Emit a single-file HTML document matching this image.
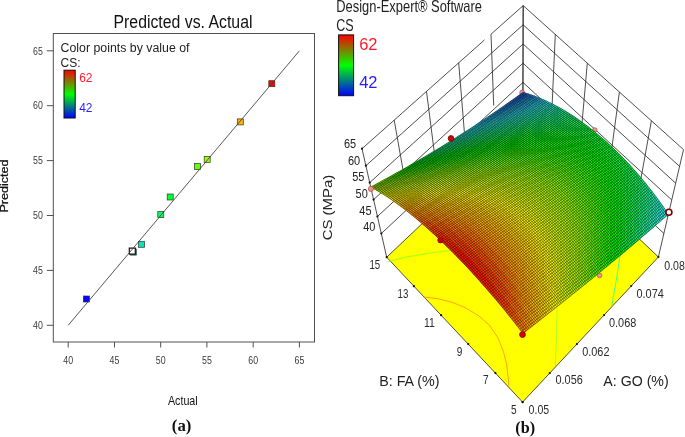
<!DOCTYPE html>
<html><head><meta charset="utf-8"><title>Predicted vs. Actual</title><style>html,body{margin:0;padding:0;background:#fff}svg{display:block}</style></head><body>
<svg width="685" height="437" viewBox="0 0 685 437">
<rect width="685" height="437" fill="#fff"/>
<rect x="53.3" y="33.5" width="261.2" height="308.5" fill="#fff" stroke="#505050" stroke-width="1"/>
<line x1="46.8" y1="325.3" x2="53.3" y2="325.3" stroke="#505050" stroke-width="1"/>
<text x="42.8" y="329.0" font-size="10.3" fill="#3a3a3a" text-anchor="end" font-family="Liberation Sans, Arial, sans-serif" textLength="9.8" lengthAdjust="spacingAndGlyphs" >40</text>
<line x1="68.2" y1="342" x2="68.2" y2="347.5" stroke="#505050" stroke-width="1"/>
<text x="68.2" y="364" font-size="10.3" fill="#3a3a3a" text-anchor="middle" font-family="Liberation Sans, Arial, sans-serif" textLength="9.8" lengthAdjust="spacingAndGlyphs" >40</text>
<line x1="46.8" y1="270.4" x2="53.3" y2="270.4" stroke="#505050" stroke-width="1"/>
<text x="42.8" y="274.09999999999997" font-size="10.3" fill="#3a3a3a" text-anchor="end" font-family="Liberation Sans, Arial, sans-serif" textLength="9.8" lengthAdjust="spacingAndGlyphs" >45</text>
<line x1="114.5" y1="342" x2="114.5" y2="347.5" stroke="#505050" stroke-width="1"/>
<text x="114.45" y="364" font-size="10.3" fill="#3a3a3a" text-anchor="middle" font-family="Liberation Sans, Arial, sans-serif" textLength="9.8" lengthAdjust="spacingAndGlyphs" >45</text>
<line x1="46.8" y1="215.5" x2="53.3" y2="215.5" stroke="#505050" stroke-width="1"/>
<text x="42.8" y="219.2" font-size="10.3" fill="#3a3a3a" text-anchor="end" font-family="Liberation Sans, Arial, sans-serif" textLength="9.8" lengthAdjust="spacingAndGlyphs" >50</text>
<line x1="160.7" y1="342" x2="160.7" y2="347.5" stroke="#505050" stroke-width="1"/>
<text x="160.7" y="364" font-size="10.3" fill="#3a3a3a" text-anchor="middle" font-family="Liberation Sans, Arial, sans-serif" textLength="9.8" lengthAdjust="spacingAndGlyphs" >50</text>
<line x1="46.8" y1="160.6" x2="53.3" y2="160.6" stroke="#505050" stroke-width="1"/>
<text x="42.8" y="164.29999999999998" font-size="10.3" fill="#3a3a3a" text-anchor="end" font-family="Liberation Sans, Arial, sans-serif" textLength="9.8" lengthAdjust="spacingAndGlyphs" >55</text>
<line x1="206.9" y1="342" x2="206.9" y2="347.5" stroke="#505050" stroke-width="1"/>
<text x="206.95" y="364" font-size="10.3" fill="#3a3a3a" text-anchor="middle" font-family="Liberation Sans, Arial, sans-serif" textLength="9.8" lengthAdjust="spacingAndGlyphs" >55</text>
<line x1="46.8" y1="105.7" x2="53.3" y2="105.7" stroke="#505050" stroke-width="1"/>
<text x="42.8" y="109.39999999999999" font-size="10.3" fill="#3a3a3a" text-anchor="end" font-family="Liberation Sans, Arial, sans-serif" textLength="9.8" lengthAdjust="spacingAndGlyphs" >60</text>
<line x1="253.2" y1="342" x2="253.2" y2="347.5" stroke="#505050" stroke-width="1"/>
<text x="253.2" y="364" font-size="10.3" fill="#3a3a3a" text-anchor="middle" font-family="Liberation Sans, Arial, sans-serif" textLength="9.8" lengthAdjust="spacingAndGlyphs" >60</text>
<line x1="46.8" y1="50.8" x2="53.3" y2="50.8" stroke="#505050" stroke-width="1"/>
<text x="42.8" y="54.500000000000014" font-size="10.3" fill="#3a3a3a" text-anchor="end" font-family="Liberation Sans, Arial, sans-serif" textLength="9.8" lengthAdjust="spacingAndGlyphs" >65</text>
<line x1="299.4" y1="342" x2="299.4" y2="347.5" stroke="#505050" stroke-width="1"/>
<text x="299.45" y="364" font-size="10.3" fill="#3a3a3a" text-anchor="middle" font-family="Liberation Sans, Arial, sans-serif" textLength="9.8" lengthAdjust="spacingAndGlyphs" >65</text>
<text x="183" y="27.5" font-size="17.5" fill="#111" text-anchor="middle" font-family="Liberation Sans, Arial, sans-serif" textLength="139" lengthAdjust="spacingAndGlyphs" >Predicted vs. Actual</text>
<text x="60.5" y="52.2" font-size="12.5" fill="#222" text-anchor="start" font-family="Liberation Sans, Arial, sans-serif" textLength="129" lengthAdjust="spacingAndGlyphs" >Color points by value of</text>
<text x="60.5" y="66.9" font-size="12.5" fill="#222" text-anchor="start" font-family="Liberation Sans, Arial, sans-serif" textLength="20" lengthAdjust="spacingAndGlyphs" >CS:</text>
<defs><linearGradient id="lg" x1="0" y1="0" x2="0" y2="1"><stop offset="0" stop-color="#ff0000"/><stop offset="0.5" stop-color="#00ff00"/><stop offset="1" stop-color="#0000ff"/></linearGradient></defs>
<rect x="64" y="70.2" width="11.2" height="47.8" fill="url(#lg)" stroke="#111" stroke-width="1"/>
<text x="79.2" y="81.9" font-size="12.2" fill="#ff1a2a" text-anchor="start" font-family="Liberation Sans, Arial, sans-serif" textLength="13.3" lengthAdjust="spacingAndGlyphs" >62</text>
<text x="79.2" y="111.8" font-size="12.2" fill="#2a1aff" text-anchor="start" font-family="Liberation Sans, Arial, sans-serif" textLength="13.3" lengthAdjust="spacingAndGlyphs" >42</text>
<rect x="83.4" y="296.0" width="6" height="6" fill="#0000ff" stroke="#333" stroke-width="0.7"/>
<rect x="130.3" y="249.1" width="6" height="6" fill="#00b4b4" stroke="#333" stroke-width="0.7"/>
<rect x="138.6" y="241.3" width="6" height="6" fill="#00e6b4" stroke="#333" stroke-width="0.7"/>
<rect x="157.8" y="211.6" width="6" height="6" fill="#00ff66" stroke="#333" stroke-width="0.7"/>
<rect x="167.2" y="194.0" width="6" height="6" fill="#00ff33" stroke="#333" stroke-width="0.7"/>
<rect x="194.5" y="163.6" width="6" height="6" fill="#66ff00" stroke="#333" stroke-width="0.7"/>
<rect x="204.2" y="156.6" width="6" height="6" fill="#99ff00" stroke="#333" stroke-width="0.7"/>
<rect x="237.3" y="118.9" width="6" height="6" fill="#ffb300" stroke="#333" stroke-width="0.7"/>
<rect x="268.8" y="80.7" width="6" height="6" fill="#ff0000" stroke="#333" stroke-width="0.7"/>
<rect x="129.3" y="248.1" width="6" height="6" fill="#fff" stroke="#111" stroke-width="1.2"/>
<line x1="68.2" y1="325.3" x2="299.4" y2="50.8" stroke="#444" stroke-width="0.9"/>
<text x="182.8" y="404.8" font-size="12.4" fill="#111" text-anchor="middle" font-family="Liberation Sans, Arial, sans-serif" textLength="29.8" lengthAdjust="spacingAndGlyphs" >Actual</text>
<text transform="translate(7.7,186) rotate(-90) scale(1,0.86)" font-size="12.4" fill="#111" stroke="#111" stroke-width="0.3" text-anchor="middle" font-family="Liberation Sans, Arial, sans-serif" textLength="53.2" lengthAdjust="spacingAndGlyphs">Predicted</text>
<text x="181.6" y="430.6" font-size="16.8" fill="#111" text-anchor="middle" font-family="Liberation Serif, Times New Roman, serif" font-weight="bold" >(a)</text>
<text x="336.3" y="12.1" font-size="16.5" fill="#222" text-anchor="start" font-family="Liberation Sans, Arial, sans-serif" textLength="145.7" lengthAdjust="spacingAndGlyphs" >Design-Expert® Software</text>
<text x="336.3" y="31" font-size="16.5" fill="#222" text-anchor="start" font-family="Liberation Sans, Arial, sans-serif" textLength="17.4" lengthAdjust="spacingAndGlyphs" >CS</text>
<rect x="338.6" y="34.9" width="15" height="60.8" fill="url(#lg)" stroke="#111" stroke-width="1"/>
<text x="359.2" y="49.5" font-size="16" fill="#ff1a2a" text-anchor="start" font-family="Liberation Sans, Arial, sans-serif" textLength="18.3" lengthAdjust="spacingAndGlyphs" >62</text>
<text x="359.2" y="87.6" font-size="16" fill="#2a1aff" text-anchor="start" font-family="Liberation Sans, Arial, sans-serif" textLength="18.3" lengthAdjust="spacingAndGlyphs" >42</text>
<line x1="381.3" y1="233.5" x2="522.9" y2="101.6" stroke="#222" stroke-width="0.8"/>
<line x1="522.9" y1="101.6" x2="663.9" y2="233.5" stroke="#222" stroke-width="0.8"/>
<line x1="377.4" y1="216.5" x2="523.0" y2="82.4" stroke="#222" stroke-width="0.8"/>
<line x1="523.0" y1="82.4" x2="667.8" y2="216.7" stroke="#222" stroke-width="0.8"/>
<line x1="373.6" y1="199.6" x2="523.0" y2="63.2" stroke="#222" stroke-width="0.8"/>
<line x1="523.0" y1="63.2" x2="671.7" y2="199.9" stroke="#222" stroke-width="0.8"/>
<line x1="369.7" y1="182.6" x2="523.1" y2="44.0" stroke="#222" stroke-width="0.8"/>
<line x1="523.1" y1="44.0" x2="675.7" y2="183.2" stroke="#222" stroke-width="0.8"/>
<line x1="365.9" y1="165.7" x2="523.1" y2="24.8" stroke="#222" stroke-width="0.8"/>
<line x1="523.1" y1="24.8" x2="679.6" y2="166.4" stroke="#222" stroke-width="0.8"/>
<line x1="362.0" y1="148.7" x2="484.5" y2="39.9" stroke="#222" stroke-width="0.8"/>
<line x1="491.0" y1="34.2" x2="523.2" y2="5.6" stroke="#222" stroke-width="0.8"/>
<line x1="523.2" y1="5.6" x2="683.5" y2="149.6" stroke="#222" stroke-width="0.8"/>
<line x1="386.7" y1="257.2" x2="362.0" y2="148.7" stroke="#222" stroke-width="0.8"/>
<line x1="658.4" y1="257.0" x2="683.5" y2="149.6" stroke="#222" stroke-width="0.8"/>
<line x1="405.9" y1="186.2" x2="394.2" y2="120.1" stroke="#222" stroke-width="0.8"/>
<line x1="639.5" y1="186.4" x2="651.4" y2="120.8" stroke="#222" stroke-width="0.8"/>
<line x1="435.2" y1="159.3" x2="426.5" y2="91.5" stroke="#222" stroke-width="0.8"/>
<line x1="610.3" y1="159.4" x2="619.4" y2="92.0" stroke="#222" stroke-width="0.8"/>
<line x1="464.4" y1="132.4" x2="458.7" y2="62.8" stroke="#222" stroke-width="0.8"/>
<line x1="581.2" y1="132.5" x2="587.3" y2="63.2" stroke="#222" stroke-width="0.8"/>
<line x1="493.7" y1="105.5" x2="491.0" y2="34.2" stroke="#222" stroke-width="0.8"/>
<line x1="552.1" y1="105.5" x2="555.3" y2="34.4" stroke="#222" stroke-width="0.8"/>
<line x1="522.8" y1="128.5" x2="523.2" y2="5.6" stroke="#222" stroke-width="0.8"/>
<line x1="522.8" y1="128.5" x2="523.2" y2="5.6" stroke="#222" stroke-width="0.8"/>
<polygon points="522.6,402.1 658.4,257.0 522.8,128.5 386.7,257.2" fill="#ffff00" stroke="#222" stroke-width="0.8"/>
<polyline points="423.7,297.0 437.5,298.7 451.2,302.0 464.9,307.5 478.6,315.7 489.6,325.3 497.9,337.7 503.4,351.4 506.7,365.1 508.3,378.9 508.9,386.5" fill="none" stroke="#ff9a1a" stroke-width="0.9"/>
<polyline points="388.3,261.6 407.4,256.8 428.0,253.4 450.0,250.4 462.0,249.0" fill="none" stroke="#96ff1a" stroke-width="0.9"/>
<polyline points="557.7,298.0 557.2,309.4 556.5,335.0 555.4,366.0" fill="none" stroke="#a0ff30" stroke-width="0.9"/>
<polyline points="620.6,250.0 619.6,258.5 616.0,282.0 611.6,306.8" fill="none" stroke="#40ff80" stroke-width="0.9"/>
<circle cx="522.6" cy="402.1" r="1.1" fill="#111"/>
<circle cx="522.6" cy="402.1" r="1.1" fill="#111"/>
<circle cx="495.4" cy="373.1" r="1.1" fill="#111"/>
<circle cx="549.8" cy="373.1" r="1.1" fill="#111"/>
<circle cx="468.2" cy="344.1" r="1.1" fill="#111"/>
<circle cx="576.9" cy="344.1" r="1.1" fill="#111"/>
<circle cx="441.1" cy="315.2" r="1.1" fill="#111"/>
<circle cx="604.1" cy="315.0" r="1.1" fill="#111"/>
<circle cx="413.9" cy="286.2" r="1.1" fill="#111"/>
<circle cx="631.2" cy="286.0" r="1.1" fill="#111"/>
<circle cx="386.7" cy="257.2" r="1.1" fill="#111"/>
<circle cx="658.4" cy="257.0" r="1.1" fill="#111"/>
<circle cx="381.3" cy="233.5" r="1.1" fill="#111"/>
<circle cx="377.4" cy="216.5" r="1.1" fill="#111"/>
<circle cx="373.6" cy="199.6" r="1.1" fill="#111"/>
<circle cx="369.7" cy="182.6" r="1.1" fill="#111"/>
<circle cx="365.9" cy="165.7" r="1.1" fill="#111"/>
<circle cx="362.0" cy="148.7" r="1.1" fill="#111"/>
<circle cx="522.2" cy="92.6" r="2.5" fill="#ee9090" stroke="#a04040" stroke-width="0.6"/>
<circle cx="594.8" cy="130.0" r="2.3" fill="#ee9090" stroke="#a04040" stroke-width="0.6"/>
<circle cx="599.6" cy="275.4" r="2.4" fill="#ee9090" stroke="#a04040" stroke-width="0.6"/>
<polygon points="522.9,333.4 529.2,328.5 522.9,320.4 516.6,325.2" fill="#ff8400" stroke="#ff8400" stroke-width="0.6"/>
<polygon points="516.6,325.2 522.9,320.4 516.6,312.4 510.3,317.2" fill="#ff6b00" stroke="#ff6b00" stroke-width="0.6"/>
<polygon points="510.3,317.2 516.6,312.4 510.3,304.6 504.0,309.3" fill="#ff5600" stroke="#ff5600" stroke-width="0.6"/>
<polygon points="504.0,309.3 510.3,304.6 504.0,297.0 497.6,301.6" fill="#ff4300" stroke="#ff4300" stroke-width="0.6"/>
<polygon points="497.6,301.6 504.0,297.0 497.6,289.4 491.2,294.1" fill="#ff3400" stroke="#ff3400" stroke-width="0.6"/>
<polygon points="491.2,294.1 497.6,289.4 491.3,282.1 484.8,286.7" fill="#ff2800" stroke="#ff2800" stroke-width="0.6"/>
<polygon points="484.8,286.7 491.3,282.1 484.9,274.9 478.4,279.5" fill="#ff1f00" stroke="#ff1f00" stroke-width="0.6"/>
<polygon points="478.4,279.5 484.9,274.9 478.6,268.0 472.1,272.5" fill="#ff1a00" stroke="#ff1a00" stroke-width="0.6"/>
<polygon points="472.1,272.5 478.6,268.0 472.2,261.2 465.7,265.6" fill="#ff1700" stroke="#ff1700" stroke-width="0.6"/>
<polygon points="465.7,265.6 472.2,261.2 465.9,254.6 459.3,259.0" fill="#ff1700" stroke="#ff1700" stroke-width="0.6"/>
<polygon points="459.3,259.0 465.9,254.6 459.6,248.2 453.0,252.5" fill="#ff1b00" stroke="#ff1b00" stroke-width="0.6"/>
<polygon points="453.0,252.5 459.6,248.2 453.3,242.0 446.7,246.3" fill="#ff2200" stroke="#ff2200" stroke-width="0.6"/>
<polygon points="446.7,246.3 453.3,242.0 447.1,236.0 440.5,240.2" fill="#ff2c00" stroke="#ff2c00" stroke-width="0.6"/>
<polygon points="440.5,240.2 447.1,236.0 440.9,230.3 434.3,234.4" fill="#ff3900" stroke="#ff3900" stroke-width="0.6"/>
<polygon points="434.3,234.4 440.9,230.3 434.7,224.7 428.1,228.8" fill="#ff4900" stroke="#ff4900" stroke-width="0.6"/>
<polygon points="428.1,228.8 434.7,224.7 428.6,219.4 422.0,223.5" fill="#ff5d00" stroke="#ff5d00" stroke-width="0.6"/>
<polygon points="422.0,223.5 428.6,219.4 422.6,214.4 416.0,218.4" fill="#ff7300" stroke="#ff7300" stroke-width="0.6"/>
<polygon points="416.0,218.4 422.6,214.4 416.6,209.6 410.0,213.5" fill="#ff8d00" stroke="#ff8d00" stroke-width="0.6"/>
<polygon points="410.0,213.5 416.6,209.6 410.7,205.1 404.1,208.9" fill="#fea400" stroke="#fea400" stroke-width="0.6"/>
<polygon points="404.1,208.9 410.7,205.1 404.9,200.8 398.3,204.6" fill="#fdb900" stroke="#fdb900" stroke-width="0.6"/>
<polygon points="398.3,204.6 404.9,200.8 399.2,196.8 392.6,200.5" fill="#fcd100" stroke="#fcd100" stroke-width="0.6"/>
<polygon points="392.6,200.5 399.2,196.8 393.5,193.0 387.0,196.7" fill="#fbeb00" stroke="#fbeb00" stroke-width="0.6"/>
<polygon points="387.0,196.7 393.5,193.0 388.0,189.6 381.4,193.2" fill="#e7f400" stroke="#e7f400" stroke-width="0.6"/>
<polygon points="381.4,193.2 388.0,189.6 382.6,186.4 376.0,190.0" fill="#c7f300" stroke="#c7f300" stroke-width="0.6"/>
<polygon points="376.0,190.0 382.6,186.4 377.3,183.5 370.7,187.0" fill="#a4f200" stroke="#a4f200" stroke-width="0.6"/>
<polygon points="529.2,328.5 535.4,323.7 529.1,315.6 522.9,320.4" fill="#fea000" stroke="#fea000" stroke-width="0.6"/>
<polygon points="522.9,320.4 529.1,315.6 522.9,307.7 516.6,312.4" fill="#ff8c00" stroke="#ff8c00" stroke-width="0.6"/>
<polygon points="516.6,312.4 522.9,307.7 516.6,299.9 510.3,304.6" fill="#ff7600" stroke="#ff7600" stroke-width="0.6"/>
<polygon points="510.3,304.6 516.6,299.9 510.3,292.3 504.0,297.0" fill="#ff6400" stroke="#ff6400" stroke-width="0.6"/>
<polygon points="504.0,297.0 510.3,292.3 504.0,284.8 497.6,289.4" fill="#ff5400" stroke="#ff5400" stroke-width="0.6"/>
<polygon points="497.6,289.4 504.0,284.8 497.7,277.5 491.3,282.1" fill="#ff4800" stroke="#ff4800" stroke-width="0.6"/>
<polygon points="491.3,282.1 497.7,277.5 491.3,270.4 484.9,274.9" fill="#ff3f00" stroke="#ff3f00" stroke-width="0.6"/>
<polygon points="484.9,274.9 491.3,270.4 485.0,263.5 478.6,268.0" fill="#ff3900" stroke="#ff3900" stroke-width="0.6"/>
<polygon points="478.6,268.0 485.0,263.5 478.7,256.7 472.2,261.2" fill="#ff3600" stroke="#ff3600" stroke-width="0.6"/>
<polygon points="472.2,261.2 478.7,256.7 472.4,250.2 465.9,254.6" fill="#ff3600" stroke="#ff3600" stroke-width="0.6"/>
<polygon points="465.9,254.6 472.4,250.2 466.1,243.8 459.6,248.2" fill="#ff3a00" stroke="#ff3a00" stroke-width="0.6"/>
<polygon points="459.6,248.2 466.1,243.8 459.8,237.7 453.3,242.0" fill="#ff4000" stroke="#ff4000" stroke-width="0.6"/>
<polygon points="453.3,242.0 459.8,237.7 453.6,231.8 447.1,236.0" fill="#ff4a00" stroke="#ff4a00" stroke-width="0.6"/>
<polygon points="447.1,236.0 453.6,231.8 447.4,226.1 440.9,230.3" fill="#ff5700" stroke="#ff5700" stroke-width="0.6"/>
<polygon points="440.9,230.3 447.4,226.1 441.3,220.6 434.7,224.7" fill="#ff6700" stroke="#ff6700" stroke-width="0.6"/>
<polygon points="434.7,224.7 441.3,220.6 435.2,215.4 428.6,219.4" fill="#ff7a00" stroke="#ff7a00" stroke-width="0.6"/>
<polygon points="428.6,219.4 435.2,215.4 429.1,210.4 422.6,214.4" fill="#ff9100" stroke="#ff9100" stroke-width="0.6"/>
<polygon points="422.6,214.4 429.1,210.4 423.2,205.7 416.6,209.6" fill="#fea400" stroke="#fea400" stroke-width="0.6"/>
<polygon points="416.6,209.6 423.2,205.7 417.3,201.2 410.7,205.1" fill="#fdb700" stroke="#fdb700" stroke-width="0.6"/>
<polygon points="410.7,205.1 417.3,201.2 411.5,197.0 404.9,200.8" fill="#fccd00" stroke="#fccd00" stroke-width="0.6"/>
<polygon points="404.9,200.8 411.5,197.0 405.7,193.0 399.2,196.8" fill="#fbe500" stroke="#fbe500" stroke-width="0.6"/>
<polygon points="399.2,196.8 405.7,193.0 400.1,189.3 393.5,193.0" fill="#f0f500" stroke="#f0f500" stroke-width="0.6"/>
<polygon points="393.5,193.0 400.1,189.3 394.5,185.9 388.0,189.6" fill="#d2f400" stroke="#d2f400" stroke-width="0.6"/>
<polygon points="388.0,189.6 394.5,185.9 389.1,182.8 382.6,186.4" fill="#b3f300" stroke="#b3f300" stroke-width="0.6"/>
<polygon points="382.6,186.4 389.1,182.8 383.7,180.0 377.3,183.5" fill="#8ef200" stroke="#8ef200" stroke-width="0.6"/>
<polygon points="535.4,323.7 541.5,318.9 535.3,310.9 529.1,315.6" fill="#fdb600" stroke="#fdb600" stroke-width="0.6"/>
<polygon points="529.1,315.6 535.3,310.9 529.1,303.0 522.9,307.7" fill="#fea500" stroke="#fea500" stroke-width="0.6"/>
<polygon points="522.9,307.7 529.1,303.0 522.9,295.2 516.6,299.9" fill="#ff9600" stroke="#ff9600" stroke-width="0.6"/>
<polygon points="516.6,299.9 522.9,295.2 516.6,287.6 510.3,292.3" fill="#ff8300" stroke="#ff8300" stroke-width="0.6"/>
<polygon points="510.3,292.3 516.6,287.6 510.3,280.2 504.0,284.8" fill="#ff7400" stroke="#ff7400" stroke-width="0.6"/>
<polygon points="504.0,284.8 510.3,280.2 504.0,272.9 497.7,277.5" fill="#ff6700" stroke="#ff6700" stroke-width="0.6"/>
<polygon points="497.7,277.5 504.0,272.9 497.7,265.9 491.3,270.4" fill="#ff5e00" stroke="#ff5e00" stroke-width="0.6"/>
<polygon points="491.3,270.4 497.7,265.9 491.4,259.0 485.0,263.5" fill="#ff5800" stroke="#ff5800" stroke-width="0.6"/>
<polygon points="485.0,263.5 491.4,259.0 485.1,252.3 478.7,256.7" fill="#ff5500" stroke="#ff5500" stroke-width="0.6"/>
<polygon points="478.7,256.7 485.1,252.3 478.8,245.8 472.4,250.2" fill="#ff5500" stroke="#ff5500" stroke-width="0.6"/>
<polygon points="472.4,250.2 478.8,245.8 472.5,239.5 466.1,243.8" fill="#ff5800" stroke="#ff5800" stroke-width="0.6"/>
<polygon points="466.1,243.8 472.5,239.5 466.3,233.4 459.8,237.7" fill="#ff5e00" stroke="#ff5e00" stroke-width="0.6"/>
<polygon points="459.8,237.7 466.3,233.4 460.1,227.5 453.6,231.8" fill="#ff6800" stroke="#ff6800" stroke-width="0.6"/>
<polygon points="453.6,231.8 460.1,227.5 453.9,221.9 447.4,226.1" fill="#ff7500" stroke="#ff7500" stroke-width="0.6"/>
<polygon points="447.4,226.1 453.9,221.9 447.8,216.5 441.3,220.6" fill="#ff8400" stroke="#ff8400" stroke-width="0.6"/>
<polygon points="441.3,220.6 447.8,216.5 441.7,211.3 435.2,215.4" fill="#ff9700" stroke="#ff9700" stroke-width="0.6"/>
<polygon points="435.2,215.4 441.7,211.3 435.6,206.4 429.1,210.4" fill="#fea600" stroke="#fea600" stroke-width="0.6"/>
<polygon points="429.1,210.4 435.6,206.4 429.7,201.7 423.2,205.7" fill="#fdb700" stroke="#fdb700" stroke-width="0.6"/>
<polygon points="423.2,205.7 429.7,201.7 423.8,197.3 417.3,201.2" fill="#fccb00" stroke="#fccb00" stroke-width="0.6"/>
<polygon points="417.3,201.2 423.8,197.3 418.0,193.1 411.5,197.0" fill="#fbe000" stroke="#fbe000" stroke-width="0.6"/>
<polygon points="411.5,197.0 418.0,193.1 412.2,189.2 405.7,193.0" fill="#f7f500" stroke="#f7f500" stroke-width="0.6"/>
<polygon points="405.7,193.0 412.2,189.2 406.6,185.6 400.1,189.3" fill="#dcf400" stroke="#dcf400" stroke-width="0.6"/>
<polygon points="400.1,189.3 406.6,185.6 401.0,182.3 394.5,185.9" fill="#bff300" stroke="#bff300" stroke-width="0.6"/>
<polygon points="394.5,185.9 401.0,182.3 395.5,179.2 389.1,182.8" fill="#9ff200" stroke="#9ff200" stroke-width="0.6"/>
<polygon points="389.1,182.8 395.5,179.2 390.2,176.5 383.7,180.0" fill="#71f200" stroke="#71f200" stroke-width="0.6"/>
<polygon points="541.5,318.9 547.6,314.1 541.5,306.1 535.3,310.9" fill="#fccb00" stroke="#fccb00" stroke-width="0.6"/>
<polygon points="535.3,310.9 541.5,306.1 535.3,298.2 529.1,303.0" fill="#fdba00" stroke="#fdba00" stroke-width="0.6"/>
<polygon points="529.1,303.0 535.3,298.2 529.1,290.5 522.9,295.2" fill="#feab00" stroke="#feab00" stroke-width="0.6"/>
<polygon points="522.9,295.2 529.1,290.5 522.9,283.0 516.6,287.6" fill="#ff9e00" stroke="#ff9e00" stroke-width="0.6"/>
<polygon points="516.6,287.6 522.9,283.0 516.6,275.6 510.3,280.2" fill="#ff9200" stroke="#ff9200" stroke-width="0.6"/>
<polygon points="510.3,280.2 516.6,275.6 510.3,268.4 504.0,272.9" fill="#ff8600" stroke="#ff8600" stroke-width="0.6"/>
<polygon points="504.0,272.9 510.3,268.4 504.1,261.3 497.7,265.9" fill="#ff7c00" stroke="#ff7c00" stroke-width="0.6"/>
<polygon points="497.7,265.9 504.1,261.3 497.8,254.5 491.4,259.0" fill="#ff7600" stroke="#ff7600" stroke-width="0.6"/>
<polygon points="491.4,259.0 497.8,254.5 491.5,247.8 485.1,252.3" fill="#ff7200" stroke="#ff7200" stroke-width="0.6"/>
<polygon points="485.1,252.3 491.5,247.8 485.2,241.4 478.8,245.8" fill="#ff7200" stroke="#ff7200" stroke-width="0.6"/>
<polygon points="478.8,245.8 485.2,241.4 479.0,235.2 472.5,239.5" fill="#ff7500" stroke="#ff7500" stroke-width="0.6"/>
<polygon points="472.5,239.5 479.0,235.2 472.7,229.1 466.3,233.4" fill="#ff7c00" stroke="#ff7c00" stroke-width="0.6"/>
<polygon points="466.3,233.4 472.7,229.1 466.5,223.3 460.1,227.5" fill="#ff8500" stroke="#ff8500" stroke-width="0.6"/>
<polygon points="460.1,227.5 466.5,223.3 460.4,217.7 453.9,221.9" fill="#ff9100" stroke="#ff9100" stroke-width="0.6"/>
<polygon points="453.9,221.9 460.4,217.7 454.2,212.4 447.8,216.5" fill="#ff9e00" stroke="#ff9e00" stroke-width="0.6"/>
<polygon points="447.8,216.5 454.2,212.4 448.1,207.3 441.7,211.3" fill="#feaa00" stroke="#feaa00" stroke-width="0.6"/>
<polygon points="441.7,211.3 448.1,207.3 442.1,202.4 435.6,206.4" fill="#fdb900" stroke="#fdb900" stroke-width="0.6"/>
<polygon points="435.6,206.4 442.1,202.4 436.1,197.8 429.7,201.7" fill="#fcca00" stroke="#fcca00" stroke-width="0.6"/>
<polygon points="429.7,201.7 436.1,197.8 430.2,193.4 423.8,197.3" fill="#fbdd00" stroke="#fbdd00" stroke-width="0.6"/>
<polygon points="423.8,197.3 430.2,193.4 424.4,189.3 418.0,193.1" fill="#faf300" stroke="#faf300" stroke-width="0.6"/>
<polygon points="418.0,193.1 424.4,189.3 418.7,185.5 412.2,189.2" fill="#e4f400" stroke="#e4f400" stroke-width="0.6"/>
<polygon points="412.2,189.2 418.7,185.5 413.0,181.9 406.6,185.6" fill="#c9f400" stroke="#c9f400" stroke-width="0.6"/>
<polygon points="406.6,185.6 413.0,181.9 407.4,178.6 401.0,182.3" fill="#acf300" stroke="#acf300" stroke-width="0.6"/>
<polygon points="401.0,182.3 407.4,178.6 402.0,175.6 395.5,179.2" fill="#87f200" stroke="#87f200" stroke-width="0.6"/>
<polygon points="395.5,179.2 402.0,175.6 396.6,172.9 390.2,176.5" fill="#55f100" stroke="#55f100" stroke-width="0.6"/>
<polygon points="547.6,314.1 553.7,309.3 547.6,301.3 541.5,306.1" fill="#fbe100" stroke="#fbe100" stroke-width="0.6"/>
<polygon points="541.5,306.1 547.6,301.3 541.5,293.5 535.3,298.2" fill="#fccf00" stroke="#fccf00" stroke-width="0.6"/>
<polygon points="535.3,298.2 541.5,293.5 535.3,285.8 529.1,290.5" fill="#fdc000" stroke="#fdc000" stroke-width="0.6"/>
<polygon points="529.1,290.5 535.3,285.8 529.1,278.3 522.9,283.0" fill="#fdb300" stroke="#fdb300" stroke-width="0.6"/>
<polygon points="522.9,283.0 529.1,278.3 522.9,271.0 516.6,275.6" fill="#fea800" stroke="#fea800" stroke-width="0.6"/>
<polygon points="516.6,275.6 522.9,271.0 516.6,263.8 510.3,268.4" fill="#ff9f00" stroke="#ff9f00" stroke-width="0.6"/>
<polygon points="510.3,268.4 516.6,263.8 510.4,256.8 504.1,261.3" fill="#ff9900" stroke="#ff9900" stroke-width="0.6"/>
<polygon points="504.1,261.3 510.4,256.8 504.1,250.0 497.8,254.5" fill="#ff9300" stroke="#ff9300" stroke-width="0.6"/>
<polygon points="497.8,254.5 504.1,250.0 497.8,243.4 491.5,247.8" fill="#ff9000" stroke="#ff9000" stroke-width="0.6"/>
<polygon points="491.5,247.8 497.8,243.4 491.6,237.0 485.2,241.4" fill="#ff9000" stroke="#ff9000" stroke-width="0.6"/>
<polygon points="485.2,241.4 491.6,237.0 485.3,230.8 479.0,235.2" fill="#ff9200" stroke="#ff9200" stroke-width="0.6"/>
<polygon points="479.0,235.2 485.3,230.8 479.1,224.8 472.7,229.1" fill="#ff9800" stroke="#ff9800" stroke-width="0.6"/>
<polygon points="472.7,229.1 479.1,224.8 472.9,219.1 466.5,223.3" fill="#ff9e00" stroke="#ff9e00" stroke-width="0.6"/>
<polygon points="466.5,223.3 472.9,219.1 466.8,213.5 460.4,217.7" fill="#fea600" stroke="#fea600" stroke-width="0.6"/>
<polygon points="460.4,217.7 466.8,213.5 460.6,208.2 454.2,212.4" fill="#feb100" stroke="#feb100" stroke-width="0.6"/>
<polygon points="454.2,212.4 460.6,208.2 454.6,203.2 448.1,207.3" fill="#fdbd00" stroke="#fdbd00" stroke-width="0.6"/>
<polygon points="448.1,207.3 454.6,203.2 448.5,198.4 442.1,202.4" fill="#fccc00" stroke="#fccc00" stroke-width="0.6"/>
<polygon points="442.1,202.4 448.5,198.4 442.6,193.8 436.1,197.8" fill="#fbdd00" stroke="#fbdd00" stroke-width="0.6"/>
<polygon points="436.1,197.8 442.6,193.8 436.7,189.5 430.2,193.4" fill="#faf000" stroke="#faf000" stroke-width="0.6"/>
<polygon points="430.2,193.4 436.7,189.5 430.8,185.4 424.4,189.3" fill="#e9f400" stroke="#e9f400" stroke-width="0.6"/>
<polygon points="424.4,189.3 430.8,185.4 425.1,181.7 418.7,185.5" fill="#d1f400" stroke="#d1f400" stroke-width="0.6"/>
<polygon points="418.7,185.5 425.1,181.7 419.4,178.2 413.0,181.9" fill="#b6f300" stroke="#b6f300" stroke-width="0.6"/>
<polygon points="413.0,181.9 419.4,178.2 413.8,174.9 407.4,178.6" fill="#99f200" stroke="#99f200" stroke-width="0.6"/>
<polygon points="407.4,178.6 413.8,174.9 408.3,172.0 402.0,175.6" fill="#6bf100" stroke="#6bf100" stroke-width="0.6"/>
<polygon points="402.0,175.6 408.3,172.0 403.0,169.4 396.6,172.9" fill="#39f100" stroke="#39f100" stroke-width="0.6"/>
<polygon points="553.7,309.3 559.7,304.6 553.7,296.6 547.6,301.3" fill="#faf500" stroke="#faf500" stroke-width="0.6"/>
<polygon points="547.6,301.3 553.7,296.6 547.6,288.8 541.5,293.5" fill="#fbe400" stroke="#fbe400" stroke-width="0.6"/>
<polygon points="541.5,293.5 547.6,288.8 541.4,281.1 535.3,285.8" fill="#fcd500" stroke="#fcd500" stroke-width="0.6"/>
<polygon points="535.3,285.8 541.4,281.1 535.3,273.7 529.1,278.3" fill="#fcc700" stroke="#fcc700" stroke-width="0.6"/>
<polygon points="529.1,278.3 535.3,273.7 529.1,266.4 522.9,271.0" fill="#fdbc00" stroke="#fdbc00" stroke-width="0.6"/>
<polygon points="522.9,271.0 529.1,266.4 522.9,259.2 516.6,263.8" fill="#fdb300" stroke="#fdb300" stroke-width="0.6"/>
<polygon points="516.6,263.8 522.9,259.2 516.6,252.3 510.4,256.8" fill="#fead00" stroke="#fead00" stroke-width="0.6"/>
<polygon points="510.4,256.8 516.6,252.3 510.4,245.5 504.1,250.0" fill="#fea800" stroke="#fea800" stroke-width="0.6"/>
<polygon points="504.1,250.0 510.4,245.5 504.1,239.0 497.8,243.4" fill="#fea500" stroke="#fea500" stroke-width="0.6"/>
<polygon points="497.8,243.4 504.1,239.0 497.9,232.6 491.6,237.0" fill="#fea500" stroke="#fea500" stroke-width="0.6"/>
<polygon points="491.6,237.0 497.9,232.6 491.7,226.5 485.3,230.8" fill="#fea700" stroke="#fea700" stroke-width="0.6"/>
<polygon points="485.3,230.8 491.7,226.5 485.5,220.5 479.1,224.8" fill="#feab00" stroke="#feab00" stroke-width="0.6"/>
<polygon points="479.1,224.8 485.5,220.5 479.3,214.8 472.9,219.1" fill="#feb100" stroke="#feb100" stroke-width="0.6"/>
<polygon points="472.9,219.1 479.3,214.8 473.1,209.3 466.8,213.5" fill="#fdb900" stroke="#fdb900" stroke-width="0.6"/>
<polygon points="466.8,213.5 473.1,209.3 467.0,204.1 460.6,208.2" fill="#fdc300" stroke="#fdc300" stroke-width="0.6"/>
<polygon points="460.6,208.2 467.0,204.1 461.0,199.1 454.6,203.2" fill="#fcd000" stroke="#fcd000" stroke-width="0.6"/>
<polygon points="454.6,203.2 461.0,199.1 454.9,194.3 448.5,198.4" fill="#fbde00" stroke="#fbde00" stroke-width="0.6"/>
<polygon points="448.5,198.4 454.9,194.3 449.0,189.8 442.6,193.8" fill="#faef00" stroke="#faef00" stroke-width="0.6"/>
<polygon points="442.6,193.8 449.0,189.8 443.1,185.5 436.7,189.5" fill="#ecf500" stroke="#ecf500" stroke-width="0.6"/>
<polygon points="436.7,189.5 443.1,185.5 437.2,181.6 430.8,185.4" fill="#d6f400" stroke="#d6f400" stroke-width="0.6"/>
<polygon points="430.8,185.4 437.2,181.6 431.5,177.8 425.1,181.7" fill="#bef300" stroke="#bef300" stroke-width="0.6"/>
<polygon points="425.1,181.7 431.5,177.8 425.8,174.4 419.4,178.2" fill="#a3f200" stroke="#a3f200" stroke-width="0.6"/>
<polygon points="419.4,178.2 425.8,174.4 420.2,171.2 413.8,174.9" fill="#7ef200" stroke="#7ef200" stroke-width="0.6"/>
<polygon points="413.8,174.9 420.2,171.2 414.7,168.4 408.3,172.0" fill="#50f100" stroke="#50f100" stroke-width="0.6"/>
<polygon points="408.3,172.0 414.7,168.4 409.3,165.8 403.0,169.4" fill="#1ef000" stroke="#1ef000" stroke-width="0.6"/>
<polygon points="559.7,304.6 565.7,299.8 559.7,291.9 553.7,296.6" fill="#e4f400" stroke="#e4f400" stroke-width="0.6"/>
<polygon points="553.7,296.6 559.7,291.9 553.6,284.1 547.6,288.8" fill="#f7f500" stroke="#f7f500" stroke-width="0.6"/>
<polygon points="547.6,288.8 553.6,284.1 547.5,276.5 541.4,281.1" fill="#fbe900" stroke="#fbe900" stroke-width="0.6"/>
<polygon points="541.4,281.1 547.5,276.5 541.4,269.0 535.3,273.7" fill="#fbdb00" stroke="#fbdb00" stroke-width="0.6"/>
<polygon points="535.3,273.7 541.4,269.0 535.2,261.7 529.1,266.4" fill="#fcd000" stroke="#fcd000" stroke-width="0.6"/>
<polygon points="529.1,266.4 535.2,261.7 529.0,254.7 522.9,259.2" fill="#fcc700" stroke="#fcc700" stroke-width="0.6"/>
<polygon points="522.9,259.2 529.0,254.7 522.8,247.7 516.6,252.3" fill="#fdc000" stroke="#fdc000" stroke-width="0.6"/>
<polygon points="516.6,252.3 522.8,247.7 516.6,241.0 510.4,245.5" fill="#fdbb00" stroke="#fdbb00" stroke-width="0.6"/>
<polygon points="510.4,245.5 516.6,241.0 510.4,234.5 504.1,239.0" fill="#fdb900" stroke="#fdb900" stroke-width="0.6"/>
<polygon points="504.1,239.0 510.4,234.5 504.2,228.2 497.9,232.6" fill="#fdb800" stroke="#fdb800" stroke-width="0.6"/>
<polygon points="497.9,232.6 504.2,228.2 498.0,222.1 491.7,226.5" fill="#fdba00" stroke="#fdba00" stroke-width="0.6"/>
<polygon points="491.7,226.5 498.0,222.1 491.8,216.2 485.5,220.5" fill="#fdbe00" stroke="#fdbe00" stroke-width="0.6"/>
<polygon points="485.5,220.5 491.8,216.2 485.6,210.6 479.3,214.8" fill="#fdc300" stroke="#fdc300" stroke-width="0.6"/>
<polygon points="479.3,214.8 485.6,210.6 479.5,205.1 473.1,209.3" fill="#fccb00" stroke="#fccb00" stroke-width="0.6"/>
<polygon points="473.1,209.3 479.5,205.1 473.4,199.9 467.0,204.1" fill="#fcd600" stroke="#fcd600" stroke-width="0.6"/>
<polygon points="467.0,204.1 473.4,199.9 467.3,195.0 461.0,199.1" fill="#fbe200" stroke="#fbe200" stroke-width="0.6"/>
<polygon points="461.0,199.1 467.3,195.0 461.3,190.3 454.9,194.3" fill="#faf000" stroke="#faf000" stroke-width="0.6"/>
<polygon points="454.9,194.3 461.3,190.3 455.3,185.8 449.0,189.8" fill="#edf500" stroke="#edf500" stroke-width="0.6"/>
<polygon points="449.0,189.8 455.3,185.8 449.4,181.6 443.1,185.5" fill="#daf400" stroke="#daf400" stroke-width="0.6"/>
<polygon points="443.1,185.5 449.4,181.6 443.6,177.7 437.2,181.6" fill="#c4f300" stroke="#c4f300" stroke-width="0.6"/>
<polygon points="437.2,181.6 443.6,177.7 437.8,174.0 431.5,177.8" fill="#abf300" stroke="#abf300" stroke-width="0.6"/>
<polygon points="431.5,177.8 437.8,174.0 432.1,170.6 425.8,174.4" fill="#8ef200" stroke="#8ef200" stroke-width="0.6"/>
<polygon points="425.8,174.4 432.1,170.6 426.5,167.5 420.2,171.2" fill="#63f100" stroke="#63f100" stroke-width="0.6"/>
<polygon points="420.2,171.2 426.5,167.5 421.0,164.7 414.7,168.4" fill="#35f100" stroke="#35f100" stroke-width="0.6"/>
<polygon points="414.7,168.4 421.0,164.7 415.5,162.2 409.3,165.8" fill="#03f000" stroke="#03f000" stroke-width="0.6"/>
<polygon points="565.7,299.8 571.7,295.0 565.7,287.1 559.7,291.9" fill="#cff400" stroke="#cff400" stroke-width="0.6"/>
<polygon points="559.7,291.9 565.7,287.1 559.7,279.4 553.6,284.1" fill="#e2f400" stroke="#e2f400" stroke-width="0.6"/>
<polygon points="553.6,284.1 559.7,279.4 553.6,271.8 547.5,276.5" fill="#f2f500" stroke="#f2f500" stroke-width="0.6"/>
<polygon points="547.5,276.5 553.6,271.8 547.5,264.4 541.4,269.0" fill="#faef00" stroke="#faef00" stroke-width="0.6"/>
<polygon points="541.4,269.0 547.5,264.4 541.4,257.1 535.2,261.7" fill="#fbe300" stroke="#fbe300" stroke-width="0.6"/>
<polygon points="535.2,261.7 541.4,257.1 535.2,250.1 529.0,254.7" fill="#fbda00" stroke="#fbda00" stroke-width="0.6"/>
<polygon points="529.0,254.7 535.2,250.1 529.0,243.2 522.8,247.7" fill="#fcd300" stroke="#fcd300" stroke-width="0.6"/>
<polygon points="522.8,247.7 529.0,243.2 522.8,236.5 516.6,241.0" fill="#fcce00" stroke="#fcce00" stroke-width="0.6"/>
<polygon points="516.6,241.0 522.8,236.5 516.6,230.1 510.4,234.5" fill="#fccb00" stroke="#fccb00" stroke-width="0.6"/>
<polygon points="510.4,234.5 516.6,230.1 510.4,223.8 504.2,228.2" fill="#fccb00" stroke="#fccb00" stroke-width="0.6"/>
<polygon points="504.2,228.2 510.4,223.8 504.3,217.7 498.0,222.1" fill="#fccc00" stroke="#fccc00" stroke-width="0.6"/>
<polygon points="498.0,222.1 504.3,217.7 498.1,211.9 491.8,216.2" fill="#fcd000" stroke="#fcd000" stroke-width="0.6"/>
<polygon points="491.8,216.2 498.1,211.9 491.9,206.3 485.6,210.6" fill="#fcd600" stroke="#fcd600" stroke-width="0.6"/>
<polygon points="485.6,210.6 491.9,206.3 485.8,200.9 479.5,205.1" fill="#fbde00" stroke="#fbde00" stroke-width="0.6"/>
<polygon points="479.5,205.1 485.8,200.9 479.7,195.8 473.4,199.9" fill="#fbe800" stroke="#fbe800" stroke-width="0.6"/>
<polygon points="473.4,199.9 479.7,195.8 473.6,190.9 467.3,195.0" fill="#faf400" stroke="#faf400" stroke-width="0.6"/>
<polygon points="467.3,195.0 473.6,190.9 467.6,186.2 461.3,190.3" fill="#ecf500" stroke="#ecf500" stroke-width="0.6"/>
<polygon points="461.3,190.3 467.6,186.2 461.6,181.8 455.3,185.8" fill="#dbf400" stroke="#dbf400" stroke-width="0.6"/>
<polygon points="455.3,185.8 461.6,181.8 455.7,177.6 449.4,181.6" fill="#c7f300" stroke="#c7f300" stroke-width="0.6"/>
<polygon points="449.4,181.6 455.7,177.6 449.9,173.8 443.6,177.7" fill="#b2f300" stroke="#b2f300" stroke-width="0.6"/>
<polygon points="443.6,177.7 449.9,173.8 444.1,170.1 437.8,174.0" fill="#99f200" stroke="#99f200" stroke-width="0.6"/>
<polygon points="437.8,174.0 444.1,170.1 438.4,166.8 432.1,170.6" fill="#74f200" stroke="#74f200" stroke-width="0.6"/>
<polygon points="432.1,170.6 438.4,166.8 432.8,163.8 426.5,167.5" fill="#49f100" stroke="#49f100" stroke-width="0.6"/>
<polygon points="426.5,167.5 432.8,163.8 427.2,161.0 421.0,164.7" fill="#1bf000" stroke="#1bf000" stroke-width="0.6"/>
<polygon points="421.0,164.7 427.2,161.0 421.8,158.5 415.5,162.2" fill="#05ef19" stroke="#05ef19" stroke-width="0.6"/>
<polygon points="571.7,295.0 577.6,290.3 571.6,282.4 565.7,287.1" fill="#baf300" stroke="#baf300" stroke-width="0.6"/>
<polygon points="565.7,287.1 571.6,282.4 565.7,274.7 559.7,279.4" fill="#cdf400" stroke="#cdf400" stroke-width="0.6"/>
<polygon points="559.7,279.4 565.7,274.7 559.6,267.1 553.6,271.8" fill="#def400" stroke="#def400" stroke-width="0.6"/>
<polygon points="553.6,271.8 559.6,267.1 553.6,259.7 547.5,264.4" fill="#ecf500" stroke="#ecf500" stroke-width="0.6"/>
<polygon points="547.5,264.4 553.6,259.7 547.5,252.5 541.4,257.1" fill="#f8f500" stroke="#f8f500" stroke-width="0.6"/>
<polygon points="541.4,257.1 547.5,252.5 541.3,245.5 535.2,250.1" fill="#faed00" stroke="#faed00" stroke-width="0.6"/>
<polygon points="535.2,250.1 541.3,245.5 535.2,238.7 529.0,243.2" fill="#fbe600" stroke="#fbe600" stroke-width="0.6"/>
<polygon points="529.0,243.2 535.2,238.7 529.0,232.0 522.8,236.5" fill="#fbe100" stroke="#fbe100" stroke-width="0.6"/>
<polygon points="522.8,236.5 529.0,232.0 522.8,225.6 516.6,230.1" fill="#fbde00" stroke="#fbde00" stroke-width="0.6"/>
<polygon points="516.6,230.1 522.8,225.6 516.7,219.4 510.4,223.8" fill="#fbdd00" stroke="#fbdd00" stroke-width="0.6"/>
<polygon points="510.4,223.8 516.7,219.4 510.5,213.4 504.3,217.7" fill="#fbde00" stroke="#fbde00" stroke-width="0.6"/>
<polygon points="504.3,217.7 510.5,213.4 504.3,207.6 498.1,211.9" fill="#fbe200" stroke="#fbe200" stroke-width="0.6"/>
<polygon points="498.1,211.9 504.3,207.6 498.2,202.0 491.9,206.3" fill="#fbe700" stroke="#fbe700" stroke-width="0.6"/>
<polygon points="491.9,206.3 498.2,202.0 492.0,196.7 485.8,200.9" fill="#faef00" stroke="#faef00" stroke-width="0.6"/>
<polygon points="485.8,200.9 492.0,196.7 485.9,191.6 479.7,195.8" fill="#f6f500" stroke="#f6f500" stroke-width="0.6"/>
<polygon points="479.7,195.8 485.9,191.6 479.9,186.7 473.6,190.9" fill="#e9f400" stroke="#e9f400" stroke-width="0.6"/>
<polygon points="473.6,190.9 479.9,186.7 473.9,182.1 467.6,186.2" fill="#daf400" stroke="#daf400" stroke-width="0.6"/>
<polygon points="467.6,186.2 473.9,182.1 467.9,177.8 461.6,181.8" fill="#c9f400" stroke="#c9f400" stroke-width="0.6"/>
<polygon points="461.6,181.8 467.9,177.8 462.0,173.7 455.7,177.6" fill="#b6f300" stroke="#b6f300" stroke-width="0.6"/>
<polygon points="455.7,177.6 462.0,173.7 456.1,169.8 449.9,173.8" fill="#a0f200" stroke="#a0f200" stroke-width="0.6"/>
<polygon points="449.9,173.8 456.1,169.8 450.3,166.3 444.1,170.1" fill="#81f200" stroke="#81f200" stroke-width="0.6"/>
<polygon points="444.1,170.1 450.3,166.3 444.6,163.0 438.4,166.8" fill="#5af100" stroke="#5af100" stroke-width="0.6"/>
<polygon points="438.4,166.8 444.6,163.0 439.0,160.0 432.8,163.8" fill="#2ff100" stroke="#2ff100" stroke-width="0.6"/>
<polygon points="432.8,163.8 439.0,160.0 433.4,157.3 427.2,161.0" fill="#01f000" stroke="#01f000" stroke-width="0.6"/>
<polygon points="427.2,161.0 433.4,157.3 428.0,154.9 421.8,158.5" fill="#0bee34" stroke="#0bee34" stroke-width="0.6"/>
<polygon points="577.6,290.3 583.5,285.5 577.6,277.7 571.6,282.4" fill="#a6f200" stroke="#a6f200" stroke-width="0.6"/>
<polygon points="571.6,282.4 577.6,277.7 571.6,270.0 565.7,274.7" fill="#b9f300" stroke="#b9f300" stroke-width="0.6"/>
<polygon points="565.7,274.7 571.6,270.0 565.6,262.4 559.6,267.1" fill="#caf400" stroke="#caf400" stroke-width="0.6"/>
<polygon points="559.6,267.1 565.6,262.4 559.6,255.1 553.6,259.7" fill="#d9f400" stroke="#d9f400" stroke-width="0.6"/>
<polygon points="553.6,259.7 559.6,255.1 553.5,247.9 547.5,252.5" fill="#e5f400" stroke="#e5f400" stroke-width="0.6"/>
<polygon points="547.5,252.5 553.5,247.9 547.4,240.9 541.3,245.5" fill="#eff500" stroke="#eff500" stroke-width="0.6"/>
<polygon points="541.3,245.5 547.4,240.9 541.3,234.1 535.2,238.7" fill="#f7f500" stroke="#f7f500" stroke-width="0.6"/>
<polygon points="535.2,238.7 541.3,234.1 535.1,227.5 529.0,232.0" fill="#faf300" stroke="#faf300" stroke-width="0.6"/>
<polygon points="529.0,232.0 535.1,227.5 529.0,221.1 522.8,225.6" fill="#faf000" stroke="#faf000" stroke-width="0.6"/>
<polygon points="522.8,225.6 529.0,221.1 522.8,215.0 516.7,219.4" fill="#faef00" stroke="#faef00" stroke-width="0.6"/>
<polygon points="516.7,219.4 522.8,215.0 516.7,209.0 510.5,213.4" fill="#faf000" stroke="#faf000" stroke-width="0.6"/>
<polygon points="510.5,213.4 516.7,209.0 510.5,203.3 504.3,207.6" fill="#faf400" stroke="#faf400" stroke-width="0.6"/>
<polygon points="504.3,207.6 510.5,203.3 504.4,197.7 498.2,202.0" fill="#f6f500" stroke="#f6f500" stroke-width="0.6"/>
<polygon points="498.2,202.0 504.4,197.7 498.3,192.4 492.0,196.7" fill="#eef500" stroke="#eef500" stroke-width="0.6"/>
<polygon points="492.0,196.7 498.3,192.4 492.2,187.4 485.9,191.6" fill="#e4f400" stroke="#e4f400" stroke-width="0.6"/>
<polygon points="485.9,191.6 492.2,187.4 486.1,182.6 479.9,186.7" fill="#d7f400" stroke="#d7f400" stroke-width="0.6"/>
<polygon points="479.9,186.7 486.1,182.6 480.1,178.0 473.9,182.1" fill="#c8f400" stroke="#c8f400" stroke-width="0.6"/>
<polygon points="473.9,182.1 480.1,178.0 474.1,173.7 467.9,177.8" fill="#b7f300" stroke="#b7f300" stroke-width="0.6"/>
<polygon points="467.9,177.8 474.1,173.7 468.2,169.7 462.0,173.7" fill="#a4f200" stroke="#a4f200" stroke-width="0.6"/>
<polygon points="462.0,173.7 468.2,169.7 462.3,165.9 456.1,169.8" fill="#8bf200" stroke="#8bf200" stroke-width="0.6"/>
<polygon points="456.1,169.8 462.3,165.9 456.6,162.4 450.3,166.3" fill="#67f100" stroke="#67f100" stroke-width="0.6"/>
<polygon points="450.3,166.3 456.6,162.4 450.8,159.1 444.6,163.0" fill="#40f100" stroke="#40f100" stroke-width="0.6"/>
<polygon points="444.6,163.0 450.8,159.1 445.2,156.2 439.0,160.0" fill="#16f000" stroke="#16f000" stroke-width="0.6"/>
<polygon points="439.0,160.0 445.2,156.2 439.6,153.5 433.4,157.3" fill="#05ef1a" stroke="#05ef1a" stroke-width="0.6"/>
<polygon points="433.4,157.3 439.6,153.5 434.1,151.2 428.0,154.9" fill="#10ed4f" stroke="#10ed4f" stroke-width="0.6"/>
<polygon points="583.5,285.5 589.3,280.8 583.5,272.9 577.6,277.7" fill="#91f200" stroke="#91f200" stroke-width="0.6"/>
<polygon points="577.6,277.7 583.5,272.9 577.6,265.3 571.6,270.0" fill="#a6f200" stroke="#a6f200" stroke-width="0.6"/>
<polygon points="571.6,270.0 577.6,265.3 571.6,257.8 565.6,262.4" fill="#b6f300" stroke="#b6f300" stroke-width="0.6"/>
<polygon points="565.6,262.4 571.6,257.8 565.6,250.4 559.6,255.1" fill="#c5f300" stroke="#c5f300" stroke-width="0.6"/>
<polygon points="559.6,255.1 565.6,250.4 559.6,243.3 553.5,247.9" fill="#d2f400" stroke="#d2f400" stroke-width="0.6"/>
<polygon points="553.5,247.9 559.6,243.3 553.5,236.4 547.4,240.9" fill="#dcf400" stroke="#dcf400" stroke-width="0.6"/>
<polygon points="547.4,240.9 553.5,236.4 547.4,229.6 541.3,234.1" fill="#e4f400" stroke="#e4f400" stroke-width="0.6"/>
<polygon points="541.3,234.1 547.4,229.6 541.3,223.0 535.1,227.5" fill="#e9f400" stroke="#e9f400" stroke-width="0.6"/>
<polygon points="535.1,227.5 541.3,223.0 535.1,216.7 529.0,221.1" fill="#edf500" stroke="#edf500" stroke-width="0.6"/>
<polygon points="529.0,221.1 535.1,216.7 529.0,210.5 522.8,215.0" fill="#eef500" stroke="#eef500" stroke-width="0.6"/>
<polygon points="522.8,215.0 529.0,210.5 522.8,204.6 516.7,209.0" fill="#edf500" stroke="#edf500" stroke-width="0.6"/>
<polygon points="516.7,209.0 522.8,204.6 516.7,198.9 510.5,203.3" fill="#e9f500" stroke="#e9f500" stroke-width="0.6"/>
<polygon points="510.5,203.3 516.7,198.9 510.6,193.4 504.4,197.7" fill="#e4f400" stroke="#e4f400" stroke-width="0.6"/>
<polygon points="504.4,197.7 510.6,193.4 504.5,188.2 498.3,192.4" fill="#dcf400" stroke="#dcf400" stroke-width="0.6"/>
<polygon points="498.3,192.4 504.5,188.2 498.4,183.2 492.2,187.4" fill="#d2f400" stroke="#d2f400" stroke-width="0.6"/>
<polygon points="492.2,187.4 498.4,183.2 492.3,178.4 486.1,182.6" fill="#c6f300" stroke="#c6f300" stroke-width="0.6"/>
<polygon points="486.1,182.6 492.3,178.4 486.3,173.9 480.1,178.0" fill="#b7f300" stroke="#b7f300" stroke-width="0.6"/>
<polygon points="480.1,178.0 486.3,173.9 480.3,169.6 474.1,173.7" fill="#a6f200" stroke="#a6f200" stroke-width="0.6"/>
<polygon points="474.1,173.7 480.3,169.6 474.4,165.6 468.2,169.7" fill="#91f200" stroke="#91f200" stroke-width="0.6"/>
<polygon points="468.2,169.7 474.4,165.6 468.5,161.9 462.3,165.9" fill="#71f200" stroke="#71f200" stroke-width="0.6"/>
<polygon points="462.3,165.9 468.5,161.9 462.7,158.5 456.6,162.4" fill="#4ef100" stroke="#4ef100" stroke-width="0.6"/>
<polygon points="456.6,162.4 462.7,158.5 457.0,155.3 450.8,159.1" fill="#27f100" stroke="#27f100" stroke-width="0.6"/>
<polygon points="450.8,159.1 457.0,155.3 451.3,152.4 445.2,156.2" fill="#01f003" stroke="#01f003" stroke-width="0.6"/>
<polygon points="445.2,156.2 451.3,152.4 445.8,149.8 439.6,153.5" fill="#0bee34" stroke="#0bee34" stroke-width="0.6"/>
<polygon points="439.6,153.5 445.8,149.8 440.3,147.5 434.1,151.2" fill="#16ed69" stroke="#16ed69" stroke-width="0.6"/>
<polygon points="589.3,280.8 595.1,276.1 589.3,268.2 583.5,272.9" fill="#73f200" stroke="#73f200" stroke-width="0.6"/>
<polygon points="583.5,272.9 589.3,268.2 583.5,260.6 577.6,265.3" fill="#90f200" stroke="#90f200" stroke-width="0.6"/>
<polygon points="577.6,265.3 583.5,260.6 577.5,253.1 571.6,257.8" fill="#a3f200" stroke="#a3f200" stroke-width="0.6"/>
<polygon points="571.6,257.8 577.5,253.1 571.6,245.8 565.6,250.4" fill="#b2f300" stroke="#b2f300" stroke-width="0.6"/>
<polygon points="565.6,250.4 571.6,245.8 565.5,238.7 559.6,243.3" fill="#bff300" stroke="#bff300" stroke-width="0.6"/>
<polygon points="559.6,243.3 565.5,238.7 559.5,231.8 553.5,236.4" fill="#c9f400" stroke="#c9f400" stroke-width="0.6"/>
<polygon points="553.5,236.4 559.5,231.8 553.4,225.0 547.4,229.6" fill="#d1f400" stroke="#d1f400" stroke-width="0.6"/>
<polygon points="547.4,229.6 553.4,225.0 547.3,218.5 541.3,223.0" fill="#d7f400" stroke="#d7f400" stroke-width="0.6"/>
<polygon points="541.3,223.0 547.3,218.5 541.2,212.2 535.1,216.7" fill="#daf400" stroke="#daf400" stroke-width="0.6"/>
<polygon points="535.1,216.7 541.2,212.2 535.1,206.1 529.0,210.5" fill="#dcf400" stroke="#dcf400" stroke-width="0.6"/>
<polygon points="529.0,210.5 535.1,206.1 529.0,200.2 522.8,204.6" fill="#dbf400" stroke="#dbf400" stroke-width="0.6"/>
<polygon points="522.8,204.6 529.0,200.2 522.8,194.5 516.7,198.9" fill="#d8f400" stroke="#d8f400" stroke-width="0.6"/>
<polygon points="516.7,198.9 522.8,194.5 516.7,189.1 510.6,193.4" fill="#d2f400" stroke="#d2f400" stroke-width="0.6"/>
<polygon points="510.6,193.4 516.7,189.1 510.6,183.9 504.5,188.2" fill="#cbf400" stroke="#cbf400" stroke-width="0.6"/>
<polygon points="504.5,188.2 510.6,183.9 504.5,179.0 498.4,183.2" fill="#c1f300" stroke="#c1f300" stroke-width="0.6"/>
<polygon points="498.4,183.2 504.5,179.0 498.5,174.2 492.3,178.4" fill="#b4f300" stroke="#b4f300" stroke-width="0.6"/>
<polygon points="492.3,178.4 498.5,174.2 492.5,169.8 486.3,173.9" fill="#a6f200" stroke="#a6f200" stroke-width="0.6"/>
<polygon points="486.3,173.9 492.5,169.8 486.5,165.6 480.3,169.6" fill="#95f200" stroke="#95f200" stroke-width="0.6"/>
<polygon points="480.3,169.6 486.5,165.6 480.6,161.6 474.4,165.6" fill="#78f200" stroke="#78f200" stroke-width="0.6"/>
<polygon points="474.4,165.6 480.6,161.6 474.7,157.9 468.5,161.9" fill="#59f100" stroke="#59f100" stroke-width="0.6"/>
<polygon points="468.5,161.9 474.7,157.9 468.9,154.5 462.7,158.5" fill="#35f100" stroke="#35f100" stroke-width="0.6"/>
<polygon points="462.7,158.5 468.9,154.5 463.1,151.4 457.0,155.3" fill="#0ff000" stroke="#0ff000" stroke-width="0.6"/>
<polygon points="457.0,155.3 463.1,151.4 457.5,148.5 451.3,152.4" fill="#06ef1d" stroke="#06ef1d" stroke-width="0.6"/>
<polygon points="451.3,152.4 457.5,148.5 451.9,146.0 445.8,149.8" fill="#10ed4e" stroke="#10ed4e" stroke-width="0.6"/>
<polygon points="445.8,149.8 451.9,146.0 446.4,143.7 440.3,147.5" fill="#1bec82" stroke="#1bec82" stroke-width="0.6"/>
<polygon points="595.1,276.1 600.9,271.3 595.2,263.5 589.3,268.2" fill="#57f100" stroke="#57f100" stroke-width="0.6"/>
<polygon points="589.3,268.2 595.2,263.5 589.3,255.9 583.5,260.6" fill="#74f200" stroke="#74f200" stroke-width="0.6"/>
<polygon points="583.5,260.6 589.3,255.9 583.4,248.4 577.5,253.1" fill="#8ef200" stroke="#8ef200" stroke-width="0.6"/>
<polygon points="577.5,253.1 583.4,248.4 577.5,241.2 571.6,245.8" fill="#a0f200" stroke="#a0f200" stroke-width="0.6"/>
<polygon points="571.6,245.8 577.5,241.2 571.5,234.1 565.5,238.7" fill="#acf300" stroke="#acf300" stroke-width="0.6"/>
<polygon points="565.5,238.7 571.5,234.1 565.5,227.2 559.5,231.8" fill="#b7f300" stroke="#b7f300" stroke-width="0.6"/>
<polygon points="559.5,231.8 565.5,227.2 559.4,220.5 553.4,225.0" fill="#bff300" stroke="#bff300" stroke-width="0.6"/>
<polygon points="553.4,225.0 559.4,220.5 553.4,214.0 547.3,218.5" fill="#c5f300" stroke="#c5f300" stroke-width="0.6"/>
<polygon points="547.3,218.5 553.4,214.0 547.3,207.7 541.2,212.2" fill="#c9f400" stroke="#c9f400" stroke-width="0.6"/>
<polygon points="541.2,212.2 547.3,207.7 541.2,201.6 535.1,206.1" fill="#caf400" stroke="#caf400" stroke-width="0.6"/>
<polygon points="535.1,206.1 541.2,201.6 535.0,195.8 529.0,200.2" fill="#c9f400" stroke="#c9f400" stroke-width="0.6"/>
<polygon points="529.0,200.2 535.0,195.8 528.9,190.2 522.8,194.5" fill="#c6f300" stroke="#c6f300" stroke-width="0.6"/>
<polygon points="522.8,194.5 528.9,190.2 522.8,184.8 516.7,189.1" fill="#c1f300" stroke="#c1f300" stroke-width="0.6"/>
<polygon points="516.7,189.1 522.8,184.8 516.7,179.6 510.6,183.9" fill="#b9f300" stroke="#b9f300" stroke-width="0.6"/>
<polygon points="510.6,183.9 516.7,179.6 510.7,174.7 504.5,179.0" fill="#b0f300" stroke="#b0f300" stroke-width="0.6"/>
<polygon points="504.5,179.0 510.7,174.7 504.6,170.0 498.5,174.2" fill="#a4f200" stroke="#a4f200" stroke-width="0.6"/>
<polygon points="498.5,174.2 504.6,170.0 498.6,165.6 492.5,169.8" fill="#95f200" stroke="#95f200" stroke-width="0.6"/>
<polygon points="492.5,169.8 498.6,165.6 492.6,161.5 486.5,165.6" fill="#7cf200" stroke="#7cf200" stroke-width="0.6"/>
<polygon points="486.5,165.6 492.6,161.5 486.7,157.6 480.6,161.6" fill="#60f100" stroke="#60f100" stroke-width="0.6"/>
<polygon points="480.6,161.6 486.7,157.6 480.8,153.9 474.7,157.9" fill="#41f100" stroke="#41f100" stroke-width="0.6"/>
<polygon points="474.7,157.9 480.8,153.9 475.0,150.6 468.9,154.5" fill="#1ef000" stroke="#1ef000" stroke-width="0.6"/>
<polygon points="468.9,154.5 475.0,150.6 469.2,147.5 463.1,151.4" fill="#02f009" stroke="#02f009" stroke-width="0.6"/>
<polygon points="463.1,151.4 469.2,147.5 463.6,144.7 457.5,148.5" fill="#0bee36" stroke="#0bee36" stroke-width="0.6"/>
<polygon points="457.5,148.5 463.6,144.7 457.9,142.2 451.9,146.0" fill="#15ed67" stroke="#15ed67" stroke-width="0.6"/>
<polygon points="451.9,146.0 457.9,142.2 452.4,139.9 446.4,143.7" fill="#20eb9b" stroke="#20eb9b" stroke-width="0.6"/>
<polygon points="600.9,271.3 606.7,266.6 601.0,258.8 595.2,263.5" fill="#3bf100" stroke="#3bf100" stroke-width="0.6"/>
<polygon points="595.2,263.5 601.0,258.8 595.2,251.2 589.3,255.9" fill="#58f100" stroke="#58f100" stroke-width="0.6"/>
<polygon points="589.3,255.9 595.2,251.2 589.3,243.8 583.4,248.4" fill="#72f200" stroke="#72f200" stroke-width="0.6"/>
<polygon points="583.4,248.4 589.3,243.8 583.4,236.5 577.5,241.2" fill="#89f200" stroke="#89f200" stroke-width="0.6"/>
<polygon points="577.5,241.2 583.4,236.5 577.4,229.4 571.5,234.1" fill="#9af200" stroke="#9af200" stroke-width="0.6"/>
<polygon points="571.5,234.1 577.4,229.4 571.4,222.6 565.5,227.2" fill="#a5f200" stroke="#a5f200" stroke-width="0.6"/>
<polygon points="565.5,227.2 571.4,222.6 565.4,215.9 559.4,220.5" fill="#adf300" stroke="#adf300" stroke-width="0.6"/>
<polygon points="559.4,220.5 565.4,215.9 559.4,209.5 553.4,214.0" fill="#b3f300" stroke="#b3f300" stroke-width="0.6"/>
<polygon points="553.4,214.0 559.4,209.5 553.3,203.2 547.3,207.7" fill="#b7f300" stroke="#b7f300" stroke-width="0.6"/>
<polygon points="547.3,207.7 553.3,203.2 547.2,197.2 541.2,201.6" fill="#b9f300" stroke="#b9f300" stroke-width="0.6"/>
<polygon points="541.2,201.6 547.2,197.2 541.1,191.4 535.0,195.8" fill="#b8f300" stroke="#b8f300" stroke-width="0.6"/>
<polygon points="535.0,195.8 541.1,191.4 535.0,185.8 528.9,190.2" fill="#b5f300" stroke="#b5f300" stroke-width="0.6"/>
<polygon points="528.9,190.2 535.0,185.8 528.9,180.4 522.8,184.8" fill="#b0f300" stroke="#b0f300" stroke-width="0.6"/>
<polygon points="522.8,184.8 528.9,180.4 522.8,175.3 516.7,179.6" fill="#a9f300" stroke="#a9f300" stroke-width="0.6"/>
<polygon points="516.7,179.6 522.8,175.3 516.8,170.5 510.7,174.7" fill="#9ff200" stroke="#9ff200" stroke-width="0.6"/>
<polygon points="510.7,174.7 516.8,170.5 510.7,165.8 504.6,170.0" fill="#92f200" stroke="#92f200" stroke-width="0.6"/>
<polygon points="504.6,170.0 510.7,165.8 504.7,161.5 498.6,165.6" fill="#7df200" stroke="#7df200" stroke-width="0.6"/>
<polygon points="498.6,165.6 504.7,161.5 498.7,157.3 492.6,161.5" fill="#64f100" stroke="#64f100" stroke-width="0.6"/>
<polygon points="492.6,161.5 498.7,157.3 492.8,153.5 486.7,157.6" fill="#48f100" stroke="#48f100" stroke-width="0.6"/>
<polygon points="486.7,157.6 492.8,153.5 486.9,149.9 480.8,153.9" fill="#29f100" stroke="#29f100" stroke-width="0.6"/>
<polygon points="480.8,153.9 486.9,149.9 481.1,146.6 475.0,150.6" fill="#06f000" stroke="#06f000" stroke-width="0.6"/>
<polygon points="475.0,150.6 481.1,146.6 475.3,143.5 469.2,147.5" fill="#07ef22" stroke="#07ef22" stroke-width="0.6"/>
<polygon points="469.2,147.5 475.3,143.5 469.6,140.8 463.6,144.7" fill="#10ed4f" stroke="#10ed4f" stroke-width="0.6"/>
<polygon points="463.6,144.7 469.6,140.8 464.0,138.3 457.9,142.2" fill="#1aec7f" stroke="#1aec7f" stroke-width="0.6"/>
<polygon points="457.9,142.2 464.0,138.3 458.4,136.1 452.4,139.9" fill="#25eab3" stroke="#25eab3" stroke-width="0.6"/>
<polygon points="606.7,266.6 612.4,261.8 606.7,254.1 601.0,258.8" fill="#1ff000" stroke="#1ff000" stroke-width="0.6"/>
<polygon points="601.0,258.8 606.7,254.1 601.0,246.5 595.2,251.2" fill="#3df100" stroke="#3df100" stroke-width="0.6"/>
<polygon points="595.2,251.2 601.0,246.5 595.1,239.1 589.3,243.8" fill="#57f100" stroke="#57f100" stroke-width="0.6"/>
<polygon points="589.3,243.8 595.1,239.1 589.3,231.8 583.4,236.5" fill="#6ef100" stroke="#6ef100" stroke-width="0.6"/>
<polygon points="583.4,236.5 589.3,231.8 583.3,224.8 577.4,229.4" fill="#82f200" stroke="#82f200" stroke-width="0.6"/>
<polygon points="577.4,229.4 583.3,224.8 577.4,218.0 571.4,222.6" fill="#92f200" stroke="#92f200" stroke-width="0.6"/>
<polygon points="571.4,222.6 577.4,218.0 571.4,211.3 565.4,215.9" fill="#9cf200" stroke="#9cf200" stroke-width="0.6"/>
<polygon points="565.4,215.9 571.4,211.3 565.3,204.9 559.4,209.5" fill="#a2f200" stroke="#a2f200" stroke-width="0.6"/>
<polygon points="559.4,209.5 565.3,204.9 559.3,198.7 553.3,203.2" fill="#a6f200" stroke="#a6f200" stroke-width="0.6"/>
<polygon points="553.3,203.2 559.3,198.7 553.2,192.7 547.2,197.2" fill="#a8f300" stroke="#a8f300" stroke-width="0.6"/>
<polygon points="547.2,197.2 553.2,192.7 547.1,186.9 541.1,191.4" fill="#a8f300" stroke="#a8f300" stroke-width="0.6"/>
<polygon points="541.1,191.4 547.1,186.9 541.1,181.4 535.0,185.8" fill="#a5f200" stroke="#a5f200" stroke-width="0.6"/>
<polygon points="535.0,185.8 541.1,181.4 535.0,176.1 528.9,180.4" fill="#a0f200" stroke="#a0f200" stroke-width="0.6"/>
<polygon points="528.9,180.4 535.0,176.1 528.9,171.0 522.8,175.3" fill="#99f200" stroke="#99f200" stroke-width="0.6"/>
<polygon points="522.8,175.3 528.9,171.0 522.8,166.2 516.8,170.5" fill="#8cf200" stroke="#8cf200" stroke-width="0.6"/>
<polygon points="516.8,170.5 522.8,166.2 516.8,161.6 510.7,165.8" fill="#7af200" stroke="#7af200" stroke-width="0.6"/>
<polygon points="510.7,165.8 516.8,161.6 510.8,157.3 504.7,161.5" fill="#65f100" stroke="#65f100" stroke-width="0.6"/>
<polygon points="504.7,161.5 510.8,157.3 504.8,153.2 498.7,157.3" fill="#4df100" stroke="#4df100" stroke-width="0.6"/>
<polygon points="498.7,157.3 504.8,153.2 498.9,149.4 492.8,153.5" fill="#31f100" stroke="#31f100" stroke-width="0.6"/>
<polygon points="492.8,153.5 498.9,149.4 493.0,145.8 486.9,149.9" fill="#12f000" stroke="#12f000" stroke-width="0.6"/>
<polygon points="486.9,149.9 493.0,145.8 487.1,142.6 481.1,146.6" fill="#04ef12" stroke="#04ef12" stroke-width="0.6"/>
<polygon points="481.1,146.6 487.1,142.6 481.4,139.6 475.3,143.5" fill="#0cee3a" stroke="#0cee3a" stroke-width="0.6"/>
<polygon points="475.3,143.5 481.4,139.6 475.6,136.9 469.6,140.8" fill="#15ed67" stroke="#15ed67" stroke-width="0.6"/>
<polygon points="469.6,140.8 475.6,136.9 470.0,134.5 464.0,138.3" fill="#1feb97" stroke="#1feb97" stroke-width="0.6"/>
<polygon points="464.0,138.3 470.0,134.5 464.4,132.3 458.4,136.1" fill="#2ae9ca" stroke="#2ae9ca" stroke-width="0.6"/>
<polygon points="612.4,261.8 618.1,257.1 612.5,249.3 606.7,254.1" fill="#05f000" stroke="#05f000" stroke-width="0.6"/>
<polygon points="606.7,254.1 612.5,249.3 606.7,241.8 601.0,246.5" fill="#23f000" stroke="#23f000" stroke-width="0.6"/>
<polygon points="601.0,246.5 606.7,241.8 601.0,234.4 595.1,239.1" fill="#3df100" stroke="#3df100" stroke-width="0.6"/>
<polygon points="595.1,239.1 601.0,234.4 595.1,227.2 589.3,231.8" fill="#54f100" stroke="#54f100" stroke-width="0.6"/>
<polygon points="589.3,231.8 595.1,227.2 589.2,220.2 583.3,224.8" fill="#68f100" stroke="#68f100" stroke-width="0.6"/>
<polygon points="583.3,224.8 589.2,220.2 583.3,213.4 577.4,218.0" fill="#78f200" stroke="#78f200" stroke-width="0.6"/>
<polygon points="577.4,218.0 583.3,213.4 577.3,206.8 571.4,211.3" fill="#85f200" stroke="#85f200" stroke-width="0.6"/>
<polygon points="571.4,211.3 577.3,206.8 571.3,200.4 565.3,204.9" fill="#8ff200" stroke="#8ff200" stroke-width="0.6"/>
<polygon points="565.3,204.9 571.3,200.4 565.3,194.2 559.3,198.7" fill="#95f200" stroke="#95f200" stroke-width="0.6"/>
<polygon points="559.3,198.7 565.3,194.2 559.2,188.2 553.2,192.7" fill="#98f200" stroke="#98f200" stroke-width="0.6"/>
<polygon points="553.2,192.7 559.2,188.2 553.1,182.5 547.1,186.9" fill="#97f200" stroke="#97f200" stroke-width="0.6"/>
<polygon points="547.1,186.9 553.1,182.5 547.1,177.0 541.1,181.4" fill="#94f200" stroke="#94f200" stroke-width="0.6"/>
<polygon points="541.1,181.4 547.1,177.0 541.0,171.7 535.0,176.1" fill="#8df200" stroke="#8df200" stroke-width="0.6"/>
<polygon points="535.0,176.1 541.0,171.7 534.9,166.7 528.9,171.0" fill="#82f200" stroke="#82f200" stroke-width="0.6"/>
<polygon points="528.9,171.0 534.9,166.7 528.9,161.9 522.8,166.2" fill="#74f200" stroke="#74f200" stroke-width="0.6"/>
<polygon points="522.8,166.2 528.9,161.9 522.8,157.3 516.8,161.6" fill="#63f100" stroke="#63f100" stroke-width="0.6"/>
<polygon points="516.8,161.6 522.8,157.3 516.8,153.1 510.8,157.3" fill="#4ef100" stroke="#4ef100" stroke-width="0.6"/>
<polygon points="510.8,157.3 516.8,153.1 510.9,149.0 504.8,153.2" fill="#36f100" stroke="#36f100" stroke-width="0.6"/>
<polygon points="504.8,153.2 510.9,149.0 504.9,145.3 498.9,149.4" fill="#1af000" stroke="#1af000" stroke-width="0.6"/>
<polygon points="498.9,149.4 504.9,145.3 499.0,141.8 493.0,145.8" fill="#01f005" stroke="#01f005" stroke-width="0.6"/>
<polygon points="493.0,145.8 499.0,141.8 493.2,138.5 487.1,142.6" fill="#09ef2a" stroke="#09ef2a" stroke-width="0.6"/>
<polygon points="487.1,142.6 493.2,138.5 487.4,135.6 481.4,139.6" fill="#11ed52" stroke="#11ed52" stroke-width="0.6"/>
<polygon points="481.4,139.6 487.4,135.6 481.6,132.9 475.6,136.9" fill="#1aec7e" stroke="#1aec7e" stroke-width="0.6"/>
<polygon points="475.6,136.9 481.6,132.9 476.0,130.6 470.0,134.5" fill="#24eaae" stroke="#24eaae" stroke-width="0.6"/>
<polygon points="470.0,134.5 476.0,130.6 470.4,128.5 464.4,132.3" fill="#2fe9e1" stroke="#2fe9e1" stroke-width="0.6"/>
<polygon points="618.1,257.1 623.8,252.4 618.2,244.6 612.5,249.3" fill="#05ef17" stroke="#05ef17" stroke-width="0.6"/>
<polygon points="612.5,249.3 618.2,244.6 612.5,237.1 606.7,241.8" fill="#09f000" stroke="#09f000" stroke-width="0.6"/>
<polygon points="606.7,241.8 612.5,237.1 606.7,229.7 601.0,234.4" fill="#23f000" stroke="#23f000" stroke-width="0.6"/>
<polygon points="601.0,234.4 606.7,229.7 600.9,222.5 595.1,227.2" fill="#3bf100" stroke="#3bf100" stroke-width="0.6"/>
<polygon points="595.1,227.2 600.9,222.5 595.1,215.5 589.2,220.2" fill="#4ff100" stroke="#4ff100" stroke-width="0.6"/>
<polygon points="589.2,220.2 595.1,215.5 589.2,208.7 583.3,213.4" fill="#5ff100" stroke="#5ff100" stroke-width="0.6"/>
<polygon points="583.3,213.4 589.2,208.7 583.2,202.2 577.3,206.8" fill="#6df100" stroke="#6df100" stroke-width="0.6"/>
<polygon points="577.3,206.8 583.2,202.2 577.2,195.8 571.3,200.4" fill="#77f200" stroke="#77f200" stroke-width="0.6"/>
<polygon points="571.3,200.4 577.2,195.8 571.2,189.7 565.3,194.2" fill="#7df200" stroke="#7df200" stroke-width="0.6"/>
<polygon points="565.3,194.2 571.2,189.7 565.2,183.7 559.2,188.2" fill="#80f200" stroke="#80f200" stroke-width="0.6"/>
<polygon points="559.2,188.2 565.2,183.7 559.1,178.0 553.1,182.5" fill="#80f200" stroke="#80f200" stroke-width="0.6"/>
<polygon points="553.1,182.5 559.1,178.0 553.1,172.6 547.1,177.0" fill="#7cf200" stroke="#7cf200" stroke-width="0.6"/>
<polygon points="547.1,177.0 553.1,172.6 547.0,167.3 541.0,171.7" fill="#75f200" stroke="#75f200" stroke-width="0.6"/>
<polygon points="541.0,171.7 547.0,167.3 540.9,162.3 534.9,166.7" fill="#6bf100" stroke="#6bf100" stroke-width="0.6"/>
<polygon points="534.9,166.7 540.9,162.3 534.9,157.6 528.9,161.9" fill="#5df100" stroke="#5df100" stroke-width="0.6"/>
<polygon points="528.9,161.9 534.9,157.6 528.9,153.1 522.8,157.3" fill="#4cf100" stroke="#4cf100" stroke-width="0.6"/>
<polygon points="522.8,157.3 528.9,153.1 522.8,148.8 516.8,153.1" fill="#38f100" stroke="#38f100" stroke-width="0.6"/>
<polygon points="516.8,153.1 522.8,148.8 516.9,144.8 510.9,149.0" fill="#20f000" stroke="#20f000" stroke-width="0.6"/>
<polygon points="510.9,149.0 516.9,144.8 510.9,141.1 504.9,145.3" fill="#04f000" stroke="#04f000" stroke-width="0.6"/>
<polygon points="504.9,145.3 510.9,141.1 505.0,137.7 499.0,141.8" fill="#06ef1c" stroke="#06ef1c" stroke-width="0.6"/>
<polygon points="499.0,141.8 505.0,137.7 499.2,134.5 493.2,138.5" fill="#0dee41" stroke="#0dee41" stroke-width="0.6"/>
<polygon points="493.2,138.5 499.2,134.5 493.4,131.6 487.4,135.6" fill="#16ed69" stroke="#16ed69" stroke-width="0.6"/>
<polygon points="487.4,135.6 493.4,131.6 487.6,129.0 481.6,132.9" fill="#1feb95" stroke="#1feb95" stroke-width="0.6"/>
<polygon points="481.6,132.9 487.6,129.0 481.9,126.6 476.0,130.6" fill="#29eac4" stroke="#29eac4" stroke-width="0.6"/>
<polygon points="476.0,130.6 481.9,126.6 476.3,124.6 470.4,128.5" fill="#32e4f2" stroke="#32e4f2" stroke-width="0.6"/>
<polygon points="623.8,252.4 629.5,247.6 623.9,239.9 618.2,244.6" fill="#0aee33" stroke="#0aee33" stroke-width="0.6"/>
<polygon points="618.2,244.6 623.9,239.9 618.2,232.3 612.5,237.1" fill="#04ef12" stroke="#04ef12" stroke-width="0.6"/>
<polygon points="612.5,237.1 618.2,232.3 612.5,225.0 606.7,229.7" fill="#0af000" stroke="#0af000" stroke-width="0.6"/>
<polygon points="606.7,229.7 612.5,225.0 606.7,217.8 600.9,222.5" fill="#22f000" stroke="#22f000" stroke-width="0.6"/>
<polygon points="600.9,222.5 606.7,217.8 600.9,210.9 595.1,215.5" fill="#36f100" stroke="#36f100" stroke-width="0.6"/>
<polygon points="595.1,215.5 600.9,210.9 595.0,204.1 589.2,208.7" fill="#47f100" stroke="#47f100" stroke-width="0.6"/>
<polygon points="589.2,208.7 595.0,204.1 589.1,197.6 583.2,202.2" fill="#54f100" stroke="#54f100" stroke-width="0.6"/>
<polygon points="583.2,202.2 589.1,197.6 583.1,191.2 577.2,195.8" fill="#5ff100" stroke="#5ff100" stroke-width="0.6"/>
<polygon points="577.2,195.8 583.1,191.2 577.1,185.1 571.2,189.7" fill="#65f100" stroke="#65f100" stroke-width="0.6"/>
<polygon points="571.2,189.7 577.1,185.1 571.1,179.2 565.2,183.7" fill="#69f100" stroke="#69f100" stroke-width="0.6"/>
<polygon points="565.2,183.7 571.1,179.2 565.1,173.5 559.1,178.0" fill="#69f100" stroke="#69f100" stroke-width="0.6"/>
<polygon points="559.1,178.0 565.1,173.5 559.0,168.1 553.1,172.6" fill="#65f100" stroke="#65f100" stroke-width="0.6"/>
<polygon points="553.1,172.6 559.0,168.1 553.0,162.9 547.0,167.3" fill="#5ff100" stroke="#5ff100" stroke-width="0.6"/>
<polygon points="547.0,167.3 553.0,162.9 546.9,158.0 540.9,162.3" fill="#54f100" stroke="#54f100" stroke-width="0.6"/>
<polygon points="540.9,162.3 546.9,158.0 540.9,153.2 534.9,157.6" fill="#47f100" stroke="#47f100" stroke-width="0.6"/>
<polygon points="534.9,157.6 540.9,153.2 534.8,148.8 528.9,153.1" fill="#36f100" stroke="#36f100" stroke-width="0.6"/>
<polygon points="528.9,153.1 534.8,148.8 528.8,144.6 522.8,148.8" fill="#22f000" stroke="#22f000" stroke-width="0.6"/>
<polygon points="522.8,148.8 528.8,144.6 522.9,140.6 516.9,144.8" fill="#0af000" stroke="#0af000" stroke-width="0.6"/>
<polygon points="516.9,144.8 522.9,140.6 516.9,136.9 510.9,141.1" fill="#04ef12" stroke="#04ef12" stroke-width="0.6"/>
<polygon points="510.9,141.1 516.9,136.9 511.0,133.5 505.0,137.7" fill="#0bee33" stroke="#0bee33" stroke-width="0.6"/>
<polygon points="505.0,137.7 511.0,133.5 505.1,130.4 499.2,134.5" fill="#12ed57" stroke="#12ed57" stroke-width="0.6"/>
<polygon points="499.2,134.5 505.1,130.4 499.3,127.5 493.4,131.6" fill="#1aec7f" stroke="#1aec7f" stroke-width="0.6"/>
<polygon points="493.4,131.6 499.3,127.5 493.6,125.0 487.6,129.0" fill="#23eaab" stroke="#23eaab" stroke-width="0.6"/>
<polygon points="487.6,129.0 493.6,125.0 487.9,122.7 481.9,126.6" fill="#2de9da" stroke="#2de9da" stroke-width="0.6"/>
<polygon points="481.9,126.6 487.9,122.7 482.2,120.7 476.3,124.6" fill="#31d4f1" stroke="#31d4f1" stroke-width="0.6"/>
<polygon points="629.5,247.6 635.1,242.9 629.5,235.1 623.9,239.9" fill="#10ed4e" stroke="#10ed4e" stroke-width="0.6"/>
<polygon points="623.9,239.9 629.5,235.1 623.9,227.6 618.2,232.3" fill="#09ef2d" stroke="#09ef2d" stroke-width="0.6"/>
<polygon points="618.2,232.3 623.9,227.6 618.2,220.3 612.5,225.0" fill="#03ef0f" stroke="#03ef0f" stroke-width="0.6"/>
<polygon points="612.5,225.0 618.2,220.3 612.5,213.1 606.7,217.8" fill="#0af000" stroke="#0af000" stroke-width="0.6"/>
<polygon points="606.7,217.8 612.5,213.1 606.7,206.2 600.9,210.9" fill="#1ef000" stroke="#1ef000" stroke-width="0.6"/>
<polygon points="600.9,210.9 606.7,206.2 600.8,199.5 595.0,204.1" fill="#2ff100" stroke="#2ff100" stroke-width="0.6"/>
<polygon points="595.0,204.1 600.8,199.5 594.9,192.9 589.1,197.6" fill="#3df100" stroke="#3df100" stroke-width="0.6"/>
<polygon points="589.1,197.6 594.9,192.9 589.0,186.6 583.1,191.2" fill="#47f100" stroke="#47f100" stroke-width="0.6"/>
<polygon points="583.1,191.2 589.0,186.6 583.0,180.6 577.1,185.1" fill="#4ef100" stroke="#4ef100" stroke-width="0.6"/>
<polygon points="577.1,185.1 583.0,180.6 577.0,174.7 571.1,179.2" fill="#52f100" stroke="#52f100" stroke-width="0.6"/>
<polygon points="571.1,179.2 577.0,174.7 571.0,169.0 565.1,173.5" fill="#52f100" stroke="#52f100" stroke-width="0.6"/>
<polygon points="565.1,173.5 571.0,169.0 565.0,163.6 559.0,168.1" fill="#4ff100" stroke="#4ff100" stroke-width="0.6"/>
<polygon points="559.0,168.1 565.0,163.6 558.9,158.5 553.0,162.9" fill="#48f100" stroke="#48f100" stroke-width="0.6"/>
<polygon points="553.0,162.9 558.9,158.5 552.9,153.6 546.9,158.0" fill="#3ef100" stroke="#3ef100" stroke-width="0.6"/>
<polygon points="546.9,158.0 552.9,153.6 546.8,148.9 540.9,153.2" fill="#31f100" stroke="#31f100" stroke-width="0.6"/>
<polygon points="540.9,153.2 546.8,148.9 540.8,144.5 534.8,148.8" fill="#20f000" stroke="#20f000" stroke-width="0.6"/>
<polygon points="534.8,148.8 540.8,144.5 534.8,140.3 528.8,144.6" fill="#0cf000" stroke="#0cf000" stroke-width="0.6"/>
<polygon points="528.8,144.6 534.8,140.3 528.8,136.4 522.9,140.6" fill="#02f00c" stroke="#02f00c" stroke-width="0.6"/>
<polygon points="522.9,140.6 528.8,136.4 522.9,132.7 516.9,136.9" fill="#08ef29" stroke="#08ef29" stroke-width="0.6"/>
<polygon points="516.9,136.9 522.9,132.7 516.9,129.4 511.0,133.5" fill="#0fee49" stroke="#0fee49" stroke-width="0.6"/>
<polygon points="511.0,133.5 516.9,129.4 511.1,126.3 505.1,130.4" fill="#17ec6d" stroke="#17ec6d" stroke-width="0.6"/>
<polygon points="505.1,130.4 511.1,126.3 505.2,123.5 499.3,127.5" fill="#1feb95" stroke="#1feb95" stroke-width="0.6"/>
<polygon points="499.3,127.5 505.2,123.5 499.5,120.9 493.6,125.0" fill="#28eac0" stroke="#28eac0" stroke-width="0.6"/>
<polygon points="493.6,125.0 499.5,120.9 493.8,118.7 487.9,122.7" fill="#31e8ef" stroke="#31e8ef" stroke-width="0.6"/>
<polygon points="487.9,122.7 493.8,118.7 488.1,116.7 482.2,120.7" fill="#30c4f0" stroke="#30c4f0" stroke-width="0.6"/>
<polygon points="635.1,242.9 640.7,238.1 635.2,230.4 629.5,235.1" fill="#15ed68" stroke="#15ed68" stroke-width="0.6"/>
<polygon points="629.5,235.1 635.2,230.4 629.6,222.9 623.9,227.6" fill="#0fee47" stroke="#0fee47" stroke-width="0.6"/>
<polygon points="623.9,227.6 629.6,222.9 624.0,215.6 618.2,220.3" fill="#08ef29" stroke="#08ef29" stroke-width="0.6"/>
<polygon points="618.2,220.3 624.0,215.6 618.2,208.4 612.5,213.1" fill="#03ef0f" stroke="#03ef0f" stroke-width="0.6"/>
<polygon points="612.5,213.1 618.2,208.4 612.5,201.5 606.7,206.2" fill="#07f000" stroke="#07f000" stroke-width="0.6"/>
<polygon points="606.7,206.2 612.5,201.5 606.6,194.8 600.8,199.5" fill="#18f000" stroke="#18f000" stroke-width="0.6"/>
<polygon points="600.8,199.5 606.6,194.8 600.8,188.3 594.9,192.9" fill="#26f100" stroke="#26f100" stroke-width="0.6"/>
<polygon points="594.9,192.9 600.8,188.3 594.8,182.0 589.0,186.6" fill="#30f100" stroke="#30f100" stroke-width="0.6"/>
<polygon points="589.0,186.6 594.8,182.0 588.9,176.0 583.0,180.6" fill="#38f100" stroke="#38f100" stroke-width="0.6"/>
<polygon points="583.0,180.6 588.9,176.0 582.9,170.1 577.0,174.7" fill="#3cf100" stroke="#3cf100" stroke-width="0.6"/>
<polygon points="577.0,174.7 582.9,170.1 576.9,164.5 571.0,169.0" fill="#3cf100" stroke="#3cf100" stroke-width="0.6"/>
<polygon points="571.0,169.0 576.9,164.5 570.9,159.2 565.0,163.6" fill="#39f100" stroke="#39f100" stroke-width="0.6"/>
<polygon points="565.0,163.6 570.9,159.2 564.8,154.0 558.9,158.5" fill="#33f100" stroke="#33f100" stroke-width="0.6"/>
<polygon points="558.9,158.5 564.8,154.0 558.8,149.1 552.9,153.6" fill="#29f100" stroke="#29f100" stroke-width="0.6"/>
<polygon points="552.9,153.6 558.8,149.1 552.8,144.5 546.8,148.9" fill="#1cf000" stroke="#1cf000" stroke-width="0.6"/>
<polygon points="546.8,148.9 552.8,144.5 546.7,140.1 540.8,144.5" fill="#0cf000" stroke="#0cf000" stroke-width="0.6"/>
<polygon points="540.8,144.5 546.7,140.1 540.7,136.0 534.8,140.3" fill="#02f009" stroke="#02f009" stroke-width="0.6"/>
<polygon points="534.8,140.3 540.7,136.0 534.8,132.1 528.8,136.4" fill="#07ef22" stroke="#07ef22" stroke-width="0.6"/>
<polygon points="528.8,136.4 534.8,132.1 528.8,128.5 522.9,132.7" fill="#0dee3e" stroke="#0dee3e" stroke-width="0.6"/>
<polygon points="522.9,132.7 528.8,128.5 522.9,125.2 516.9,129.4" fill="#14ed5f" stroke="#14ed5f" stroke-width="0.6"/>
<polygon points="516.9,129.4 522.9,125.2 517.0,122.1 511.1,126.3" fill="#1bec82" stroke="#1bec82" stroke-width="0.6"/>
<polygon points="511.1,126.3 517.0,122.1 511.2,119.4 505.2,123.5" fill="#23eaaa" stroke="#23eaaa" stroke-width="0.6"/>
<polygon points="505.2,123.5 511.2,119.4 505.4,116.9 499.5,120.9" fill="#2ce9d5" stroke="#2ce9d5" stroke-width="0.6"/>
<polygon points="499.5,120.9 505.4,116.9 499.6,114.7 493.8,118.7" fill="#31dbf1" stroke="#31dbf1" stroke-width="0.6"/>
<polygon points="493.8,118.7 499.6,114.7 494.0,112.8 488.1,116.7" fill="#2fb5f0" stroke="#2fb5f0" stroke-width="0.6"/>
<polygon points="640.7,238.1 646.3,233.3 640.8,225.6 635.2,230.4" fill="#1bec81" stroke="#1bec81" stroke-width="0.6"/>
<polygon points="635.2,230.4 640.8,225.6 635.3,218.1 629.6,222.9" fill="#14ed60" stroke="#14ed60" stroke-width="0.6"/>
<polygon points="629.6,222.9 635.3,218.1 629.6,210.8 624.0,215.6" fill="#0eee42" stroke="#0eee42" stroke-width="0.6"/>
<polygon points="624.0,215.6 629.6,210.8 624.0,203.7 618.2,208.4" fill="#08ef28" stroke="#08ef28" stroke-width="0.6"/>
<polygon points="618.2,208.4 624.0,203.7 618.2,196.8 612.5,201.5" fill="#04ef11" stroke="#04ef11" stroke-width="0.6"/>
<polygon points="612.5,201.5 618.2,196.8 612.4,190.1 606.6,194.8" fill="#01f000" stroke="#01f000" stroke-width="0.6"/>
<polygon points="606.6,194.8 612.4,190.1 606.6,183.7 600.8,188.3" fill="#10f000" stroke="#10f000" stroke-width="0.6"/>
<polygon points="600.8,188.3 606.6,183.7 600.7,177.4 594.8,182.0" fill="#1af000" stroke="#1af000" stroke-width="0.6"/>
<polygon points="594.8,182.0 600.7,177.4 594.7,171.4 588.9,176.0" fill="#22f000" stroke="#22f000" stroke-width="0.6"/>
<polygon points="588.9,176.0 594.7,171.4 588.8,165.6 582.9,170.1" fill="#26f100" stroke="#26f100" stroke-width="0.6"/>
<polygon points="582.9,170.1 588.8,165.6 582.8,160.0 576.9,164.5" fill="#26f100" stroke="#26f100" stroke-width="0.6"/>
<polygon points="576.9,164.5 582.8,160.0 576.8,154.7 570.9,159.2" fill="#24f000" stroke="#24f000" stroke-width="0.6"/>
<polygon points="570.9,159.2 576.8,154.7 570.7,149.6 564.8,154.0" fill="#1ef000" stroke="#1ef000" stroke-width="0.6"/>
<polygon points="564.8,154.0 570.7,149.6 564.7,144.7 558.8,149.1" fill="#14f000" stroke="#14f000" stroke-width="0.6"/>
<polygon points="558.8,149.1 564.7,144.7 558.7,140.1 552.8,144.5" fill="#07f000" stroke="#07f000" stroke-width="0.6"/>
<polygon points="552.8,144.5 558.7,140.1 552.7,135.8 546.7,140.1" fill="#02f009" stroke="#02f009" stroke-width="0.6"/>
<polygon points="546.7,140.1 552.7,135.8 546.7,131.7 540.7,136.0" fill="#06ef1e" stroke="#06ef1e" stroke-width="0.6"/>
<polygon points="540.7,136.0 546.7,131.7 540.7,127.8 534.8,132.1" fill="#0bee37" stroke="#0bee37" stroke-width="0.6"/>
<polygon points="534.8,132.1 540.7,127.8 534.7,124.3 528.8,128.5" fill="#11ed54" stroke="#11ed54" stroke-width="0.6"/>
<polygon points="528.8,128.5 534.7,124.3 528.8,121.0 522.9,125.2" fill="#18ec73" stroke="#18ec73" stroke-width="0.6"/>
<polygon points="522.9,125.2 528.8,121.0 522.9,118.0 517.0,122.1" fill="#1feb97" stroke="#1feb97" stroke-width="0.6"/>
<polygon points="517.0,122.1 522.9,118.0 517.0,115.2 511.2,119.4" fill="#27eabe" stroke="#27eabe" stroke-width="0.6"/>
<polygon points="511.2,119.4 517.0,115.2 511.2,112.8 505.4,116.9" fill="#30e8e9" stroke="#30e8e9" stroke-width="0.6"/>
<polygon points="505.4,116.9 511.2,112.8 505.5,110.6 499.6,114.7" fill="#30ccf1" stroke="#30ccf1" stroke-width="0.6"/>
<polygon points="499.6,114.7 505.5,110.6 499.8,108.8 494.0,112.8" fill="#2ea6ef" stroke="#2ea6ef" stroke-width="0.6"/>
<polygon points="646.3,233.3 651.8,228.6 646.4,220.9 640.8,225.6" fill="#20eb9a" stroke="#20eb9a" stroke-width="0.6"/>
<polygon points="640.8,225.6 646.4,220.9 640.9,213.4 635.3,218.1" fill="#19ec79" stroke="#19ec79" stroke-width="0.6"/>
<polygon points="635.3,218.1 640.9,213.4 635.3,206.1 629.6,210.8" fill="#13ed5b" stroke="#13ed5b" stroke-width="0.6"/>
<polygon points="629.6,210.8 635.3,206.1 629.7,199.0 624.0,203.7" fill="#0dee40" stroke="#0dee40" stroke-width="0.6"/>
<polygon points="624.0,203.7 629.7,199.0 623.9,192.1 618.2,196.8" fill="#09ef29" stroke="#09ef29" stroke-width="0.6"/>
<polygon points="618.2,196.8 623.9,192.1 618.2,185.5 612.4,190.1" fill="#05ef16" stroke="#05ef16" stroke-width="0.6"/>
<polygon points="612.4,190.1 618.2,185.5 612.3,179.0 606.6,183.7" fill="#01f007" stroke="#01f007" stroke-width="0.6"/>
<polygon points="606.6,183.7 612.3,179.0 606.5,172.8 600.7,177.4" fill="#05f000" stroke="#05f000" stroke-width="0.6"/>
<polygon points="600.7,177.4 606.5,172.8 600.5,166.8 594.7,171.4" fill="#0cf000" stroke="#0cf000" stroke-width="0.6"/>
<polygon points="594.7,171.4 600.5,166.8 594.6,161.0 588.8,165.6" fill="#11f000" stroke="#11f000" stroke-width="0.6"/>
<polygon points="588.8,165.6 594.6,161.0 588.6,155.4 582.8,160.0" fill="#12f000" stroke="#12f000" stroke-width="0.6"/>
<polygon points="582.8,160.0 588.6,155.4 582.6,150.1 576.8,154.7" fill="#0ff000" stroke="#0ff000" stroke-width="0.6"/>
<polygon points="576.8,154.7 582.6,150.1 576.6,145.1 570.7,149.6" fill="#09f000" stroke="#09f000" stroke-width="0.6"/>
<polygon points="570.7,149.6 576.6,145.1 570.6,140.3 564.7,144.7" fill="#00f000" stroke="#00f000" stroke-width="0.6"/>
<polygon points="564.7,144.7 570.6,140.3 564.6,135.7 558.7,140.1" fill="#03f00d" stroke="#03f00d" stroke-width="0.6"/>
<polygon points="558.7,140.1 564.6,135.7 558.6,131.4 552.7,135.8" fill="#06ef1f" stroke="#06ef1f" stroke-width="0.6"/>
<polygon points="552.7,135.8 558.6,131.4 552.5,127.3 546.7,131.7" fill="#0bee33" stroke="#0bee33" stroke-width="0.6"/>
<polygon points="546.7,131.7 552.5,127.3 546.6,123.5 540.7,127.8" fill="#10ed4c" stroke="#10ed4c" stroke-width="0.6"/>
<polygon points="540.7,127.8 546.6,123.5 540.6,120.0 534.7,124.3" fill="#15ed68" stroke="#15ed68" stroke-width="0.6"/>
<polygon points="534.7,124.3 540.6,120.0 534.7,116.8 528.8,121.0" fill="#1cec88" stroke="#1cec88" stroke-width="0.6"/>
<polygon points="528.8,121.0 534.7,116.8 528.8,113.8 522.9,118.0" fill="#23eaab" stroke="#23eaab" stroke-width="0.6"/>
<polygon points="522.9,118.0 528.8,113.8 522.9,111.1 517.0,115.2" fill="#2be9d2" stroke="#2be9d2" stroke-width="0.6"/>
<polygon points="517.0,115.2 522.9,111.1 517.1,108.7 511.2,112.8" fill="#32e0f2" stroke="#32e0f2" stroke-width="0.6"/>
<polygon points="511.2,112.8 517.1,108.7 511.3,106.6 505.5,110.6" fill="#2fbdf0" stroke="#2fbdf0" stroke-width="0.6"/>
<polygon points="505.5,110.6 511.3,106.6 505.6,104.7 499.8,108.8" fill="#2d98ef" stroke="#2d98ef" stroke-width="0.6"/>
<polygon points="651.8,228.6 657.4,223.8 652.0,216.1 646.4,220.9" fill="#25eab3" stroke="#25eab3" stroke-width="0.6"/>
<polygon points="646.4,220.9 652.0,216.1 646.5,208.6 640.9,213.4" fill="#1eeb91" stroke="#1eeb91" stroke-width="0.6"/>
<polygon points="640.9,213.4 646.5,208.6 641.0,201.3 635.3,206.1" fill="#18ec72" stroke="#18ec72" stroke-width="0.6"/>
<polygon points="635.3,206.1 641.0,201.3 635.3,194.3 629.7,199.0" fill="#12ed58" stroke="#12ed58" stroke-width="0.6"/>
<polygon points="629.7,199.0 635.3,194.3 629.7,187.4 623.9,192.1" fill="#0dee41" stroke="#0dee41" stroke-width="0.6"/>
<polygon points="623.9,192.1 629.7,187.4 623.9,180.8 618.2,185.5" fill="#09ef2d" stroke="#09ef2d" stroke-width="0.6"/>
<polygon points="618.2,185.5 623.9,180.8 618.1,174.3 612.3,179.0" fill="#06ef1e" stroke="#06ef1e" stroke-width="0.6"/>
<polygon points="612.3,179.0 618.1,174.3 612.2,168.1 606.5,172.8" fill="#04ef11" stroke="#04ef11" stroke-width="0.6"/>
<polygon points="606.5,172.8 612.2,168.1 606.3,162.1 600.5,166.8" fill="#02f009" stroke="#02f009" stroke-width="0.6"/>
<polygon points="600.5,166.8 606.3,162.1 600.4,156.4 594.6,161.0" fill="#01f004" stroke="#01f004" stroke-width="0.6"/>
<polygon points="594.6,161.0 600.4,156.4 594.5,150.9 588.6,155.4" fill="#01f003" stroke="#01f003" stroke-width="0.6"/>
<polygon points="588.6,155.4 594.5,150.9 588.5,145.6 582.6,150.1" fill="#01f005" stroke="#01f005" stroke-width="0.6"/>
<polygon points="582.6,150.1 588.5,145.6 582.5,140.6 576.6,145.1" fill="#02f00b" stroke="#02f00b" stroke-width="0.6"/>
<polygon points="576.6,145.1 582.5,140.6 576.5,135.8 570.6,140.3" fill="#04ef15" stroke="#04ef15" stroke-width="0.6"/>
<polygon points="570.6,140.3 576.5,135.8 570.4,131.2 564.6,135.7" fill="#07ef22" stroke="#07ef22" stroke-width="0.6"/>
<polygon points="564.6,135.7 570.4,131.2 564.4,127.0 558.6,131.4" fill="#0bee33" stroke="#0bee33" stroke-width="0.6"/>
<polygon points="558.6,131.4 564.4,127.0 558.4,122.9 552.5,127.3" fill="#0fee48" stroke="#0fee48" stroke-width="0.6"/>
<polygon points="552.5,127.3 558.4,122.9 552.4,119.2 546.6,123.5" fill="#14ed60" stroke="#14ed60" stroke-width="0.6"/>
<polygon points="546.6,123.5 552.4,119.2 546.5,115.7 540.6,120.0" fill="#1aec7c" stroke="#1aec7c" stroke-width="0.6"/>
<polygon points="540.6,120.0 546.5,115.7 540.5,112.5 534.7,116.8" fill="#20eb9b" stroke="#20eb9b" stroke-width="0.6"/>
<polygon points="534.7,116.8 540.5,112.5 534.6,109.6 528.8,113.8" fill="#27eabe" stroke="#27eabe" stroke-width="0.6"/>
<polygon points="528.8,113.8 534.6,109.6 528.7,106.9 522.9,111.1" fill="#2fe8e5" stroke="#2fe8e5" stroke-width="0.6"/>
<polygon points="522.9,111.1 528.7,106.9 522.9,104.5 517.1,108.7" fill="#31d2f1" stroke="#31d2f1" stroke-width="0.6"/>
<polygon points="517.1,108.7 522.9,104.5 517.1,102.4 511.3,106.6" fill="#2eaff0" stroke="#2eaff0" stroke-width="0.6"/>
<polygon points="511.3,106.6 517.1,102.4 511.4,100.7 505.6,104.7" fill="#2c8aee" stroke="#2c8aee" stroke-width="0.6"/>
<polygon points="657.4,223.8 662.9,219.0 657.6,211.3 652.0,216.1" fill="#2ae9ca" stroke="#2ae9ca" stroke-width="0.6"/>
<polygon points="652.0,216.1 657.6,211.3 652.1,203.8 646.5,208.6" fill="#23eaa8" stroke="#23eaa8" stroke-width="0.6"/>
<polygon points="646.5,208.6 652.1,203.8 646.6,196.6 641.0,201.3" fill="#1ceb8a" stroke="#1ceb8a" stroke-width="0.6"/>
<polygon points="641.0,201.3 646.6,196.6 641.0,189.5 635.3,194.3" fill="#17ec6f" stroke="#17ec6f" stroke-width="0.6"/>
<polygon points="635.3,194.3 641.0,189.5 635.3,182.7 629.7,187.4" fill="#12ed57" stroke="#12ed57" stroke-width="0.6"/>
<polygon points="629.7,187.4 635.3,182.7 629.6,176.0 623.9,180.8" fill="#0eee44" stroke="#0eee44" stroke-width="0.6"/>
<polygon points="623.9,180.8 629.6,176.0 623.8,169.6 618.1,174.3" fill="#0bee34" stroke="#0bee34" stroke-width="0.6"/>
<polygon points="618.1,174.3 623.8,169.6 618.0,163.4 612.2,168.1" fill="#08ef27" stroke="#08ef27" stroke-width="0.6"/>
<polygon points="612.2,168.1 618.0,163.4 612.1,157.5 606.3,162.1" fill="#06ef1f" stroke="#06ef1f" stroke-width="0.6"/>
<polygon points="606.3,162.1 612.1,157.5 606.2,151.8 600.4,156.4" fill="#05ef1a" stroke="#05ef1a" stroke-width="0.6"/>
<polygon points="600.4,156.4 606.2,151.8 600.3,146.3 594.5,150.9" fill="#05ef18" stroke="#05ef18" stroke-width="0.6"/>
<polygon points="594.5,150.9 600.3,146.3 594.3,141.0 588.5,145.6" fill="#05ef1a" stroke="#05ef1a" stroke-width="0.6"/>
<polygon points="588.5,145.6 594.3,141.0 588.3,136.0 582.5,140.6" fill="#07ef20" stroke="#07ef20" stroke-width="0.6"/>
<polygon points="582.5,140.6 588.3,136.0 582.3,131.3 576.5,135.8" fill="#09ef29" stroke="#09ef29" stroke-width="0.6"/>
<polygon points="576.5,135.8 582.3,131.3 576.3,126.8 570.4,131.2" fill="#0bee36" stroke="#0bee36" stroke-width="0.6"/>
<polygon points="570.4,131.2 576.3,126.8 570.3,122.5 564.4,127.0" fill="#0fee47" stroke="#0fee47" stroke-width="0.6"/>
<polygon points="564.4,127.0 570.3,122.5 564.3,118.5 558.4,122.9" fill="#13ed5b" stroke="#13ed5b" stroke-width="0.6"/>
<polygon points="558.4,122.9 564.3,118.5 558.3,114.8 552.4,119.2" fill="#18ec73" stroke="#18ec73" stroke-width="0.6"/>
<polygon points="552.4,119.2 558.3,114.8 552.3,111.4 546.5,115.7" fill="#1eeb8f" stroke="#1eeb8f" stroke-width="0.6"/>
<polygon points="546.5,115.7 552.3,111.4 546.3,108.2 540.5,112.5" fill="#24eaae" stroke="#24eaae" stroke-width="0.6"/>
<polygon points="540.5,112.5 546.3,108.2 540.4,105.3 534.6,109.6" fill="#2be9d1" stroke="#2be9d1" stroke-width="0.6"/>
<polygon points="534.6,109.6 540.4,105.3 534.5,102.7 528.7,106.9" fill="#32e4f2" stroke="#32e4f2" stroke-width="0.6"/>
<polygon points="528.7,106.9 534.5,102.7 528.7,100.3 522.9,104.5" fill="#30c4f0" stroke="#30c4f0" stroke-width="0.6"/>
<polygon points="522.9,104.5 528.7,100.3 522.9,98.3 517.1,102.4" fill="#2ea2ef" stroke="#2ea2ef" stroke-width="0.6"/>
<polygon points="517.1,102.4 522.9,98.3 517.2,96.6 511.4,100.7" fill="#2b7ded" stroke="#2b7ded" stroke-width="0.6"/>
<polygon points="662.9,219.0 668.4,214.2 663.1,206.5 657.6,211.3" fill="#2fe9e1" stroke="#2fe9e1" stroke-width="0.6"/>
<polygon points="657.6,211.3 663.1,206.5 657.7,199.1 652.1,203.8" fill="#27eabf" stroke="#27eabf" stroke-width="0.6"/>
<polygon points="652.1,203.8 657.7,199.1 652.2,191.8 646.6,196.6" fill="#21eba0" stroke="#21eba0" stroke-width="0.6"/>
<polygon points="646.6,196.6 652.2,191.8 646.7,184.7 641.0,189.5" fill="#1bec85" stroke="#1bec85" stroke-width="0.6"/>
<polygon points="641.0,189.5 646.7,184.7 641.0,177.9 635.3,182.7" fill="#17ec6d" stroke="#17ec6d" stroke-width="0.6"/>
<polygon points="635.3,182.7 641.0,177.9 635.3,171.3 629.6,176.0" fill="#12ed5a" stroke="#12ed5a" stroke-width="0.6"/>
<polygon points="629.6,176.0 635.3,171.3 629.6,164.9 623.8,169.6" fill="#0fee49" stroke="#0fee49" stroke-width="0.6"/>
<polygon points="623.8,169.6 629.6,164.9 623.8,158.7 618.0,163.4" fill="#0dee3d" stroke="#0dee3d" stroke-width="0.6"/>
<polygon points="618.0,163.4 623.8,158.7 617.9,152.8 612.1,157.5" fill="#0bee34" stroke="#0bee34" stroke-width="0.6"/>
<polygon points="612.1,157.5 617.9,152.8 612.0,147.1 606.2,151.8" fill="#0aee2e" stroke="#0aee2e" stroke-width="0.6"/>
<polygon points="606.2,151.8 612.0,147.1 606.1,141.6 600.3,146.3" fill="#09ef2d" stroke="#09ef2d" stroke-width="0.6"/>
<polygon points="600.3,146.3 606.1,141.6 600.1,136.4 594.3,141.0" fill="#0aee2e" stroke="#0aee2e" stroke-width="0.6"/>
<polygon points="594.3,141.0 600.1,136.4 594.1,131.5 588.3,136.0" fill="#0bee34" stroke="#0bee34" stroke-width="0.6"/>
<polygon points="588.3,136.0 594.1,131.5 588.1,126.7 582.3,131.3" fill="#0dee3d" stroke="#0dee3d" stroke-width="0.6"/>
<polygon points="582.3,131.3 588.1,126.7 582.1,122.3 576.3,126.8" fill="#0fee4a" stroke="#0fee4a" stroke-width="0.6"/>
<polygon points="576.3,126.8 582.1,122.3 576.1,118.1 570.3,122.5" fill="#13ed5a" stroke="#13ed5a" stroke-width="0.6"/>
<polygon points="570.3,122.5 576.1,118.1 570.1,114.1 564.3,118.5" fill="#17ec6e" stroke="#17ec6e" stroke-width="0.6"/>
<polygon points="564.3,118.5 570.1,114.1 564.1,110.4 558.3,114.8" fill="#1cec86" stroke="#1cec86" stroke-width="0.6"/>
<polygon points="558.3,114.8 564.1,110.4 558.1,107.0 552.3,111.4" fill="#21eba1" stroke="#21eba1" stroke-width="0.6"/>
<polygon points="552.3,111.4 558.1,107.0 552.2,103.9 546.3,108.2" fill="#28eac0" stroke="#28eac0" stroke-width="0.6"/>
<polygon points="546.3,108.2 552.2,103.9 546.2,101.0 540.4,105.3" fill="#2fe8e3" stroke="#2fe8e3" stroke-width="0.6"/>
<polygon points="540.4,105.3 546.2,101.0 540.3,98.4 534.5,102.7" fill="#31d6f1" stroke="#31d6f1" stroke-width="0.6"/>
<polygon points="534.5,102.7 540.3,98.4 534.5,96.1 528.7,100.3" fill="#2fb7f0" stroke="#2fb7f0" stroke-width="0.6"/>
<polygon points="528.7,100.3 534.5,96.1 528.7,94.1 522.9,98.3" fill="#2d95ee" stroke="#2d95ee" stroke-width="0.6"/>
<polygon points="522.9,98.3 528.7,94.1 522.9,92.4 517.2,96.6" fill="#2b70ed" stroke="#2b70ed" stroke-width="0.6"/>
<path d="M522.9 333.4l-1.5-2.1 -1.6-2 -1.6-2.1 -1.6-2 -1.5-2 -1.6-2 -1.6-2 -1.6-2 -1.6-2 -1.6-1.9 -1.5-2 -1.6-2 -1.6-1.9 -1.6-1.9 -1.6-2 -1.6-1.9 -1.6-1.9 -1.6-1.9 -1.6-1.8 -1.6-1.9 -1.6-1.9 -1.6-1.8 -1.6-1.9 -1.6-1.8 -1.6-1.8 -1.6-1.8 -1.6-1.8 -1.6-1.8 -1.5-1.8 -1.6-1.8 -1.6-1.7 -1.6-1.7 -1.6-1.8 -1.6-1.7 -1.6-1.7 -1.6-1.7 -1.6-1.7 -1.6-1.6 -1.6-1.7 -1.6-1.6 -1.5-1.7 -1.6-1.6 -1.6-1.6 -1.6-1.6 -1.6-1.6 -1.5-1.5 -1.6-1.6 -1.6-1.5 -1.5-1.6 -1.6-1.5 -1.6-1.5 -1.5-1.5 -1.6-1.4 -1.5-1.5 -1.6-1.5 -1.5-1.4 -1.6-1.4 -1.5-1.4 -1.6-1.4 -1.5-1.4 -1.5-1.3 -1.5-1.4 -1.6-1.3 -1.5-1.3 -1.5-1.3 -1.5-1.3 -1.5-1.3 -1.5-1.2 -1.5-1.3 -1.5-1.2 -1.5-1.2 -1.5-1.2 -1.5-1.2 -1.4-1.1 -1.5-1.2 -1.5-1.1 -1.4-1.1 -1.5-1.1 -1.4-1.1 -1.5-1 -1.4-1.1 -1.5-1 -1.4-1 -1.4-1 -1.4-1 -1.4-.9 -1.4-1 -1.4-.9 -1.4-.9 -1.4-.9 -1.4-.9 -1.4-.8 -1.3-.8 -1.4-.9 -1.3-.8 -1.4-.7 -1.3-.8 -1.3-.7 -1.4-.8 -1.3-.7M522.9 333.4l1.6-1.2 1.6-1.2 1.5-1.3 1.6-1.2 1.5-1.2 1.6-1.2 1.5-1.2 1.6-1.2 1.5-1.2 1.5-1.2 1.6-1.2 1.5-1.2 1.5-1.2 1.6-1.2 1.5-1.2 1.5-1.2 1.5-1.2 1.6-1.2 1.5-1.2 1.5-1.2 1.5-1.2 1.5-1.2 1.5-1.2 1.5-1.1 1.5-1.2 1.5-1.2 1.5-1.2 1.5-1.2 1.5-1.2 1.5-1.2 1.5-1.2 1.5-1.2 1.4-1.2 1.5-1.1 1.5-1.2 1.5-1.2 1.5-1.2 1.4-1.2 1.5-1.2 1.5-1.2 1.4-1.2 1.5-1.1 1.5-1.2 1.4-1.2 1.5-1.2 1.4-1.2 1.5-1.2 1.4-1.1 1.5-1.2 1.4-1.2 1.5-1.2 1.4-1.2 1.5-1.2 1.4-1.2 1.5-1.1 1.4-1.2 1.4-1.2 1.5-1.2 1.4-1.2 1.4-1.2 1.4-1.1 1.5-1.2 1.4-1.2 1.4-1.2 1.4-1.2 1.5-1.2 1.4-1.2 1.4-1.1 1.4-1.2 1.4-1.2 1.4-1.2 1.5-1.2 1.4-1.2 1.4-1.2 1.4-1.1 1.4-1.2 1.4-1.2 1.4-1.2 1.4-1.2 1.4-1.2 1.4-1.2 1.4-1.2 1.4-1.2 1.4-1.2 1.4-1.1 1.4-1.2 1.3-1.2 1.4-1.2 1.4-1.2 1.4-1.2 1.4-1.2 1.4-1.2 1.4-1.2 1.3-1.2 1.4-1.2 1.4-1.2 1.4-1.2 1.4-1.2 1.3-1.2 1.4-1.2M524.5 332.2l-1.6-2.1 -1.5-2 -1.6-2.1 -1.6-2 -1.6-2 -1.5-2 -1.6-2 -1.6-2 -1.6-2 -1.6-1.9 -1.6-2 -1.5-1.9 -1.6-2 -1.6-1.9 -1.6-1.9 -1.6-1.9 -1.6-1.9 -1.6-1.9 -1.6-1.9 -1.6-1.9 -1.6-1.8 -1.6-1.9 -1.6-1.8 -1.6-1.9 -1.5-1.8 -1.6-1.8 -1.6-1.8 -1.6-1.8 -1.6-1.7 -1.6-1.8 -1.6-1.7 -1.6-1.8 -1.6-1.7 -1.6-1.7 -1.6-1.7 -1.6-1.7 -1.6-1.7 -1.5-1.6 -1.6-1.7 -1.6-1.6 -1.6-1.7 -1.6-1.6 -1.6-1.6 -1.5-1.6 -1.6-1.6 -1.6-1.5 -1.6-1.6 -1.5-1.5 -1.6-1.5 -1.6-1.5 -1.5-1.5 -1.6-1.5 -1.5-1.5 -1.6-1.5 -1.5-1.4 -1.6-1.4 -1.5-1.4 -1.6-1.4 -1.5-1.4 -1.5-1.4 -1.6-1.3 -1.5-1.4 -1.5-1.3 -1.5-1.3 -1.6-1.3 -1.5-1.3 -1.5-1.3 -1.5-1.2 -1.5-1.3 -1.5-1.2 -1.5-1.2 -1.4-1.2 -1.5-1.1 -1.5-1.2 -1.5-1.1 -1.4-1.1 -1.5-1.2 -1.4-1 -1.5-1.1 -1.4-1.1 -1.5-1 -1.4-1 -1.4-1 -1.5-1 -1.4-1 -1.4-1 -1.4-.9 -1.4-.9 -1.4-.9 -1.4-.9 -1.3-.9 -1.4-.8 -1.4-.8 -1.3-.9 -1.4-.7 -1.3-.8 -1.4-.8 -1.3-.7 -1.3-.7 -1.3-.7M521.4 331.3l1.5-1.2 1.6-1.2 1.6-1.2 1.5-1.2 1.6-1.2 1.5-1.2 1.6-1.2 1.5-1.2 1.6-1.2 1.5-1.2 1.5-1.2 1.6-1.2 1.5-1.2 1.5-1.2 1.6-1.2 1.5-1.2 1.5-1.2 1.5-1.2 1.6-1.2 1.5-1.2 1.5-1.2 1.5-1.2 1.5-1.2 1.5-1.2 1.5-1.1 1.5-1.2 1.5-1.2 1.5-1.2 1.5-1.2 1.5-1.2 1.5-1.2 1.5-1.2 1.5-1.1 1.4-1.2 1.5-1.2 1.5-1.2 1.5-1.2 1.5-1.2 1.4-1.2 1.5-1.1 1.5-1.2 1.4-1.2 1.5-1.2 1.5-1.2 1.4-1.2 1.5-1.2 1.4-1.1 1.5-1.2 1.4-1.2 1.5-1.2 1.4-1.2 1.5-1.2 1.4-1.1 1.5-1.2 1.4-1.2 1.5-1.2 1.4-1.2 1.4-1.2 1.5-1.1 1.4-1.2 1.4-1.2 1.5-1.2 1.4-1.2 1.4-1.2 1.4-1.1 1.5-1.2 1.4-1.2 1.4-1.2 1.4-1.2 1.4-1.2 1.5-1.1 1.4-1.2 1.4-1.2 1.4-1.2 1.4-1.2 1.4-1.2 1.4-1.2 1.4-1.2 1.4-1.1 1.4-1.2 1.4-1.2 1.4-1.2 1.4-1.2 1.4-1.2 1.4-1.2 1.4-1.2 1.4-1.2 1.4-1.2 1.4-1.2 1.4-1.2 1.4-1.2 1.3-1.1 1.4-1.2 1.4-1.2 1.4-1.2 1.4-1.2 1.4-1.2 1.3-1.2 1.4-1.2 1.4-1.2M526.1 331l-1.6-2.1 -1.6-2 -1.5-2.1 -1.6-2 -1.6-2 -1.6-2 -1.5-2 -1.6-2 -1.6-1.9 -1.6-2 -1.6-2 -1.5-1.9 -1.6-2 -1.6-1.9 -1.6-1.9 -1.6-1.9 -1.6-1.9 -1.6-1.9 -1.6-1.9 -1.6-1.8 -1.6-1.9 -1.6-1.8 -1.5-1.9 -1.6-1.8 -1.6-1.8 -1.6-1.8 -1.6-1.8 -1.6-1.8 -1.6-1.8 -1.6-1.7 -1.6-1.8 -1.6-1.7 -1.6-1.7 -1.6-1.7 -1.6-1.7 -1.5-1.7 -1.6-1.7 -1.6-1.7 -1.6-1.6 -1.6-1.6 -1.6-1.7 -1.5-1.6 -1.6-1.6 -1.6-1.6 -1.6-1.5 -1.5-1.6 -1.6-1.5 -1.6-1.6 -1.5-1.5 -1.6-1.5 -1.6-1.5 -1.5-1.5 -1.6-1.5 -1.5-1.4 -1.6-1.4 -1.5-1.5 -1.6-1.4 -1.5-1.4 -1.6-1.4 -1.5-1.3 -1.5-1.4 -1.5-1.3 -1.6-1.3 -1.5-1.3 -1.5-1.3 -1.5-1.3 -1.5-1.3 -1.5-1.2 -1.5-1.2 -1.5-1.3 -1.5-1.2 -1.5-1.1 -1.5-1.2 -1.4-1.2 -1.5-1.1 -1.5-1.1 -1.4-1.1 -1.5-1.1 -1.4-1.1 -1.5-1 -1.4-1.1 -1.5-1 -1.4-1 -1.4-1 -1.4-.9 -1.4-1 -1.4-.9 -1.4-.9 -1.4-.9 -1.4-.9 -1.4-.9 -1.4-.8 -1.3-.8 -1.4-.9 -1.3-.7 -1.4-.8 -1.3-.8 -1.4-.7 -1.3-.7 -1.3-.7M519.8 329.3l1.6-1.2 1.5-1.2 1.6-1.2 1.5-1.2 1.6-1.2 1.6-1.2 1.5-1.2 1.6-1.2 1.5-1.2 1.5-1.2 1.6-1.2 1.5-1.2 1.6-1.2 1.5-1.2 1.5-1.2 1.6-1.2 1.5-1.2 1.5-1.2 1.5-1.2 1.5-1.2 1.6-1.2 1.5-1.2 1.5-1.2 1.5-1.1 1.5-1.2 1.5-1.2 1.5-1.2 1.5-1.2 1.5-1.2 1.5-1.2 1.5-1.2 1.5-1.1 1.5-1.2 1.5-1.2 1.4-1.2 1.5-1.2 1.5-1.2 1.5-1.2 1.5-1.1 1.4-1.2 1.5-1.2 1.5-1.2 1.4-1.2 1.5-1.2 1.5-1.1 1.4-1.2 1.5-1.2 1.4-1.2 1.5-1.2 1.4-1.1 1.5-1.2 1.5-1.2 1.4-1.2 1.4-1.2 1.5-1.2 1.4-1.1 1.5-1.2 1.4-1.2 1.4-1.2 1.5-1.2 1.4-1.1 1.4-1.2 1.5-1.2 1.4-1.2 1.4-1.2 1.5-1.2 1.4-1.1 1.4-1.2 1.4-1.2 1.4-1.2 1.5-1.2 1.4-1.2 1.4-1.2 1.4-1.1 1.4-1.2 1.4-1.2 1.4-1.2 1.4-1.2 1.4-1.2 1.4-1.2 1.5-1.2 1.4-1.1 1.4-1.2 1.4-1.2 1.3-1.2 1.4-1.2 1.4-1.2 1.4-1.2 1.4-1.2 1.4-1.2 1.4-1.2 1.4-1.2 1.4-1.2 1.4-1.2 1.4-1.2 1.3-1.2 1.4-1.2 1.4-1.2 1.4-1.2 1.4-1.2M527.6 329.7l-1.5-2 -1.6-2 -1.6-2.1 -1.5-2 -1.6-2 -1.6-2 -1.6-2 -1.5-2 -1.6-1.9 -1.6-2 -1.6-2 -1.6-1.9 -1.5-1.9 -1.6-2 -1.6-1.9 -1.6-1.9 -1.6-1.9 -1.6-1.9 -1.6-1.8 -1.6-1.9 -1.6-1.8 -1.5-1.9 -1.6-1.8 -1.6-1.8 -1.6-1.9 -1.6-1.8 -1.6-1.7 -1.6-1.8 -1.6-1.8 -1.6-1.7 -1.6-1.8 -1.6-1.7 -1.5-1.7 -1.6-1.7 -1.6-1.7 -1.6-1.7 -1.6-1.7 -1.6-1.7 -1.6-1.6 -1.5-1.6 -1.6-1.7 -1.6-1.6 -1.6-1.6 -1.6-1.5 -1.5-1.6 -1.6-1.6 -1.6-1.5 -1.5-1.6 -1.6-1.5 -1.6-1.5 -1.5-1.5 -1.6-1.4 -1.5-1.5 -1.6-1.5 -1.5-1.4 -1.6-1.4 -1.5-1.4 -1.6-1.4 -1.5-1.4 -1.5-1.3 -1.6-1.4 -1.5-1.3 -1.5-1.3 -1.5-1.3 -1.6-1.3 -1.5-1.3 -1.5-1.3 -1.5-1.2 -1.5-1.2 -1.5-1.2 -1.5-1.2 -1.4-1.2 -1.5-1.2 -1.5-1.1 -1.5-1.2 -1.4-1.1 -1.5-1.1 -1.4-1.1 -1.5-1 -1.4-1.1 -1.5-1 -1.4-1 -1.4-1 -1.5-1 -1.4-1 -1.4-.9 -1.4-.9 -1.4-1 -1.4-.8 -1.4-.9 -1.4-.9 -1.3-.8 -1.4-.8 -1.4-.8 -1.3-.8 -1.4-.8 -1.3-.7 -1.3-.8 -1.4-.7 -1.3-.7M518.2 327.2l1.6-1.2 1.6-1.2 1.5-1.2 1.6-1.2 1.5-1.2 1.6-1.2 1.6-1.2 1.5-1.2 1.6-1.2 1.5-1.2 1.5-1.1 1.6-1.2 1.5-1.2 1.6-1.2 1.5-1.2 1.5-1.2 1.6-1.2 1.5-1.2 1.5-1.2 1.5-1.2 1.5-1.2 1.6-1.2 1.5-1.1 1.5-1.2 1.5-1.2 1.5-1.2 1.5-1.2 1.5-1.2 1.5-1.2 1.5-1.1 1.5-1.2 1.5-1.2 1.5-1.2 1.5-1.2 1.5-1.2 1.4-1.2 1.5-1.1 1.5-1.2 1.5-1.2 1.5-1.2 1.4-1.2 1.5-1.1 1.5-1.2 1.4-1.2 1.5-1.2 1.5-1.2 1.4-1.2 1.5-1.1 1.4-1.2 1.5-1.2 1.5-1.2 1.4-1.2 1.5-1.1 1.4-1.2 1.5-1.2 1.4-1.2 1.4-1.2 1.5-1.1 1.4-1.2 1.5-1.2 1.4-1.2 1.4-1.2 1.5-1.1 1.4-1.2 1.4-1.2 1.4-1.2 1.5-1.2 1.4-1.2 1.4-1.1 1.4-1.2 1.5-1.2 1.4-1.2 1.4-1.2 1.4-1.2 1.4-1.2 1.4-1.1 1.4-1.2 1.5-1.2 1.4-1.2 1.4-1.2 1.4-1.2 1.4-1.2 1.4-1.2 1.4-1.1 1.4-1.2 1.4-1.2 1.4-1.2 1.4-1.2 1.4-1.2 1.4-1.2 1.4-1.2 1.3-1.2 1.4-1.2 1.4-1.2 1.4-1.2 1.4-1.2 1.4-1.2 1.4-1.2 1.3-1.2 1.4-1.2M529.2 328.5l-1.6-2 -1.6-2 -1.5-2.1 -1.6-2 -1.5-2 -1.6-2 -1.6-2 -1.6-2 -1.5-1.9 -1.6-2 -1.6-1.9 -1.6-2 -1.6-1.9 -1.5-1.9 -1.6-1.9 -1.6-1.9 -1.6-1.9 -1.6-1.9 -1.6-1.9 -1.6-1.9 -1.6-1.8 -1.5-1.8 -1.6-1.9 -1.6-1.8 -1.6-1.8 -1.6-1.8 -1.6-1.8 -1.6-1.8 -1.6-1.7 -1.6-1.8 -1.6-1.7 -1.5-1.7 -1.6-1.8 -1.6-1.7 -1.6-1.7 -1.6-1.6 -1.6-1.7 -1.6-1.7 -1.5-1.6 -1.6-1.6 -1.6-1.7 -1.6-1.6 -1.6-1.6 -1.5-1.5 -1.6-1.6 -1.6-1.6 -1.5-1.5 -1.6-1.5 -1.6-1.5 -1.5-1.5 -1.6-1.5 -1.5-1.5 -1.6-1.5 -1.5-1.4 -1.6-1.4 -1.5-1.4 -1.6-1.5 -1.5-1.3 -1.6-1.4 -1.5-1.4 -1.5-1.3 -1.5-1.3 -1.6-1.4 -1.5-1.3 -1.5-1.2 -1.5-1.3 -1.5-1.3 -1.5-1.2 -1.5-1.2 -1.5-1.2 -1.5-1.2 -1.5-1.2 -1.5-1.2 -1.4-1.1 -1.5-1.1 -1.5-1.1 -1.4-1.1 -1.5-1.1 -1.5-1.1 -1.4-1 -1.4-1.1 -1.5-1 -1.4-1 -1.4-.9 -1.4-1 -1.5-.9 -1.4-1 -1.4-.9 -1.4-.9 -1.3-.8 -1.4-.9 -1.4-.8 -1.4-.8 -1.3-.8 -1.4-.8 -1.3-.8 -1.4-.7 -1.3-.8 -1.3-.7 -1.3-.7M516.6 325.2l1.6-1.2 1.6-1.2 1.6-1.2 1.5-1.2 1.6-1.2 1.5-1.2 1.6-1.2 1.5-1.2 1.6-1.2 1.5-1.2 1.6-1.1 1.5-1.2 1.6-1.2 1.5-1.2 1.6-1.2 1.5-1.2 1.5-1.2 1.5-1.2 1.6-1.2 1.5-1.2 1.5-1.1 1.5-1.2 1.5-1.2 1.6-1.2 1.5-1.2 1.5-1.2 1.5-1.2 1.5-1.1 1.5-1.2 1.5-1.2 1.5-1.2 1.5-1.2 1.5-1.2 1.5-1.1 1.5-1.2 1.4-1.2 1.5-1.2 1.5-1.2 1.5-1.2 1.5-1.1 1.5-1.2 1.4-1.2 1.5-1.2 1.5-1.2 1.4-1.1 1.5-1.2 1.5-1.2 1.4-1.2 1.5-1.2 1.4-1.1 1.5-1.2 1.5-1.2 1.4-1.2 1.5-1.1 1.4-1.2 1.5-1.2 1.4-1.2 1.4-1.2 1.5-1.1 1.4-1.2 1.5-1.2 1.4-1.2 1.4-1.2 1.5-1.2 1.4-1.1 1.4-1.2 1.5-1.2 1.4-1.2 1.4-1.2 1.4-1.1 1.5-1.2 1.4-1.2 1.4-1.2 1.4-1.2 1.4-1.2 1.4-1.2 1.5-1.1 1.4-1.2 1.4-1.2 1.4-1.2 1.4-1.2 1.4-1.2 1.4-1.2 1.4-1.2 1.4-1.1 1.4-1.2 1.4-1.2 1.4-1.2 1.4-1.2 1.4-1.2 1.4-1.2 1.4-1.2 1.4-1.2 1.4-1.2 1.4-1.2 1.4-1.2 1.3-1.2 1.4-1.2 1.4-1.2 1.4-1.2M530.7 327.3l-1.5-2 -1.6-2 -1.6-2.1 -1.5-2 -1.6-2 -1.6-2 -1.5-2 -1.6-1.9 -1.6-2 -1.5-2 -1.6-1.9 -1.6-2 -1.6-1.9 -1.6-1.9 -1.5-1.9 -1.6-1.9 -1.6-1.9 -1.6-1.9 -1.6-1.9 -1.6-1.8 -1.6-1.9 -1.5-1.8 -1.6-1.8 -1.6-1.8 -1.6-1.8 -1.6-1.8 -1.6-1.8 -1.6-1.8 -1.6-1.8 -1.6-1.7 -1.5-1.7 -1.6-1.8 -1.6-1.7 -1.6-1.7 -1.6-1.7 -1.6-1.6 -1.5-1.7 -1.6-1.7 -1.6-1.6 -1.6-1.6 -1.6-1.6 -1.5-1.6 -1.6-1.6 -1.6-1.6 -1.6-1.6 -1.5-1.5 -1.6-1.6 -1.6-1.5 -1.5-1.5 -1.6-1.5 -1.6-1.5 -1.5-1.5 -1.6-1.4 -1.5-1.4 -1.6-1.5 -1.5-1.4 -1.5-1.4 -1.6-1.4 -1.5-1.3 -1.6-1.4 -1.5-1.3 -1.5-1.4 -1.5-1.3 -1.5-1.3 -1.6-1.3 -1.5-1.2 -1.5-1.3 -1.5-1.2 -1.5-1.2 -1.5-1.2 -1.5-1.2 -1.4-1.2 -1.5-1.1 -1.5-1.2 -1.5-1.1 -1.4-1.1 -1.5-1.1 -1.5-1.1 -1.4-1 -1.5-1.1 -1.4-1 -1.4-1 -1.5-1 -1.4-1 -1.4-.9 -1.4-1 -1.4-.9 -1.4-.9 -1.4-.9 -1.4-.8 -1.4-.9 -1.4-.8 -1.3-.8 -1.4-.8 -1.3-.8 -1.4-.8 -1.3-.7 -1.4-.7 -1.3-.7 -1.3-.7M515.1 323.2l1.5-1.2 1.6-1.2 1.6-1.2 1.6-1.2 1.5-1.2 1.6-1.2 1.5-1.2 1.6-1.2 1.5-1.2 1.6-1.1 1.5-1.2 1.6-1.2 1.5-1.2 1.6-1.2 1.5-1.2 1.5-1.2 1.6-1.2 1.5-1.2 1.5-1.1 1.6-1.2 1.5-1.2 1.5-1.2 1.5-1.2 1.5-1.2 1.6-1.2 1.5-1.1 1.5-1.2 1.5-1.2 1.5-1.2 1.5-1.2 1.5-1.2 1.5-1.1 1.5-1.2 1.5-1.2 1.5-1.2 1.5-1.2 1.4-1.1 1.5-1.2 1.5-1.2 1.5-1.2 1.5-1.1 1.4-1.2 1.5-1.2 1.5-1.2 1.5-1.2 1.4-1.1 1.5-1.2 1.5-1.2 1.4-1.2 1.5-1.2 1.4-1.1 1.5-1.2 1.5-1.2 1.4-1.2 1.5-1.1 1.4-1.2 1.5-1.2 1.4-1.2 1.5-1.2 1.4-1.1 1.4-1.2 1.5-1.2 1.4-1.2 1.4-1.2 1.5-1.1 1.4-1.2 1.4-1.2 1.5-1.2 1.4-1.2 1.4-1.1 1.4-1.2 1.5-1.2 1.4-1.2 1.4-1.2 1.4-1.2 1.4-1.2 1.5-1.1 1.4-1.2 1.4-1.2 1.4-1.2 1.4-1.2 1.4-1.2 1.4-1.2 1.4-1.1 1.4-1.2 1.4-1.2 1.4-1.2 1.4-1.2 1.4-1.2 1.4-1.2 1.4-1.2 1.4-1.2 1.4-1.2 1.4-1.2 1.4-1.2 1.4-1.2 1.4-1.2 1.4-1.2 1.4-1.2 1.4-1.2M532.3 326.1l-1.6-2 -1.5-2 -1.6-2.1 -1.6-2 -1.5-2 -1.6-2 -1.6-2 -1.5-1.9 -1.6-2 -1.6-1.9 -1.5-2 -1.6-1.9 -1.6-2 -1.6-1.9 -1.6-1.9 -1.5-1.9 -1.6-1.9 -1.6-1.8 -1.6-1.9 -1.6-1.9 -1.6-1.8 -1.5-1.8 -1.6-1.9 -1.6-1.8 -1.6-1.8 -1.6-1.8 -1.6-1.8 -1.6-1.7 -1.6-1.8 -1.5-1.7 -1.6-1.8 -1.6-1.7 -1.6-1.7 -1.6-1.7 -1.6-1.7 -1.5-1.7 -1.6-1.6 -1.6-1.7 -1.6-1.6 -1.6-1.6 -1.5-1.6 -1.6-1.6 -1.6-1.6 -1.6-1.6 -1.5-1.6 -1.6-1.5 -1.6-1.5 -1.5-1.6 -1.6-1.5 -1.6-1.5 -1.5-1.4 -1.6-1.5 -1.5-1.5 -1.6-1.4 -1.5-1.4 -1.6-1.4 -1.5-1.4 -1.5-1.4 -1.6-1.4 -1.5-1.3 -1.5-1.4 -1.6-1.3 -1.5-1.3 -1.5-1.3 -1.5-1.3 -1.5-1.2 -1.5-1.3 -1.5-1.2 -1.5-1.2 -1.5-1.2 -1.5-1.2 -1.5-1.2 -1.5-1.1 -1.5-1.2 -1.4-1.1 -1.5-1.1 -1.5-1.1 -1.4-1 -1.5-1.1 -1.4-1 -1.5-1.1 -1.4-1 -1.4-.9 -1.4-1 -1.5-1 -1.4-.9 -1.4-.9 -1.4-.9 -1.4-.9 -1.4-.9 -1.4-.8 -1.3-.8 -1.4-.8 -1.4-.8 -1.3-.8 -1.4-.8 -1.3-.7 -1.3-.7 -1.4-.7 -1.3-.7M513.5 321.2l1.6-1.2 1.5-1.2 1.6-1.2 1.6-1.2 1.5-1.2 1.6-1.2 1.6-1.2 1.5-1.2 1.6-1.1 1.5-1.2 1.6-1.2 1.5-1.2 1.6-1.2 1.5-1.2 1.6-1.2 1.5-1.2 1.5-1.1 1.6-1.2 1.5-1.2 1.5-1.2 1.6-1.2 1.5-1.2 1.5-1.1 1.5-1.2 1.5-1.2 1.6-1.2 1.5-1.2 1.5-1.2 1.5-1.1 1.5-1.2 1.5-1.2 1.5-1.2 1.5-1.2 1.5-1.1 1.5-1.2 1.5-1.2 1.5-1.2 1.4-1.1 1.5-1.2 1.5-1.2 1.5-1.2 1.5-1.2 1.4-1.1 1.5-1.2 1.5-1.2 1.5-1.2 1.4-1.1 1.5-1.2 1.5-1.2 1.4-1.2 1.5-1.1 1.4-1.2 1.5-1.2 1.5-1.2 1.4-1.2 1.5-1.1 1.4-1.2 1.5-1.2 1.4-1.2 1.5-1.1 1.4-1.2 1.4-1.2 1.5-1.2 1.4-1.2 1.5-1.1 1.4-1.2 1.4-1.2 1.5-1.2 1.4-1.2 1.4-1.1 1.4-1.2 1.5-1.2 1.4-1.2 1.4-1.2 1.4-1.2 1.4-1.1 1.5-1.2 1.4-1.2 1.4-1.2 1.4-1.2 1.4-1.2 1.4-1.2 1.4-1.1 1.4-1.2 1.5-1.2 1.4-1.2 1.4-1.2 1.4-1.2 1.4-1.2 1.4-1.2 1.4-1.2 1.4-1.2 1.4-1.2 1.4-1.1 1.4-1.2 1.3-1.2 1.4-1.2 1.4-1.2 1.4-1.2 1.4-1.2M533.8 324.9l-1.5-2 -1.6-2 -1.5-2.1 -1.6-2 -1.6-2 -1.5-2 -1.6-1.9 -1.6-2 -1.5-2 -1.6-1.9 -1.6-2 -1.5-1.9 -1.6-1.9 -1.6-2 -1.6-1.9 -1.6-1.9 -1.5-1.8 -1.6-1.9 -1.6-1.9 -1.6-1.8 -1.6-1.9 -1.6-1.8 -1.5-1.8 -1.6-1.8 -1.6-1.8 -1.6-1.8 -1.6-1.8 -1.6-1.8 -1.5-1.7 -1.6-1.8 -1.6-1.7 -1.6-1.7 -1.6-1.7 -1.6-1.7 -1.5-1.7 -1.6-1.7 -1.6-1.6 -1.6-1.7 -1.6-1.6 -1.5-1.6 -1.6-1.6 -1.6-1.6 -1.6-1.6 -1.5-1.6 -1.6-1.5 -1.6-1.6 -1.5-1.5 -1.6-1.5 -1.6-1.5 -1.5-1.5 -1.6-1.5 -1.5-1.5 -1.6-1.4 -1.5-1.4 -1.6-1.5 -1.5-1.4 -1.6-1.4 -1.5-1.3 -1.5-1.4 -1.6-1.4 -1.5-1.3 -1.5-1.3 -1.6-1.3 -1.5-1.3 -1.5-1.3 -1.5-1.2 -1.5-1.3 -1.5-1.2 -1.5-1.2 -1.5-1.2 -1.5-1.2 -1.5-1.2 -1.5-1.1 -1.4-1.1 -1.5-1.1 -1.5-1.1 -1.4-1.1 -1.5-1.1 -1.4-1.1 -1.5-1 -1.4-1 -1.5-1 -1.4-1 -1.4-.9 -1.4-1 -1.4-.9 -1.5-.9 -1.4-.9 -1.4-.9 -1.3-.9 -1.4-.8 -1.4-.8 -1.4-.9 -1.3-.7 -1.4-.8 -1.3-.8 -1.4-.7 -1.3-.7 -1.3-.7 -1.4-.7M511.9 319.2l1.6-1.2 1.6-1.2 1.5-1.2 1.6-1.2 1.6-1.2 1.5-1.2 1.6-1.1 1.6-1.2 1.5-1.2 1.6-1.2 1.5-1.2 1.6-1.2 1.5-1.2 1.6-1.2 1.5-1.1 1.6-1.2 1.5-1.2 1.5-1.2 1.6-1.2 1.5-1.2 1.5-1.1 1.6-1.2 1.5-1.2 1.5-1.2 1.5-1.2 1.5-1.1 1.5-1.2 1.6-1.2 1.5-1.2 1.5-1.2 1.5-1.1 1.5-1.2 1.5-1.2 1.5-1.2 1.5-1.1 1.5-1.2 1.5-1.2 1.4-1.2 1.5-1.1 1.5-1.2 1.5-1.2 1.5-1.2 1.5-1.1 1.4-1.2 1.5-1.2 1.5-1.2 1.5-1.1 1.4-1.2 1.5-1.2 1.5-1.2 1.4-1.2 1.5-1.1 1.4-1.2 1.5-1.2 1.5-1.2 1.4-1.1 1.5-1.2 1.4-1.2 1.5-1.2 1.4-1.1 1.5-1.2 1.4-1.2 1.4-1.2 1.5-1.1 1.4-1.2 1.5-1.2 1.4-1.2 1.4-1.2 1.5-1.1 1.4-1.2 1.4-1.2 1.4-1.2 1.5-1.2 1.4-1.1 1.4-1.2 1.4-1.2 1.5-1.2 1.4-1.2 1.4-1.2 1.4-1.2 1.4-1.1 1.4-1.2 1.4-1.2 1.5-1.2 1.4-1.2 1.4-1.2 1.4-1.2 1.4-1.2 1.4-1.1 1.4-1.2 1.4-1.2 1.4-1.2 1.4-1.2 1.4-1.2 1.4-1.2 1.4-1.2 1.4-1.2 1.4-1.2 1.4-1.2 1.4-1.2M535.4 323.7l-1.6-2 -1.5-2 -1.6-2.1 -1.6-2 -1.5-2 -1.6-2 -1.5-1.9 -1.6-2 -1.6-2 -1.5-1.9 -1.6-2 -1.6-1.9 -1.5-1.9 -1.6-1.9 -1.6-1.9 -1.6-1.9 -1.6-1.9 -1.5-1.9 -1.6-1.8 -1.6-1.9 -1.6-1.8 -1.6-1.9 -1.5-1.8 -1.6-1.8 -1.6-1.8 -1.6-1.8 -1.6-1.7 -1.6-1.8 -1.5-1.7 -1.6-1.8 -1.6-1.7 -1.6-1.7 -1.6-1.7 -1.6-1.7 -1.5-1.7 -1.6-1.7 -1.6-1.6 -1.6-1.7 -1.6-1.6 -1.5-1.6 -1.6-1.6 -1.6-1.6 -1.5-1.6 -1.6-1.6 -1.6-1.5 -1.6-1.6 -1.5-1.5 -1.6-1.5 -1.5-1.5 -1.6-1.5 -1.6-1.5 -1.5-1.4 -1.6-1.5 -1.5-1.4 -1.6-1.4 -1.5-1.4 -1.5-1.4 -1.6-1.4 -1.5-1.3 -1.5-1.4 -1.6-1.3 -1.5-1.3 -1.5-1.3 -1.5-1.3 -1.5-1.3 -1.6-1.2 -1.5-1.3 -1.5-1.2 -1.5-1.2 -1.5-1.2 -1.5-1.2 -1.4-1.1 -1.5-1.2 -1.5-1.1 -1.5-1.1 -1.4-1.1 -1.5-1.1 -1.5-1.1 -1.4-1 -1.4-1 -1.5-1.1 -1.4-.9 -1.5-1 -1.4-1 -1.4-.9 -1.4-1 -1.4-.9 -1.4-.9 -1.4-.8 -1.4-.9 -1.4-.8 -1.4-.9 -1.3-.8 -1.4-.7 -1.4-.8 -1.3-.8 -1.4-.7 -1.3-.7 -1.3-.7 -1.4-.7M510.3 317.2l1.6-1.2 1.6-1.2 1.6-1.2 1.5-1.2 1.6-1.1 1.6-1.2 1.5-1.2 1.6-1.2 1.6-1.2 1.5-1.2 1.6-1.2 1.5-1.1 1.6-1.2 1.5-1.2 1.6-1.2 1.5-1.2 1.6-1.2 1.5-1.1 1.5-1.2 1.6-1.2 1.5-1.2 1.5-1.2 1.5-1.1 1.6-1.2 1.5-1.2 1.5-1.2 1.5-1.1 1.5-1.2 1.5-1.2 1.6-1.2 1.5-1.2 1.5-1.1 1.5-1.2 1.5-1.2 1.5-1.2 1.5-1.1 1.5-1.2 1.5-1.2 1.4-1.2 1.5-1.1 1.5-1.2 1.5-1.2 1.5-1.2 1.5-1.1 1.4-1.2 1.5-1.2 1.5-1.1 1.5-1.2 1.4-1.2 1.5-1.2 1.5-1.1 1.4-1.2 1.5-1.2 1.4-1.2 1.5-1.1 1.5-1.2 1.4-1.2 1.5-1.2 1.4-1.1 1.5-1.2 1.4-1.2 1.5-1.2 1.4-1.1 1.4-1.2 1.5-1.2 1.4-1.2 1.5-1.2 1.4-1.1 1.4-1.2 1.5-1.2 1.4-1.2 1.4-1.2 1.5-1.1 1.4-1.2 1.4-1.2 1.4-1.2 1.5-1.2 1.4-1.1 1.4-1.2 1.4-1.2 1.4-1.2 1.4-1.2 1.5-1.2 1.4-1.2 1.4-1.1 1.4-1.2 1.4-1.2 1.4-1.2 1.4-1.2 1.4-1.2 1.4-1.2 1.4-1.2 1.4-1.2 1.4-1.2 1.4-1.2 1.4-1.2 1.4-1.1 1.4-1.2 1.4-1.2 1.4-1.2M536.9 322.5l-1.5-2 -1.6-2 -1.5-2.1 -1.6-2 -1.6-2 -1.5-1.9 -1.6-2 -1.5-2 -1.6-1.9 -1.6-2 -1.5-1.9 -1.6-2 -1.6-1.9 -1.5-1.9 -1.6-1.9 -1.6-1.9 -1.6-1.9 -1.6-1.8 -1.5-1.9 -1.6-1.8 -1.6-1.9 -1.6-1.8 -1.6-1.8 -1.5-1.8 -1.6-1.8 -1.6-1.8 -1.6-1.8 -1.6-1.7 -1.5-1.8 -1.6-1.7 -1.6-1.7 -1.6-1.8 -1.6-1.7 -1.5-1.6 -1.6-1.7 -1.6-1.7 -1.6-1.6 -1.6-1.7 -1.5-1.6 -1.6-1.6 -1.6-1.6 -1.6-1.6 -1.5-1.6 -1.6-1.6 -1.6-1.5 -1.5-1.5 -1.6-1.6 -1.6-1.5 -1.5-1.5 -1.6-1.5 -1.5-1.4 -1.6-1.5 -1.5-1.4 -1.6-1.4 -1.5-1.5 -1.6-1.4 -1.5-1.3 -1.5-1.4 -1.6-1.4 -1.5-1.3 -1.5-1.3 -1.6-1.3 -1.5-1.3 -1.5-1.3 -1.5-1.3 -1.5-1.2 -1.5-1.3 -1.5-1.2 -1.5-1.2 -1.5-1.2 -1.5-1.2 -1.5-1.1 -1.5-1.2 -1.5-1.1 -1.4-1.1 -1.5-1.1 -1.5-1.1 -1.4-1 -1.5-1.1 -1.4-1 -1.5-1 -1.4-1 -1.4-1 -1.5-.9 -1.4-1 -1.4-.9 -1.4-.9 -1.4-.9 -1.4-.9 -1.4-.8 -1.4-.8 -1.4-.9 -1.3-.8 -1.4-.7 -1.3-.8 -1.4-.8 -1.3-.7 -1.4-.7 -1.3-.7 -1.3-.7M508.7 315.2l1.6-1.2 1.6-1.1 1.6-1.2 1.6-1.2 1.5-1.2 1.6-1.2 1.6-1.2 1.5-1.2 1.6-1.1 1.6-1.2 1.5-1.2 1.6-1.2 1.5-1.2 1.6-1.2 1.5-1.1 1.6-1.2 1.5-1.2 1.5-1.2 1.6-1.2 1.5-1.1 1.6-1.2 1.5-1.2 1.5-1.2 1.5-1.1 1.6-1.2 1.5-1.2 1.5-1.2 1.5-1.1 1.5-1.2 1.5-1.2 1.6-1.2 1.5-1.1 1.5-1.2 1.5-1.2 1.5-1.2 1.5-1.1 1.5-1.2 1.5-1.2 1.4-1.2 1.5-1.1 1.5-1.2 1.5-1.2 1.5-1.1 1.5-1.2 1.5-1.2 1.4-1.2 1.5-1.1 1.5-1.2 1.5-1.2 1.4-1.2 1.5-1.1 1.5-1.2 1.4-1.2 1.5-1.1 1.4-1.2 1.5-1.2 1.5-1.2 1.4-1.1 1.5-1.2 1.4-1.2 1.5-1.2 1.4-1.1 1.5-1.2 1.4-1.2 1.4-1.2 1.5-1.1 1.4-1.2 1.5-1.2 1.4-1.2 1.4-1.2 1.5-1.1 1.4-1.2 1.4-1.2 1.5-1.2 1.4-1.2 1.4-1.1 1.4-1.2 1.5-1.2 1.4-1.2 1.4-1.2 1.4-1.1 1.4-1.2 1.5-1.2 1.4-1.2 1.4-1.2 1.4-1.2 1.4-1.2 1.4-1.1 1.4-1.2 1.4-1.2 1.4-1.2 1.4-1.2 1.4-1.2 1.4-1.2 1.4-1.2 1.4-1.2 1.4-1.2 1.4-1.2 1.4-1.2 1.4-1.2M538.4 321.3l-1.5-2 -1.6-2 -1.5-2.1 -1.6-2 -1.5-1.9 -1.6-2 -1.5-2 -1.6-2 -1.5-1.9 -1.6-2 -1.6-1.9 -1.5-1.9 -1.6-2 -1.6-1.9 -1.6-1.9 -1.5-1.9 -1.6-1.8 -1.6-1.9 -1.5-1.8 -1.6-1.9 -1.6-1.8 -1.6-1.9 -1.6-1.8 -1.5-1.8 -1.6-1.8 -1.6-1.7 -1.6-1.8 -1.6-1.8 -1.5-1.7 -1.6-1.7 -1.6-1.8 -1.6-1.7 -1.6-1.7 -1.5-1.7 -1.6-1.6 -1.6-1.7 -1.6-1.6 -1.6-1.7 -1.5-1.6 -1.6-1.6 -1.6-1.6 -1.5-1.6 -1.6-1.6 -1.6-1.5 -1.5-1.6 -1.6-1.5 -1.6-1.5 -1.5-1.5 -1.6-1.5 -1.6-1.5 -1.5-1.5 -1.6-1.4 -1.5-1.5 -1.6-1.4 -1.5-1.4 -1.5-1.4 -1.6-1.4 -1.5-1.4 -1.6-1.3 -1.5-1.3 -1.5-1.4 -1.5-1.3 -1.6-1.3 -1.5-1.2 -1.5-1.3 -1.5-1.3 -1.5-1.2 -1.5-1.2 -1.5-1.2 -1.5-1.2 -1.5-1.2 -1.5-1.1 -1.5-1.1 -1.4-1.2 -1.5-1.1 -1.5-1.1 -1.4-1 -1.5-1.1 -1.4-1 -1.5-1.1 -1.4-1 -1.5-.9 -1.4-1 -1.4-1 -1.5-.9 -1.4-.9 -1.4-.9 -1.4-.9 -1.4-.9 -1.4-.8 -1.4-.9 -1.3-.8 -1.4-.8 -1.4-.8 -1.3-.7 -1.4-.8 -1.3-.7 -1.4-.7 -1.3-.7 -1.3-.6M507.1 313.3l1.6-1.2 1.6-1.2 1.6-1.2 1.6-1.2 1.6-1.2 1.5-1.1 1.6-1.2 1.6-1.2 1.5-1.2 1.6-1.2 1.6-1.2 1.5-1.1 1.6-1.2 1.5-1.2 1.6-1.2 1.5-1.2 1.6-1.1 1.5-1.2 1.5-1.2 1.6-1.2 1.5-1.1 1.5-1.2 1.6-1.2 1.5-1.2 1.5-1.1 1.6-1.2 1.5-1.2 1.5-1.2 1.5-1.1 1.5-1.2 1.5-1.2 1.5-1.1 1.5-1.2 1.6-1.2 1.5-1.2 1.5-1.1 1.5-1.2 1.5-1.2 1.4-1.1 1.5-1.2 1.5-1.2 1.5-1.2 1.5-1.1 1.5-1.2 1.5-1.2 1.4-1.1 1.5-1.2 1.5-1.2 1.5-1.2 1.4-1.1 1.5-1.2 1.5-1.2 1.4-1.1 1.5-1.2 1.5-1.2 1.4-1.2 1.5-1.1 1.5-1.2 1.4-1.2 1.5-1.1 1.4-1.2 1.5-1.2 1.4-1.2 1.5-1.1 1.4-1.2 1.4-1.2 1.5-1.2 1.4-1.1 1.5-1.2 1.4-1.2 1.4-1.2 1.5-1.2 1.4-1.1 1.4-1.2 1.5-1.2 1.4-1.2 1.4-1.2 1.4-1.1 1.5-1.2 1.4-1.2 1.4-1.2 1.4-1.2 1.5-1.1 1.4-1.2 1.4-1.2 1.4-1.2 1.4-1.2 1.4-1.2 1.4-1.2 1.4-1.2 1.4-1.1 1.5-1.2 1.4-1.2 1.4-1.2 1.4-1.2 1.4-1.2 1.4-1.2 1.4-1.2 1.4-1.2 1.4-1.2M540 320.1l-1.6-2 -1.5-2 -1.6-2 -1.5-2 -1.6-2 -1.5-2 -1.6-2 -1.5-2 -1.6-1.9 -1.5-2 -1.6-1.9 -1.6-1.9 -1.5-1.9 -1.6-1.9 -1.6-1.9 -1.6-1.9 -1.5-1.9 -1.6-1.9 -1.6-1.8 -1.5-1.9 -1.6-1.8 -1.6-1.8 -1.6-1.8 -1.6-1.8 -1.5-1.8 -1.6-1.8 -1.6-1.7 -1.6-1.8 -1.5-1.7 -1.6-1.8 -1.6-1.7 -1.6-1.7 -1.6-1.7 -1.5-1.7 -1.6-1.6 -1.6-1.7 -1.6-1.6 -1.5-1.7 -1.6-1.6 -1.6-1.6 -1.6-1.6 -1.5-1.6 -1.6-1.6 -1.6-1.5 -1.5-1.6 -1.6-1.5 -1.6-1.5 -1.5-1.5 -1.6-1.5 -1.5-1.5 -1.6-1.4 -1.5-1.5 -1.6-1.4 -1.5-1.4 -1.6-1.5 -1.5-1.3 -1.6-1.4 -1.5-1.4 -1.5-1.3 -1.6-1.4 -1.5-1.3 -1.5-1.3 -1.5-1.3 -1.5-1.3 -1.6-1.2 -1.5-1.3 -1.5-1.2 -1.5-1.2 -1.5-1.2 -1.5-1.2 -1.5-1.1 -1.4-1.2 -1.5-1.1 -1.5-1.1 -1.5-1.1 -1.4-1.1 -1.5-1.1 -1.5-1.1 -1.4-1 -1.5-1 -1.4-1 -1.4-1 -1.5-1 -1.4-.9 -1.4-.9 -1.4-1 -1.5-.9 -1.4-.8 -1.4-.9 -1.3-.9 -1.4-.8 -1.4-.8 -1.4-.8 -1.4-.8 -1.3-.7 -1.4-.8 -1.3-.7 -1.4-.7 -1.3-.7 -1.3-.6M505.6 311.3l1.5-1.2 1.6-1.2 1.6-1.2 1.6-1.1 1.6-1.2 1.6-1.2 1.5-1.2 1.6-1.2 1.6-1.1 1.5-1.2 1.6-1.2 1.6-1.2 1.5-1.1 1.6-1.2 1.5-1.2 1.6-1.2 1.5-1.1 1.6-1.2 1.5-1.2 1.5-1.2 1.6-1.1 1.5-1.2 1.5-1.2 1.6-1.2 1.5-1.1 1.5-1.2 1.5-1.2 1.6-1.2 1.5-1.1 1.5-1.2 1.5-1.2 1.5-1.1 1.5-1.2 1.5-1.2 1.5-1.1 1.5-1.2 1.5-1.2 1.5-1.2 1.5-1.1 1.5-1.2 1.5-1.2 1.5-1.1 1.5-1.2 1.5-1.2 1.5-1.1 1.5-1.2 1.4-1.2 1.5-1.1 1.5-1.2 1.5-1.2 1.4-1.2 1.5-1.1 1.5-1.2 1.4-1.2 1.5-1.1 1.5-1.2 1.4-1.2 1.5-1.2 1.4-1.1 1.5-1.2 1.5-1.2 1.4-1.1 1.5-1.2 1.4-1.2 1.5-1.2 1.4-1.1 1.4-1.2 1.5-1.2 1.4-1.2 1.5-1.1 1.4-1.2 1.4-1.2 1.5-1.2 1.4-1.1 1.4-1.2 1.5-1.2 1.4-1.2 1.4-1.2 1.5-1.1 1.4-1.2 1.4-1.2 1.4-1.2 1.4-1.2 1.5-1.2 1.4-1.1 1.4-1.2 1.4-1.2 1.4-1.2 1.4-1.2 1.4-1.2 1.5-1.2 1.4-1.2 1.4-1.1 1.4-1.2 1.4-1.2 1.4-1.2 1.4-1.2 1.4-1.2 1.4-1.2 1.4-1.2M541.5 318.9l-1.5-2 -1.6-2 -1.5-2 -1.6-2 -1.5-2 -1.6-2 -1.5-2 -1.6-1.9 -1.5-2 -1.6-1.9 -1.5-2 -1.6-1.9 -1.6-1.9 -1.5-1.9 -1.6-1.9 -1.6-1.9 -1.6-1.9 -1.5-1.8 -1.6-1.9 -1.6-1.8 -1.5-1.8 -1.6-1.9 -1.6-1.8 -1.6-1.8 -1.5-1.7 -1.6-1.8 -1.6-1.8 -1.6-1.7 -1.6-1.8 -1.5-1.7 -1.6-1.7 -1.6-1.7 -1.6-1.7 -1.5-1.7 -1.6-1.7 -1.6-1.6 -1.6-1.7 -1.5-1.6 -1.6-1.6 -1.6-1.6 -1.6-1.6 -1.5-1.6 -1.6-1.6 -1.6-1.5 -1.5-1.5 -1.6-1.6 -1.5-1.5 -1.6-1.5 -1.6-1.5 -1.5-1.4 -1.6-1.5 -1.5-1.5 -1.6-1.4 -1.5-1.4 -1.6-1.4 -1.5-1.4 -1.5-1.4 -1.6-1.3 -1.5-1.4 -1.5-1.3 -1.6-1.3 -1.5-1.3 -1.5-1.3 -1.5-1.3 -1.5-1.2 -1.5-1.3 -1.6-1.2 -1.5-1.2 -1.5-1.2 -1.4-1.2 -1.5-1.1 -1.5-1.2 -1.5-1.1 -1.5-1.1 -1.5-1.1 -1.4-1.1 -1.5-1.1 -1.4-1 -1.5-1.1 -1.4-1 -1.5-1 -1.4-.9 -1.5-1 -1.4-1 -1.4-.9 -1.4-.9 -1.4-.9 -1.4-.9 -1.4-.8 -1.4-.9 -1.4-.8 -1.4-.8 -1.4-.8 -1.3-.8 -1.4-.7 -1.4-.8 -1.3-.7 -1.3-.7 -1.4-.6 -1.3-.7M504 309.3l1.6-1.1 1.6-1.2 1.5-1.2 1.6-1.2 1.6-1.2 1.6-1.1 1.6-1.2 1.5-1.2 1.6-1.2 1.6-1.1 1.5-1.2 1.6-1.2 1.5-1.2 1.6-1.1 1.6-1.2 1.5-1.2 1.6-1.2 1.5-1.1 1.5-1.2 1.6-1.2 1.5-1.1 1.6-1.2 1.5-1.2 1.5-1.2 1.6-1.1 1.5-1.2 1.5-1.2 1.5-1.1 1.6-1.2 1.5-1.2 1.5-1.1 1.5-1.2 1.5-1.2 1.5-1.2 1.5-1.1 1.5-1.2 1.5-1.2 1.5-1.1 1.5-1.2 1.5-1.2 1.5-1.1 1.5-1.2 1.5-1.2 1.5-1.1 1.5-1.2 1.5-1.2 1.5-1.1 1.4-1.2 1.5-1.2 1.5-1.1 1.5-1.2 1.4-1.2 1.5-1.1 1.5-1.2 1.4-1.2 1.5-1.1 1.5-1.2 1.4-1.2 1.5-1.2 1.4-1.1 1.5-1.2 1.5-1.2 1.4-1.1 1.5-1.2 1.4-1.2 1.5-1.2 1.4-1.1 1.4-1.2 1.5-1.2 1.4-1.2 1.5-1.1 1.4-1.2 1.4-1.2 1.5-1.2 1.4-1.1 1.4-1.2 1.5-1.2 1.4-1.2 1.4-1.2 1.5-1.1 1.4-1.2 1.4-1.2 1.4-1.2 1.4-1.2 1.5-1.1 1.4-1.2 1.4-1.2 1.4-1.2 1.4-1.2 1.4-1.2 1.5-1.2 1.4-1.2 1.4-1.1 1.4-1.2 1.4-1.2 1.4-1.2 1.4-1.2 1.4-1.2 1.4-1.2 1.4-1.2M543 317.7l-1.5-2 -1.5-2 -1.6-2 -1.5-2 -1.6-2 -1.5-2 -1.6-2 -1.5-1.9 -1.6-2 -1.5-1.9 -1.6-1.9 -1.6-2 -1.5-1.9 -1.6-1.9 -1.5-1.9 -1.6-1.8 -1.6-1.9 -1.6-1.9 -1.5-1.8 -1.6-1.9 -1.6-1.8 -1.5-1.8 -1.6-1.8 -1.6-1.8 -1.6-1.8 -1.5-1.8 -1.6-1.7 -1.6-1.8 -1.6-1.7 -1.5-1.7 -1.6-1.7 -1.6-1.7 -1.6-1.7 -1.5-1.7 -1.6-1.7 -1.6-1.6 -1.6-1.7 -1.5-1.6 -1.6-1.6 -1.6-1.6 -1.5-1.6 -1.6-1.6 -1.6-1.5 -1.5-1.6 -1.6-1.5 -1.6-1.6 -1.5-1.5 -1.6-1.5 -1.5-1.4 -1.6-1.5 -1.6-1.5 -1.5-1.4 -1.6-1.4 -1.5-1.5 -1.5-1.4 -1.6-1.3 -1.5-1.4 -1.6-1.4 -1.5-1.3 -1.5-1.3 -1.5-1.3 -1.6-1.3 -1.5-1.3 -1.5-1.3 -1.5-1.2 -1.5-1.3 -1.5-1.2 -1.5-1.2 -1.5-1.2 -1.5-1.2 -1.5-1.1 -1.5-1.2 -1.5-1.1 -1.5-1.1 -1.4-1.1 -1.5-1.1 -1.5-1 -1.4-1.1 -1.5-1 -1.4-1 -1.5-1 -1.4-1 -1.4-1 -1.5-.9 -1.4-.9 -1.4-.9 -1.4-.9 -1.4-.9 -1.4-.9 -1.4-.8 -1.4-.8 -1.4-.8 -1.4-.8 -1.3-.8 -1.4-.7 -1.3-.8 -1.4-.7 -1.3-.7 -1.4-.6 -1.3-.7M502.4 307.4l1.6-1.2 1.6-1.2 1.6-1.1 1.5-1.2 1.6-1.2 1.6-1.2 1.6-1.1 1.6-1.2 1.5-1.2 1.6-1.2 1.6-1.1 1.5-1.2 1.6-1.2 1.5-1.1 1.6-1.2 1.6-1.2 1.5-1.2 1.6-1.1 1.5-1.2 1.5-1.2 1.6-1.1 1.5-1.2 1.6-1.2 1.5-1.1 1.5-1.2 1.6-1.2 1.5-1.1 1.5-1.2 1.5-1.2 1.5-1.2 1.6-1.1 1.5-1.2 1.5-1.1 1.5-1.2 1.5-1.2 1.5-1.1 1.5-1.2 1.5-1.2 1.5-1.1 1.5-1.2 1.5-1.2 1.5-1.1 1.5-1.2 1.5-1.2 1.5-1.1 1.5-1.2 1.5-1.2 1.4-1.1 1.5-1.2 1.5-1.2 1.5-1.1 1.5-1.2 1.4-1.2 1.5-1.1 1.5-1.2 1.4-1.2 1.5-1.1 1.5-1.2 1.4-1.2 1.5-1.2 1.4-1.1 1.5-1.2 1.4-1.2 1.5-1.1 1.5-1.2 1.4-1.2 1.5-1.1 1.4-1.2 1.4-1.2 1.5-1.2 1.4-1.1 1.5-1.2 1.4-1.2 1.4-1.2 1.5-1.1 1.4-1.2 1.4-1.2 1.5-1.2 1.4-1.2 1.4-1.1 1.5-1.2 1.4-1.2 1.4-1.2 1.4-1.2 1.5-1.1 1.4-1.2 1.4-1.2 1.4-1.2 1.4-1.2 1.4-1.2 1.5-1.2 1.4-1.1 1.4-1.2 1.4-1.2 1.4-1.2 1.4-1.2 1.4-1.2 1.4-1.2 1.4-1.2 1.4-1.2M544.6 316.5l-1.6-2 -1.5-2 -1.5-2 -1.6-2 -1.5-2 -1.6-2 -1.5-2 -1.6-1.9 -1.5-2 -1.6-1.9 -1.5-1.9 -1.6-1.9 -1.6-1.9 -1.5-1.9 -1.6-1.9 -1.5-1.9 -1.6-1.9 -1.6-1.8 -1.6-1.9 -1.5-1.8 -1.6-1.8 -1.6-1.9 -1.5-1.8 -1.6-1.7 -1.6-1.8 -1.6-1.8 -1.5-1.8 -1.6-1.7 -1.6-1.7 -1.6-1.8 -1.5-1.7 -1.6-1.7 -1.6-1.6 -1.5-1.7 -1.6-1.7 -1.6-1.6 -1.6-1.7 -1.5-1.6 -1.6-1.6 -1.6-1.6 -1.5-1.6 -1.6-1.6 -1.6-1.5 -1.5-1.6 -1.6-1.5 -1.6-1.5 -1.5-1.5 -1.6-1.5 -1.5-1.5 -1.6-1.5 -1.5-1.4 -1.6-1.5 -1.5-1.4 -1.6-1.4 -1.5-1.4 -1.6-1.4 -1.5-1.3 -1.5-1.4 -1.6-1.3 -1.5-1.4 -1.5-1.3 -1.5-1.3 -1.6-1.2 -1.5-1.3 -1.5-1.3 -1.5-1.2 -1.5-1.2 -1.5-1.2 -1.5-1.2 -1.5-1.2 -1.5-1.1 -1.5-1.2 -1.5-1.1 -1.4-1.1 -1.5-1.1 -1.5-1.1 -1.4-1 -1.5-1.1 -1.5-1 -1.4-1 -1.5-1 -1.4-1 -1.4-.9 -1.5-.9 -1.4-1 -1.4-.9 -1.4-.9 -1.4-.8 -1.4-.9 -1.4-.8 -1.4-.8 -1.4-.8 -1.4-.8 -1.3-.8 -1.4-.7 -1.3-.8 -1.4-.7 -1.3-.6 -1.4-.7 -1.3-.7M500.8 305.5l1.6-1.2 1.6-1.2 1.6-1.2 1.6-1.1 1.5-1.2 1.6-1.2 1.6-1.2 1.6-1.1 1.6-1.2 1.5-1.2 1.6-1.1 1.6-1.2 1.5-1.2 1.6-1.1 1.5-1.2 1.6-1.2 1.5-1.2 1.6-1.1 1.5-1.2 1.6-1.2 1.5-1.1 1.6-1.2 1.5-1.2 1.6-1.1 1.5-1.2 1.5-1.2 1.5-1.1 1.6-1.2 1.5-1.1 1.5-1.2 1.5-1.2 1.6-1.1 1.5-1.2 1.5-1.2 1.5-1.1 1.5-1.2 1.5-1.2 1.5-1.1 1.5-1.2 1.5-1.2 1.5-1.1 1.5-1.2 1.5-1.1 1.5-1.2 1.5-1.2 1.5-1.1 1.5-1.2 1.5-1.2 1.4-1.1 1.5-1.2 1.5-1.2 1.5-1.1 1.4-1.2 1.5-1.2 1.5-1.1 1.5-1.2 1.4-1.2 1.5-1.1 1.5-1.2 1.4-1.2 1.5-1.1 1.4-1.2 1.5-1.2 1.4-1.1 1.5-1.2 1.4-1.2 1.5-1.2 1.4-1.1 1.5-1.2 1.4-1.2 1.5-1.1 1.4-1.2 1.5-1.2 1.4-1.2 1.4-1.1 1.5-1.2 1.4-1.2 1.4-1.2 1.5-1.1 1.4-1.2 1.4-1.2 1.5-1.2 1.4-1.2 1.4-1.1 1.4-1.2 1.5-1.2 1.4-1.2 1.4-1.2 1.4-1.2 1.4-1.1 1.5-1.2 1.4-1.2 1.4-1.2 1.4-1.2 1.4-1.2 1.4-1.2 1.4-1.2 1.4-1.2 1.4-1.2 1.4-1.2M546.1 315.3l-1.5-2 -1.6-2 -1.5-2 -1.5-2 -1.6-2 -1.5-2 -1.6-1.9 -1.5-2 -1.6-1.9 -1.5-2 -1.6-1.9 -1.5-1.9 -1.6-1.9 -1.6-1.9 -1.5-1.9 -1.6-1.9 -1.6-1.8 -1.5-1.9 -1.6-1.8 -1.6-1.9 -1.5-1.8 -1.6-1.8 -1.6-1.8 -1.5-1.8 -1.6-1.8 -1.6-1.7 -1.5-1.8 -1.6-1.7 -1.6-1.8 -1.6-1.7 -1.5-1.7 -1.6-1.7 -1.6-1.7 -1.6-1.6 -1.5-1.7 -1.6-1.6 -1.6-1.7 -1.5-1.6 -1.6-1.6 -1.6-1.6 -1.5-1.6 -1.6-1.6 -1.6-1.5 -1.5-1.6 -1.6-1.5 -1.6-1.5 -1.5-1.5 -1.6-1.5 -1.5-1.5 -1.6-1.4 -1.5-1.5 -1.6-1.4 -1.5-1.4 -1.6-1.5 -1.5-1.3 -1.6-1.4 -1.5-1.4 -1.5-1.3 -1.6-1.4 -1.5-1.3 -1.5-1.3 -1.5-1.3 -1.6-1.3 -1.5-1.2 -1.5-1.3 -1.5-1.2 -1.5-1.2 -1.5-1.2 -1.5-1.2 -1.5-1.2 -1.5-1.1 -1.5-1.1 -1.4-1.2 -1.5-1.1 -1.5-1.1 -1.5-1 -1.4-1.1 -1.5-1 -1.4-1 -1.5-1 -1.4-1 -1.5-1 -1.4-1 -1.4-.9 -1.5-.9 -1.4-.9 -1.4-.9 -1.4-.9 -1.4-.8 -1.4-.8 -1.4-.9 -1.4-.8 -1.3-.7 -1.4-.8 -1.4-.7 -1.3-.8 -1.4-.7 -1.3-.6 -1.4-.7 -1.3-.7M499.2 303.5l1.6-1.1 1.6-1.2 1.6-1.2 1.6-1.1 1.6-1.2 1.5-1.2 1.6-1.2 1.6-1.1 1.6-1.2 1.5-1.2 1.6-1.1 1.6-1.2 1.6-1.2 1.5-1.1 1.6-1.2 1.5-1.2 1.6-1.1 1.5-1.2 1.6-1.2 1.5-1.1 1.6-1.2 1.5-1.2 1.6-1.1 1.5-1.2 1.5-1.1 1.6-1.2 1.5-1.2 1.5-1.1 1.6-1.2 1.5-1.2 1.5-1.1 1.5-1.2 1.5-1.2 1.6-1.1 1.5-1.2 1.5-1.1 1.5-1.2 1.5-1.2 1.5-1.1 1.5-1.2 1.5-1.2 1.5-1.1 1.5-1.2 1.5-1.1 1.5-1.2 1.5-1.2 1.5-1.1 1.5-1.2 1.4-1.2 1.5-1.1 1.5-1.2 1.5-1.1 1.5-1.2 1.4-1.2 1.5-1.1 1.5-1.2 1.4-1.2 1.5-1.1 1.5-1.2 1.4-1.2 1.5-1.1 1.5-1.2 1.4-1.2 1.5-1.1 1.4-1.2 1.5-1.2 1.4-1.1 1.5-1.2 1.4-1.2 1.5-1.2 1.4-1.1 1.5-1.2 1.4-1.2 1.5-1.1 1.4-1.2 1.4-1.2 1.5-1.2 1.4-1.1 1.4-1.2 1.5-1.2 1.4-1.2 1.4-1.1 1.5-1.2 1.4-1.2 1.4-1.2 1.4-1.2 1.5-1.2 1.4-1.1 1.4-1.2 1.4-1.2 1.4-1.2 1.5-1.2 1.4-1.2 1.4-1.2 1.4-1.1 1.4-1.2 1.4-1.2 1.4-1.2 1.4-1.2 1.4-1.2M547.6 314.1l-1.5-2 -1.5-2 -1.6-2 -1.5-2 -1.6-2 -1.5-2 -1.5-1.9 -1.6-2 -1.5-1.9 -1.6-2 -1.5-1.9 -1.6-1.9 -1.5-1.9 -1.6-1.9 -1.6-1.9 -1.5-1.8 -1.6-1.9 -1.6-1.9 -1.5-1.8 -1.6-1.8 -1.5-1.8 -1.6-1.9 -1.6-1.7 -1.6-1.8 -1.5-1.8 -1.6-1.8 -1.6-1.7 -1.5-1.8 -1.6-1.7 -1.6-1.7 -1.6-1.7 -1.5-1.7 -1.6-1.7 -1.6-1.7 -1.5-1.6 -1.6-1.7 -1.6-1.6 -1.5-1.6 -1.6-1.6 -1.6-1.6 -1.5-1.6 -1.6-1.5 -1.6-1.6 -1.5-1.5 -1.6-1.6 -1.6-1.5 -1.5-1.5 -1.6-1.5 -1.5-1.4 -1.6-1.5 -1.5-1.5 -1.6-1.4 -1.5-1.4 -1.6-1.4 -1.5-1.4 -1.5-1.4 -1.6-1.3 -1.5-1.4 -1.5-1.3 -1.6-1.3 -1.5-1.3 -1.5-1.3 -1.5-1.3 -1.6-1.2 -1.5-1.3 -1.5-1.2 -1.5-1.2 -1.5-1.2 -1.5-1.2 -1.5-1.2 -1.5-1.1 -1.5-1.1 -1.4-1.2 -1.5-1.1 -1.5-1 -1.5-1.1 -1.4-1.1 -1.5-1 -1.4-1 -1.5-1 -1.4-1 -1.5-1 -1.4-.9 -1.4-.9 -1.5-1 -1.4-.9 -1.4-.8 -1.4-.9 -1.4-.8 -1.4-.9 -1.4-.8 -1.4-.8 -1.3-.7 -1.4-.8 -1.4-.7 -1.3-.8 -1.4-.7 -1.3-.6 -1.4-.7 -1.3-.7M497.6 301.6l1.6-1.1 1.6-1.2 1.6-1.2 1.6-1.1 1.6-1.2 1.6-1.2 1.5-1.2 1.6-1.1 1.6-1.2 1.6-1.2 1.5-1.1 1.6-1.2 1.6-1.1 1.6-1.2 1.5-1.2 1.6-1.1 1.5-1.2 1.6-1.2 1.5-1.1 1.6-1.2 1.5-1.2 1.6-1.1 1.5-1.2 1.6-1.1 1.5-1.2 1.5-1.2 1.6-1.1 1.5-1.2 1.5-1.1 1.6-1.2 1.5-1.2 1.5-1.1 1.5-1.2 1.5-1.1 1.6-1.2 1.5-1.2 1.5-1.1 1.5-1.2 1.5-1.2 1.5-1.1 1.5-1.2 1.5-1.1 1.5-1.2 1.5-1.2 1.5-1.1 1.5-1.2 1.5-1.1 1.5-1.2 1.4-1.2 1.5-1.1 1.5-1.2 1.5-1.1 1.5-1.2 1.4-1.2 1.5-1.1 1.5-1.2 1.5-1.2 1.4-1.1 1.5-1.2 1.5-1.2 1.4-1.1 1.5-1.2 1.5-1.2 1.4-1.1 1.5-1.2 1.4-1.2 1.5-1.1 1.4-1.2 1.5-1.2 1.4-1.1 1.5-1.2 1.4-1.2 1.5-1.1 1.4-1.2 1.5-1.2 1.4-1.2 1.4-1.1 1.5-1.2 1.4-1.2 1.4-1.2 1.5-1.1 1.4-1.2 1.4-1.2 1.5-1.2 1.4-1.1 1.4-1.2 1.4-1.2 1.5-1.2 1.4-1.2 1.4-1.2 1.4-1.1 1.4-1.2 1.5-1.2 1.4-1.2 1.4-1.2 1.4-1.2 1.4-1.2 1.4-1.2 1.4-1.2 1.5-1.2M549.1 312.9l-1.5-2 -1.5-2 -1.5-2 -1.6-2 -1.5-2 -1.6-1.9 -1.5-2 -1.5-2 -1.6-1.9 -1.5-1.9 -1.6-1.9 -1.5-2 -1.6-1.9 -1.6-1.9 -1.5-1.8 -1.6-1.9 -1.5-1.9 -1.6-1.8 -1.6-1.9 -1.5-1.8 -1.6-1.8 -1.5-1.8 -1.6-1.8 -1.6-1.8 -1.6-1.7 -1.5-1.8 -1.6-1.8 -1.6-1.7 -1.5-1.7 -1.6-1.7 -1.6-1.7 -1.5-1.7 -1.6-1.7 -1.6-1.7 -1.5-1.6 -1.6-1.7 -1.6-1.6 -1.6-1.6 -1.5-1.6 -1.6-1.6 -1.5-1.6 -1.6-1.5 -1.6-1.6 -1.5-1.5 -1.6-1.6 -1.6-1.5 -1.5-1.5 -1.6-1.4 -1.5-1.5 -1.6-1.5 -1.5-1.4 -1.6-1.4 -1.5-1.5 -1.6-1.4 -1.5-1.3 -1.5-1.4 -1.6-1.4 -1.5-1.3 -1.5-1.3 -1.6-1.4 -1.5-1.3 -1.5-1.2 -1.5-1.3 -1.5-1.3 -1.6-1.2 -1.5-1.2 -1.5-1.2 -1.5-1.2 -1.5-1.2 -1.5-1.2 -1.5-1.1 -1.4-1.1 -1.5-1.1 -1.5-1.1 -1.5-1.1 -1.4-1.1 -1.5-1 -1.5-1.1 -1.4-1 -1.5-1 -1.4-1 -1.5-.9 -1.4-1 -1.4-.9 -1.4-.9 -1.5-.9 -1.4-.9 -1.4-.8 -1.4-.9 -1.4-.8 -1.4-.8 -1.4-.8 -1.3-.8 -1.4-.7 -1.4-.7 -1.3-.8 -1.4-.7 -1.3-.6 -1.4-.7 -1.3-.6M496 299.7l1.6-1.1 1.6-1.2 1.6-1.2 1.6-1.1 1.6-1.2 1.6-1.2 1.6-1.1 1.5-1.2 1.6-1.2 1.6-1.1 1.6-1.2 1.5-1.2 1.6-1.1 1.6-1.2 1.5-1.1 1.6-1.2 1.6-1.2 1.5-1.1 1.6-1.2 1.5-1.1 1.6-1.2 1.5-1.2 1.6-1.1 1.5-1.2 1.6-1.1 1.5-1.2 1.5-1.2 1.6-1.1 1.5-1.2 1.5-1.1 1.5-1.2 1.6-1.2 1.5-1.1 1.5-1.2 1.5-1.1 1.5-1.2 1.6-1.1 1.5-1.2 1.5-1.2 1.5-1.1 1.5-1.2 1.5-1.1 1.5-1.2 1.5-1.2 1.5-1.1 1.5-1.2 1.5-1.1 1.5-1.2 1.4-1.2 1.5-1.1 1.5-1.2 1.5-1.1 1.5-1.2 1.5-1.2 1.4-1.1 1.5-1.2 1.5-1.1 1.5-1.2 1.4-1.2 1.5-1.1 1.5-1.2 1.4-1.2 1.5-1.1 1.4-1.2 1.5-1.2 1.5-1.1 1.4-1.2 1.5-1.2 1.4-1.1 1.5-1.2 1.4-1.2 1.5-1.1 1.4-1.2 1.5-1.2 1.4-1.1 1.4-1.2 1.5-1.2 1.4-1.2 1.5-1.1 1.4-1.2 1.4-1.2 1.5-1.2 1.4-1.1 1.4-1.2 1.5-1.2 1.4-1.2 1.4-1.1 1.4-1.2 1.5-1.2 1.4-1.2 1.4-1.2 1.4-1.2 1.4-1.2 1.5-1.1 1.4-1.2 1.4-1.2 1.4-1.2 1.4-1.2 1.4-1.2 1.5-1.2M550.7 311.7l-1.6-2 -1.5-2 -1.5-2 -1.6-2 -1.5-2 -1.5-1.9 -1.6-2 -1.5-1.9 -1.6-2 -1.5-1.9 -1.5-1.9 -1.6-1.9 -1.5-1.9 -1.6-1.9 -1.6-1.9 -1.5-1.9 -1.6-1.8 -1.5-1.9 -1.6-1.8 -1.6-1.8 -1.5-1.8 -1.6-1.8 -1.5-1.8 -1.6-1.8 -1.6-1.8 -1.5-1.7 -1.6-1.8 -1.6-1.7 -1.6-1.8 -1.5-1.7 -1.6-1.7 -1.6-1.6 -1.5-1.7 -1.6-1.7 -1.6-1.6 -1.5-1.7 -1.6-1.6 -1.6-1.6 -1.5-1.6 -1.6-1.6 -1.6-1.6 -1.5-1.5 -1.6-1.6 -1.5-1.5 -1.6-1.5 -1.6-1.5 -1.5-1.5 -1.6-1.5 -1.5-1.5 -1.6-1.4 -1.5-1.5 -1.6-1.4 -1.5-1.4 -1.6-1.4 -1.5-1.4 -1.5-1.4 -1.6-1.3 -1.5-1.4 -1.5-1.3 -1.6-1.3 -1.5-1.3 -1.5-1.3 -1.5-1.2 -1.5-1.3 -1.6-1.2 -1.5-1.2 -1.5-1.2 -1.5-1.2 -1.5-1.2 -1.5-1.2 -1.4-1.1 -1.5-1.1 -1.5-1.1 -1.5-1.1 -1.5-1.1 -1.4-1.1 -1.5-1 -1.5-1 -1.4-1 -1.5-1 -1.4-1 -1.5-1 -1.4-.9 -1.4-.9 -1.4-.9 -1.5-.9 -1.4-.9 -1.4-.9 -1.4-.8 -1.4-.8 -1.4-.8 -1.4-.8 -1.3-.8 -1.4-.7 -1.4-.8 -1.3-.7 -1.4-.7 -1.3-.6 -1.4-.7 -1.3-.6M494.4 297.8l1.6-1.1 1.6-1.2 1.6-1.2 1.6-1.1 1.6-1.2 1.6-1.1 1.6-1.2 1.6-1.2 1.5-1.1 1.6-1.2 1.6-1.2 1.6-1.1 1.5-1.2 1.6-1.1 1.6-1.2 1.5-1.2 1.6-1.1 1.6-1.2 1.5-1.1 1.6-1.2 1.5-1.1 1.6-1.2 1.5-1.2 1.6-1.1 1.5-1.2 1.6-1.1 1.5-1.2 1.5-1.1 1.6-1.2 1.5-1.2 1.5-1.1 1.5-1.2 1.6-1.1 1.5-1.2 1.5-1.1 1.5-1.2 1.5-1.2 1.5-1.1 1.6-1.2 1.5-1.1 1.5-1.2 1.5-1.1 1.5-1.2 1.5-1.1 1.5-1.2 1.5-1.2 1.5-1.1 1.5-1.2 1.4-1.1 1.5-1.2 1.5-1.2 1.5-1.1 1.5-1.2 1.5-1.1 1.4-1.2 1.5-1.1 1.5-1.2 1.5-1.2 1.4-1.1 1.5-1.2 1.5-1.2 1.4-1.1 1.5-1.2 1.5-1.1 1.4-1.2 1.5-1.2 1.5-1.1 1.4-1.2 1.5-1.2 1.4-1.1 1.5-1.2 1.4-1.2 1.5-1.1 1.4-1.2 1.5-1.2 1.4-1.2 1.4-1.1 1.5-1.2 1.4-1.2 1.5-1.1 1.4-1.2 1.4-1.2 1.5-1.2 1.4-1.1 1.4-1.2 1.5-1.2 1.4-1.2 1.4-1.2 1.4-1.1 1.5-1.2 1.4-1.2 1.4-1.2 1.4-1.2 1.4-1.2 1.5-1.1 1.4-1.2 1.4-1.2 1.4-1.2 1.4-1.2 1.4-1.2M552.2 310.5l-1.5-2 -1.6-2 -1.5-2 -1.5-2 -1.6-1.9 -1.5-2 -1.5-2 -1.6-1.9 -1.5-2 -1.6-1.9 -1.5-1.9 -1.6-1.9 -1.5-1.9 -1.6-1.9 -1.5-1.9 -1.6-1.8 -1.5-1.9 -1.6-1.8 -1.5-1.9 -1.6-1.8 -1.6-1.8 -1.5-1.8 -1.6-1.8 -1.5-1.8 -1.6-1.7 -1.6-1.8 -1.5-1.7 -1.6-1.8 -1.6-1.7 -1.5-1.7 -1.6-1.7 -1.6-1.7 -1.5-1.6 -1.6-1.7 -1.6-1.6 -1.5-1.7 -1.6-1.6 -1.6-1.6 -1.5-1.6 -1.6-1.6 -1.6-1.6 -1.5-1.5 -1.6-1.6 -1.5-1.5 -1.6-1.5 -1.6-1.5 -1.5-1.5 -1.6-1.5 -1.5-1.5 -1.6-1.4 -1.5-1.4 -1.6-1.5 -1.5-1.4 -1.6-1.4 -1.5-1.3 -1.5-1.4 -1.6-1.4 -1.5-1.3 -1.5-1.3 -1.6-1.3 -1.5-1.3 -1.5-1.3 -1.5-1.3 -1.5-1.2 -1.5-1.2 -1.6-1.3 -1.5-1.2 -1.5-1.1 -1.5-1.2 -1.5-1.2 -1.4-1.1 -1.5-1.1 -1.5-1.1 -1.5-1.1 -1.5-1.1 -1.4-1 -1.5-1.1 -1.5-1 -1.4-1 -1.5-1 -1.4-1 -1.5-.9 -1.4-1 -1.4-.9 -1.4-.9 -1.5-.9 -1.4-.9 -1.4-.8 -1.4-.8 -1.4-.9 -1.4-.8 -1.4-.7 -1.3-.8 -1.4-.7 -1.4-.8 -1.4-.7 -1.3-.7 -1.4-.6 -1.3-.7 -1.3-.6M492.8 296l1.6-1.2 1.6-1.2 1.6-1.1 1.6-1.2 1.6-1.2 1.6-1.1 1.6-1.2 1.6-1.1 1.6-1.2 1.6-1.1 1.5-1.2 1.6-1.2 1.6-1.1 1.5-1.2 1.6-1.1 1.6-1.2 1.5-1.2 1.6-1.1 1.6-1.2 1.5-1.1 1.6-1.2 1.5-1.1 1.6-1.2 1.5-1.1 1.6-1.2 1.5-1.1 1.5-1.2 1.6-1.2 1.5-1.1 1.5-1.2 1.6-1.1 1.5-1.2 1.5-1.1 1.6-1.2 1.5-1.1 1.5-1.2 1.5-1.1 1.5-1.2 1.5-1.2 1.5-1.1 1.6-1.2 1.5-1.1 1.5-1.2 1.5-1.1 1.5-1.2 1.5-1.1 1.5-1.2 1.5-1.1 1.4-1.2 1.5-1.2 1.5-1.1 1.5-1.2 1.5-1.1 1.5-1.2 1.5-1.1 1.4-1.2 1.5-1.2 1.5-1.1 1.5-1.2 1.4-1.1 1.5-1.2 1.5-1.2 1.4-1.1 1.5-1.2 1.5-1.2 1.4-1.1 1.5-1.2 1.4-1.1 1.5-1.2 1.4-1.2 1.5-1.1 1.5-1.2 1.4-1.2 1.5-1.1 1.4-1.2 1.4-1.2 1.5-1.1 1.4-1.2 1.5-1.2 1.4-1.2 1.5-1.1 1.4-1.2 1.4-1.2 1.5-1.2 1.4-1.1 1.4-1.2 1.5-1.2 1.4-1.2 1.4-1.2 1.4-1.1 1.5-1.2 1.4-1.2 1.4-1.2 1.4-1.2 1.4-1.2 1.5-1.1 1.4-1.2 1.4-1.2 1.4-1.2 1.4-1.2M553.7 309.3l-1.5-2 -1.6-2 -1.5-2 -1.5-2 -1.5-1.9 -1.6-2 -1.5-2 -1.5-1.9 -1.6-1.9 -1.5-2 -1.6-1.9 -1.5-1.9 -1.6-1.9 -1.5-1.9 -1.6-1.8 -1.5-1.9 -1.6-1.8 -1.5-1.9 -1.6-1.8 -1.5-1.8 -1.6-1.8 -1.6-1.8 -1.5-1.8 -1.6-1.8 -1.5-1.8 -1.6-1.7 -1.6-1.8 -1.5-1.7 -1.6-1.7 -1.6-1.7 -1.5-1.7 -1.6-1.7 -1.6-1.7 -1.5-1.6 -1.6-1.7 -1.6-1.6 -1.5-1.6 -1.6-1.6 -1.6-1.6 -1.5-1.6 -1.6-1.6 -1.5-1.5 -1.6-1.6 -1.6-1.5 -1.5-1.5 -1.6-1.5 -1.5-1.5 -1.6-1.5 -1.5-1.4 -1.6-1.5 -1.5-1.4 -1.6-1.4 -1.5-1.4 -1.6-1.4 -1.5-1.4 -1.5-1.4 -1.6-1.3 -1.5-1.3 -1.5-1.4 -1.6-1.3 -1.5-1.3 -1.5-1.2 -1.5-1.3 -1.5-1.2 -1.5-1.3 -1.6-1.2 -1.5-1.2 -1.5-1.1 -1.5-1.2 -1.4-1.2 -1.5-1.1 -1.5-1.1 -1.5-1.1 -1.5-1.1 -1.5-1.1 -1.4-1 -1.5-1.1 -1.5-1 -1.4-1 -1.5-1 -1.4-.9 -1.5-1 -1.4-.9 -1.4-.9 -1.4-.9 -1.5-.9 -1.4-.9 -1.4-.8 -1.4-.9 -1.4-.8 -1.4-.8 -1.4-.8 -1.4-.7 -1.3-.8 -1.4-.7 -1.4-.7 -1.3-.7 -1.4-.6 -1.3-.7 -1.3-.6M491.2 294.1l1.6-1.2 1.6-1.1 1.6-1.2 1.6-1.2 1.6-1.1 1.6-1.2 1.6-1.1 1.6-1.2 1.6-1.1 1.6-1.2 1.6-1.2 1.5-1.1 1.6-1.2 1.6-1.1 1.5-1.2 1.6-1.1 1.6-1.2 1.5-1.1 1.6-1.2 1.6-1.1 1.5-1.2 1.6-1.1 1.5-1.2 1.6-1.1 1.5-1.2 1.6-1.2 1.5-1.1 1.5-1.2 1.6-1.1 1.5-1.2 1.5-1.1 1.6-1.2 1.5-1.1 1.5-1.2 1.5-1.1 1.6-1.2 1.5-1.1 1.5-1.2 1.5-1.1 1.5-1.2 1.5-1.1 1.5-1.2 1.5-1.1 1.6-1.2 1.5-1.1 1.5-1.2 1.4-1.2 1.5-1.1 1.5-1.2 1.5-1.1 1.5-1.2 1.5-1.1 1.5-1.2 1.5-1.1 1.5-1.2 1.4-1.2 1.5-1.1 1.5-1.2 1.5-1.1 1.4-1.2 1.5-1.1 1.5-1.2 1.5-1.2 1.4-1.1 1.5-1.2 1.4-1.1 1.5-1.2 1.5-1.2 1.4-1.1 1.5-1.2 1.4-1.2 1.5-1.1 1.4-1.2 1.5-1.2 1.4-1.1 1.5-1.2 1.4-1.2 1.5-1.1 1.4-1.2 1.5-1.2 1.4-1.1 1.4-1.2 1.5-1.2 1.4-1.2 1.4-1.1 1.5-1.2 1.4-1.2 1.4-1.2 1.5-1.2 1.4-1.1 1.4-1.2 1.5-1.2 1.4-1.2 1.4-1.2 1.4-1.1 1.4-1.2 1.5-1.2 1.4-1.2 1.4-1.2 1.4-1.2M555.2 308.1l-1.5-2 -1.5-2 -1.6-2 -1.5-1.9 -1.5-2 -1.5-2 -1.6-1.9 -1.5-2 -1.5-1.9 -1.6-1.9 -1.5-1.9 -1.6-1.9 -1.5-1.9 -1.6-1.9 -1.5-1.9 -1.6-1.9 -1.5-1.8 -1.6-1.8 -1.5-1.9 -1.6-1.8 -1.5-1.8 -1.6-1.8 -1.6-1.8 -1.5-1.7 -1.6-1.8 -1.5-1.8 -1.6-1.7 -1.6-1.7 -1.5-1.7 -1.6-1.7 -1.6-1.7 -1.5-1.7 -1.6-1.7 -1.6-1.6 -1.5-1.7 -1.6-1.6 -1.5-1.6 -1.6-1.6 -1.6-1.6 -1.5-1.6 -1.6-1.6 -1.5-1.5 -1.6-1.5 -1.6-1.6 -1.5-1.5 -1.6-1.5 -1.5-1.5 -1.6-1.4 -1.5-1.5 -1.6-1.4 -1.5-1.5 -1.6-1.4 -1.5-1.4 -1.6-1.4 -1.5-1.4 -1.5-1.3 -1.6-1.4 -1.5-1.3 -1.5-1.3 -1.6-1.3 -1.5-1.3 -1.5-1.3 -1.5-1.2 -1.5-1.2 -1.5-1.3 -1.5-1.2 -1.6-1.2 -1.5-1.2 -1.5-1.1 -1.4-1.2 -1.5-1.1 -1.5-1.1 -1.5-1.1 -1.5-1.1 -1.5-1.1 -1.4-1 -1.5-1 -1.5-1.1 -1.4-1 -1.5-.9 -1.4-1 -1.5-.9 -1.4-1 -1.4-.9 -1.4-.9 -1.5-.9 -1.4-.8 -1.4-.9 -1.4-.8 -1.4-.8 -1.4-.8 -1.4-.8 -1.4-.7 -1.3-.8 -1.4-.7 -1.4-.7 -1.3-.7 -1.4-.6 -1.3-.7 -1.4-.6M489.6 292.2l1.6-1.1 1.6-1.2 1.6-1.1 1.6-1.2 1.6-1.2 1.6-1.1 1.6-1.2 1.6-1.1 1.6-1.2 1.6-1.1 1.6-1.2 1.6-1.1 1.5-1.2 1.6-1.1 1.6-1.2 1.6-1.1 1.5-1.2 1.6-1.1 1.5-1.2 1.6-1.1 1.6-1.2 1.5-1.1 1.6-1.2 1.5-1.1 1.6-1.2 1.5-1.1 1.6-1.2 1.5-1.1 1.5-1.2 1.6-1.1 1.5-1.2 1.5-1.1 1.6-1.2 1.5-1.1 1.5-1.2 1.5-1.1 1.6-1.2 1.5-1.1 1.5-1.2 1.5-1.1 1.5-1.2 1.5-1.1 1.5-1.2 1.5-1.2 1.5-1.1 1.5-1.2 1.5-1.1 1.5-1.2 1.5-1.1 1.5-1.2 1.5-1.1 1.5-1.2 1.5-1.1 1.5-1.2 1.5-1.1 1.4-1.2 1.5-1.1 1.5-1.2 1.5-1.2 1.5-1.1 1.4-1.2 1.5-1.1 1.5-1.2 1.4-1.1 1.5-1.2 1.5-1.2 1.4-1.1 1.5-1.2 1.5-1.1 1.4-1.2 1.5-1.2 1.4-1.1 1.5-1.2 1.4-1.2 1.5-1.1 1.4-1.2 1.5-1.2 1.4-1.1 1.5-1.2 1.4-1.2 1.5-1.1 1.4-1.2 1.4-1.2 1.5-1.2 1.4-1.1 1.4-1.2 1.5-1.2 1.4-1.2 1.4-1.1 1.5-1.2 1.4-1.2 1.4-1.2 1.4-1.2 1.5-1.1 1.4-1.2 1.4-1.2 1.4-1.2 1.5-1.2 1.4-1.2 1.4-1.2M556.7 306.9l-1.5-2 -1.5-2 -1.5-2 -1.6-1.9 -1.5-2 -1.5-2 -1.5-1.9 -1.6-2 -1.5-1.9 -1.6-1.9 -1.5-1.9 -1.5-1.9 -1.6-1.9 -1.5-1.9 -1.6-1.9 -1.5-1.8 -1.6-1.9 -1.5-1.8 -1.6-1.8 -1.5-1.8 -1.6-1.8 -1.5-1.8 -1.6-1.8 -1.6-1.8 -1.5-1.8 -1.6-1.7 -1.5-1.7 -1.6-1.8 -1.6-1.7 -1.5-1.7 -1.6-1.7 -1.6-1.6 -1.5-1.7 -1.6-1.6 -1.5-1.7 -1.6-1.6 -1.6-1.6 -1.5-1.6 -1.6-1.6 -1.5-1.6 -1.6-1.6 -1.6-1.5 -1.5-1.5 -1.6-1.6 -1.5-1.5 -1.6-1.5 -1.5-1.4 -1.6-1.5 -1.5-1.5 -1.6-1.4 -1.5-1.4 -1.6-1.5 -1.5-1.4 -1.6-1.3 -1.5-1.4 -1.5-1.4 -1.6-1.3 -1.5-1.3 -1.5-1.3 -1.6-1.3 -1.5-1.3 -1.5-1.3 -1.5-1.2 -1.5-1.3 -1.5-1.2 -1.6-1.2 -1.5-1.2 -1.5-1.2 -1.5-1.1 -1.4-1.2 -1.5-1.1 -1.5-1.1 -1.5-1.1 -1.5-1.1 -1.5-1 -1.4-1.1 -1.5-1 -1.5-1 -1.4-1 -1.5-1 -1.4-1 -1.5-.9 -1.4-.9 -1.4-.9 -1.5-.9 -1.4-.9 -1.4-.9 -1.4-.8 -1.4-.8 -1.4-.9 -1.4-.7 -1.4-.8 -1.4-.8 -1.4-.7 -1.3-.7 -1.4-.7 -1.4-.7 -1.3-.7 -1.3-.6 -1.4-.6M488 290.4l1.6-1.2 1.6-1.1 1.7-1.2 1.6-1.1 1.6-1.2 1.6-1.1 1.5-1.2 1.6-1.2 1.6-1.1 1.6-1.2 1.6-1.1 1.6-1.2 1.6-1.1 1.5-1.2 1.6-1.1 1.6-1.2 1.6-1.1 1.5-1.1 1.6-1.2 1.5-1.1 1.6-1.2 1.6-1.1 1.5-1.2 1.6-1.1 1.5-1.2 1.6-1.1 1.5-1.2 1.5-1.1 1.6-1.2 1.5-1.1 1.6-1.2 1.5-1.1 1.5-1.2 1.5-1.1 1.6-1.2 1.5-1.1 1.5-1.2 1.5-1.1 1.6-1.2 1.5-1.1 1.5-1.1 1.5-1.2 1.5-1.1 1.5-1.2 1.5-1.1 1.5-1.2 1.5-1.1 1.5-1.2 1.5-1.1 1.5-1.2 1.5-1.1 1.5-1.2 1.5-1.2 1.5-1.1 1.5-1.2 1.4-1.1 1.5-1.2 1.5-1.1 1.5-1.2 1.5-1.1 1.4-1.2 1.5-1.1 1.5-1.2 1.5-1.2 1.4-1.1 1.5-1.2 1.5-1.1 1.4-1.2 1.5-1.1 1.4-1.2 1.5-1.2 1.5-1.1 1.4-1.2 1.5-1.2 1.4-1.1 1.5-1.2 1.4-1.2 1.5-1.1 1.4-1.2 1.5-1.2 1.4-1.1 1.4-1.2 1.5-1.2 1.4-1.1 1.5-1.2 1.4-1.2 1.4-1.2 1.5-1.1 1.4-1.2 1.4-1.2 1.5-1.2 1.4-1.1 1.4-1.2 1.4-1.2 1.5-1.2 1.4-1.2 1.4-1.2 1.4-1.1 1.5-1.2 1.4-1.2M558.2 305.7l-1.5-2 -1.5-2 -1.5-1.9 -1.6-2 -1.5-2 -1.5-1.9 -1.5-2 -1.6-1.9 -1.5-2 -1.5-1.9 -1.6-1.9 -1.5-1.9 -1.5-1.9 -1.6-1.9 -1.5-1.8 -1.6-1.9 -1.5-1.8 -1.6-1.9 -1.5-1.8 -1.6-1.8 -1.5-1.8 -1.6-1.8 -1.5-1.8 -1.6-1.7 -1.6-1.8 -1.5-1.7 -1.6-1.8 -1.5-1.7 -1.6-1.7 -1.6-1.7 -1.5-1.7 -1.6-1.7 -1.5-1.6 -1.6-1.7 -1.6-1.6 -1.5-1.6 -1.6-1.6 -1.5-1.6 -1.6-1.6 -1.6-1.6 -1.5-1.6 -1.6-1.5 -1.5-1.5 -1.6-1.5 -1.5-1.6 -1.6-1.4 -1.6-1.5 -1.5-1.5 -1.6-1.4 -1.5-1.5 -1.5-1.4 -1.6-1.4 -1.5-1.4 -1.6-1.4 -1.5-1.4 -1.5-1.3 -1.6-1.3 -1.5-1.4 -1.5-1.3 -1.6-1.3 -1.5-1.3 -1.5-1.2 -1.5-1.3 -1.5-1.2 -1.5-1.2 -1.6-1.2 -1.5-1.2 -1.5-1.2 -1.5-1.1 -1.5-1.2 -1.4-1.1 -1.5-1.1 -1.5-1.1 -1.5-1.1 -1.5-1 -1.4-1.1 -1.5-1 -1.5-1 -1.4-1 -1.5-1 -1.4-.9 -1.5-1 -1.4-.9 -1.4-.9 -1.5-.9 -1.4-.9 -1.4-.8 -1.4-.9 -1.4-.8 -1.4-.8 -1.4-.8 -1.4-.7 -1.4-.8 -1.4-.7 -1.3-.7 -1.4-.7 -1.4-.7 -1.3-.7 -1.4-.6 -1.3-.6M486.4 288.5l1.6-1.1 1.7-1.2 1.6-1.1 1.6-1.2 1.6-1.1 1.6-1.2 1.6-1.1 1.6-1.2 1.5-1.1 1.6-1.2 1.6-1.1 1.6-1.2 1.6-1.1 1.6-1.2 1.5-1.1 1.6-1.1 1.6-1.2 1.6-1.1 1.5-1.2 1.6-1.1 1.5-1.2 1.6-1.1 1.6-1.2 1.5-1.1 1.6-1.2 1.5-1.1 1.6-1.1 1.5-1.2 1.5-1.1 1.6-1.2 1.5-1.1 1.5-1.2 1.6-1.1 1.5-1.2 1.5-1.1 1.6-1.2 1.5-1.1 1.5-1.1 1.5-1.2 1.5-1.1 1.6-1.2 1.5-1.1 1.5-1.2 1.5-1.1 1.5-1.2 1.5-1.1 1.5-1.2 1.5-1.1 1.5-1.2 1.5-1.1 1.5-1.2 1.5-1.1 1.5-1.2 1.5-1.1 1.5-1.2 1.4-1.1 1.5-1.2 1.5-1.1 1.5-1.2 1.5-1.1 1.4-1.2 1.5-1.1 1.5-1.2 1.5-1.1 1.4-1.2 1.5-1.2 1.5-1.1 1.4-1.2 1.5-1.1 1.5-1.2 1.4-1.2 1.5-1.1 1.4-1.2 1.5-1.1 1.4-1.2 1.5-1.2 1.5-1.1 1.4-1.2 1.4-1.2 1.5-1.1 1.4-1.2 1.5-1.2 1.4-1.1 1.5-1.2 1.4-1.2 1.4-1.1 1.5-1.2 1.4-1.2 1.5-1.2 1.4-1.1 1.4-1.2 1.4-1.2 1.5-1.2 1.4-1.2 1.4-1.1 1.5-1.2 1.4-1.2 1.4-1.2 1.4-1.2 1.5-1.2M559.7 304.6l-1.5-2.1 -1.5-1.9 -1.5-2 -1.5-2 -1.6-2 -1.5-1.9 -1.5-2 -1.5-1.9 -1.6-1.9 -1.5-2 -1.5-1.9 -1.6-1.9 -1.5-1.8 -1.5-1.9 -1.6-1.9 -1.5-1.8 -1.6-1.9 -1.5-1.8 -1.6-1.8 -1.5-1.8 -1.6-1.8 -1.5-1.8 -1.6-1.8 -1.5-1.8 -1.6-1.7 -1.6-1.8 -1.5-1.7 -1.6-1.7 -1.5-1.7 -1.6-1.7 -1.6-1.7 -1.5-1.7 -1.6-1.6 -1.5-1.7 -1.6-1.6 -1.6-1.6 -1.5-1.6 -1.6-1.6 -1.5-1.6 -1.6-1.6 -1.5-1.5 -1.6-1.6 -1.6-1.5 -1.5-1.5 -1.6-1.5 -1.5-1.5 -1.6-1.5 -1.5-1.5 -1.6-1.4 -1.5-1.5 -1.6-1.4 -1.5-1.4 -1.5-1.4 -1.6-1.3 -1.5-1.4 -1.6-1.4 -1.5-1.3 -1.5-1.3 -1.5-1.3 -1.6-1.3 -1.5-1.3 -1.5-1.2 -1.5-1.3 -1.5-1.2 -1.6-1.2 -1.5-1.2 -1.5-1.2 -1.5-1.2 -1.5-1.1 -1.5-1.2 -1.5-1.1 -1.4-1.1 -1.5-1.1 -1.5-1.1 -1.5-1 -1.4-1.1 -1.5-1 -1.5-1 -1.4-1 -1.5-.9 -1.4-1 -1.5-.9 -1.4-1 -1.4-.9 -1.5-.8 -1.4-.9 -1.4-.9 -1.4-.8 -1.4-.8 -1.4-.8 -1.4-.8 -1.4-.8 -1.4-.7 -1.4-.7 -1.4-.7 -1.3-.7 -1.4-.7 -1.3-.7 -1.4-.6 -1.3-.6M484.8 286.7l1.6-1.2 1.7-1.1 1.6-1.1 1.6-1.2 1.6-1.1 1.6-1.2 1.6-1.1 1.6-1.2 1.6-1.1 1.6-1.2 1.5-1.1 1.6-1.2 1.6-1.1 1.6-1.1 1.6-1.2 1.5-1.1 1.6-1.2 1.6-1.1 1.6-1.2 1.5-1.1 1.6-1.1 1.5-1.2 1.6-1.1 1.6-1.2 1.5-1.1 1.6-1.2 1.5-1.1 1.5-1.1 1.6-1.2 1.5-1.1 1.6-1.2 1.5-1.1 1.5-1.2 1.6-1.1 1.5-1.1 1.5-1.2 1.6-1.1 1.5-1.2 1.5-1.1 1.5-1.2 1.5-1.1 1.6-1.2 1.5-1.1 1.5-1.1 1.5-1.2 1.5-1.1 1.5-1.2 1.5-1.1 1.5-1.2 1.5-1.1 1.5-1.2 1.5-1.1 1.5-1.2 1.5-1.1 1.5-1.2 1.4-1.1 1.5-1.2 1.5-1.1 1.5-1.2 1.5-1.1 1.5-1.2 1.4-1.1 1.5-1.2 1.5-1.1 1.5-1.2 1.4-1.1 1.5-1.2 1.5-1.2 1.4-1.1 1.5-1.2 1.4-1.1 1.5-1.2 1.5-1.1 1.4-1.2 1.5-1.2 1.4-1.1 1.5-1.2 1.4-1.2 1.5-1.1 1.4-1.2 1.5-1.2 1.4-1.1 1.5-1.2 1.4-1.2 1.5-1.1 1.4-1.2 1.4-1.2 1.5-1.1 1.4-1.2 1.4-1.2 1.5-1.2 1.4-1.1 1.4-1.2 1.5-1.2 1.4-1.2 1.4-1.2 1.4-1.1 1.5-1.2 1.4-1.2 1.4-1.2M561.2 303.4l-1.5-2 -1.5-2 -1.5-2 -1.5-2 -1.5-2 -1.6-1.9 -1.5-2 -1.5-1.9 -1.5-1.9 -1.6-1.9 -1.5-1.9 -1.5-1.9 -1.6-1.9 -1.5-1.9 -1.6-1.8 -1.5-1.9 -1.5-1.8 -1.6-1.9 -1.5-1.8 -1.6-1.8 -1.5-1.8 -1.6-1.8 -1.5-1.8 -1.6-1.7 -1.5-1.8 -1.6-1.7 -1.6-1.7 -1.5-1.8 -1.6-1.7 -1.5-1.7 -1.6-1.6 -1.6-1.7 -1.5-1.7 -1.6-1.6 -1.5-1.6 -1.6-1.6 -1.5-1.7 -1.6-1.5 -1.6-1.6 -1.5-1.6 -1.6-1.5 -1.5-1.6 -1.6-1.5 -1.5-1.5 -1.6-1.5 -1.5-1.5 -1.6-1.5 -1.5-1.4 -1.6-1.5 -1.5-1.4 -1.6-1.4 -1.5-1.4 -1.6-1.4 -1.5-1.4 -1.5-1.4 -1.6-1.3 -1.5-1.3 -1.5-1.4 -1.6-1.3 -1.5-1.2 -1.5-1.3 -1.5-1.3 -1.5-1.2 -1.6-1.2 -1.5-1.3 -1.5-1.2 -1.5-1.1 -1.5-1.2 -1.5-1.1 -1.5-1.2 -1.5-1.1 -1.4-1.1 -1.5-1.1 -1.5-1 -1.5-1.1 -1.5-1 -1.4-1.1 -1.5-1 -1.4-.9 -1.5-1 -1.4-1 -1.5-.9 -1.4-.9 -1.5-.9 -1.4-.9 -1.4-.9 -1.4-.8 -1.4-.8 -1.5-.9 -1.4-.8 -1.4-.7 -1.3-.8 -1.4-.7 -1.4-.8 -1.4-.7 -1.4-.7 -1.3-.6 -1.4-.7 -1.3-.6 -1.4-.6M483.2 284.9l1.7-1.2 1.6-1.1 1.6-1.2 1.6-1.1 1.6-1.1 1.6-1.2 1.6-1.1 1.6-1.2 1.6-1.1 1.6-1.2 1.6-1.1 1.6-1.1 1.5-1.2 1.6-1.1 1.6-1.2 1.6-1.1 1.5-1.1 1.6-1.2 1.6-1.1 1.6-1.2 1.5-1.1 1.6-1.2 1.5-1.1 1.6-1.1 1.6-1.2 1.5-1.1 1.6-1.2 1.5-1.1 1.5-1.1 1.6-1.2 1.5-1.1 1.6-1.2 1.5-1.1 1.5-1.1 1.6-1.2 1.5-1.1 1.5-1.2 1.5-1.1 1.6-1.1 1.5-1.2 1.5-1.1 1.5-1.2 1.5-1.1 1.6-1.2 1.5-1.1 1.5-1.1 1.5-1.2 1.5-1.1 1.5-1.2 1.5-1.1 1.5-1.2 1.5-1.1 1.5-1.2 1.5-1.1 1.5-1.2 1.4-1.1 1.5-1.1 1.5-1.2 1.5-1.1 1.5-1.2 1.5-1.1 1.4-1.2 1.5-1.1 1.5-1.2 1.5-1.2 1.4-1.1 1.5-1.2 1.5-1.1 1.4-1.2 1.5-1.1 1.5-1.2 1.4-1.1 1.5-1.2 1.4-1.2 1.5-1.1 1.5-1.2 1.4-1.1 1.5-1.2 1.4-1.2 1.5-1.1 1.4-1.2 1.5-1.2 1.4-1.1 1.5-1.2 1.4-1.2 1.4-1.1 1.5-1.2 1.4-1.2 1.5-1.1 1.4-1.2 1.4-1.2 1.5-1.2 1.4-1.1 1.4-1.2 1.5-1.2 1.4-1.2 1.4-1.2 1.4-1.1 1.5-1.2 1.4-1.2M562.7 302.2l-1.5-2 -1.5-2 -1.5-2 -1.5-2 -1.5-1.9 -1.5-2 -1.6-1.9 -1.5-2 -1.5-1.9 -1.5-1.9 -1.6-1.9 -1.5-1.9 -1.5-1.9 -1.6-1.9 -1.5-1.8 -1.6-1.9 -1.5-1.8 -1.5-1.8 -1.6-1.8 -1.5-1.9 -1.6-1.7 -1.5-1.8 -1.6-1.8 -1.5-1.8 -1.6-1.7 -1.6-1.7 -1.5-1.8 -1.6-1.7 -1.5-1.7 -1.6-1.7 -1.5-1.7 -1.6-1.6 -1.5-1.7 -1.6-1.6 -1.6-1.6 -1.5-1.7 -1.6-1.6 -1.5-1.6 -1.6-1.5 -1.5-1.6 -1.6-1.5 -1.6-1.6 -1.5-1.5 -1.6-1.5 -1.5-1.5 -1.6-1.5 -1.5-1.5 -1.6-1.4 -1.5-1.5 -1.5-1.4 -1.6-1.4 -1.5-1.4 -1.6-1.4 -1.5-1.4 -1.5-1.3 -1.6-1.4 -1.5-1.3 -1.5-1.3 -1.6-1.3 -1.5-1.3 -1.5-1.3 -1.5-1.2 -1.6-1.2 -1.5-1.3 -1.5-1.2 -1.5-1.2 -1.5-1.1 -1.5-1.2 -1.5-1.2 -1.5-1.1 -1.5-1.1 -1.5-1.1 -1.4-1.1 -1.5-1 -1.5-1.1 -1.5-1 -1.4-1 -1.5-1 -1.5-1 -1.4-1 -1.5-.9 -1.4-1 -1.4-.9 -1.5-.9 -1.4-.9 -1.4-.8 -1.5-.9 -1.4-.8 -1.4-.8 -1.4-.8 -1.4-.8 -1.4-.7 -1.4-.8 -1.3-.7 -1.4-.7 -1.4-.7 -1.3-.6 -1.4-.7 -1.3-.6 -1.4-.6M481.6 283.1l1.7-1.2 1.6-1.1 1.6-1.2 1.6-1.1 1.6-1.1 1.6-1.2 1.6-1.1 1.6-1.2 1.6-1.1 1.6-1.1 1.6-1.2 1.6-1.1 1.6-1.2 1.5-1.1 1.6-1.1 1.6-1.2 1.6-1.1 1.6-1.1 1.5-1.2 1.6-1.1 1.6-1.2 1.5-1.1 1.6-1.1 1.5-1.2 1.6-1.1 1.5-1.1 1.6-1.2 1.5-1.1 1.6-1.2 1.5-1.1 1.6-1.1 1.5-1.2 1.6-1.1 1.5-1.2 1.5-1.1 1.6-1.1 1.5-1.2 1.5-1.1 1.5-1.1 1.6-1.2 1.5-1.1 1.5-1.2 1.5-1.1 1.5-1.2 1.5-1.1 1.5-1.1 1.6-1.2 1.5-1.1 1.5-1.2 1.5-1.1 1.5-1.1 1.5-1.2 1.5-1.1 1.5-1.2 1.4-1.1 1.5-1.2 1.5-1.1 1.5-1.2 1.5-1.1 1.5-1.2 1.5-1.1 1.4-1.2 1.5-1.1 1.5-1.2 1.5-1.1 1.4-1.2 1.5-1.1 1.5-1.2 1.5-1.1 1.4-1.2 1.5-1.1 1.4-1.2 1.5-1.1 1.5-1.2 1.4-1.2 1.5-1.1 1.4-1.2 1.5-1.1 1.4-1.2 1.5-1.2 1.4-1.1 1.5-1.2 1.4-1.2 1.5-1.1 1.4-1.2 1.5-1.2 1.4-1.1 1.5-1.2 1.4-1.2 1.4-1.1 1.5-1.2 1.4-1.2 1.4-1.2 1.5-1.1 1.4-1.2 1.4-1.2 1.5-1.2 1.4-1.2 1.4-1.1 1.4-1.2M564.2 301l-1.5-2 -1.5-2 -1.5-2 -1.5-2 -1.5-1.9 -1.5-2 -1.6-1.9 -1.5-1.9 -1.5-2 -1.5-1.9 -1.6-1.9 -1.5-1.9 -1.5-1.8 -1.6-1.9 -1.5-1.9 -1.5-1.8 -1.6-1.9 -1.5-1.8 -1.6-1.8 -1.5-1.8 -1.5-1.8 -1.6-1.8 -1.5-1.7 -1.6-1.8 -1.5-1.8 -1.6-1.7 -1.6-1.7 -1.5-1.7 -1.6-1.7 -1.5-1.7 -1.6-1.7 -1.5-1.6 -1.6-1.7 -1.5-1.6 -1.6-1.7 -1.6-1.6 -1.5-1.6 -1.6-1.6 -1.5-1.5 -1.6-1.6 -1.5-1.5 -1.6-1.6 -1.5-1.5 -1.6-1.5 -1.5-1.5 -1.6-1.5 -1.5-1.4 -1.6-1.5 -1.5-1.4 -1.6-1.5 -1.5-1.4 -1.6-1.4 -1.5-1.4 -1.5-1.3 -1.6-1.4 -1.5-1.3 -1.5-1.3 -1.6-1.4 -1.5-1.2 -1.5-1.3 -1.5-1.3 -1.6-1.2 -1.5-1.3 -1.5-1.2 -1.5-1.2 -1.5-1.2 -1.5-1.2 -1.5-1.1 -1.5-1.2 -1.5-1.1 -1.5-1.1 -1.5-1.1 -1.5-1.1 -1.4-1 -1.5-1.1 -1.5-1 -1.4-1 -1.5-1 -1.5-1 -1.4-1 -1.5-.9 -1.4-.9 -1.5-.9 -1.4-.9 -1.4-.9 -1.5-.9 -1.4-.8 -1.4-.8 -1.4-.8 -1.4-.8 -1.4-.8 -1.4-.8 -1.4-.7 -1.4-.7 -1.3-.7 -1.4-.7 -1.4-.7 -1.3-.6 -1.4-.6 -1.3-.6M480 281.3l1.7-1.2 1.6-1.1 1.6-1.1 1.6-1.2 1.6-1.1 1.6-1.2 1.6-1.1 1.6-1.1 1.6-1.2 1.6-1.1 1.6-1.1 1.6-1.2 1.6-1.1 1.6-1.2 1.6-1.1 1.5-1.1 1.6-1.2 1.6-1.1 1.6-1.1 1.5-1.2 1.6-1.1 1.6-1.1 1.5-1.2 1.6-1.1 1.5-1.1 1.6-1.2 1.5-1.1 1.6-1.1 1.5-1.2 1.6-1.1 1.5-1.2 1.6-1.1 1.5-1.1 1.6-1.2 1.5-1.1 1.5-1.1 1.5-1.2 1.6-1.1 1.5-1.1 1.5-1.2 1.5-1.1 1.6-1.2 1.5-1.1 1.5-1.1 1.5-1.2 1.5-1.1 1.5-1.2 1.5-1.1 1.5-1.1 1.5-1.2 1.6-1.1 1.5-1.2 1.4-1.1 1.5-1.1 1.5-1.2 1.5-1.1 1.5-1.2 1.5-1.1 1.5-1.2 1.5-1.1 1.5-1.2 1.4-1.1 1.5-1.2 1.5-1.1 1.5-1.2 1.5-1.1 1.4-1.2 1.5-1.1 1.5-1.2 1.4-1.1 1.5-1.2 1.5-1.1 1.4-1.2 1.5-1.1 1.4-1.2 1.5-1.1 1.5-1.2 1.4-1.2 1.5-1.1 1.4-1.2 1.5-1.1 1.4-1.2 1.5-1.2 1.4-1.1 1.5-1.2 1.4-1.2 1.5-1.1 1.4-1.2 1.4-1.2 1.5-1.1 1.4-1.2 1.5-1.2 1.4-1.2 1.4-1.1 1.5-1.2 1.4-1.2 1.4-1.2 1.5-1.2 1.4-1.1 1.4-1.2M565.7 299.8l-1.5-2 -1.5-2 -1.5-2 -1.5-1.9 -1.5-2 -1.5-2 -1.5-1.9 -1.6-1.9 -1.5-1.9 -1.5-2 -1.5-1.9 -1.6-1.8 -1.5-1.9 -1.5-1.9 -1.6-1.8 -1.5-1.9 -1.5-1.8 -1.6-1.8 -1.5-1.9 -1.6-1.8 -1.5-1.7 -1.6-1.8 -1.5-1.8 -1.6-1.7 -1.5-1.8 -1.6-1.7 -1.5-1.7 -1.6-1.8 -1.5-1.7 -1.6-1.6 -1.5-1.7 -1.6-1.7 -1.5-1.6 -1.6-1.6 -1.5-1.7 -1.6-1.6 -1.5-1.6 -1.6-1.6 -1.6-1.5 -1.5-1.6 -1.6-1.5 -1.5-1.6 -1.6-1.5 -1.5-1.5 -1.6-1.5 -1.5-1.5 -1.6-1.4 -1.5-1.5 -1.5-1.4 -1.6-1.4 -1.5-1.4 -1.6-1.4 -1.5-1.4 -1.6-1.4 -1.5-1.3 -1.5-1.4 -1.5-1.3 -1.6-1.3 -1.5-1.3 -1.5-1.3 -1.5-1.2 -1.6-1.3 -1.5-1.2 -1.5-1.2 -1.5-1.2 -1.5-1.2 -1.5-1.2 -1.5-1.1 -1.5-1.2 -1.5-1.1 -1.5-1.1 -1.5-1.1 -1.5-1.1 -1.5-1 -1.4-1.1 -1.5-1 -1.5-1 -1.4-1 -1.5-1 -1.4-.9 -1.5-1 -1.4-.9 -1.5-.9 -1.4-.9 -1.4-.9 -1.5-.8 -1.4-.9 -1.4-.8 -1.4-.8 -1.4-.8 -1.4-.7 -1.4-.8 -1.4-.7 -1.4-.7 -1.4-.7 -1.3-.7 -1.4-.7 -1.4-.6 -1.3-.6 -1.4-.6M478.4 279.5l1.7-1.2 1.6-1.1 1.6-1.1 1.6-1.2 1.6-1.1 1.6-1.1 1.6-1.2 1.6-1.1 1.6-1.1 1.6-1.2 1.6-1.1 1.6-1.1 1.6-1.2 1.6-1.1 1.6-1.1 1.6-1.2 1.5-1.1 1.6-1.1 1.6-1.2 1.6-1.1 1.5-1.1 1.6-1.2 1.6-1.1 1.5-1.1 1.6-1.2 1.5-1.1 1.6-1.1 1.5-1.2 1.6-1.1 1.5-1.1 1.6-1.2 1.5-1.1 1.6-1.1 1.5-1.2 1.5-1.1 1.6-1.1 1.5-1.2 1.5-1.1 1.6-1.1 1.5-1.2 1.5-1.1 1.5-1.1 1.6-1.2 1.5-1.1 1.5-1.1 1.5-1.2 1.5-1.1 1.5-1.2 1.5-1.1 1.5-1.1 1.5-1.2 1.5-1.1 1.5-1.2 1.5-1.1 1.5-1.1 1.5-1.2 1.5-1.1 1.5-1.2 1.5-1.1 1.5-1.2 1.5-1.1 1.4-1.1 1.5-1.2 1.5-1.1 1.5-1.2 1.5-1.1 1.4-1.2 1.5-1.1 1.5-1.2 1.4-1.1 1.5-1.2 1.5-1.1 1.4-1.2 1.5-1.1 1.5-1.2 1.4-1.2 1.5-1.1 1.4-1.2 1.5-1.1 1.5-1.2 1.4-1.1 1.5-1.2 1.4-1.2 1.5-1.1 1.4-1.2 1.4-1.2 1.5-1.1 1.4-1.2 1.5-1.2 1.4-1.1 1.5-1.2 1.4-1.2 1.4-1.1 1.5-1.2 1.4-1.2 1.4-1.2 1.5-1.2 1.4-1.1 1.4-1.2 1.5-1.2M567.2 298.6l-1.5-2 -1.5-2 -1.5-2 -1.5-1.9 -1.5-2 -1.5-1.9 -1.5-2 -1.6-1.9 -1.5-1.9 -1.5-1.9 -1.5-1.9 -1.5-1.9 -1.6-1.9 -1.5-1.8 -1.5-1.9 -1.6-1.8 -1.5-1.9 -1.5-1.8 -1.6-1.8 -1.5-1.8 -1.6-1.8 -1.5-1.8 -1.6-1.7 -1.5-1.8 -1.6-1.7 -1.5-1.8 -1.6-1.7 -1.5-1.7 -1.6-1.7 -1.5-1.7 -1.6-1.6 -1.5-1.7 -1.6-1.6 -1.5-1.7 -1.6-1.6 -1.5-1.6 -1.6-1.6 -1.5-1.6 -1.6-1.5 -1.5-1.6 -1.6-1.5 -1.5-1.6 -1.6-1.5 -1.5-1.5 -1.6-1.5 -1.5-1.4 -1.6-1.5 -1.5-1.5 -1.6-1.4 -1.5-1.4 -1.6-1.4 -1.5-1.4 -1.5-1.4 -1.6-1.3 -1.5-1.4 -1.5-1.3 -1.6-1.3 -1.5-1.3 -1.5-1.3 -1.5-1.3 -1.6-1.3 -1.5-1.2 -1.5-1.2 -1.5-1.3 -1.5-1.2 -1.5-1.1 -1.5-1.2 -1.5-1.2 -1.5-1.1 -1.5-1.1 -1.5-1.1 -1.5-1.1 -1.5-1.1 -1.5-1 -1.4-1.1 -1.5-1 -1.5-1 -1.4-1 -1.5-1 -1.5-.9 -1.4-.9 -1.5-1 -1.4-.9 -1.4-.9 -1.5-.8 -1.4-.9 -1.4-.8 -1.4-.8 -1.4-.8 -1.5-.8 -1.4-.8 -1.3-.7 -1.4-.8 -1.4-.7 -1.4-.7 -1.4-.6 -1.3-.7 -1.4-.6 -1.3-.6 -1.4-.6M476.9 277.7l1.6-1.1 1.6-1.2 1.6-1.1 1.6-1.1 1.6-1.2 1.6-1.1 1.7-1.1 1.6-1.1 1.6-1.2 1.6-1.1 1.6-1.1 1.5-1.2 1.6-1.1 1.6-1.1 1.6-1.2 1.6-1.1 1.6-1.1 1.5-1.2 1.6-1.1 1.6-1.1 1.6-1.1 1.5-1.2 1.6-1.1 1.6-1.1 1.5-1.2 1.6-1.1 1.5-1.1 1.6-1.2 1.5-1.1 1.6-1.1 1.5-1.1 1.6-1.2 1.5-1.1 1.6-1.1 1.5-1.2 1.5-1.1 1.6-1.1 1.5-1.2 1.5-1.1 1.6-1.1 1.5-1.2 1.5-1.1 1.5-1.1 1.5-1.2 1.6-1.1 1.5-1.1 1.5-1.2 1.5-1.1 1.5-1.1 1.5-1.2 1.5-1.1 1.5-1.2 1.5-1.1 1.5-1.1 1.5-1.2 1.5-1.1 1.5-1.2 1.5-1.1 1.5-1.1 1.5-1.2 1.5-1.1 1.4-1.2 1.5-1.1 1.5-1.2 1.5-1.1 1.5-1.1 1.4-1.2 1.5-1.1 1.5-1.2 1.5-1.1 1.4-1.2 1.5-1.1 1.5-1.2 1.4-1.1 1.5-1.2 1.4-1.1 1.5-1.2 1.5-1.2 1.4-1.1 1.5-1.2 1.4-1.1 1.5-1.2 1.4-1.2 1.5-1.1 1.4-1.2 1.5-1.1 1.4-1.2 1.5-1.2 1.4-1.1 1.5-1.2 1.4-1.2 1.4-1.1 1.5-1.2 1.4-1.2 1.5-1.2 1.4-1.1 1.4-1.2 1.5-1.2 1.4-1.2 1.4-1.2M568.7 297.4l-1.5-2 -1.5-2 -1.5-1.9 -1.5-2 -1.5-2 -1.5-1.9 -1.5-2 -1.5-1.9 -1.6-1.9 -1.5-1.9 -1.5-1.9 -1.5-1.9 -1.6-1.9 -1.5-1.8 -1.5-1.9 -1.5-1.8 -1.6-1.8 -1.5-1.9 -1.6-1.8 -1.5-1.8 -1.5-1.7 -1.6-1.8 -1.5-1.8 -1.6-1.7 -1.5-1.8 -1.6-1.7 -1.5-1.7 -1.6-1.7 -1.5-1.7 -1.6-1.7 -1.5-1.7 -1.6-1.6 -1.5-1.7 -1.6-1.6 -1.5-1.6 -1.6-1.6 -1.5-1.6 -1.6-1.6 -1.5-1.5 -1.6-1.6 -1.5-1.5 -1.6-1.6 -1.5-1.5 -1.6-1.5 -1.5-1.5 -1.6-1.4 -1.5-1.5 -1.6-1.4 -1.5-1.5 -1.5-1.4 -1.6-1.4 -1.5-1.4 -1.6-1.3 -1.5-1.4 -1.5-1.3 -1.6-1.4 -1.5-1.3 -1.5-1.3 -1.5-1.3 -1.6-1.3 -1.5-1.2 -1.5-1.2 -1.5-1.3 -1.5-1.2 -1.5-1.2 -1.6-1.2 -1.5-1.1 -1.5-1.2 -1.5-1.1 -1.5-1.1 -1.4-1.1 -1.5-1.1 -1.5-1.1 -1.5-1 -1.5-1.1 -1.4-1 -1.5-1 -1.5-1 -1.4-.9 -1.5-1 -1.4-.9 -1.5-.9 -1.4-.9 -1.5-.9 -1.4-.9 -1.4-.8 -1.4-.9 -1.5-.8 -1.4-.8 -1.4-.8 -1.4-.7 -1.4-.8 -1.4-.7 -1.4-.7 -1.3-.7 -1.4-.7 -1.4-.6 -1.3-.6 -1.4-.7 -1.3-.6M475.3 275.9l1.6-1.1 1.6-1.1 1.6-1.1 1.6-1.2 1.6-1.1 1.7-1.1 1.6-1.2 1.6-1.1 1.6-1.1 1.6-1.1 1.6-1.2 1.6-1.1 1.6-1.1 1.5-1.2 1.6-1.1 1.6-1.1 1.6-1.1 1.6-1.2 1.6-1.1 1.5-1.1 1.6-1.1 1.6-1.2 1.5-1.1 1.6-1.1 1.6-1.2 1.5-1.1 1.6-1.1 1.5-1.1 1.6-1.2 1.5-1.1 1.6-1.1 1.5-1.1 1.6-1.2 1.5-1.1 1.6-1.1 1.5-1.2 1.5-1.1 1.6-1.1 1.5-1.2 1.5-1.1 1.5-1.1 1.6-1.1 1.5-1.2 1.5-1.1 1.5-1.1 1.5-1.2 1.6-1.1 1.5-1.1 1.5-1.2 1.5-1.1 1.5-1.1 1.5-1.2 1.5-1.1 1.5-1.2 1.5-1.1 1.5-1.1 1.5-1.2 1.5-1.1 1.5-1.1 1.5-1.2 1.5-1.1 1.4-1.2 1.5-1.1 1.5-1.2 1.5-1.1 1.5-1.1 1.4-1.2 1.5-1.1 1.5-1.2 1.5-1.1 1.4-1.2 1.5-1.1 1.5-1.2 1.4-1.1 1.5-1.2 1.5-1.1 1.4-1.2 1.5-1.1 1.4-1.2 1.5-1.2 1.5-1.1 1.4-1.2 1.5-1.1 1.4-1.2 1.5-1.1 1.4-1.2 1.5-1.2 1.4-1.1 1.4-1.2 1.5-1.2 1.4-1.1 1.5-1.2 1.4-1.2 1.5-1.1 1.4-1.2 1.4-1.2 1.5-1.2 1.4-1.1 1.4-1.2 1.5-1.2M570.2 296.2l-1.5-2 -1.5-2 -1.5-1.9 -1.5-2 -1.5-2 -1.5-1.9 -1.5-1.9 -1.5-2 -1.5-1.9 -1.6-1.9 -1.5-1.9 -1.5-1.8 -1.5-1.9 -1.6-1.9 -1.5-1.8 -1.5-1.9 -1.6-1.8 -1.5-1.8 -1.5-1.8 -1.6-1.8 -1.5-1.8 -1.5-1.8 -1.6-1.7 -1.5-1.8 -1.6-1.7 -1.5-1.7 -1.6-1.8 -1.5-1.7 -1.6-1.6 -1.5-1.7 -1.6-1.7 -1.5-1.6 -1.6-1.7 -1.5-1.6 -1.6-1.6 -1.5-1.6 -1.6-1.6 -1.5-1.6 -1.6-1.5 -1.5-1.6 -1.6-1.5 -1.5-1.6 -1.6-1.5 -1.5-1.5 -1.6-1.4 -1.5-1.5 -1.5-1.5 -1.6-1.4 -1.5-1.4 -1.6-1.5 -1.5-1.4 -1.6-1.3 -1.5-1.4 -1.5-1.4 -1.6-1.3 -1.5-1.3 -1.5-1.3 -1.5-1.3 -1.6-1.3 -1.5-1.3 -1.5-1.2 -1.5-1.3 -1.5-1.2 -1.6-1.2 -1.5-1.2 -1.5-1.2 -1.5-1.1 -1.5-1.2 -1.5-1.1 -1.5-1.1 -1.5-1.1 -1.5-1.1 -1.4-1.1 -1.5-1 -1.5-1 -1.5-1.1 -1.4-1 -1.5-.9 -1.5-1 -1.4-1 -1.5-.9 -1.4-.9 -1.5-.9 -1.4-.9 -1.4-.9 -1.5-.8 -1.4-.8 -1.4-.8 -1.4-.8 -1.4-.8 -1.4-.8 -1.4-.7 -1.4-.7 -1.4-.7 -1.4-.7 -1.3-.7 -1.4-.6 -1.4-.7 -1.3-.6 -1.4-.6M473.7 274.2l1.6-1.1 1.6-1.2 1.6-1.1 1.6-1.1 1.7-1.1 1.6-1.2 1.6-1.1 1.6-1.1 1.6-1.1 1.6-1.2 1.6-1.1 1.6-1.1 1.6-1.1 1.6-1.2 1.6-1.1 1.5-1.1 1.6-1.1 1.6-1.2 1.6-1.1 1.6-1.1 1.5-1.1 1.6-1.2 1.6-1.1 1.5-1.1 1.6-1.1 1.6-1.2 1.5-1.1 1.6-1.1 1.5-1.1 1.6-1.2 1.5-1.1 1.6-1.1 1.5-1.1 1.6-1.2 1.5-1.1 1.6-1.1 1.5-1.1 1.5-1.2 1.6-1.1 1.5-1.1 1.5-1.2 1.5-1.1 1.6-1.1 1.5-1.1 1.5-1.2 1.5-1.1 1.5-1.1 1.5-1.2 1.6-1.1 1.5-1.1 1.5-1.2 1.5-1.1 1.5-1.1 1.5-1.2 1.5-1.1 1.5-1.1 1.5-1.2 1.5-1.1 1.5-1.2 1.5-1.1 1.4-1.1 1.5-1.2 1.5-1.1 1.5-1.1 1.5-1.2 1.5-1.1 1.4-1.2 1.5-1.1 1.5-1.2 1.5-1.1 1.4-1.2 1.5-1.1 1.5-1.2 1.4-1.1 1.5-1.2 1.5-1.1 1.4-1.2 1.5-1.1 1.5-1.2 1.4-1.1 1.5-1.2 1.4-1.1 1.5-1.2 1.4-1.1 1.5-1.2 1.4-1.2 1.5-1.1 1.4-1.2 1.5-1.2 1.4-1.1 1.5-1.2 1.4-1.2 1.5-1.1 1.4-1.2 1.4-1.2 1.5-1.1 1.4-1.2 1.4-1.2 1.5-1.2 1.4-1.1M571.7 295l-1.5-2 -1.5-1.9 -1.5-2 -1.5-2 -1.5-1.9 -1.5-2 -1.5-1.9 -1.5-1.9 -1.5-1.9 -1.6-1.9 -1.5-1.9 -1.5-1.9 -1.5-1.9 -1.5-1.8 -1.6-1.9 -1.5-1.8 -1.5-1.9 -1.6-1.8 -1.5-1.8 -1.5-1.8 -1.6-1.7 -1.5-1.8 -1.6-1.8 -1.5-1.7 -1.5-1.8 -1.6-1.7 -1.5-1.7 -1.6-1.7 -1.5-1.7 -1.6-1.6 -1.5-1.7 -1.6-1.7 -1.5-1.6 -1.6-1.6 -1.5-1.6 -1.6-1.6 -1.5-1.6 -1.6-1.6 -1.5-1.6 -1.6-1.5 -1.5-1.5 -1.6-1.6 -1.5-1.5 -1.5-1.5 -1.6-1.4 -1.5-1.5 -1.6-1.5 -1.5-1.4 -1.6-1.4 -1.5-1.4 -1.5-1.4 -1.6-1.4 -1.5-1.4 -1.6-1.3 -1.5-1.4 -1.5-1.3 -1.5-1.3 -1.6-1.3 -1.5-1.3 -1.5-1.2 -1.5-1.3 -1.6-1.2 -1.5-1.2 -1.5-1.2 -1.5-1.2 -1.5-1.2 -1.5-1.2 -1.5-1.1 -1.5-1.1 -1.5-1.1 -1.5-1.1 -1.5-1.1 -1.5-1.1 -1.4-1 -1.5-1 -1.5-1.1 -1.5-1 -1.4-.9 -1.5-1 -1.4-.9 -1.5-1 -1.4-.9 -1.5-.9 -1.4-.9 -1.5-.8 -1.4-.9 -1.4-.8 -1.4-.8 -1.4-.8 -1.4-.8 -1.5-.7 -1.3-.7 -1.4-.8 -1.4-.7 -1.4-.6 -1.4-.7 -1.4-.7 -1.3-.6 -1.4-.6 -1.3-.6M472.1 272.5l1.6-1.2 1.6-1.1 1.6-1.1 1.7-1.1 1.6-1.2 1.6-1.1 1.6-1.1 1.6-1.1 1.6-1.2 1.6-1.1 1.6-1.1 1.6-1.1 1.6-1.1 1.6-1.2 1.6-1.1 1.6-1.1 1.6-1.1 1.5-1.1 1.6-1.2 1.6-1.1 1.6-1.1 1.5-1.1 1.6-1.2 1.6-1.1 1.5-1.1 1.6-1.1 1.6-1.1 1.5-1.2 1.6-1.1 1.5-1.1 1.6-1.1 1.5-1.2 1.6-1.1 1.5-1.1 1.6-1.1 1.5-1.2 1.5-1.1 1.6-1.1 1.5-1.1 1.5-1.2 1.6-1.1 1.5-1.1 1.5-1.1 1.6-1.2 1.5-1.1 1.5-1.1 1.5-1.2 1.5-1.1 1.5-1.1 1.5-1.1 1.6-1.2 1.5-1.1 1.5-1.1 1.5-1.2 1.5-1.1 1.5-1.1 1.5-1.2 1.5-1.1 1.5-1.1 1.4-1.2 1.5-1.1 1.5-1.1 1.5-1.2 1.5-1.1 1.5-1.2 1.5-1.1 1.4-1.1 1.5-1.2 1.5-1.1 1.5-1.2 1.4-1.1 1.5-1.2 1.5-1.1 1.5-1.2 1.4-1.1 1.5-1.2 1.5-1.1 1.4-1.2 1.5-1.1 1.4-1.2 1.5-1.1 1.4-1.2 1.5-1.1 1.5-1.2 1.4-1.1 1.5-1.2 1.4-1.2 1.5-1.1 1.4-1.2 1.5-1.2 1.4-1.1 1.4-1.2 1.5-1.2 1.4-1.1 1.5-1.2 1.4-1.2 1.4-1.1 1.5-1.2 1.4-1.2 1.5-1.2M573.1 293.8l-1.4-1.9 -1.5-2 -1.5-2 -1.5-2 -1.5-1.9 -1.5-2 -1.5-1.9 -1.5-1.9 -1.5-1.9 -1.6-1.9 -1.5-1.9 -1.5-1.9 -1.5-1.8 -1.5-1.9 -1.6-1.9 -1.5-1.8 -1.5-1.8 -1.5-1.8 -1.6-1.8 -1.5-1.8 -1.5-1.8 -1.6-1.8 -1.5-1.7 -1.6-1.8 -1.5-1.7 -1.5-1.7 -1.6-1.7 -1.5-1.7 -1.6-1.7 -1.5-1.7 -1.6-1.6 -1.5-1.7 -1.6-1.6 -1.5-1.6 -1.6-1.6 -1.5-1.6 -1.6-1.6 -1.5-1.6 -1.6-1.6 -1.5-1.5 -1.5-1.5 -1.6-1.6 -1.5-1.5 -1.6-1.4 -1.5-1.5 -1.6-1.5 -1.5-1.4 -1.6-1.5 -1.5-1.4 -1.5-1.4 -1.6-1.4 -1.5-1.4 -1.6-1.3 -1.5-1.4 -1.5-1.3 -1.6-1.3 -1.5-1.4 -1.5-1.2 -1.5-1.3 -1.6-1.3 -1.5-1.2 -1.5-1.3 -1.5-1.2 -1.5-1.2 -1.5-1.2 -1.5-1.1 -1.5-1.2 -1.5-1.1 -1.5-1.1 -1.5-1.2 -1.5-1 -1.5-1.1 -1.5-1.1 -1.5-1 -1.4-1 -1.5-1.1 -1.5-.9 -1.5-1 -1.4-1 -1.5-.9 -1.4-.9 -1.5-1 -1.4-.8 -1.5-.9 -1.4-.9 -1.4-.8 -1.4-.8 -1.5-.8 -1.4-.8 -1.4-.8 -1.4-.7 -1.4-.8 -1.4-.7 -1.4-.7 -1.3-.7 -1.4-.6 -1.4-.7 -1.4-.6 -1.3-.6 -1.4-.6M470.5 270.7l1.6-1.1 1.6-1.1 1.7-1.1 1.6-1.2 1.6-1.1 1.6-1.1 1.6-1.1 1.6-1.1 1.6-1.2 1.6-1.1 1.6-1.1 1.6-1.1 1.6-1.1 1.6-1.1 1.6-1.2 1.6-1.1 1.6-1.1 1.6-1.1 1.6-1.1 1.5-1.2 1.6-1.1 1.6-1.1 1.6-1.1 1.5-1.1 1.6-1.2 1.6-1.1 1.5-1.1 1.6-1.1 1.5-1.1 1.6-1.2 1.5-1.1 1.6-1.1 1.5-1.1 1.6-1.1 1.5-1.2 1.6-1.1 1.5-1.1 1.5-1.1 1.6-1.2 1.5-1.1 1.5-1.1 1.6-1.1 1.5-1.1 1.5-1.2 1.5-1.1 1.6-1.1 1.5-1.2 1.5-1.1 1.5-1.1 1.5-1.1 1.5-1.2 1.5-1.1 1.5-1.1 1.5-1.2 1.5-1.1 1.5-1.1 1.5-1.1 1.5-1.2 1.5-1.1 1.5-1.1 1.5-1.2 1.5-1.1 1.5-1.2 1.5-1.1 1.5-1.1 1.5-1.2 1.4-1.1 1.5-1.1 1.5-1.2 1.5-1.1 1.4-1.2 1.5-1.1 1.5-1.2 1.5-1.1 1.4-1.2 1.5-1.1 1.5-1.2 1.4-1.1 1.5-1.2 1.4-1.1 1.5-1.2 1.5-1.1 1.4-1.2 1.5-1.1 1.4-1.2 1.5-1.1 1.4-1.2 1.5-1.2 1.4-1.1 1.5-1.2 1.4-1.1 1.5-1.2 1.4-1.2 1.5-1.1 1.4-1.2 1.4-1.2 1.5-1.1 1.4-1.2 1.5-1.2 1.4-1.2M574.6 292.7l-1.5-2 -1.4-2 -1.5-2 -1.5-1.9 -1.5-2 -1.5-1.9 -1.5-2 -1.5-1.9 -1.5-1.9 -1.5-1.9 -1.6-1.9 -1.5-1.9 -1.5-1.8 -1.5-1.9 -1.5-1.8 -1.6-1.8 -1.5-1.9 -1.5-1.8 -1.5-1.8 -1.6-1.8 -1.5-1.7 -1.6-1.8 -1.5-1.8 -1.5-1.7 -1.6-1.7 -1.5-1.8 -1.5-1.7 -1.6-1.7 -1.5-1.6 -1.6-1.7 -1.5-1.7 -1.6-1.6 -1.5-1.6 -1.6-1.7 -1.5-1.6 -1.6-1.6 -1.5-1.5 -1.6-1.6 -1.5-1.6 -1.5-1.5 -1.6-1.5 -1.5-1.5 -1.6-1.5 -1.5-1.5 -1.6-1.5 -1.5-1.5 -1.6-1.4 -1.5-1.5 -1.5-1.4 -1.6-1.4 -1.5-1.4 -1.6-1.3 -1.5-1.4 -1.5-1.4 -1.6-1.3 -1.5-1.3 -1.5-1.3 -1.5-1.3 -1.6-1.3 -1.5-1.2 -1.5-1.3 -1.5-1.2 -1.5-1.2 -1.5-1.2 -1.6-1.2 -1.5-1.2 -1.5-1.1 -1.5-1.1 -1.5-1.2 -1.5-1.1 -1.5-1.1 -1.4-1 -1.5-1.1 -1.5-1 -1.5-1 -1.5-1 -1.4-1 -1.5-1 -1.4-1 -1.5-.9 -1.5-.9 -1.4-.9 -1.5-.9 -1.4-.9 -1.4-.8 -1.5-.9 -1.4-.8 -1.4-.8 -1.4-.8 -1.4-.7 -1.4-.8 -1.4-.7 -1.4-.7 -1.4-.7 -1.4-.7 -1.4-.7 -1.3-.6 -1.4-.6 -1.4-.6 -1.3-.6M468.9 269l1.6-1.1 1.6-1.1 1.7-1.1 1.6-1.2 1.6-1.1 1.6-1.1 1.6-1.1 1.6-1.1 1.7-1.1 1.6-1.2 1.6-1.1 1.6-1.1 1.6-1.1 1.6-1.1 1.5-1.1 1.6-1.2 1.6-1.1 1.6-1.1 1.6-1.1 1.6-1.1 1.5-1.1 1.6-1.1 1.6-1.2 1.6-1.1 1.5-1.1 1.6-1.1 1.6-1.1 1.5-1.1 1.6-1.2 1.5-1.1 1.6-1.1 1.5-1.1 1.6-1.1 1.5-1.2 1.6-1.1 1.5-1.1 1.6-1.1 1.5-1.1 1.5-1.2 1.6-1.1 1.5-1.1 1.5-1.1 1.6-1.1 1.5-1.2 1.5-1.1 1.5-1.1 1.5-1.1 1.6-1.2 1.5-1.1 1.5-1.1 1.5-1.1 1.5-1.2 1.5-1.1 1.5-1.1 1.5-1.2 1.5-1.1 1.5-1.1 1.5-1.1 1.5-1.2 1.5-1.1 1.5-1.1 1.5-1.2 1.5-1.1 1.5-1.1 1.5-1.2 1.5-1.1 1.4-1.2 1.5-1.1 1.5-1.1 1.5-1.2 1.4-1.1 1.5-1.2 1.5-1.1 1.5-1.1 1.4-1.2 1.5-1.1 1.5-1.2 1.4-1.1 1.5-1.2 1.5-1.1 1.4-1.2 1.5-1.1 1.4-1.2 1.5-1.1 1.5-1.2 1.4-1.1 1.5-1.2 1.4-1.2 1.5-1.1 1.4-1.2 1.5-1.1 1.4-1.2 1.4-1.2 1.5-1.1 1.4-1.2 1.5-1.2 1.4-1.1 1.5-1.2 1.4-1.2 1.4-1.2M576.1 291.5l-1.5-2 -1.5-2 -1.4-2 -1.5-1.9 -1.5-2 -1.5-1.9 -1.5-1.9 -1.5-2 -1.5-1.9 -1.5-1.9 -1.6-1.8 -1.5-1.9 -1.5-1.9 -1.5-1.8 -1.5-1.9 -1.5-1.8 -1.6-1.8 -1.5-1.8 -1.5-1.8 -1.6-1.8 -1.5-1.8 -1.5-1.8 -1.6-1.7 -1.5-1.7 -1.5-1.8 -1.6-1.7 -1.5-1.7 -1.6-1.7 -1.5-1.7 -1.5-1.6 -1.6-1.7 -1.5-1.6 -1.6-1.7 -1.5-1.6 -1.6-1.6 -1.5-1.6 -1.6-1.6 -1.5-1.5 -1.5-1.6 -1.6-1.5 -1.5-1.5 -1.6-1.5 -1.5-1.5 -1.6-1.5 -1.5-1.5 -1.6-1.5 -1.5-1.4 -1.5-1.4 -1.6-1.4 -1.5-1.5 -1.6-1.3 -1.5-1.4 -1.5-1.4 -1.6-1.3 -1.5-1.3 -1.5-1.4 -1.5-1.3 -1.6-1.2 -1.5-1.3 -1.5-1.3 -1.5-1.2 -1.6-1.2 -1.5-1.2 -1.5-1.2 -1.5-1.2 -1.5-1.2 -1.5-1.1 -1.5-1.2 -1.5-1.1 -1.5-1.1 -1.5-1.1 -1.5-1 -1.5-1.1 -1.4-1 -1.5-1 -1.5-1 -1.5-1 -1.4-1 -1.5-.9 -1.4-1 -1.5-.9 -1.4-.9 -1.5-.9 -1.4-.9 -1.5-.8 -1.4-.8 -1.4-.9 -1.4-.8 -1.5-.7 -1.4-.8 -1.4-.7 -1.4-.8 -1.4-.7 -1.4-.7 -1.3-.6 -1.4-.7 -1.4-.6 -1.4-.6 -1.3-.6 -1.4-.6M467.3 267.3l1.6-1.1 1.6-1.1 1.7-1.1 1.6-1.2 1.6-1.1 1.6-1.1 1.7-1.1 1.6-1.1 1.6-1.1 1.6-1.1 1.6-1.1 1.6-1.2 1.6-1.1 1.6-1.1 1.6-1.1 1.6-1.1 1.6-1.1 1.5-1.1 1.6-1.1 1.6-1.2 1.6-1.1 1.6-1.1 1.5-1.1 1.6-1.1 1.6-1.1 1.5-1.1 1.6-1.2 1.6-1.1 1.5-1.1 1.6-1.1 1.5-1.1 1.6-1.1 1.5-1.1 1.6-1.2 1.5-1.1 1.6-1.1 1.5-1.1 1.6-1.1 1.5-1.2 1.5-1.1 1.6-1.1 1.5-1.1 1.5-1.1 1.5-1.2 1.6-1.1 1.5-1.1 1.5-1.1 1.5-1.1 1.6-1.2 1.5-1.1 1.5-1.1 1.5-1.1 1.5-1.2 1.5-1.1 1.5-1.1 1.5-1.1 1.5-1.2 1.5-1.1 1.5-1.1 1.5-1.2 1.5-1.1 1.5-1.1 1.5-1.1 1.5-1.2 1.5-1.1 1.4-1.2 1.5-1.1 1.5-1.1 1.5-1.2 1.5-1.1 1.4-1.1 1.5-1.2 1.5-1.1 1.5-1.2 1.4-1.1 1.5-1.1 1.5-1.2 1.4-1.1 1.5-1.2 1.5-1.1 1.4-1.2 1.5-1.1 1.5-1.2 1.4-1.1 1.5-1.2 1.4-1.1 1.5-1.2 1.4-1.2 1.5-1.1 1.4-1.2 1.5-1.1 1.4-1.2 1.5-1.2 1.4-1.1 1.5-1.2 1.4-1.2 1.4-1.1 1.5-1.2 1.4-1.2 1.5-1.1M577.6 290.3l-1.5-2 -1.5-2 -1.5-2 -1.5-1.9 -1.4-2 -1.5-1.9 -1.5-1.9 -1.5-1.9 -1.5-1.9 -1.5-1.9 -1.6-1.9 -1.5-1.9 -1.5-1.8 -1.5-1.9 -1.5-1.8 -1.5-1.9 -1.6-1.8 -1.5-1.8 -1.5-1.8 -1.5-1.8 -1.6-1.7 -1.5-1.8 -1.5-1.8 -1.6-1.7 -1.5-1.7 -1.5-1.7 -1.6-1.7 -1.5-1.7 -1.6-1.7 -1.5-1.7 -1.5-1.6 -1.6-1.7 -1.5-1.6 -1.6-1.6 -1.5-1.6 -1.6-1.6 -1.5-1.6 -1.6-1.5 -1.5-1.6 -1.5-1.5 -1.6-1.5 -1.5-1.5 -1.6-1.5 -1.5-1.5 -1.6-1.5 -1.5-1.4 -1.5-1.5 -1.6-1.4 -1.5-1.4 -1.6-1.4 -1.5-1.4 -1.5-1.4 -1.6-1.3 -1.5-1.4 -1.5-1.3 -1.6-1.3 -1.5-1.3 -1.5-1.3 -1.5-1.3 -1.6-1.2 -1.5-1.3 -1.5-1.2 -1.5-1.2 -1.5-1.2 -1.5-1.2 -1.5-1.1 -1.5-1.2 -1.5-1.1 -1.5-1.1 -1.5-1.1 -1.5-1.1 -1.5-1 -1.5-1.1 -1.5-1 -1.4-1 -1.5-1 -1.5-1 -1.5-1 -1.4-.9 -1.5-1 -1.4-.9 -1.5-.9 -1.4-.9 -1.5-.8 -1.4-.9 -1.4-.8 -1.5-.8 -1.4-.8 -1.4-.8 -1.4-.7 -1.4-.8 -1.4-.7 -1.4-.7 -1.4-.7 -1.4-.7 -1.4-.6 -1.3-.7 -1.4-.6 -1.4-.6 -1.3-.5M465.7 265.6l1.6-1.1 1.7-1.1 1.6-1.1 1.6-1.1 1.6-1.1 1.7-1.2 1.6-1.1 1.6-1.1 1.6-1.1 1.6-1.1 1.6-1.1 1.6-1.1 1.6-1.1 1.6-1.1 1.6-1.1 1.6-1.2 1.6-1.1 1.6-1.1 1.6-1.1 1.5-1.1 1.6-1.1 1.6-1.1 1.6-1.1 1.5-1.1 1.6-1.1 1.6-1.2 1.5-1.1 1.6-1.1 1.6-1.1 1.5-1.1 1.6-1.1 1.5-1.1 1.6-1.1 1.5-1.2 1.6-1.1 1.5-1.1 1.6-1.1 1.5-1.1 1.6-1.1 1.5-1.2 1.5-1.1 1.6-1.1 1.5-1.1 1.5-1.1 1.5-1.1 1.6-1.2 1.5-1.1 1.5-1.1 1.5-1.1 1.5-1.1 1.6-1.2 1.5-1.1 1.5-1.1 1.5-1.1 1.5-1.2 1.5-1.1 1.5-1.1 1.5-1.1 1.5-1.2 1.5-1.1 1.5-1.1 1.5-1.1 1.5-1.2 1.5-1.1 1.4-1.1 1.5-1.2 1.5-1.1 1.5-1.1 1.5-1.2 1.5-1.1 1.4-1.1 1.5-1.2 1.5-1.1 1.5-1.2 1.4-1.1 1.5-1.1 1.5-1.2 1.4-1.1 1.5-1.2 1.5-1.1 1.4-1.2 1.5-1.1 1.5-1.2 1.4-1.1 1.5-1.2 1.4-1.1 1.5-1.2 1.4-1.1 1.5-1.2 1.4-1.1 1.5-1.2 1.4-1.2 1.5-1.1 1.4-1.2 1.5-1.2 1.4-1.1 1.5-1.2 1.4-1.2 1.5-1.1 1.4-1.2M579.1 289.1l-1.5-2 -1.5-2 -1.5-1.9 -1.5-2 -1.5-1.9 -1.4-2 -1.5-1.9 -1.5-1.9 -1.5-1.9 -1.5-1.9 -1.6-1.9 -1.5-1.9 -1.5-1.8 -1.5-1.9 -1.5-1.8 -1.5-1.8 -1.5-1.8 -1.6-1.9 -1.5-1.7 -1.5-1.8 -1.5-1.8 -1.6-1.8 -1.5-1.7 -1.5-1.7 -1.6-1.8 -1.5-1.7 -1.6-1.7 -1.5-1.7 -1.5-1.6 -1.6-1.7 -1.5-1.6 -1.6-1.7 -1.5-1.6 -1.5-1.6 -1.6-1.6 -1.5-1.6 -1.6-1.6 -1.5-1.5 -1.6-1.6 -1.5-1.5 -1.5-1.5 -1.6-1.5 -1.5-1.5 -1.6-1.5 -1.5-1.5 -1.6-1.4 -1.5-1.5 -1.5-1.4 -1.6-1.4 -1.5-1.4 -1.5-1.4 -1.6-1.4 -1.5-1.3 -1.5-1.3 -1.6-1.4 -1.5-1.3 -1.5-1.3 -1.6-1.3 -1.5-1.2 -1.5-1.3 -1.5-1.2 -1.5-1.2 -1.5-1.2 -1.6-1.2 -1.5-1.2 -1.5-1.1 -1.5-1.2 -1.5-1.1 -1.5-1.1 -1.5-1.1 -1.5-1.1 -1.4-1.1 -1.5-1 -1.5-1 -1.5-1 -1.5-1 -1.4-1 -1.5-1 -1.5-.9 -1.4-1 -1.5-.9 -1.4-.9 -1.5-.8 -1.4-.9 -1.4-.8 -1.5-.9 -1.4-.8 -1.4-.8 -1.4-.7 -1.5-.8 -1.4-.7 -1.4-.8 -1.4-.7 -1.4-.6 -1.3-.7 -1.4-.7 -1.4-.6 -1.4-.6 -1.3-.6 -1.4-.6M464.1 263.9l1.6-1.1 1.7-1.1 1.6-1.1 1.6-1.1 1.7-1.1 1.6-1.1 1.6-1.1 1.6-1.1 1.6-1.1 1.6-1.1 1.6-1.1 1.6-1.2 1.6-1.1 1.6-1.1 1.6-1.1 1.6-1.1 1.6-1.1 1.6-1.1 1.6-1.1 1.6-1.1 1.6-1.1 1.5-1.1 1.6-1.1 1.6-1.1 1.6-1.2 1.5-1.1 1.6-1.1 1.6-1.1 1.5-1.1 1.6-1.1 1.5-1.1 1.6-1.1 1.5-1.1 1.6-1.1 1.5-1.2 1.6-1.1 1.5-1.1 1.6-1.1 1.5-1.1 1.6-1.1 1.5-1.1 1.5-1.1 1.6-1.2 1.5-1.1 1.5-1.1 1.5-1.1 1.6-1.1 1.5-1.1 1.5-1.2 1.5-1.1 1.5-1.1 1.5-1.1 1.5-1.1 1.6-1.2 1.5-1.1 1.5-1.1 1.5-1.1 1.5-1.2 1.5-1.1 1.5-1.1 1.5-1.1 1.5-1.2 1.5-1.1 1.4-1.1 1.5-1.1 1.5-1.2 1.5-1.1 1.5-1.1 1.5-1.2 1.5-1.1 1.4-1.1 1.5-1.2 1.5-1.1 1.5-1.2 1.4-1.1 1.5-1.1 1.5-1.2 1.5-1.1 1.4-1.2 1.5-1.1 1.5-1.2 1.4-1.1 1.5-1.1 1.4-1.2 1.5-1.1 1.5-1.2 1.4-1.1 1.5-1.2 1.4-1.2 1.5-1.1 1.4-1.2 1.5-1.1 1.4-1.2 1.5-1.1 1.4-1.2 1.5-1.2 1.4-1.1 1.4-1.2 1.5-1.2 1.4-1.1M580.5 287.9l-1.4-2 -1.5-2 -1.5-1.9 -1.5-2 -1.5-1.9 -1.5-1.9 -1.5-2 -1.4-1.9 -1.5-1.9 -1.5-1.9 -1.6-1.9 -1.5-1.8 -1.5-1.9 -1.5-1.8 -1.5-1.9 -1.5-1.8 -1.5-1.8 -1.6-1.8 -1.5-1.8 -1.5-1.8 -1.5-1.7 -1.6-1.8 -1.5-1.7 -1.5-1.8 -1.6-1.7 -1.5-1.7 -1.5-1.7 -1.6-1.7 -1.5-1.7 -1.5-1.6 -1.6-1.7 -1.5-1.6 -1.6-1.6 -1.5-1.6 -1.5-1.6 -1.6-1.6 -1.5-1.6 -1.6-1.5 -1.5-1.6 -1.6-1.5 -1.5-1.5 -1.5-1.5 -1.6-1.5 -1.5-1.5 -1.6-1.5 -1.5-1.4 -1.5-1.5 -1.6-1.4 -1.5-1.4 -1.6-1.4 -1.5-1.4 -1.5-1.3 -1.6-1.4 -1.5-1.3 -1.5-1.3 -1.5-1.3 -1.6-1.3 -1.5-1.3 -1.5-1.3 -1.5-1.2 -1.6-1.2 -1.5-1.3 -1.5-1.2 -1.5-1.1 -1.5-1.2 -1.5-1.2 -1.5-1.1 -1.5-1.1 -1.5-1.1 -1.5-1.1 -1.5-1.1 -1.5-1.1 -1.5-1 -1.4-1 -1.5-1 -1.5-1 -1.5-1 -1.4-1 -1.5-.9 -1.5-.9 -1.4-.9 -1.5-.9 -1.4-.9 -1.5-.9 -1.4-.8 -1.4-.8 -1.4-.8 -1.5-.8 -1.4-.8 -1.4-.8 -1.4-.7 -1.4-.7 -1.4-.7 -1.4-.7 -1.4-.6 -1.4-.7 -1.3-.6 -1.4-.6 -1.4-.6 -1.3-.6M462.5 262.3l1.7-1.1 1.6-1.2 1.6-1.1 1.6-1.1 1.7-1.1 1.6-1.1 1.6-1.1 1.6-1.1 1.6-1.1 1.6-1.1 1.7-1.1 1.6-1.1 1.6-1.1 1.6-1.1 1.6-1.1 1.6-1.1 1.5-1.1 1.6-1.1 1.6-1.1 1.6-1.1 1.6-1.1 1.6-1.1 1.6-1.1 1.5-1.1 1.6-1.1 1.6-1.2 1.5-1.1 1.6-1.1 1.6-1.1 1.5-1.1 1.6-1.1 1.5-1.1 1.6-1.1 1.5-1.1 1.6-1.1 1.5-1.1 1.6-1.1 1.5-1.1 1.6-1.2 1.5-1.1 1.5-1.1 1.6-1.1 1.5-1.1 1.5-1.1 1.6-1.1 1.5-1.1 1.5-1.2 1.5-1.1 1.6-1.1 1.5-1.1 1.5-1.1 1.5-1.1 1.5-1.2 1.5-1.1 1.5-1.1 1.5-1.1 1.6-1.1 1.5-1.2 1.5-1.1 1.5-1.1 1.5-1.1 1.5-1.2 1.4-1.1 1.5-1.1 1.5-1.1 1.5-1.2 1.5-1.1 1.5-1.1 1.5-1.2 1.5-1.1 1.4-1.1 1.5-1.2 1.5-1.1 1.5-1.1 1.4-1.2 1.5-1.1 1.5-1.1 1.5-1.2 1.4-1.1 1.5-1.2 1.5-1.1 1.4-1.2 1.5-1.1 1.4-1.2 1.5-1.1 1.5-1.2 1.4-1.1 1.5-1.2 1.4-1.1 1.5-1.2 1.4-1.1 1.5-1.2 1.4-1.1 1.5-1.2 1.4-1.1 1.5-1.2 1.4-1.2 1.5-1.1 1.4-1.2 1.5-1.2M582 286.7l-1.5-2 -1.4-1.9 -1.5-2 -1.5-2 -1.5-1.9 -1.5-1.9 -1.5-1.9 -1.5-2 -1.5-1.9 -1.5-1.8 -1.5-1.9 -1.5-1.9 -1.5-1.8 -1.5-1.9 -1.5-1.8 -1.5-1.9 -1.5-1.8 -1.5-1.8 -1.6-1.8 -1.5-1.7 -1.5-1.8 -1.5-1.8 -1.6-1.7 -1.5-1.7 -1.5-1.7 -1.6-1.7 -1.5-1.7 -1.5-1.7 -1.6-1.7 -1.5-1.7 -1.5-1.6 -1.6-1.6 -1.5-1.7 -1.6-1.6 -1.5-1.6 -1.5-1.5 -1.6-1.6 -1.5-1.6 -1.6-1.5 -1.5-1.5 -1.6-1.5 -1.5-1.5 -1.5-1.5 -1.6-1.5 -1.5-1.5 -1.6-1.4 -1.5-1.4 -1.5-1.5 -1.6-1.4 -1.5-1.4 -1.5-1.3 -1.6-1.4 -1.5-1.3 -1.5-1.4 -1.6-1.3 -1.5-1.3 -1.5-1.3 -1.5-1.3 -1.6-1.2 -1.5-1.3 -1.5-1.2 -1.5-1.2 -1.5-1.2 -1.5-1.2 -1.5-1.2 -1.6-1.1 -1.5-1.1 -1.5-1.2 -1.5-1.1 -1.4-1 -1.5-1.1 -1.5-1.1 -1.5-1 -1.5-1 -1.5-1 -1.4-1 -1.5-1 -1.5-1 -1.4-.9 -1.5-.9 -1.5-.9 -1.4-.9 -1.5-.9 -1.4-.8 -1.4-.9 -1.5-.8 -1.4-.8 -1.4-.8 -1.4-.8 -1.5-.7 -1.4-.7 -1.4-.8 -1.4-.6 -1.4-.7 -1.3-.7 -1.4-.6 -1.4-.6 -1.4-.7 -1.3-.5 -1.4-.6M460.9 260.6l1.7-1.1 1.6-1.1 1.6-1.1 1.7-1.1 1.6-1.1 1.6-1.1 1.6-1.1 1.6-1.1 1.7-1.1 1.6-1.1 1.6-1.1 1.6-1.1 1.6-1.1 1.6-1.1 1.6-1.1 1.6-1.1 1.6-1.1 1.6-1.1 1.6-1.1 1.5-1.1 1.6-1.1 1.6-1.1 1.6-1.1 1.6-1.1 1.5-1.1 1.6-1.1 1.6-1.1 1.5-1.1 1.6-1.1 1.6-1.1 1.5-1.1 1.6-1.2 1.5-1.1 1.6-1.1 1.6-1.1 1.5-1.1 1.5-1.1 1.6-1.1 1.5-1.1 1.6-1.1 1.5-1.1 1.5-1.1 1.6-1.1 1.5-1.1 1.5-1.2 1.6-1.1 1.5-1.1 1.5-1.1 1.5-1.1 1.6-1.1 1.5-1.1 1.5-1.2 1.5-1.1 1.5-1.1 1.5-1.1 1.5-1.1 1.5-1.1 1.5-1.2 1.5-1.1 1.5-1.1 1.5-1.1 1.5-1.2 1.5-1.1 1.5-1.1 1.5-1.1 1.5-1.2 1.5-1.1 1.5-1.1 1.5-1.1 1.4-1.2 1.5-1.1 1.5-1.1 1.5-1.2 1.5-1.1 1.4-1.1 1.5-1.2 1.5-1.1 1.5-1.1 1.4-1.2 1.5-1.1 1.5-1.2 1.4-1.1 1.5-1.2 1.5-1.1 1.4-1.1 1.5-1.2 1.4-1.1 1.5-1.2 1.4-1.1 1.5-1.2 1.5-1.1 1.4-1.2 1.5-1.2 1.4-1.1 1.5-1.2 1.4-1.1 1.4-1.2 1.5-1.2 1.4-1.1 1.5-1.2M583.5 285.5l-1.5-1.9 -1.5-2 -1.4-2 -1.5-1.9 -1.5-2 -1.5-1.9 -1.5-1.9 -1.5-1.9 -1.5-1.9 -1.5-1.9 -1.5-1.9 -1.5-1.9 -1.5-1.8 -1.5-1.9 -1.5-1.8 -1.5-1.8 -1.5-1.8 -1.5-1.8 -1.6-1.8 -1.5-1.8 -1.5-1.7 -1.5-1.8 -1.6-1.7 -1.5-1.8 -1.5-1.7 -1.5-1.7 -1.6-1.7 -1.5-1.7 -1.5-1.6 -1.6-1.7 -1.5-1.6 -1.6-1.7 -1.5-1.6 -1.5-1.6 -1.6-1.6 -1.5-1.6 -1.5-1.5 -1.6-1.6 -1.5-1.5 -1.6-1.5 -1.5-1.5 -1.5-1.5 -1.6-1.5 -1.5-1.5 -1.6-1.5 -1.5-1.4 -1.5-1.4 -1.6-1.4 -1.5-1.5 -1.6-1.3 -1.5-1.4 -1.5-1.4 -1.5-1.3 -1.6-1.3 -1.5-1.4 -1.5-1.3 -1.6-1.2 -1.5-1.3 -1.5-1.3 -1.5-1.2 -1.5-1.2 -1.6-1.2 -1.5-1.2 -1.5-1.2 -1.5-1.2 -1.5-1.1 -1.5-1.2 -1.5-1.1 -1.5-1.1 -1.5-1.1 -1.5-1 -1.5-1.1 -1.5-1 -1.4-1 -1.5-1 -1.5-1 -1.5-1 -1.4-1 -1.5-.9 -1.5-.9 -1.4-.9 -1.5-.9 -1.4-.9 -1.4-.8 -1.5-.9 -1.4-.8 -1.4-.8 -1.5-.8 -1.4-.7 -1.4-.8 -1.4-.7 -1.4-.7 -1.4-.7 -1.4-.7 -1.4-.6 -1.4-.7 -1.4-.6 -1.3-.6 -1.4-.6 -1.4-.5M459.3 259l1.7-1.1 1.6-1.1 1.7-1.1 1.6-1.1 1.6-1.1 1.6-1.1 1.7-1.1 1.6-1.1 1.6-1.1 1.6-1.1 1.6-1.1 1.6-1.1 1.6-1.1 1.6-1.1 1.6-1.1 1.6-1.1 1.6-1.1 1.6-1.1 1.6-1.1 1.6-1.1 1.6-1.1 1.6-1.1 1.5-1.1 1.6-1.1 1.6-1.1 1.6-1.1 1.5-1.1 1.6-1.1 1.6-1.1 1.5-1.1 1.6-1.1 1.5-1.1 1.6-1.1 1.6-1.1 1.5-1.1 1.6-1.1 1.5-1.1 1.5-1.1 1.6-1.1 1.5-1.1 1.6-1.1 1.5-1.1 1.5-1.2 1.6-1.1 1.5-1.1 1.5-1.1 1.6-1.1 1.5-1.1 1.5-1.1 1.5-1.1 1.5-1.1 1.6-1.2 1.5-1.1 1.5-1.1 1.5-1.1 1.5-1.1 1.5-1.1 1.5-1.1 1.5-1.2 1.5-1.1 1.5-1.1 1.5-1.1 1.5-1.1 1.5-1.2 1.5-1.1 1.5-1.1 1.5-1.1 1.5-1.2 1.5-1.1 1.4-1.1 1.5-1.2 1.5-1.1 1.5-1.1 1.5-1.1 1.4-1.2 1.5-1.1 1.5-1.1 1.5-1.2 1.4-1.1 1.5-1.2 1.5-1.1 1.4-1.1 1.5-1.2 1.5-1.1 1.4-1.2 1.5-1.1 1.4-1.2 1.5-1.1 1.5-1.2 1.4-1.1 1.5-1.2 1.4-1.1 1.5-1.2 1.4-1.1 1.5-1.2 1.4-1.1 1.5-1.2 1.4-1.2 1.5-1.1 1.4-1.2M584.9 284.3l-1.4-1.9 -1.5-2 -1.5-2 -1.4-1.9 -1.5-1.9 -1.5-2 -1.5-1.9 -1.5-1.9 -1.5-1.9 -1.5-1.9 -1.5-1.9 -1.5-1.8 -1.5-1.9 -1.5-1.8 -1.5-1.9 -1.5-1.8 -1.5-1.8 -1.5-1.8 -1.5-1.8 -1.6-1.7 -1.5-1.8 -1.5-1.7 -1.5-1.8 -1.6-1.7 -1.5-1.7 -1.5-1.7 -1.6-1.7 -1.5-1.7 -1.5-1.7 -1.6-1.6 -1.5-1.7 -1.5-1.6 -1.6-1.6 -1.5-1.6 -1.5-1.6 -1.6-1.6 -1.5-1.5 -1.6-1.6 -1.5-1.5 -1.5-1.5 -1.6-1.5 -1.5-1.5 -1.5-1.5 -1.6-1.5 -1.5-1.5 -1.6-1.4 -1.5-1.4 -1.5-1.4 -1.6-1.4 -1.5-1.4 -1.5-1.4 -1.6-1.3 -1.5-1.4 -1.5-1.3 -1.6-1.3 -1.5-1.3 -1.5-1.3 -1.5-1.3 -1.6-1.2 -1.5-1.3 -1.5-1.2 -1.5-1.2 -1.5-1.2 -1.5-1.2 -1.5-1.1 -1.5-1.2 -1.5-1.1 -1.5-1.1 -1.5-1.1 -1.5-1.1 -1.5-1.1 -1.5-1 -1.5-1 -1.5-1.1 -1.5-1 -1.4-.9 -1.5-1 -1.5-1 -1.4-.9 -1.5-.9 -1.5-.9 -1.4-.9 -1.5-.9 -1.4-.8 -1.4-.8 -1.5-.8 -1.4-.8 -1.4-.8 -1.4-.8 -1.5-.7 -1.4-.7 -1.4-.8 -1.4-.6 -1.4-.7 -1.4-.7 -1.3-.6 -1.4-.6 -1.4-.6 -1.4-.6 -1.3-.6M457.8 257.3l1.6-1.1 1.6-1.1 1.7-1.1 1.6-1.1 1.6-1 1.7-1.1 1.6-1.1 1.6-1.1 1.6-1.1 1.6-1.1 1.6-1.1 1.6-1.1 1.7-1.1 1.6-1.1 1.6-1.1 1.6-1.1 1.6-1.1 1.5-1.1 1.6-1.1 1.6-1.1 1.6-1.1 1.6-1.1 1.6-1.1 1.6-1 1.5-1.1 1.6-1.1 1.6-1.1 1.5-1.1 1.6-1.1 1.6-1.1 1.5-1.1 1.6-1.1 1.6-1.1 1.5-1.1 1.6-1.1 1.5-1.1 1.6-1.1 1.5-1.1 1.5-1.1 1.6-1.1 1.5-1.1 1.6-1.2 1.5-1.1 1.5-1.1 1.6-1.1 1.5-1.1 1.5-1.1 1.5-1.1 1.6-1.1 1.5-1.1 1.5-1.1 1.5-1.1 1.5-1.1 1.6-1.2 1.5-1.1 1.5-1.1 1.5-1.1 1.5-1.1 1.5-1.1 1.5-1.1 1.5-1.2 1.5-1.1 1.5-1.1 1.5-1.1 1.5-1.1 1.5-1.2 1.5-1.1 1.5-1.1 1.4-1.1 1.5-1.2 1.5-1.1 1.5-1.1 1.5-1.2 1.5-1.1 1.4-1.1 1.5-1.1 1.5-1.2 1.5-1.1 1.4-1.1 1.5-1.2 1.5-1.1 1.4-1.2 1.5-1.1 1.5-1.1 1.4-1.2 1.5-1.1 1.4-1.2 1.5-1.1 1.5-1.2 1.4-1.1 1.5-1.2 1.4-1.1 1.5-1.2 1.4-1.1 1.5-1.2 1.4-1.1 1.5-1.2 1.4-1.2 1.5-1.1 1.4-1.2M586.4 283.2l-1.5-2 -1.4-2 -1.5-1.9 -1.5-2 -1.5-1.9 -1.4-2 -1.5-1.9 -1.5-1.9 -1.5-1.9 -1.5-1.9 -1.5-1.8 -1.5-1.9 -1.5-1.8 -1.5-1.9 -1.5-1.8 -1.5-1.8 -1.5-1.8 -1.5-1.8 -1.5-1.8 -1.6-1.8 -1.5-1.7 -1.5-1.8 -1.5-1.7 -1.5-1.8 -1.6-1.7 -1.5-1.7 -1.5-1.7 -1.6-1.6 -1.5-1.7 -1.5-1.6 -1.6-1.7 -1.5-1.6 -1.5-1.6 -1.6-1.6 -1.5-1.6 -1.5-1.6 -1.6-1.5 -1.5-1.6 -1.6-1.5 -1.5-1.5 -1.5-1.6 -1.6-1.4 -1.5-1.5 -1.5-1.5 -1.6-1.4 -1.5-1.5 -1.6-1.4 -1.5-1.4 -1.5-1.4 -1.6-1.4 -1.5-1.4 -1.5-1.3 -1.6-1.4 -1.5-1.3 -1.5-1.3 -1.5-1.3 -1.6-1.3 -1.5-1.2 -1.5-1.3 -1.5-1.2 -1.5-1.2 -1.6-1.2 -1.5-1.2 -1.5-1.2 -1.5-1.2 -1.5-1.1 -1.5-1.1 -1.5-1.1 -1.5-1.1 -1.5-1.1 -1.5-1.1 -1.5-1 -1.5-1 -1.4-1.1 -1.5-1 -1.5-.9 -1.5-1 -1.4-1 -1.5-.9 -1.5-.9 -1.4-.9 -1.5-.9 -1.4-.8 -1.5-.9 -1.4-.8 -1.4-.8 -1.5-.8 -1.4-.8 -1.4-.7 -1.4-.8 -1.4-.7 -1.4-.7 -1.4-.7 -1.4-.7 -1.4-.6 -1.4-.6 -1.4-.7 -1.4-.6 -1.3-.5 -1.4-.6M456.2 255.7l1.6-1.1 1.7-1.1 1.6-1.1 1.6-1.1 1.7-1 1.6-1.1 1.6-1.1 1.6-1.1 1.6-1.1 1.7-1.1 1.6-1.1 1.6-1.1 1.6-1.1 1.6-1.1 1.6-1.1 1.6-1 1.6-1.1 1.6-1.1 1.6-1.1 1.6-1.1 1.6-1.1 1.5-1.1 1.6-1.1 1.6-1.1 1.6-1.1 1.5-1.1 1.6-1.1 1.6-1.1 1.6-1.1 1.5-1.1 1.6-1.1 1.5-1.1 1.6-1.1 1.6-1 1.5-1.1 1.6-1.1 1.5-1.1 1.6-1.1 1.5-1.1 1.6-1.1 1.5-1.1 1.5-1.1 1.6-1.2 1.5-1.1 1.5-1.1 1.6-1.1 1.5-1.1 1.5-1.1 1.5-1.1 1.6-1.1 1.5-1.1 1.5-1.1 1.5-1.1 1.5-1.1 1.5-1.1 1.6-1.1 1.5-1.2 1.5-1.1 1.5-1.1 1.5-1.1 1.5-1.1 1.5-1.1 1.5-1.1 1.5-1.2 1.5-1.1 1.5-1.1 1.5-1.1 1.4-1.1 1.5-1.2 1.5-1.1 1.5-1.1 1.5-1.1 1.5-1.2 1.4-1.1 1.5-1.1 1.5-1.2 1.5-1.1 1.5-1.1 1.4-1.2 1.5-1.1 1.5-1.1 1.4-1.2 1.5-1.1 1.5-1.1 1.4-1.2 1.5-1.1 1.5-1.2 1.4-1.1 1.5-1.2 1.4-1.1 1.5-1.2 1.4-1.1 1.5-1.2 1.4-1.1 1.5-1.2 1.4-1.1 1.5-1.2 1.4-1.1 1.5-1.2 1.4-1.2M587.9 282l-1.5-2 -1.5-2 -1.4-1.9 -1.5-2 -1.5-1.9 -1.5-1.9 -1.4-1.9 -1.5-2 -1.5-1.8 -1.5-1.9 -1.5-1.9 -1.5-1.9 -1.5-1.8 -1.5-1.8 -1.5-1.9 -1.5-1.8 -1.5-1.8 -1.5-1.8 -1.5-1.8 -1.6-1.7 -1.5-1.8 -1.5-1.7 -1.5-1.8 -1.5-1.7 -1.6-1.7 -1.5-1.7 -1.5-1.7 -1.5-1.7 -1.6-1.6 -1.5-1.7 -1.5-1.6 -1.6-1.6 -1.5-1.6 -1.5-1.6 -1.6-1.6 -1.5-1.6 -1.5-1.6 -1.6-1.5 -1.5-1.5 -1.6-1.6 -1.5-1.5 -1.5-1.5 -1.6-1.4 -1.5-1.5 -1.5-1.4 -1.6-1.5 -1.5-1.4 -1.5-1.4 -1.6-1.4 -1.5-1.4 -1.5-1.3 -1.6-1.4 -1.5-1.3 -1.5-1.4 -1.6-1.3 -1.5-1.3 -1.5-1.2 -1.5-1.3 -1.6-1.2 -1.5-1.3 -1.5-1.2 -1.5-1.2 -1.5-1.2 -1.5-1.1 -1.5-1.2 -1.5-1.1 -1.5-1.2 -1.5-1.1 -1.5-1.1 -1.5-1 -1.5-1.1 -1.5-1 -1.5-1.1 -1.5-1 -1.5-1 -1.4-.9 -1.5-1 -1.5-.9 -1.4-1 -1.5-.9 -1.5-.9 -1.4-.9 -1.5-.8 -1.4-.9 -1.4-.8 -1.5-.8 -1.4-.8 -1.4-.8 -1.5-.7 -1.4-.7 -1.4-.8 -1.4-.7 -1.4-.6 -1.4-.7 -1.4-.7 -1.4-.6 -1.4-.6 -1.3-.6 -1.4-.6 -1.4-.5M454.6 254.1l1.6-1.1 1.7-1.1 1.6-1.1 1.6-1.1 1.7-1 1.6-1.1 1.6-1.1 1.7-1.1 1.6-1.1 1.6-1.1 1.6-1.1 1.6-1.1 1.6-1 1.6-1.1 1.6-1.1 1.6-1.1 1.6-1.1 1.6-1.1 1.6-1.1 1.6-1.1 1.6-1 1.6-1.1 1.6-1.1 1.5-1.1 1.6-1.1 1.6-1.1 1.6-1.1 1.5-1.1 1.6-1.1 1.6-1.1 1.5-1.1 1.6-1.1 1.6-1.1 1.5-1 1.6-1.1 1.5-1.1 1.6-1.1 1.5-1.1 1.6-1.1 1.5-1.1 1.6-1.1 1.5-1.1 1.5-1.1 1.6-1.1 1.5-1.1 1.5-1.1 1.6-1.1 1.5-1.1 1.5-1.1 1.5-1.1 1.6-1.2 1.5-1.1 1.5-1.1 1.5-1.1 1.5-1.1 1.5-1.1 1.5-1.1 1.5-1.1 1.6-1.1 1.5-1.1 1.5-1.1 1.5-1.2 1.5-1.1 1.5-1.1 1.5-1.1 1.4-1.1 1.5-1.1 1.5-1.2 1.5-1.1 1.5-1.1 1.5-1.1 1.5-1.2 1.5-1.1 1.4-1.1 1.5-1.1 1.5-1.2 1.5-1.1 1.4-1.1 1.5-1.2 1.5-1.1 1.5-1.1 1.4-1.2 1.5-1.1 1.5-1.1 1.4-1.2 1.5-1.1 1.5-1.2 1.4-1.1 1.5-1.1 1.4-1.2 1.5-1.1 1.4-1.2 1.5-1.1 1.5-1.2 1.4-1.1 1.5-1.2 1.4-1.1 1.5-1.2 1.4-1.2 1.5-1.1M589.3 280.8l-1.4-2 -1.5-2 -1.5-1.9 -1.4-2 -1.5-1.9 -1.5-1.9 -1.5-1.9 -1.4-1.9 -1.5-1.9 -1.5-1.9 -1.5-1.9 -1.5-1.8 -1.5-1.9 -1.5-1.8 -1.5-1.8 -1.5-1.9 -1.5-1.8 -1.5-1.7 -1.5-1.8 -1.5-1.8 -1.6-1.8 -1.5-1.7 -1.5-1.7 -1.5-1.7 -1.5-1.8 -1.6-1.7 -1.5-1.6 -1.5-1.7 -1.6-1.7 -1.5-1.6 -1.5-1.6 -1.5-1.7 -1.6-1.6 -1.5-1.6 -1.6-1.6 -1.5-1.5 -1.5-1.6 -1.6-1.5 -1.5-1.5 -1.5-1.6 -1.6-1.5 -1.5-1.5 -1.5-1.4 -1.6-1.5 -1.5-1.4 -1.5-1.5 -1.6-1.4 -1.5-1.4 -1.5-1.4 -1.6-1.4 -1.5-1.3 -1.5-1.4 -1.6-1.3 -1.5-1.3 -1.5-1.3 -1.5-1.3 -1.6-1.3 -1.5-1.2 -1.5-1.3 -1.5-1.2 -1.5-1.2 -1.6-1.2 -1.5-1.2 -1.5-1.2 -1.5-1.1 -1.5-1.2 -1.5-1.1 -1.5-1.1 -1.5-1.1 -1.5-1.1 -1.5-1 -1.5-1.1 -1.5-1 -1.4-1 -1.5-1 -1.5-1 -1.5-.9 -1.4-.9 -1.5-1 -1.5-.9 -1.4-.9 -1.5-.8 -1.4-.9 -1.5-.8 -1.4-.9 -1.4-.8 -1.5-.8 -1.4-.7 -1.4-.8 -1.4-.7 -1.5-.7 -1.4-.7 -1.4-.7 -1.4-.7 -1.4-.6 -1.3-.6 -1.4-.6 -1.4-.6 -1.4-.6 -1.3-.5M453 252.5l1.7-1.1 1.6-1.1 1.6-1 1.7-1.1 1.6-1.1 1.6-1.1 1.7-1.1 1.6-1.1 1.6-1.1 1.6-1 1.6-1.1 1.6-1.1 1.7-1.1 1.6-1.1 1.6-1.1 1.6-1 1.6-1.1 1.6-1.1 1.6-1.1 1.5-1.1 1.6-1.1 1.6-1.1 1.6-1 1.6-1.1 1.6-1.1 1.5-1.1 1.6-1.1 1.6-1.1 1.6-1.1 1.5-1.1 1.6-1.1 1.6-1.1 1.5-1 1.6-1.1 1.5-1.1 1.6-1.1 1.5-1.1 1.6-1.1 1.5-1.1 1.6-1.1 1.5-1.1 1.6-1.1 1.5-1.1 1.5-1.1 1.6-1.1 1.5-1.1 1.5-1.1 1.6-1.1 1.5-1.1 1.5-1.1 1.5-1.1 1.5-1.1 1.6-1.1 1.5-1.1 1.5-1.1 1.5-1.1 1.5-1.1 1.5-1.1 1.5-1.1 1.5-1.2 1.5-1.1 1.5-1.1 1.5-1.1 1.5-1.1 1.5-1.1 1.5-1.1 1.5-1.2 1.5-1.1 1.5-1.1 1.5-1.1 1.5-1.1 1.5-1.2 1.5-1.1 1.4-1.1 1.5-1.1 1.5-1.2 1.5-1.1 1.4-1.1 1.5-1.1 1.5-1.2 1.5-1.1 1.4-1.1 1.5-1.2 1.5-1.1 1.4-1.1 1.5-1.2 1.5-1.1 1.4-1.2 1.5-1.1 1.4-1.1 1.5-1.2 1.5-1.1 1.4-1.2 1.5-1.1 1.4-1.2 1.5-1.1 1.4-1.2 1.5-1.1 1.4-1.2 1.5-1.2M590.8 279.6l-1.5-2 -1.4-1.9 -1.5-2 -1.5-1.9 -1.4-2 -1.5-1.9 -1.5-1.9 -1.5-1.9 -1.4-1.9 -1.5-1.9 -1.5-1.8 -1.5-1.9 -1.5-1.8 -1.5-1.9 -1.5-1.8 -1.5-1.8 -1.5-1.8 -1.5-1.8 -1.5-1.8 -1.5-1.7 -1.6-1.8 -1.5-1.7 -1.5-1.8 -1.5-1.7 -1.5-1.7 -1.6-1.7 -1.5-1.7 -1.5-1.6 -1.5-1.7 -1.6-1.6 -1.5-1.7 -1.5-1.6 -1.6-1.6 -1.5-1.6 -1.5-1.6 -1.6-1.5 -1.5-1.6 -1.5-1.5 -1.6-1.6 -1.5-1.5 -1.5-1.5 -1.6-1.5 -1.5-1.4 -1.5-1.5 -1.6-1.4 -1.5-1.5 -1.5-1.4 -1.6-1.4 -1.5-1.4 -1.5-1.3 -1.6-1.4 -1.5-1.3 -1.5-1.4 -1.6-1.3 -1.5-1.3 -1.5-1.3 -1.5-1.3 -1.5-1.2 -1.6-1.3 -1.5-1.2 -1.5-1.2 -1.5-1.2 -1.5-1.2 -1.5-1.1 -1.5-1.2 -1.5-1.1 -1.6-1.1 -1.5-1.1 -1.4-1.1 -1.5-1.1 -1.5-1 -1.5-1.1 -1.5-1 -1.5-1 -1.5-1 -1.4-1 -1.5-.9 -1.5-1 -1.5-.9 -1.4-.9 -1.5-.9 -1.4-.8 -1.5-.9 -1.4-.8 -1.5-.8 -1.4-.8 -1.4-.8 -1.5-.8 -1.4-.7 -1.4-.8 -1.4-.7 -1.4-.7 -1.4-.7 -1.4-.6 -1.4-.7 -1.4-.6 -1.4-.6 -1.4-.6 -1.3-.5 -1.4-.6M451.4 250.9l1.7-1.1 1.6-1 1.7-1.1 1.6-1.1 1.6-1.1 1.7-1.1 1.6-1 1.6-1.1 1.6-1.1 1.7-1.1 1.6-1.1 1.6-1 1.6-1.1 1.6-1.1 1.6-1.1 1.6-1.1 1.6-1.1 1.6-1 1.6-1.1 1.6-1.1 1.6-1.1 1.6-1.1 1.6-1.1 1.5-1 1.6-1.1 1.6-1.1 1.6-1.1 1.5-1.1 1.6-1.1 1.6-1.1 1.5-1 1.6-1.1 1.6-1.1 1.5-1.1 1.6-1.1 1.5-1.1 1.6-1.1 1.5-1.1 1.6-1.1 1.5-1.1 1.6-1.1 1.5-1 1.6-1.1 1.5-1.1 1.5-1.1 1.6-1.1 1.5-1.1 1.5-1.1 1.5-1.1 1.6-1.1 1.5-1.1 1.5-1.1 1.5-1.1 1.6-1.1 1.5-1.1 1.5-1.1 1.5-1.1 1.5-1.1 1.5-1.2 1.5-1.1 1.5-1.1 1.5-1.1 1.5-1.1 1.5-1.1 1.5-1.1 1.5-1.1 1.5-1.1 1.5-1.2 1.5-1.1 1.5-1.1 1.5-1.1 1.5-1.1 1.4-1.2 1.5-1.1 1.5-1.1 1.5-1.1 1.5-1.1 1.4-1.2 1.5-1.1 1.5-1.1 1.5-1.2 1.4-1.1 1.5-1.1 1.5-1.2 1.4-1.1 1.5-1.1 1.5-1.2 1.4-1.1 1.5-1.1 1.4-1.2 1.5-1.1 1.5-1.2 1.4-1.1 1.5-1.2 1.4-1.1 1.5-1.2 1.4-1.1 1.5-1.2 1.4-1.1 1.5-1.2M592.2 278.4l-1.4-2 -1.5-1.9 -1.4-2 -1.5-1.9 -1.5-1.9 -1.4-2 -1.5-1.9 -1.5-1.9 -1.5-1.9 -1.5-1.8 -1.4-1.9 -1.5-1.9 -1.5-1.8 -1.5-1.8 -1.5-1.9 -1.5-1.8 -1.5-1.8 -1.5-1.8 -1.5-1.7 -1.5-1.8 -1.6-1.8 -1.5-1.7 -1.5-1.7 -1.5-1.7 -1.5-1.7 -1.6-1.7 -1.5-1.7 -1.5-1.7 -1.5-1.6 -1.6-1.7 -1.5-1.6 -1.5-1.6 -1.5-1.6 -1.6-1.6 -1.5-1.6 -1.5-1.6 -1.6-1.5 -1.5-1.5 -1.5-1.6 -1.6-1.5 -1.5-1.5 -1.5-1.5 -1.6-1.4 -1.5-1.5 -1.5-1.4 -1.6-1.5 -1.5-1.4 -1.5-1.4 -1.6-1.4 -1.5-1.3 -1.5-1.4 -1.6-1.3 -1.5-1.4 -1.5-1.3 -1.5-1.3 -1.6-1.2 -1.5-1.3 -1.5-1.3 -1.5-1.2 -1.5-1.2 -1.6-1.2 -1.5-1.2 -1.5-1.2 -1.5-1.2 -1.5-1.1 -1.5-1.1 -1.5-1.2 -1.5-1.1 -1.5-1 -1.5-1.1 -1.5-1.1 -1.5-1 -1.5-1 -1.4-1 -1.5-1 -1.5-1 -1.5-.9 -1.4-1 -1.5-.9 -1.5-.9 -1.4-.9 -1.5-.8 -1.4-.9 -1.5-.8 -1.4-.8 -1.5-.8 -1.4-.8 -1.4-.8 -1.4-.7 -1.5-.7 -1.4-.7 -1.4-.7 -1.4-.7 -1.4-.7 -1.4-.6 -1.4-.6 -1.4-.6 -1.3-.6 -1.4-.6 -1.4-.5M449.9 249.4l1.6-1.1 1.7-1.1 1.6-1.1 1.6-1.1 1.7-1 1.6-1.1 1.6-1.1 1.6-1.1 1.7-1 1.6-1.1 1.6-1.1 1.6-1.1 1.6-1.1 1.6-1 1.6-1.1 1.6-1.1 1.6-1.1 1.6-1 1.6-1.1 1.6-1.1 1.6-1.1 1.6-1.1 1.6-1 1.6-1.1 1.6-1.1 1.5-1.1 1.6-1.1 1.6-1.1 1.6-1 1.5-1.1 1.6-1.1 1.6-1.1 1.5-1.1 1.6-1.1 1.5-1.1 1.6-1 1.5-1.1 1.6-1.1 1.5-1.1 1.6-1.1 1.5-1.1 1.6-1.1 1.5-1.1 1.6-1.1 1.5-1.1 1.5-1.1 1.6-1.1 1.5-1 1.5-1.1 1.5-1.1 1.6-1.1 1.5-1.1 1.5-1.1 1.5-1.1 1.5-1.1 1.6-1.1 1.5-1.1 1.5-1.1 1.5-1.2 1.5-1.1 1.5-1.1 1.5-1.1 1.5-1.1 1.5-1.1 1.5-1.1 1.5-1.1 1.5-1.1 1.5-1.1 1.5-1.2 1.5-1.1 1.5-1.1 1.4-1.1 1.5-1.1 1.5-1.1 1.5-1.2 1.5-1.1 1.5-1.1 1.4-1.1 1.5-1.2 1.5-1.1 1.5-1.1 1.4-1.1 1.5-1.2 1.5-1.1 1.4-1.1 1.5-1.2 1.5-1.1 1.4-1.1 1.5-1.2 1.4-1.1 1.5-1.2 1.5-1.1 1.4-1.1 1.5-1.2 1.4-1.1 1.5-1.2 1.4-1.1 1.5-1.2 1.4-1.1 1.5-1.2M593.7 277.2l-1.5-1.9 -1.4-2 -1.5-2 -1.4-1.9 -1.5-1.9 -1.5-1.9 -1.4-1.9 -1.5-1.9 -1.5-1.9 -1.5-1.9 -1.5-1.9 -1.4-1.8 -1.5-1.9 -1.5-1.8 -1.5-1.8 -1.5-1.8 -1.5-1.8 -1.5-1.8 -1.5-1.8 -1.6-1.8 -1.5-1.7 -1.5-1.7 -1.5-1.8 -1.5-1.7 -1.5-1.7 -1.5-1.7 -1.6-1.7 -1.5-1.6 -1.5-1.7 -1.5-1.6 -1.6-1.6 -1.5-1.7 -1.5-1.6 -1.6-1.5 -1.5-1.6 -1.5-1.6 -1.5-1.5 -1.6-1.6 -1.5-1.5 -1.5-1.5 -1.6-1.5 -1.5-1.5 -1.5-1.4 -1.6-1.5 -1.5-1.4 -1.5-1.5 -1.6-1.4 -1.5-1.4 -1.5-1.3 -1.6-1.4 -1.5-1.4 -1.5-1.3 -1.5-1.3 -1.6-1.3 -1.5-1.3 -1.5-1.3 -1.5-1.3 -1.6-1.2 -1.5-1.3 -1.5-1.2 -1.5-1.2 -1.5-1.2 -1.5-1.2 -1.6-1.1 -1.5-1.2 -1.5-1.1 -1.5-1.1 -1.5-1.1 -1.5-1.1 -1.5-1 -1.5-1.1 -1.4-1 -1.5-1 -1.5-1 -1.5-1 -1.5-1 -1.4-.9 -1.5-1 -1.5-.9 -1.4-.9 -1.5-.9 -1.5-.8 -1.4-.9 -1.4-.8 -1.5-.8 -1.4-.8 -1.5-.8 -1.4-.7 -1.4-.8 -1.4-.7 -1.5-.7 -1.4-.7 -1.4-.7 -1.4-.6 -1.4-.7 -1.4-.6 -1.3-.6 -1.4-.5 -1.4-.6 -1.4-.5M448.3 247.8l1.6-1.1 1.7-1 1.6-1.1 1.7-1.1 1.6-1.1 1.6-1 1.7-1.1 1.6-1.1 1.6-1.1 1.6-1 1.6-1.1 1.7-1.1 1.6-1.1 1.6-1 1.6-1.1 1.6-1.1 1.6-1.1 1.6-1 1.6-1.1 1.6-1.1 1.6-1.1 1.6-1 1.5-1.1 1.6-1.1 1.6-1.1 1.6-1.1 1.6-1 1.5-1.1 1.6-1.1 1.6-1.1 1.6-1.1 1.5-1.1 1.6-1 1.5-1.1 1.6-1.1 1.6-1.1 1.5-1.1 1.6-1.1 1.5-1 1.6-1.1 1.5-1.1 1.5-1.1 1.6-1.1 1.5-1.1 1.6-1.1 1.5-1.1 1.5-1.1 1.6-1.1 1.5-1.1 1.5-1 1.5-1.1 1.6-1.1 1.5-1.1 1.5-1.1 1.5-1.1 1.5-1.1 1.5-1.1 1.6-1.1 1.5-1.1 1.5-1.1 1.5-1.1 1.5-1.1 1.5-1.2 1.5-1.1 1.5-1.1 1.5-1.1 1.5-1.1 1.5-1.1 1.5-1.1 1.5-1.1 1.4-1.1 1.5-1.2 1.5-1.1 1.5-1.1 1.5-1.1 1.5-1.1 1.4-1.1 1.5-1.2 1.5-1.1 1.5-1.1 1.4-1.1 1.5-1.2 1.5-1.1 1.5-1.1 1.4-1.2 1.5-1.1 1.5-1.1 1.4-1.2 1.5-1.1 1.4-1.1 1.5-1.2 1.5-1.1 1.4-1.2 1.5-1.1 1.4-1.1 1.5-1.2 1.4-1.1 1.5-1.2 1.4-1.1 1.5-1.2M595.1 276.1l-1.4-2 -1.5-2 -1.4-1.9 -1.5-2 -1.4-1.9 -1.5-1.9 -1.5-1.9 -1.4-1.9 -1.5-1.9 -1.5-1.9 -1.5-1.8 -1.5-1.9 -1.5-1.8 -1.4-1.9 -1.5-1.8 -1.5-1.8 -1.5-1.8 -1.5-1.8 -1.5-1.7 -1.6-1.8 -1.5-1.8 -1.5-1.7 -1.5-1.7 -1.5-1.7 -1.5-1.7 -1.5-1.7 -1.6-1.7 -1.5-1.7 -1.5-1.6 -1.5-1.6 -1.6-1.7 -1.5-1.6 -1.5-1.6 -1.5-1.6 -1.6-1.5 -1.5-1.6 -1.5-1.5 -1.6-1.6 -1.5-1.5 -1.5-1.5 -1.6-1.5 -1.5-1.5 -1.5-1.4 -1.5-1.5 -1.6-1.4 -1.5-1.4 -1.5-1.5 -1.6-1.4 -1.5-1.3 -1.5-1.4 -1.6-1.3 -1.5-1.4 -1.5-1.3 -1.5-1.3 -1.6-1.3 -1.5-1.3 -1.5-1.2 -1.5-1.3 -1.5-1.2 -1.6-1.2 -1.5-1.2 -1.5-1.2 -1.5-1.2 -1.5-1.2 -1.5-1.1 -1.5-1.1 -1.5-1.1 -1.5-1.1 -1.5-1.1 -1.5-1.1 -1.5-1 -1.5-1 -1.5-1.1 -1.5-.9 -1.5-1 -1.4-1 -1.5-.9 -1.5-1 -1.4-.9 -1.5-.9 -1.5-.8 -1.4-.9 -1.5-.9 -1.4-.8 -1.5-.8 -1.4-.8 -1.4-.8 -1.5-.7 -1.4-.7 -1.4-.8 -1.4-.7 -1.4-.7 -1.4-.6 -1.4-.7 -1.4-.6 -1.4-.6 -1.4-.6 -1.4-.6 -1.4-.5 -1.3-.6M446.7 246.3l1.7-1.1 1.6-1.1 1.7-1.1 1.6-1 1.6-1.1 1.7-1.1 1.6-1 1.6-1.1 1.6-1.1 1.7-1 1.6-1.1 1.6-1.1 1.6-1.1 1.6-1 1.6-1.1 1.6-1.1 1.6-1 1.6-1.1 1.6-1.1 1.6-1.1 1.6-1 1.6-1.1 1.6-1.1 1.6-1.1 1.6-1 1.5-1.1 1.6-1.1 1.6-1.1 1.6-1.1 1.5-1 1.6-1.1 1.6-1.1 1.5-1.1 1.6-1.1 1.6-1 1.5-1.1 1.6-1.1 1.5-1.1 1.6-1.1 1.5-1 1.6-1.1 1.5-1.1 1.6-1.1 1.5-1.1 1.5-1.1 1.6-1.1 1.5-1.1 1.5-1.1 1.6-1 1.5-1.1 1.5-1.1 1.5-1.1 1.6-1.1 1.5-1.1 1.5-1.1 1.5-1.1 1.5-1.1 1.5-1.1 1.5-1.1 1.6-1.1 1.5-1.1 1.5-1.1 1.5-1.1 1.5-1.1 1.5-1.1 1.5-1.1 1.5-1.1 1.5-1.1 1.5-1.2 1.4-1.1 1.5-1.1 1.5-1.1 1.5-1.1 1.5-1.1 1.5-1.1 1.5-1.2 1.4-1.1 1.5-1.1 1.5-1.1 1.5-1.1 1.4-1.2 1.5-1.1 1.5-1.1 1.5-1.1 1.4-1.2 1.5-1.1 1.5-1.1 1.4-1.2 1.5-1.1 1.5-1.1 1.4-1.2 1.5-1.1 1.4-1.2 1.5-1.1 1.4-1.1 1.5-1.2 1.5-1.1 1.4-1.2 1.5-1.1 1.4-1.2M596.6 274.9l-1.5-2 -1.4-2 -1.5-1.9 -1.4-2 -1.5-1.9 -1.4-1.9 -1.5-1.9 -1.5-1.9 -1.4-1.9 -1.5-1.9 -1.5-1.8 -1.5-1.9 -1.5-1.8 -1.5-1.8 -1.5-1.9 -1.5-1.8 -1.5-1.8 -1.5-1.7 -1.5-1.8 -1.5-1.8 -1.5-1.7 -1.5-1.7 -1.5-1.8 -1.5-1.7 -1.5-1.7 -1.5-1.7 -1.6-1.6 -1.5-1.7 -1.5-1.6 -1.5-1.7 -1.5-1.6 -1.6-1.6 -1.5-1.6 -1.5-1.6 -1.5-1.6 -1.6-1.5 -1.5-1.6 -1.5-1.5 -1.6-1.5 -1.5-1.5 -1.5-1.5 -1.6-1.5 -1.5-1.4 -1.5-1.5 -1.6-1.4 -1.5-1.4 -1.5-1.5 -1.5-1.3 -1.6-1.4 -1.5-1.4 -1.5-1.3 -1.6-1.4 -1.5-1.3 -1.5-1.3 -1.5-1.3 -1.6-1.3 -1.5-1.2 -1.5-1.3 -1.5-1.2 -1.5-1.2 -1.5-1.2 -1.6-1.2 -1.5-1.2 -1.5-1.1 -1.5-1.1 -1.5-1.2 -1.5-1.1 -1.5-1.1 -1.5-1 -1.5-1.1 -1.5-1 -1.5-1.1 -1.5-1 -1.4-1 -1.5-.9 -1.5-1 -1.5-.9 -1.4-1 -1.5-.9 -1.5-.9 -1.4-.8 -1.5-.9 -1.4-.8 -1.5-.9 -1.4-.8 -1.5-.8 -1.4-.7 -1.4-.8 -1.5-.7 -1.4-.7 -1.4-.7 -1.4-.7 -1.4-.7 -1.4-.6 -1.4-.7 -1.4-.6 -1.4-.6 -1.4-.5 -1.4-.6 -1.3-.5M445.2 244.7l1.6-1 1.7-1.1 1.6-1.1 1.6-1 1.7-1.1 1.6-1.1 1.6-1 1.7-1.1 1.6-1.1 1.6-1 1.6-1.1 1.6-1.1 1.7-1 1.6-1.1 1.6-1.1 1.6-1 1.6-1.1 1.6-1.1 1.6-1.1 1.6-1 1.6-1.1 1.6-1.1 1.5-1 1.6-1.1 1.6-1.1 1.6-1.1 1.6-1 1.6-1.1 1.5-1.1 1.6-1.1 1.6-1 1.5-1.1 1.6-1.1 1.6-1.1 1.5-1 1.6-1.1 1.5-1.1 1.6-1.1 1.5-1.1 1.6-1.1 1.5-1 1.6-1.1 1.5-1.1 1.6-1.1 1.5-1.1 1.5-1.1 1.6-1 1.5-1.1 1.5-1.1 1.6-1.1 1.5-1.1 1.5-1.1 1.5-1.1 1.6-1.1 1.5-1.1 1.5-1.1 1.5-1.1 1.5-1.1 1.5-1.1 1.5-1.1 1.5-1.1 1.5-1.1 1.5-1.1 1.6-1.1 1.5-1.1 1.5-1.1 1.4-1.1 1.5-1.1 1.5-1.1 1.5-1.1 1.5-1.1 1.5-1.1 1.5-1.1 1.5-1.1 1.5-1.2 1.4-1.1 1.5-1.1 1.5-1.1 1.5-1.1 1.5-1.1 1.4-1.2 1.5-1.1 1.5-1.1 1.5-1.1 1.4-1.2 1.5-1.1 1.5-1.1 1.4-1.2 1.5-1.1 1.4-1.1 1.5-1.2 1.5-1.1 1.4-1.1 1.5-1.2 1.4-1.1 1.5-1.2 1.5-1.1 1.4-1.1 1.5-1.2 1.4-1.1M598 273.7l-1.4-2 -1.5-1.9 -1.4-2 -1.5-1.9 -1.4-2 -1.5-1.9 -1.4-1.9 -1.5-1.9 -1.5-1.9 -1.5-1.8 -1.4-1.9 -1.5-1.8 -1.5-1.9 -1.5-1.8 -1.5-1.8 -1.5-1.8 -1.5-1.8 -1.5-1.8 -1.5-1.8 -1.5-1.7 -1.5-1.8 -1.5-1.7 -1.5-1.7 -1.5-1.7 -1.5-1.7 -1.5-1.7 -1.6-1.7 -1.5-1.6 -1.5-1.7 -1.5-1.6 -1.5-1.6 -1.6-1.6 -1.5-1.6 -1.5-1.6 -1.5-1.6 -1.6-1.5 -1.5-1.6 -1.5-1.5 -1.5-1.5 -1.6-1.5 -1.5-1.5 -1.5-1.5 -1.6-1.4 -1.5-1.5 -1.5-1.4 -1.6-1.4 -1.5-1.4 -1.5-1.4 -1.5-1.4 -1.6-1.4 -1.5-1.3 -1.5-1.3 -1.5-1.4 -1.6-1.3 -1.5-1.3 -1.5-1.2 -1.5-1.3 -1.6-1.2 -1.5-1.3 -1.5-1.2 -1.5-1.2 -1.5-1.1 -1.5-1.2 -1.5-1.2 -1.5-1.1 -1.6-1.1 -1.5-1.1 -1.5-1.1 -1.5-1.1 -1.4-1 -1.5-1.1 -1.5-1 -1.5-1 -1.5-1 -1.5-1 -1.5-.9 -1.4-1 -1.5-.9 -1.5-.9 -1.4-.9 -1.5-.8 -1.5-.9 -1.4-.8 -1.5-.9 -1.4-.8 -1.4-.7 -1.5-.8 -1.4-.8 -1.4-.7 -1.5-.7 -1.4-.7 -1.4-.7 -1.4-.6 -1.4-.7 -1.4-.6 -1.4-.6 -1.4-.6 -1.4-.6 -1.3-.5 -1.4-.6M443.6 243.2l1.6-1 1.7-1.1 1.6-1.1 1.7-1 1.6-1.1 1.6-1.1 1.7-1 1.6-1.1 1.6-1.1 1.6-1 1.7-1.1 1.6-1 1.6-1.1 1.6-1.1 1.6-1 1.6-1.1 1.6-1.1 1.6-1 1.6-1.1 1.6-1.1 1.6-1 1.6-1.1 1.6-1.1 1.6-1.1 1.6-1 1.6-1.1 1.5-1.1 1.6-1 1.6-1.1 1.6-1.1 1.5-1.1 1.6-1 1.6-1.1 1.5-1.1 1.6-1.1 1.5-1 1.6-1.1 1.5-1.1 1.6-1.1 1.5-1 1.6-1.1 1.5-1.1 1.6-1.1 1.5-1.1 1.6-1 1.5-1.1 1.5-1.1 1.6-1.1 1.5-1.1 1.5-1.1 1.6-1.1 1.5-1 1.5-1.1 1.5-1.1 1.5-1.1 1.6-1.1 1.5-1.1 1.5-1.1 1.5-1.1 1.5-1.1 1.5-1.1 1.5-1.1 1.5-1.1 1.5-1.1 1.5-1.1 1.5-1.1 1.5-1.1 1.5-1.1 1.5-1.1 1.5-1.1 1.5-1.1 1.5-1.1 1.5-1.1 1.5-1.1 1.5-1.2 1.4-1.1 1.5-1.1 1.5-1.1 1.5-1.1 1.5-1.1 1.4-1.2 1.5-1.1 1.5-1.1 1.4-1.1 1.5-1.1 1.5-1.2 1.5-1.1 1.4-1.1 1.5-1.2 1.4-1.1 1.5-1.1 1.5-1.2 1.4-1.1 1.5-1.1 1.4-1.2 1.5-1.1 1.5-1.2 1.4-1.1 1.5-1.1 1.4-1.2M599.5 272.5l-1.5-2 -1.4-1.9 -1.4-2 -1.5-1.9 -1.5-1.9 -1.4-1.9 -1.5-2 -1.4-1.8 -1.5-1.9 -1.5-1.9 -1.5-1.9 -1.4-1.8 -1.5-1.8 -1.5-1.9 -1.5-1.8 -1.5-1.8 -1.5-1.8 -1.5-1.8 -1.5-1.7 -1.5-1.8 -1.5-1.7 -1.5-1.7 -1.5-1.8 -1.5-1.7 -1.5-1.7 -1.5-1.6 -1.5-1.7 -1.6-1.7 -1.5-1.6 -1.5-1.6 -1.5-1.7 -1.5-1.6 -1.6-1.6 -1.5-1.5 -1.5-1.6 -1.5-1.6 -1.6-1.5 -1.5-1.5 -1.5-1.5 -1.6-1.5 -1.5-1.5 -1.5-1.5 -1.5-1.5 -1.6-1.4 -1.5-1.4 -1.5-1.4 -1.6-1.4 -1.5-1.4 -1.5-1.4 -1.5-1.4 -1.6-1.3 -1.5-1.3 -1.5-1.3 -1.5-1.3 -1.6-1.3 -1.5-1.3 -1.5-1.3 -1.5-1.2 -1.5-1.2 -1.6-1.2 -1.5-1.2 -1.5-1.2 -1.5-1.2 -1.5-1.1 -1.5-1.1 -1.5-1.2 -1.5-1.1 -1.5-1 -1.5-1.1 -1.5-1.1 -1.5-1 -1.5-1 -1.5-1 -1.5-1 -1.4-1 -1.5-.9 -1.5-1 -1.5-.9 -1.4-.9 -1.5-.9 -1.5-.8 -1.4-.9 -1.5-.8 -1.4-.8 -1.5-.8 -1.4-.8 -1.4-.8 -1.5-.7 -1.4-.8 -1.4-.7 -1.4-.7 -1.5-.7 -1.4-.6 -1.4-.7 -1.4-.6 -1.4-.6 -1.4-.6 -1.3-.5 -1.4-.6 -1.4-.5M442 241.7l1.7-1 1.6-1.1 1.7-1.1 1.6-1 1.6-1.1 1.7-1 1.6-1.1 1.6-1.1 1.7-1 1.6-1.1 1.6-1 1.6-1.1 1.6-1.1 1.7-1 1.6-1.1 1.6-1.1 1.6-1 1.6-1.1 1.6-1 1.6-1.1 1.6-1.1 1.6-1 1.6-1.1 1.5-1.1 1.6-1 1.6-1.1 1.6-1.1 1.6-1 1.5-1.1 1.6-1.1 1.6-1.1 1.6-1 1.5-1.1 1.6-1.1 1.5-1 1.6-1.1 1.6-1.1 1.5-1.1 1.6-1 1.5-1.1 1.6-1.1 1.5-1.1 1.6-1 1.5-1.1 1.5-1.1 1.6-1.1 1.5-1.1 1.5-1 1.6-1.1 1.5-1.1 1.5-1.1 1.6-1.1 1.5-1.1 1.5-1.1 1.5-1 1.5-1.1 1.6-1.1 1.5-1.1 1.5-1.1 1.5-1.1 1.5-1.1 1.5-1.1 1.5-1.1 1.5-1.1 1.5-1.1 1.5-1.1 1.5-1.1 1.5-1.1 1.5-1.1 1.5-1.1 1.5-1.1 1.5-1.1 1.5-1.1 1.5-1.1 1.4-1.1 1.5-1.2 1.5-1.1 1.5-1.1 1.5-1.1 1.4-1.1 1.5-1.1 1.5-1.1 1.5-1.2 1.4-1.1 1.5-1.1 1.5-1.1 1.5-1.2 1.4-1.1 1.5-1.1 1.4-1.1 1.5-1.2 1.5-1.1 1.4-1.1 1.5-1.2 1.4-1.1 1.5-1.2 1.5-1.1 1.4-1.1 1.5-1.2 1.4-1.1M600.9 271.3l-1.4-2 -1.4-1.9 -1.5-2 -1.4-1.9 -1.5-1.9 -1.5-1.9 -1.4-1.9 -1.5-1.9 -1.4-1.9 -1.5-1.9 -1.5-1.8 -1.5-1.9 -1.4-1.8 -1.5-1.8 -1.5-1.8 -1.5-1.8 -1.5-1.8 -1.5-1.8 -1.5-1.8 -1.5-1.7 -1.5-1.8 -1.5-1.7 -1.5-1.7 -1.5-1.7 -1.5-1.7 -1.5-1.7 -1.5-1.7 -1.6-1.6 -1.5-1.7 -1.5-1.6 -1.5-1.6 -1.5-1.6 -1.6-1.6 -1.5-1.6 -1.5-1.5 -1.5-1.6 -1.6-1.5 -1.5-1.5 -1.5-1.6 -1.5-1.5 -1.6-1.4 -1.5-1.5 -1.5-1.5 -1.6-1.4 -1.5-1.4 -1.5-1.4 -1.5-1.4 -1.6-1.4 -1.5-1.4 -1.5-1.3 -1.5-1.4 -1.6-1.3 -1.5-1.3 -1.5-1.3 -1.5-1.3 -1.6-1.3 -1.5-1.2 -1.5-1.3 -1.5-1.2 -1.5-1.2 -1.5-1.2 -1.6-1.2 -1.5-1.1 -1.5-1.2 -1.5-1.1 -1.5-1.1 -1.5-1.1 -1.5-1.1 -1.5-1 -1.5-1.1 -1.5-1 -1.5-1 -1.5-1 -1.4-1 -1.5-1 -1.5-.9 -1.5-1 -1.4-.9 -1.5-.9 -1.5-.9 -1.4-.8 -1.5-.9 -1.4-.8 -1.5-.8 -1.4-.8 -1.5-.8 -1.4-.8 -1.5-.7 -1.4-.8 -1.4-.7 -1.4-.7 -1.4-.6 -1.5-.7 -1.4-.6 -1.4-.6 -1.4-.6 -1.3-.6 -1.4-.6 -1.4-.5 -1.4-.6M440.5 240.2l1.6-1 1.7-1.1 1.6-1 1.7-1.1 1.6-1.1 1.6-1 1.7-1.1 1.6-1 1.6-1.1 1.6-1 1.7-1.1 1.6-1.1 1.6-1 1.6-1.1 1.6-1 1.6-1.1 1.6-1 1.6-1.1 1.6-1.1 1.6-1 1.6-1.1 1.6-1.1 1.6-1 1.6-1.1 1.6-1 1.6-1.1 1.5-1.1 1.6-1 1.6-1.1 1.6-1.1 1.5-1 1.6-1.1 1.6-1.1 1.5-1 1.6-1.1 1.6-1.1 1.5-1.1 1.6-1 1.5-1.1 1.6-1.1 1.5-1 1.6-1.1 1.5-1.1 1.6-1.1 1.5-1 1.5-1.1 1.6-1.1 1.5-1.1 1.5-1.1 1.6-1 1.5-1.1 1.5-1.1 1.6-1.1 1.5-1.1 1.5-1.1 1.5-1.1 1.5-1 1.5-1.1 1.6-1.1 1.5-1.1 1.5-1.1 1.5-1.1 1.5-1.1 1.5-1.1 1.5-1.1 1.5-1.1 1.5-1.1 1.5-1.1 1.5-1.1 1.5-1.1 1.5-1.1 1.5-1.1 1.5-1.1 1.4-1.1 1.5-1.1 1.5-1.1 1.5-1.1 1.5-1.1 1.5-1.2 1.4-1.1 1.5-1.1 1.5-1.1 1.5-1.1 1.4-1.1 1.5-1.2 1.5-1.1 1.4-1.1 1.5-1.1 1.5-1.2 1.4-1.1 1.5-1.1 1.5-1.1 1.4-1.2 1.5-1.1 1.4-1.1 1.5-1.2 1.5-1.1 1.4-1.2 1.5-1.1 1.4-1.1M602.4 270.1l-1.5-1.9 -1.4-2 -1.4-1.9 -1.5-2 -1.4-1.9 -1.5-1.9 -1.5-1.9 -1.4-1.9 -1.5-1.9 -1.5-1.8 -1.4-1.9 -1.5-1.8 -1.5-1.9 -1.5-1.8 -1.4-1.8 -1.5-1.8 -1.5-1.8 -1.5-1.8 -1.5-1.7 -1.5-1.8 -1.5-1.7 -1.5-1.8 -1.5-1.7 -1.5-1.7 -1.5-1.7 -1.5-1.6 -1.6-1.7 -1.5-1.7 -1.5-1.6 -1.5-1.6 -1.5-1.6 -1.5-1.6 -1.6-1.6 -1.5-1.6 -1.5-1.6 -1.5-1.5 -1.6-1.5 -1.5-1.6 -1.5-1.5 -1.5-1.5 -1.6-1.4 -1.5-1.5 -1.5-1.5 -1.5-1.4 -1.6-1.4 -1.5-1.4 -1.5-1.4 -1.5-1.4 -1.6-1.4 -1.5-1.3 -1.5-1.4 -1.5-1.3 -1.6-1.3 -1.5-1.3 -1.5-1.3 -1.5-1.2 -1.6-1.3 -1.5-1.2 -1.5-1.2 -1.5-1.3 -1.5-1.1 -1.5-1.2 -1.5-1.2 -1.5-1.1 -1.6-1.1 -1.5-1.1 -1.5-1.1 -1.5-1.1 -1.5-1.1 -1.5-1 -1.4-1.1 -1.5-1 -1.5-1 -1.5-.9 -1.5-1 -1.5-1 -1.4-.9 -1.5-.9 -1.5-.9 -1.4-.9 -1.5-.8 -1.5-.9 -1.4-.8 -1.5-.8 -1.4-.8 -1.5-.8 -1.4-.8 -1.4-.7 -1.5-.7 -1.4-.7 -1.4-.7 -1.4-.7 -1.4-.6 -1.4-.7 -1.4-.6 -1.4-.6 -1.4-.6 -1.4-.5 -1.4-.6 -1.4-.5M438.9 238.8l1.7-1.1 1.6-1.1 1.7-1 1.6-1.1 1.6-1 1.7-1.1 1.6-1 1.6-1.1 1.7-1 1.6-1.1 1.6-1 1.6-1.1 1.6-1 1.7-1.1 1.6-1 1.6-1.1 1.6-1.1 1.6-1 1.6-1.1 1.6-1 1.6-1.1 1.6-1.1 1.6-1 1.6-1.1 1.5-1 1.6-1.1 1.6-1.1 1.6-1 1.6-1.1 1.5-1 1.6-1.1 1.6-1.1 1.5-1 1.6-1.1 1.6-1.1 1.5-1 1.6-1.1 1.5-1.1 1.6-1 1.6-1.1 1.5-1.1 1.5-1.1 1.6-1 1.5-1.1 1.6-1.1 1.5-1.1 1.6-1 1.5-1.1 1.5-1.1 1.6-1.1 1.5-1 1.5-1.1 1.5-1.1 1.6-1.1 1.5-1.1 1.5-1.1 1.5-1 1.5-1.1 1.5-1.1 1.6-1.1 1.5-1.1 1.5-1.1 1.5-1.1 1.5-1.1 1.5-1.1 1.5-1.1 1.5-1.1 1.5-1.1 1.5-1 1.5-1.1 1.5-1.2 1.5-1.1 1.4-1.1 1.5-1.1 1.5-1.1 1.5-1.1 1.5-1.1 1.5-1.1 1.5-1.1 1.4-1.1 1.5-1.1 1.5-1.1 1.5-1.2 1.4-1.1 1.5-1.1 1.5-1.1 1.4-1.1 1.5-1.2 1.5-1.1 1.4-1.1 1.5-1.1 1.5-1.2 1.4-1.1 1.5-1.1 1.4-1.2 1.5-1.1 1.5-1.1 1.4-1.2 1.5-1.1 1.4-1.1M603.8 268.9l-1.4-1.9 -1.5-2 -1.4-1.9 -1.4-1.9 -1.5-2 -1.4-1.9 -1.5-1.9 -1.5-1.9 -1.4-1.8 -1.5-1.9 -1.5-1.9 -1.4-1.8 -1.5-1.8 -1.5-1.9 -1.5-1.8 -1.5-1.8 -1.4-1.8 -1.5-1.7 -1.5-1.8 -1.5-1.7 -1.5-1.8 -1.5-1.7 -1.5-1.7 -1.5-1.7 -1.5-1.7 -1.5-1.7 -1.6-1.6 -1.5-1.7 -1.5-1.6 -1.5-1.7 -1.5-1.6 -1.5-1.6 -1.6-1.6 -1.5-1.5 -1.5-1.6 -1.5-1.5 -1.5-1.6 -1.6-1.5 -1.5-1.5 -1.5-1.5 -1.5-1.5 -1.6-1.4 -1.5-1.5 -1.5-1.4 -1.5-1.4 -1.6-1.4 -1.5-1.4 -1.5-1.4 -1.5-1.4 -1.6-1.3 -1.5-1.4 -1.5-1.3 -1.5-1.3 -1.6-1.3 -1.5-1.3 -1.5-1.2 -1.5-1.3 -1.5-1.2 -1.6-1.2 -1.5-1.2 -1.5-1.2 -1.5-1.2 -1.5-1.1 -1.5-1.2 -1.5-1.1 -1.5-1.1 -1.5-1.1 -1.5-1.1 -1.5-1 -1.5-1.1 -1.5-1 -1.5-1 -1.5-1 -1.5-1 -1.5-.9 -1.4-1 -1.5-.9 -1.5-.9 -1.5-.9 -1.4-.9 -1.5-.9 -1.4-.8 -1.5-.8 -1.5-.8 -1.4-.8 -1.4-.8 -1.5-.7 -1.4-.8 -1.4-.7 -1.5-.7 -1.4-.7 -1.4-.7 -1.4-.6 -1.4-.6 -1.4-.7 -1.4-.6 -1.4-.5 -1.4-.6 -1.4-.5 -1.4-.5M437.4 237.3l1.6-1.1 1.7-1 1.6-1.1 1.7-1 1.6-1 1.6-1.1 1.7-1 1.6-1.1 1.6-1 1.6-1.1 1.7-1 1.6-1.1 1.6-1.1 1.6-1 1.6-1.1 1.6-1 1.6-1.1 1.6-1 1.6-1.1 1.6-1 1.6-1.1 1.6-1 1.6-1.1 1.6-1 1.6-1.1 1.6-1.1 1.6-1 1.5-1.1 1.6-1 1.6-1.1 1.6-1.1 1.5-1 1.6-1.1 1.6-1.1 1.5-1 1.6-1.1 1.6-1 1.5-1.1 1.6-1.1 1.5-1 1.6-1.1 1.5-1.1 1.6-1.1 1.5-1 1.5-1.1 1.6-1.1 1.5-1 1.6-1.1 1.5-1.1 1.5-1.1 1.6-1 1.5-1.1 1.5-1.1 1.5-1.1 1.6-1.1 1.5-1 1.5-1.1 1.5-1.1 1.5-1.1 1.5-1.1 1.5-1.1 1.6-1.1 1.5-1 1.5-1.1 1.5-1.1 1.5-1.1 1.5-1.1 1.5-1.1 1.5-1.1 1.5-1.1 1.5-1.1 1.4-1.1 1.5-1.1 1.5-1.1 1.5-1.1 1.5-1.1 1.5-1.1 1.5-1.1 1.4-1.1 1.5-1.1 1.5-1.2 1.5-1.1 1.4-1.1 1.5-1.1 1.5-1.1 1.5-1.1 1.4-1.1 1.5-1.2 1.5-1.1 1.4-1.1 1.5-1.1 1.5-1.2 1.4-1.1 1.5-1.1 1.4-1.2 1.5-1.1 1.5-1.1 1.4-1.2 1.5-1.1 1.4-1.1M605.3 267.8l-1.5-2 -1.4-2 -1.4-1.9 -1.5-1.9 -1.4-1.9 -1.5-2 -1.4-1.9 -1.5-1.8 -1.5-1.9 -1.4-1.9 -1.5-1.8 -1.5-1.9 -1.4-1.8 -1.5-1.8 -1.5-1.8 -1.5-1.8 -1.5-1.8 -1.5-1.8 -1.4-1.7 -1.5-1.8 -1.5-1.7 -1.5-1.8 -1.5-1.7 -1.5-1.7 -1.5-1.7 -1.6-1.6 -1.5-1.7 -1.5-1.6 -1.5-1.7 -1.5-1.6 -1.5-1.6 -1.5-1.6 -1.6-1.6 -1.5-1.6 -1.5-1.5 -1.5-1.6 -1.5-1.5 -1.6-1.5 -1.5-1.5 -1.5-1.5 -1.5-1.5 -1.6-1.4 -1.5-1.5 -1.5-1.4 -1.5-1.4 -1.6-1.4 -1.5-1.4 -1.5-1.4 -1.5-1.4 -1.6-1.3 -1.5-1.3 -1.5-1.4 -1.5-1.3 -1.5-1.3 -1.6-1.2 -1.5-1.3 -1.5-1.2 -1.5-1.3 -1.5-1.2 -1.6-1.2 -1.5-1.2 -1.5-1.1 -1.5-1.2 -1.5-1.1 -1.5-1.1 -1.5-1.1 -1.5-1.1 -1.5-1.1 -1.5-1.1 -1.5-1 -1.5-1 -1.5-1 -1.5-1 -1.5-1 -1.4-1 -1.5-.9 -1.5-.9 -1.5-.9 -1.4-.9 -1.5-.9 -1.5-.9 -1.4-.8 -1.5-.8 -1.4-.8 -1.5-.8 -1.4-.8 -1.5-.7 -1.4-.8 -1.4-.7 -1.5-.7 -1.4-.7 -1.4-.6 -1.4-.7 -1.4-.6 -1.4-.6 -1.4-.6 -1.4-.6 -1.4-.5 -1.4-.6 -1.4-.5M435.8 235.8l1.7-1 1.6-1 1.7-1.1 1.6-1 1.6-1.1 1.7-1 1.6-1.1 1.6-1 1.7-1.1 1.6-1 1.6-1.1 1.6-1 1.7-1.1 1.6-1 1.6-1 1.6-1.1 1.6-1 1.6-1.1 1.6-1 1.6-1.1 1.6-1.1 1.6-1 1.6-1.1 1.6-1 1.6-1.1 1.6-1 1.5-1.1 1.6-1 1.6-1.1 1.6-1 1.5-1.1 1.6-1.1 1.6-1 1.5-1.1 1.6-1 1.6-1.1 1.5-1.1 1.6-1 1.5-1.1 1.6-1.1 1.5-1 1.6-1.1 1.5-1.1 1.6-1 1.5-1.1 1.6-1.1 1.5-1 1.5-1.1 1.6-1.1 1.5-1.1 1.5-1 1.6-1.1 1.5-1.1 1.5-1.1 1.5-1 1.6-1.1 1.5-1.1 1.5-1.1 1.5-1.1 1.5-1 1.5-1.1 1.5-1.1 1.5-1.1 1.5-1.1 1.6-1.1 1.5-1.1 1.5-1.1 1.5-1 1.4-1.1 1.5-1.1 1.5-1.1 1.5-1.1 1.5-1.1 1.5-1.1 1.5-1.1 1.5-1.1 1.5-1.1 1.5-1.1 1.4-1.1 1.5-1.2 1.5-1.1 1.5-1.1 1.4-1.1 1.5-1.1 1.5-1.1 1.5-1.1 1.4-1.1 1.5-1.2 1.5-1.1 1.4-1.1 1.5-1.1 1.5-1.2 1.4-1.1 1.5-1.1 1.4-1.1 1.5-1.2 1.5-1.1 1.4-1.1 1.5-1.2 1.4-1.1M606.7 266.6l-1.4-2 -1.5-1.9 -1.4-2 -1.4-1.9 -1.5-1.9 -1.4-1.9 -1.5-1.9 -1.4-1.9 -1.5-1.9 -1.5-1.9 -1.4-1.8 -1.5-1.8 -1.5-1.9 -1.4-1.8 -1.5-1.8 -1.5-1.8 -1.5-1.8 -1.5-1.7 -1.5-1.8 -1.5-1.8 -1.5-1.7 -1.5-1.7 -1.5-1.7 -1.5-1.7 -1.5-1.7 -1.5-1.7 -1.5-1.6 -1.5-1.7 -1.5-1.6 -1.5-1.6 -1.5-1.6 -1.5-1.6 -1.6-1.6 -1.5-1.6 -1.5-1.5 -1.5-1.6 -1.5-1.5 -1.6-1.5 -1.5-1.5 -1.5-1.5 -1.5-1.5 -1.5-1.4 -1.6-1.5 -1.5-1.4 -1.5-1.4 -1.5-1.4 -1.6-1.4 -1.5-1.4 -1.5-1.4 -1.5-1.3 -1.6-1.3 -1.5-1.4 -1.5-1.3 -1.5-1.2 -1.5-1.3 -1.6-1.3 -1.5-1.2 -1.5-1.2 -1.5-1.2 -1.5-1.2 -1.5-1.2 -1.6-1.2 -1.5-1.1 -1.5-1.2 -1.5-1.1 -1.5-1.1 -1.5-1.1 -1.5-1 -1.5-1.1 -1.5-1 -1.5-1.1 -1.5-1 -1.5-1 -1.4-.9 -1.5-1 -1.5-.9 -1.5-.9 -1.4-.9 -1.5-.9 -1.5-.9 -1.4-.9 -1.5-.8 -1.5-.8 -1.4-.8 -1.5-.8 -1.4-.8 -1.4-.7 -1.5-.8 -1.4-.7 -1.4-.7 -1.5-.7 -1.4-.6 -1.4-.7 -1.4-.6 -1.4-.6 -1.4-.6 -1.4-.5 -1.4-.6 -1.4-.5 -1.4-.6M434.3 234.4l1.6-1 1.7-1.1 1.6-1 1.7-1 1.6-1.1 1.6-1 1.7-1.1 1.6-1 1.6-1.1 1.7-1 1.6-1 1.6-1.1 1.6-1 1.6-1.1 1.6-1 1.7-1.1 1.6-1 1.6-1.1 1.6-1 1.6-1.1 1.6-1 1.6-1.1 1.6-1 1.5-1.1 1.6-1 1.6-1.1 1.6-1 1.6-1.1 1.6-1 1.5-1.1 1.6-1 1.6-1.1 1.5-1 1.6-1.1 1.6-1.1 1.5-1 1.6-1.1 1.6-1 1.5-1.1 1.6-1.1 1.5-1 1.6-1.1 1.5-1.1 1.6-1 1.5-1.1 1.5-1 1.6-1.1 1.5-1.1 1.5-1.1 1.6-1 1.5-1.1 1.5-1.1 1.6-1 1.5-1.1 1.5-1.1 1.5-1.1 1.6-1 1.5-1.1 1.5-1.1 1.5-1.1 1.5-1.1 1.5-1.1 1.5-1 1.5-1.1 1.5-1.1 1.5-1.1 1.5-1.1 1.5-1.1 1.5-1.1 1.5-1.1 1.5-1.1 1.5-1 1.5-1.1 1.5-1.1 1.5-1.1 1.5-1.1 1.5-1.1 1.4-1.1 1.5-1.1 1.5-1.2 1.5-1.1 1.5-1.1 1.4-1.1 1.5-1.1 1.5-1.1 1.5-1.1 1.4-1.1 1.5-1.1 1.5-1.2 1.4-1.1 1.5-1.1 1.5-1.1 1.4-1.2 1.5-1.1 1.4-1.1 1.5-1.1 1.5-1.2 1.4-1.1 1.5-1.1 1.4-1.2M608.1 265.4l-1.4-2 -1.4-1.9 -1.5-2 -1.4-1.9 -1.4-1.9 -1.5-1.9 -1.4-1.9 -1.5-1.9 -1.4-1.9 -1.5-1.8 -1.5-1.9 -1.4-1.8 -1.5-1.8 -1.5-1.9 -1.5-1.8 -1.4-1.8 -1.5-1.7 -1.5-1.8 -1.5-1.8 -1.5-1.7 -1.5-1.7 -1.5-1.8 -1.5-1.7 -1.5-1.7 -1.5-1.6 -1.5-1.7 -1.5-1.7 -1.5-1.6 -1.5-1.7 -1.5-1.6 -1.5-1.6 -1.5-1.6 -1.6-1.5 -1.5-1.6 -1.5-1.6 -1.5-1.5 -1.5-1.5 -1.5-1.5 -1.6-1.5 -1.5-1.5 -1.5-1.5 -1.5-1.5 -1.6-1.4 -1.5-1.4 -1.5-1.4 -1.5-1.4 -1.6-1.4 -1.5-1.4 -1.5-1.4 -1.5-1.3 -1.5-1.3 -1.6-1.3 -1.5-1.3 -1.5-1.3 -1.5-1.3 -1.5-1.2 -1.6-1.3 -1.5-1.2 -1.5-1.2 -1.5-1.2 -1.5-1.2 -1.5-1.2 -1.5-1.1 -1.6-1.1 -1.5-1.1 -1.5-1.1 -1.5-1.1 -1.5-1.1 -1.5-1 -1.5-1.1 -1.5-1 -1.4-1 -1.5-1 -1.5-1 -1.5-.9 -1.5-.9 -1.5-1 -1.4-.9 -1.5-.9 -1.5-.8 -1.4-.9 -1.5-.8 -1.4-.8 -1.5-.8 -1.4-.8 -1.5-.8 -1.4-.7 -1.5-.7 -1.4-.8 -1.4-.7 -1.5-.6 -1.4-.7 -1.4-.6 -1.4-.7 -1.4-.6 -1.4-.5 -1.4-.6 -1.4-.6 -1.4-.5 -1.4-.5M432.7 233l1.7-1 1.6-1.1 1.7-1 1.6-1.1 1.7-1 1.6-1 1.6-1.1 1.7-1 1.6-1 1.6-1.1 1.6-1 1.7-1.1 1.6-1 1.6-1 1.6-1.1 1.6-1 1.6-1.1 1.6-1 1.6-1.1 1.6-1 1.6-1.1 1.6-1 1.6-1 1.6-1.1 1.6-1 1.6-1.1 1.6-1 1.6-1.1 1.5-1 1.6-1.1 1.6-1 1.6-1.1 1.5-1.1 1.6-1 1.6-1.1 1.5-1 1.6-1.1 1.5-1 1.6-1.1 1.5-1 1.6-1.1 1.5-1.1 1.6-1 1.5-1.1 1.6-1.1 1.5-1 1.6-1.1 1.5-1 1.5-1.1 1.6-1.1 1.5-1.1 1.5-1 1.5-1.1 1.6-1.1 1.5-1 1.5-1.1 1.5-1.1 1.6-1.1 1.5-1 1.5-1.1 1.5-1.1 1.5-1.1 1.5-1.1 1.5-1 1.5-1.1 1.5-1.1 1.5-1.1 1.5-1.1 1.5-1.1 1.5-1.1 1.5-1.1 1.5-1.1 1.5-1 1.5-1.1 1.5-1.1 1.5-1.1 1.4-1.1 1.5-1.1 1.5-1.1 1.5-1.1 1.5-1.1 1.5-1.1 1.4-1.2 1.5-1.1 1.5-1.1 1.4-1.1 1.5-1.1 1.5-1.1 1.5-1.1 1.4-1.1 1.5-1.2 1.5-1.1 1.4-1.1 1.5-1.1 1.4-1.2 1.5-1.1 1.5-1.1 1.4-1.1 1.5-1.2 1.4-1.1M609.6 264.2l-1.5-2 -1.4-1.9 -1.4-1.9 -1.5-2 -1.4-1.9 -1.4-1.9 -1.5-1.9 -1.4-1.9 -1.5-1.8 -1.4-1.9 -1.5-1.9 -1.5-1.8 -1.4-1.8 -1.5-1.8 -1.5-1.8 -1.5-1.8 -1.4-1.8 -1.5-1.8 -1.5-1.7 -1.5-1.8 -1.5-1.7 -1.5-1.7 -1.5-1.7 -1.5-1.7 -1.5-1.7 -1.5-1.7 -1.5-1.6 -1.5-1.7 -1.5-1.6 -1.5-1.6 -1.5-1.6 -1.5-1.6 -1.6-1.6 -1.5-1.5 -1.5-1.6 -1.5-1.5 -1.5-1.6 -1.5-1.5 -1.6-1.5 -1.5-1.4 -1.5-1.5 -1.5-1.5 -1.6-1.4 -1.5-1.4 -1.5-1.4 -1.5-1.4 -1.5-1.4 -1.6-1.4 -1.5-1.4 -1.5-1.3 -1.5-1.3 -1.6-1.3 -1.5-1.3 -1.5-1.3 -1.5-1.3 -1.5-1.2 -1.5-1.3 -1.6-1.2 -1.5-1.2 -1.5-1.2 -1.5-1.2 -1.5-1.1 -1.5-1.2 -1.5-1.1 -1.5-1.1 -1.5-1.1 -1.5-1.1 -1.5-1 -1.5-1.1 -1.5-1 -1.5-1 -1.5-1 -1.5-1 -1.5-1 -1.5-.9 -1.5-1 -1.4-.9 -1.5-.9 -1.5-.9 -1.4-.8 -1.5-.9 -1.5-.8 -1.4-.8 -1.5-.8 -1.4-.8 -1.5-.8 -1.4-.7 -1.5-.7 -1.4-.7 -1.4-.7 -1.4-.7 -1.5-.7 -1.4-.6 -1.4-.6 -1.4-.6 -1.4-.6 -1.4-.6 -1.4-.5 -1.4-.5 -1.4-.6M431.2 231.6l1.6-1 1.7-1.1 1.6-1 1.7-1 1.6-1.1 1.7-1 1.6-1 1.6-1.1 1.7-1 1.6-1.1 1.6-1 1.6-1 1.6-1.1 1.7-1 1.6-1 1.6-1.1 1.6-1 1.6-1.1 1.6-1 1.6-1 1.6-1.1 1.6-1 1.6-1.1 1.6-1 1.6-1.1 1.6-1 1.5-1.1 1.6-1 1.6-1 1.6-1.1 1.6-1 1.5-1.1 1.6-1 1.6-1.1 1.5-1 1.6-1.1 1.5-1.1 1.6-1 1.6-1.1 1.5-1 1.6-1.1 1.5-1 1.6-1.1 1.5-1 1.6-1.1 1.5-1.1 1.5-1 1.6-1.1 1.5-1.1 1.5-1 1.6-1.1 1.5-1.1 1.5-1 1.6-1.1 1.5-1.1 1.5-1 1.5-1.1 1.5-1.1 1.6-1.1 1.5-1 1.5-1.1 1.5-1.1 1.5-1.1 1.5-1 1.5-1.1 1.5-1.1 1.5-1.1 1.5-1.1 1.5-1.1 1.5-1.1 1.5-1 1.5-1.1 1.5-1.1 1.5-1.1 1.5-1.1 1.5-1.1 1.4-1.1 1.5-1.1 1.5-1.1 1.5-1.1 1.5-1.1 1.4-1.1 1.5-1.1 1.5-1.1 1.5-1.1 1.4-1.1 1.5-1.2 1.5-1.1 1.5-1.1 1.4-1.1 1.5-1.1 1.4-1.1 1.5-1.1 1.5-1.2 1.4-1.1 1.5-1.1 1.5-1.1 1.4-1.2 1.5-1.1 1.4-1.1M611 263l-1.4-1.9 -1.5-2 -1.4-1.9 -1.4-1.9 -1.4-2 -1.5-1.9 -1.4-1.9 -1.5-1.8 -1.4-1.9 -1.5-1.9 -1.5-1.8 -1.4-1.9 -1.5-1.8 -1.4-1.8 -1.5-1.8 -1.5-1.8 -1.5-1.8 -1.5-1.7 -1.4-1.8 -1.5-1.7 -1.5-1.8 -1.5-1.7 -1.5-1.7 -1.5-1.7 -1.5-1.6 -1.5-1.7 -1.5-1.7 -1.5-1.6 -1.5-1.6 -1.5-1.6 -1.5-1.7 -1.5-1.5 -1.6-1.6 -1.5-1.6 -1.5-1.5 -1.5-1.6 -1.5-1.5 -1.5-1.5 -1.6-1.5 -1.5-1.5 -1.5-1.4 -1.5-1.5 -1.5-1.4 -1.6-1.4 -1.5-1.5 -1.5-1.4 -1.5-1.3 -1.6-1.4 -1.5-1.4 -1.5-1.3 -1.5-1.3 -1.5-1.3 -1.6-1.3 -1.5-1.3 -1.5-1.3 -1.5-1.2 -1.5-1.2 -1.5-1.3 -1.6-1.2 -1.5-1.2 -1.5-1.1 -1.5-1.2 -1.5-1.1 -1.5-1.1 -1.5-1.2 -1.5-1 -1.5-1.1 -1.5-1.1 -1.5-1 -1.5-1.1 -1.5-1 -1.5-1 -1.5-1 -1.5-.9 -1.5-1 -1.4-.9 -1.5-.9 -1.5-.9 -1.5-.9 -1.4-.8 -1.5-.9 -1.5-.8 -1.4-.8 -1.5-.8 -1.4-.8 -1.5-.8 -1.4-.7 -1.4-.7 -1.5-.7 -1.4-.7 -1.4-.7 -1.5-.6 -1.4-.7 -1.4-.6 -1.4-.6 -1.4-.6 -1.4-.5 -1.4-.6 -1.4-.5 -1.4-.5M429.6 230.2l1.7-1 1.6-1.1 1.7-1 1.6-1 1.7-1 1.6-1.1 1.7-1 1.6-1 1.6-1.1 1.6-1 1.7-1 1.6-1.1 1.6-1 1.6-1 1.6-1.1 1.7-1 1.6-1 1.6-1.1 1.6-1 1.6-1.1 1.6-1 1.6-1 1.6-1.1 1.6-1 1.5-1.1 1.6-1 1.6-1 1.6-1.1 1.6-1 1.6-1.1 1.5-1 1.6-1.1 1.6-1 1.5-1.1 1.6-1 1.6-1.1 1.5-1 1.6-1.1 1.5-1 1.6-1.1 1.5-1 1.6-1.1 1.5-1 1.6-1.1 1.5-1.1 1.6-1 1.5-1.1 1.6-1 1.5-1.1 1.5-1.1 1.6-1 1.5-1.1 1.5-1 1.5-1.1 1.6-1.1 1.5-1 1.5-1.1 1.5-1.1 1.5-1.1 1.6-1 1.5-1.1 1.5-1.1 1.5-1.1 1.5-1 1.5-1.1 1.5-1.1 1.5-1.1 1.5-1.1 1.5-1 1.5-1.1 1.5-1.1 1.5-1.1 1.5-1.1 1.5-1.1 1.5-1.1 1.4-1.1 1.5-1.1 1.5-1.1 1.5-1.1 1.5-1.1 1.5-1.1 1.4-1.1 1.5-1.1 1.5-1.1 1.5-1.1 1.4-1.1 1.5-1.1 1.5-1.1 1.4-1.1 1.5-1.1 1.5-1.1 1.4-1.2 1.5-1.1 1.5-1.1 1.4-1.1 1.5-1.1 1.5-1.2 1.4-1.1 1.5-1.1 1.4-1.1M612.4 261.8l-1.4-1.9 -1.4-2 -1.4-1.9 -1.5-1.9 -1.4-1.9 -1.4-1.9 -1.5-1.9 -1.4-1.9 -1.5-1.9 -1.4-1.8 -1.5-1.9 -1.5-1.8 -1.4-1.9 -1.5-1.8 -1.5-1.8 -1.4-1.8 -1.5-1.7 -1.5-1.8 -1.5-1.7 -1.5-1.8 -1.4-1.7 -1.5-1.7 -1.5-1.7 -1.5-1.7 -1.5-1.7 -1.5-1.7 -1.5-1.6 -1.5-1.7 -1.5-1.6 -1.5-1.6 -1.5-1.6 -1.6-1.6 -1.5-1.5 -1.5-1.6 -1.5-1.6 -1.5-1.5 -1.5-1.5 -1.5-1.5 -1.6-1.5 -1.5-1.5 -1.5-1.4 -1.5-1.5 -1.5-1.4 -1.6-1.5 -1.5-1.4 -1.5-1.4 -1.5-1.3 -1.5-1.4 -1.6-1.4 -1.5-1.3 -1.5-1.3 -1.5-1.3 -1.5-1.3 -1.6-1.3 -1.5-1.2 -1.5-1.3 -1.5-1.2 -1.5-1.2 -1.5-1.2 -1.6-1.2 -1.5-1.2 -1.5-1.1 -1.5-1.2 -1.5-1.1 -1.5-1.1 -1.5-1.1 -1.5-1.1 -1.5-1 -1.5-1.1 -1.5-1 -1.5-1 -1.5-1 -1.5-1 -1.5-.9 -1.4-1 -1.5-.9 -1.5-.9 -1.5-.9 -1.5-.9 -1.4-.9 -1.5-.8 -1.4-.8 -1.5-.8 -1.5-.8 -1.4-.8 -1.5-.8 -1.4-.7 -1.4-.7 -1.5-.7 -1.4-.7 -1.4-.7 -1.5-.6 -1.4-.7 -1.4-.6 -1.4-.6 -1.4-.5 -1.4-.6 -1.4-.5 -1.4-.6 -1.4-.5M428.1 228.8l1.7-1 1.6-1 1.7-1 1.6-1.1 1.6-1 1.7-1 1.6-1.1 1.7-1 1.6-1 1.6-1 1.6-1.1 1.7-1 1.6-1 1.6-1.1 1.6-1 1.6-1 1.6-1.1 1.6-1 1.6-1 1.6-1.1 1.6-1 1.6-1 1.6-1.1 1.6-1 1.6-1 1.6-1.1 1.6-1 1.6-1.1 1.6-1 1.5-1.1 1.6-1 1.6-1 1.5-1.1 1.6-1 1.6-1.1 1.5-1 1.6-1.1 1.6-1 1.5-1.1 1.6-1 1.5-1.1 1.6-1 1.5-1.1 1.6-1 1.5-1.1 1.6-1 1.5-1.1 1.5-1 1.6-1.1 1.5-1.1 1.5-1 1.6-1.1 1.5-1.1 1.5-1 1.5-1.1 1.6-1 1.5-1.1 1.5-1.1 1.5-1.1 1.5-1 1.5-1.1 1.6-1.1 1.5-1 1.5-1.1 1.5-1.1 1.5-1.1 1.5-1 1.5-1.1 1.5-1.1 1.5-1.1 1.5-1.1 1.5-1.1 1.5-1 1.5-1.1 1.4-1.1 1.5-1.1 1.5-1.1 1.5-1.1 1.5-1.1 1.5-1.1 1.5-1.1 1.4-1.1 1.5-1.1 1.5-1.1 1.5-1.1 1.4-1.1 1.5-1.1 1.5-1.1 1.4-1.1 1.5-1.1 1.5-1.2 1.4-1.1 1.5-1.1 1.5-1.1 1.4-1.1 1.5-1.1 1.4-1.2 1.5-1.1 1.5-1.1 1.4-1.1M613.8 260.7l-1.4-2 -1.4-1.9 -1.4-2 -1.4-1.9 -1.5-1.9 -1.4-1.9 -1.4-1.9 -1.5-1.9 -1.4-1.9 -1.5-1.8 -1.4-1.9 -1.5-1.8 -1.5-1.8 -1.4-1.8 -1.5-1.8 -1.5-1.8 -1.4-1.8 -1.5-1.8 -1.5-1.7 -1.5-1.7 -1.5-1.8 -1.5-1.7 -1.5-1.7 -1.4-1.7 -1.5-1.6 -1.5-1.7 -1.5-1.7 -1.5-1.6 -1.5-1.6 -1.5-1.6 -1.6-1.6 -1.5-1.6 -1.5-1.6 -1.5-1.5 -1.5-1.6 -1.5-1.5 -1.5-1.5 -1.5-1.5 -1.6-1.5 -1.5-1.5 -1.5-1.5 -1.5-1.4 -1.5-1.4 -1.6-1.5 -1.5-1.4 -1.5-1.4 -1.5-1.3 -1.5-1.4 -1.6-1.4 -1.5-1.3 -1.5-1.3 -1.5-1.3 -1.5-1.3 -1.6-1.3 -1.5-1.2 -1.5-1.3 -1.5-1.2 -1.5-1.2 -1.5-1.2 -1.6-1.2 -1.5-1.2 -1.5-1.1 -1.5-1.1 -1.5-1.2 -1.5-1.1 -1.5-1.1 -1.5-1 -1.5-1.1 -1.5-1 -1.5-1.1 -1.5-1 -1.5-.9 -1.5-1 -1.5-1 -1.4-.9 -1.5-.9 -1.5-1 -1.5-.8 -1.4-.9 -1.5-.9 -1.5-.8 -1.4-.8 -1.5-.8 -1.4-.8 -1.5-.8 -1.4-.8 -1.5-.7 -1.4-.7 -1.5-.7 -1.4-.7 -1.4-.7 -1.5-.6 -1.4-.6 -1.4-.7 -1.4-.5 -1.4-.6 -1.4-.6 -1.4-.5 -1.4-.5 -1.4-.5M426.6 227.5l1.6-1 1.7-1.1 1.6-1 1.7-1 1.6-1 1.7-1.1 1.6-1 1.6-1 1.7-1 1.6-1.1 1.6-1 1.6-1 1.7-1 1.6-1.1 1.6-1 1.6-1 1.6-1.1 1.6-1 1.6-1 1.6-1.1 1.6-1 1.6-1 1.6-1.1 1.6-1 1.6-1 1.6-1.1 1.6-1 1.6-1 1.5-1.1 1.6-1 1.6-1 1.6-1.1 1.5-1 1.6-1.1 1.6-1 1.5-1.1 1.6-1 1.5-1 1.6-1.1 1.6-1 1.5-1.1 1.6-1 1.5-1.1 1.6-1 1.5-1.1 1.5-1 1.6-1.1 1.5-1 1.6-1.1 1.5-1.1 1.5-1 1.6-1.1 1.5-1 1.5-1.1 1.5-1.1 1.6-1 1.5-1.1 1.5-1.1 1.5-1 1.5-1.1 1.5-1.1 1.5-1 1.6-1.1 1.5-1.1 1.5-1 1.5-1.1 1.5-1.1 1.5-1.1 1.5-1.1 1.5-1 1.5-1.1 1.5-1.1 1.5-1.1 1.5-1.1 1.4-1.1 1.5-1 1.5-1.1 1.5-1.1 1.5-1.1 1.5-1.1 1.4-1.1 1.5-1.1 1.5-1.1 1.5-1.1 1.5-1.1 1.4-1.1 1.5-1.1 1.5-1.1 1.4-1.1 1.5-1.1 1.5-1.1 1.4-1.2 1.5-1.1 1.5-1.1 1.4-1.1 1.5-1.1 1.4-1.1 1.5-1.2 1.5-1.1 1.4-1.1M615.3 259.5l-1.4-2 -1.5-1.9 -1.4-2 -1.4-1.9 -1.4-1.9 -1.5-1.9 -1.4-1.9 -1.4-1.9 -1.5-1.8 -1.4-1.9 -1.5-1.8 -1.4-1.9 -1.5-1.8 -1.5-1.8 -1.4-1.8 -1.5-1.8 -1.5-1.8 -1.5-1.7 -1.4-1.8 -1.5-1.7 -1.5-1.7 -1.5-1.7 -1.5-1.7 -1.5-1.7 -1.5-1.7 -1.5-1.7 -1.5-1.6 -1.5-1.6 -1.5-1.7 -1.5-1.6 -1.5-1.6 -1.5-1.5 -1.5-1.6 -1.5-1.6 -1.5-1.5 -1.5-1.5 -1.5-1.6 -1.5-1.5 -1.6-1.5 -1.5-1.4 -1.5-1.5 -1.5-1.4 -1.5-1.5 -1.6-1.4 -1.5-1.4 -1.5-1.4 -1.5-1.3 -1.5-1.4 -1.6-1.4 -1.5-1.3 -1.5-1.3 -1.5-1.3 -1.5-1.3 -1.5-1.3 -1.6-1.2 -1.5-1.3 -1.5-1.2 -1.5-1.2 -1.5-1.2 -1.5-1.2 -1.6-1.1 -1.5-1.2 -1.5-1.1 -1.5-1.1 -1.5-1.1 -1.5-1.1 -1.5-1.1 -1.5-1 -1.5-1.1 -1.5-1 -1.5-1 -1.5-1 -1.5-1 -1.4-.9 -1.5-1 -1.5-.9 -1.5-.9 -1.5-.9 -1.4-.8 -1.5-.9 -1.5-.8 -1.4-.9 -1.5-.8 -1.4-.7 -1.5-.8 -1.4-.8 -1.5-.7 -1.4-.7 -1.5-.7 -1.4-.7 -1.4-.7 -1.4-.6 -1.5-.6 -1.4-.6 -1.4-.6 -1.4-.6 -1.4-.5 -1.4-.6 -1.4-.5 -1.4-.5M425.1 226.1l1.6-1 1.7-1 1.6-1 1.7-1 1.6-1.1 1.6-1 1.7-1 1.6-1 1.6-1 1.7-1.1 1.6-1 1.6-1 1.6-1 1.7-1.1 1.6-1 1.6-1 1.6-1 1.6-1.1 1.6-1 1.6-1 1.6-1.1 1.6-1 1.6-1 1.6-1 1.6-1.1 1.6-1 1.5-1 1.6-1.1 1.6-1 1.6-1 1.6-1.1 1.5-1 1.6-1.1 1.6-1 1.5-1 1.6-1.1 1.6-1 1.5-1.1 1.6-1 1.5-1 1.6-1.1 1.5-1 1.6-1.1 1.5-1 1.6-1.1 1.5-1 1.6-1.1 1.5-1 1.5-1.1 1.6-1 1.5-1.1 1.5-1.1 1.6-1 1.5-1.1 1.5-1 1.5-1.1 1.6-1.1 1.5-1 1.5-1.1 1.5-1 1.5-1.1 1.5-1.1 1.5-1 1.6-1.1 1.5-1.1 1.5-1.1 1.5-1 1.5-1.1 1.5-1.1 1.5-1.1 1.5-1 1.5-1.1 1.5-1.1 1.4-1.1 1.5-1.1 1.5-1.1 1.5-1 1.5-1.1 1.5-1.1 1.5-1.1 1.4-1.1 1.5-1.1 1.5-1.1 1.5-1.1 1.4-1.1 1.5-1.1 1.5-1.1 1.5-1.1 1.4-1.1 1.5-1.1 1.5-1.1 1.4-1.1 1.5-1.1 1.5-1.2 1.4-1.1 1.5-1.1 1.4-1.1 1.5-1.1 1.5-1.2 1.4-1.1M616.7 258.3l-1.4-2 -1.4-1.9 -1.4-1.9 -1.5-2 -1.4-1.9 -1.4-1.9 -1.5-1.9 -1.4-1.8 -1.4-1.9 -1.5-1.9 -1.4-1.8 -1.5-1.8 -1.5-1.9 -1.4-1.8 -1.5-1.8 -1.4-1.8 -1.5-1.7 -1.5-1.8 -1.5-1.7 -1.4-1.8 -1.5-1.7 -1.5-1.7 -1.5-1.7 -1.5-1.7 -1.5-1.6 -1.5-1.7 -1.5-1.7 -1.5-1.6 -1.5-1.6 -1.5-1.6 -1.5-1.6 -1.5-1.6 -1.5-1.6 -1.5-1.5 -1.5-1.5 -1.5-1.6 -1.5-1.5 -1.6-1.5 -1.5-1.5 -1.5-1.4 -1.5-1.5 -1.5-1.4 -1.5-1.5 -1.6-1.4 -1.5-1.4 -1.5-1.4 -1.5-1.4 -1.5-1.3 -1.6-1.4 -1.5-1.3 -1.5-1.3 -1.5-1.3 -1.5-1.3 -1.5-1.2 -1.6-1.3 -1.5-1.2 -1.5-1.3 -1.5-1.2 -1.5-1.2 -1.5-1.1 -1.5-1.2 -1.6-1.1 -1.5-1.2 -1.5-1.1 -1.5-1.1 -1.5-1.1 -1.5-1 -1.5-1.1 -1.5-1 -1.5-1 -1.5-1 -1.5-1 -1.4-1 -1.5-1 -1.5-.9 -1.5-.9 -1.5-.9 -1.4-.9 -1.5-.9 -1.5-.8 -1.5-.9 -1.4-.8 -1.5-.8 -1.4-.8 -1.5-.7 -1.4-.8 -1.5-.7 -1.4-.7 -1.5-.7 -1.4-.7 -1.4-.6 -1.5-.7 -1.4-.6 -1.4-.6 -1.4-.6 -1.4-.6 -1.4-.5 -1.4-.6 -1.4-.5 -1.4-.5M423.5 224.8l1.7-1 1.6-1 1.7-1 1.6-1.1 1.7-1 1.6-1 1.6-1 1.7-1 1.6-1 1.6-1.1 1.7-1 1.6-1 1.6-1 1.6-1 1.6-1.1 1.7-1 1.6-1 1.6-1 1.6-1.1 1.6-1 1.6-1 1.6-1 1.6-1.1 1.6-1 1.6-1 1.5-1 1.6-1.1 1.6-1 1.6-1 1.6-1.1 1.6-1 1.5-1 1.6-1.1 1.6-1 1.5-1 1.6-1.1 1.6-1 1.5-1.1 1.6-1 1.5-1 1.6-1.1 1.5-1 1.6-1.1 1.5-1 1.6-1.1 1.5-1 1.6-1.1 1.5-1 1.5-1.1 1.6-1 1.5-1.1 1.5-1 1.6-1.1 1.5-1 1.5-1.1 1.5-1 1.6-1.1 1.5-1.1 1.5-1 1.5-1.1 1.5-1 1.5-1.1 1.5-1.1 1.5-1 1.6-1.1 1.5-1.1 1.5-1.1 1.5-1 1.5-1.1 1.5-1.1 1.5-1.1 1.5-1 1.4-1.1 1.5-1.1 1.5-1.1 1.5-1.1 1.5-1 1.5-1.1 1.5-1.1 1.5-1.1 1.4-1.1 1.5-1.1 1.5-1.1 1.5-1.1 1.4-1.1 1.5-1.1 1.5-1.1 1.5-1.1 1.4-1.1 1.5-1.1 1.5-1.1 1.4-1.1 1.5-1.1 1.5-1.1 1.4-1.1 1.5-1.1 1.4-1.2 1.5-1.1 1.5-1.1 1.4-1.1M618.1 257.1l-1.4-2 -1.4-1.9 -1.4-1.9 -1.4-2 -1.5-1.9 -1.4-1.9 -1.4-1.8 -1.5-1.9 -1.4-1.9 -1.4-1.8 -1.5-1.9 -1.4-1.8 -1.5-1.8 -1.5-1.8 -1.4-1.8 -1.5-1.8 -1.5-1.8 -1.4-1.7 -1.5-1.8 -1.5-1.7 -1.5-1.7 -1.4-1.8 -1.5-1.6 -1.5-1.7 -1.5-1.7 -1.5-1.7 -1.5-1.6 -1.5-1.6 -1.5-1.7 -1.5-1.6 -1.5-1.5 -1.5-1.6 -1.5-1.6 -1.5-1.5 -1.5-1.6 -1.5-1.5 -1.6-1.5 -1.5-1.5 -1.5-1.5 -1.5-1.5 -1.5-1.4 -1.5-1.5 -1.5-1.4 -1.6-1.4 -1.5-1.4 -1.5-1.4 -1.5-1.4 -1.5-1.3 -1.5-1.4 -1.6-1.3 -1.5-1.3 -1.5-1.3 -1.5-1.3 -1.5-1.2 -1.6-1.3 -1.5-1.2 -1.5-1.2 -1.5-1.2 -1.5-1.2 -1.5-1.2 -1.5-1.2 -1.5-1.1 -1.6-1.1 -1.5-1.2 -1.5-1.1 -1.5-1 -1.5-1.1 -1.5-1 -1.5-1.1 -1.5-1 -1.5-1 -1.4-1 -1.5-.9 -1.5-1 -1.5-.9 -1.5-.9 -1.5-.9 -1.4-.9 -1.5-.9 -1.5-.8 -1.5-.9 -1.4-.8 -1.5-.8 -1.4-.8 -1.5-.7 -1.4-.8 -1.5-.7 -1.4-.7 -1.5-.7 -1.4-.7 -1.4-.6 -1.5-.7 -1.4-.6 -1.4-.6 -1.4-.6 -1.4-.5 -1.4-.6 -1.4-.5 -1.4-.5 -1.4-.5M422 223.5l1.7-1 1.6-1 1.7-1 1.6-1.1 1.7-1 1.6-1 1.6-1 1.7-1 1.6-1 1.6-1 1.7-1.1 1.6-1 1.6-1 1.6-1 1.6-1 1.6-1 1.7-1.1 1.6-1 1.6-1 1.6-1 1.6-1 1.6-1.1 1.6-1 1.6-1 1.5-1 1.6-1.1 1.6-1 1.6-1 1.6-1.1 1.6-1 1.5-1 1.6-1 1.6-1.1 1.6-1 1.5-1 1.6-1.1 1.5-1 1.6-1 1.6-1.1 1.5-1 1.6-1.1 1.5-1 1.6-1 1.5-1.1 1.6-1 1.5-1.1 1.5-1 1.6-1.1 1.5-1 1.6-1.1 1.5-1 1.5-1.1 1.6-1 1.5-1.1 1.5-1 1.5-1.1 1.5-1 1.6-1.1 1.5-1 1.5-1.1 1.5-1.1 1.5-1 1.5-1.1 1.5-1.1 1.5-1 1.6-1.1 1.5-1.1 1.5-1 1.5-1.1 1.5-1.1 1.5-1 1.4-1.1 1.5-1.1 1.5-1.1 1.5-1.1 1.5-1 1.5-1.1 1.5-1.1 1.5-1.1 1.4-1.1 1.5-1.1 1.5-1.1 1.5-1 1.5-1.1 1.4-1.1 1.5-1.1 1.5-1.1 1.5-1.1 1.4-1.1 1.5-1.1 1.5-1.1 1.4-1.1 1.5-1.1 1.5-1.2 1.4-1.1 1.5-1.1 1.4-1.1 1.5-1.1 1.5-1.1 1.4-1.1M619.5 255.9l-1.4-1.9 -1.4-2 -1.4-1.9 -1.4-1.9 -1.4-1.9 -1.4-1.9 -1.5-1.9 -1.4-1.9 -1.5-1.9 -1.4-1.8 -1.4-1.9 -1.5-1.8 -1.4-1.8 -1.5-1.8 -1.5-1.8 -1.4-1.8 -1.5-1.8 -1.5-1.7 -1.4-1.8 -1.5-1.7 -1.5-1.7 -1.5-1.7 -1.5-1.7 -1.4-1.7 -1.5-1.7 -1.5-1.6 -1.5-1.7 -1.5-1.6 -1.5-1.6 -1.5-1.6 -1.5-1.6 -1.5-1.6 -1.5-1.5 -1.5-1.6 -1.5-1.5 -1.6-1.5 -1.5-1.5 -1.5-1.5 -1.5-1.5 -1.5-1.5 -1.5-1.4 -1.5-1.5 -1.5-1.4 -1.6-1.4 -1.5-1.4 -1.5-1.4 -1.5-1.4 -1.5-1.3 -1.5-1.4 -1.6-1.3 -1.5-1.3 -1.5-1.3 -1.5-1.3 -1.5-1.2 -1.5-1.3 -1.6-1.2 -1.5-1.2 -1.5-1.2 -1.5-1.2 -1.5-1.2 -1.5-1.1 -1.5-1.2 -1.5-1.1 -1.6-1.1 -1.5-1.1 -1.5-1.1 -1.5-1.1 -1.5-1 -1.5-1 -1.5-1 -1.4-1 -1.5-1 -1.5-1 -1.5-.9 -1.5-1 -1.5-.9 -1.5-.9 -1.4-.9 -1.5-.8 -1.5-.9 -1.5-.8 -1.4-.8 -1.5-.8 -1.4-.8 -1.5-.7 -1.4-.8 -1.5-.7 -1.4-.7 -1.5-.7 -1.4-.7 -1.4-.6 -1.5-.7 -1.4-.6 -1.4-.6 -1.4-.6 -1.4-.5 -1.4-.6 -1.4-.5 -1.4-.5 -1.4-.5M420.5 222.2l1.6-1 1.7-1 1.6-1 1.7-1 1.6-1.1 1.7-1 1.6-1 1.7-1 1.6-1 1.6-1 1.6-1 1.7-1 1.6-1 1.6-1.1 1.6-1 1.6-1 1.6-1 1.6-1 1.7-1 1.6-1.1 1.6-1 1.6-1 1.6-1 1.5-1 1.6-1.1 1.6-1 1.6-1 1.6-1 1.6-1.1 1.6-1 1.5-1 1.6-1 1.6-1.1 1.5-1 1.6-1 1.6-1.1 1.5-1 1.6-1 1.6-1.1 1.5-1 1.6-1 1.5-1.1 1.6-1 1.5-1 1.6-1.1 1.5-1 1.5-1.1 1.6-1 1.5-1 1.6-1.1 1.5-1 1.5-1.1 1.5-1 1.6-1.1 1.5-1 1.5-1.1 1.5-1 1.6-1.1 1.5-1.1 1.5-1 1.5-1.1 1.5-1 1.5-1.1 1.5-1.1 1.5-1 1.5-1.1 1.6-1 1.5-1.1 1.5-1.1 1.5-1.1 1.4-1 1.5-1.1 1.5-1.1 1.5-1 1.5-1.1 1.5-1.1 1.5-1.1 1.5-1.1 1.5-1.1 1.4-1 1.5-1.1 1.5-1.1 1.5-1.1 1.5-1.1 1.4-1.1 1.5-1.1 1.5-1.1 1.5-1.1 1.4-1.1 1.5-1.1 1.5-1.1 1.4-1.1 1.5-1.1 1.5-1.1 1.4-1.1 1.5-1.1 1.4-1.1 1.5-1.1 1.4-1.1 1.5-1.2M621 254.7l-1.4-1.9 -1.4-2 -1.5-1.9 -1.4-1.9 -1.4-1.9 -1.4-1.9 -1.4-1.9 -1.5-1.9 -1.4-1.8 -1.5-1.9 -1.4-1.8 -1.4-1.9 -1.5-1.8 -1.5-1.8 -1.4-1.8 -1.5-1.8 -1.4-1.7 -1.5-1.8 -1.5-1.7 -1.5-1.7 -1.4-1.8 -1.5-1.7 -1.5-1.7 -1.5-1.6 -1.5-1.7 -1.5-1.7 -1.4-1.6 -1.5-1.6 -1.5-1.6 -1.5-1.6 -1.5-1.6 -1.5-1.6 -1.5-1.6 -1.5-1.5 -1.6-1.6 -1.5-1.5 -1.5-1.5 -1.5-1.5 -1.5-1.5 -1.5-1.4 -1.5-1.5 -1.5-1.4 -1.6-1.4 -1.5-1.4 -1.5-1.4 -1.5-1.4 -1.5-1.4 -1.5-1.3 -1.5-1.4 -1.6-1.3 -1.5-1.3 -1.5-1.3 -1.5-1.3 -1.5-1.2 -1.5-1.3 -1.6-1.2 -1.5-1.2 -1.5-1.2 -1.5-1.2 -1.5-1.2 -1.5-1.1 -1.5-1.2 -1.5-1.1 -1.5-1.1 -1.6-1.1 -1.5-1.1 -1.5-1 -1.5-1.1 -1.5-1 -1.5-1 -1.4-1 -1.5-1 -1.5-.9 -1.5-1 -1.5-.9 -1.5-.9 -1.5-.9 -1.4-.9 -1.5-.8 -1.5-.9 -1.4-.8 -1.5-.8 -1.5-.8 -1.4-.8 -1.5-.7 -1.4-.8 -1.5-.7 -1.4-.7 -1.5-.7 -1.4-.7 -1.4-.6 -1.5-.7 -1.4-.6 -1.4-.6 -1.4-.5 -1.4-.6 -1.4-.5 -1.4-.6 -1.4-.5 -1.4-.5M419 220.9l1.6-1 1.7-1 1.6-1 1.7-1 1.6-1 1.7-1 1.6-1 1.6-1 1.7-1 1.6-1.1 1.6-1 1.7-1 1.6-1 1.6-1 1.6-1 1.6-1 1.6-1 1.6-1 1.6-1.1 1.6-1 1.7-1 1.5-1 1.6-1 1.6-1 1.6-1.1 1.6-1 1.6-1 1.6-1 1.6-1 1.5-1.1 1.6-1 1.6-1 1.6-1 1.5-1.1 1.6-1 1.6-1 1.5-1 1.6-1.1 1.5-1 1.6-1 1.6-1.1 1.5-1 1.6-1 1.5-1.1 1.6-1 1.5-1 1.5-1.1 1.6-1 1.5-1.1 1.5-1 1.6-1.1 1.5-1 1.5-1 1.6-1.1 1.5-1 1.5-1.1 1.5-1 1.6-1.1 1.5-1 1.5-1.1 1.5-1.1 1.5-1 1.5-1.1 1.5-1 1.5-1.1 1.5-1.1 1.5-1 1.5-1.1 1.5-1.1 1.5-1 1.5-1.1 1.5-1.1 1.5-1 1.5-1.1 1.5-1.1 1.5-1.1 1.5-1 1.5-1.1 1.5-1.1 1.4-1.1 1.5-1.1 1.5-1 1.5-1.1 1.5-1.1 1.4-1.1 1.5-1.1 1.5-1.1 1.4-1.1 1.5-1.1 1.5-1.1 1.5-1.1 1.4-1.1 1.5-1.1 1.4-1.1 1.5-1.1 1.5-1.1 1.4-1.1 1.5-1.1 1.4-1.1 1.5-1.2M622.4 253.5l-1.4-1.9 -1.4-1.9 -1.4-2 -1.4-1.9 -1.5-1.9 -1.4-1.9 -1.4-1.9 -1.4-1.9 -1.5-1.8 -1.4-1.9 -1.5-1.8 -1.4-1.8 -1.4-1.8 -1.5-1.9 -1.5-1.7 -1.4-1.8 -1.5-1.8 -1.4-1.7 -1.5-1.8 -1.5-1.7 -1.5-1.7 -1.4-1.7 -1.5-1.7 -1.5-1.7 -1.5-1.7 -1.5-1.6 -1.5-1.7 -1.5-1.6 -1.5-1.6 -1.5-1.6 -1.5-1.6 -1.5-1.5 -1.5-1.6 -1.5-1.6 -1.5-1.5 -1.5-1.5 -1.5-1.5 -1.5-1.5 -1.5-1.5 -1.5-1.4 -1.5-1.5 -1.5-1.4 -1.6-1.4 -1.5-1.5 -1.5-1.3 -1.5-1.4 -1.5-1.4 -1.5-1.3 -1.6-1.4 -1.5-1.3 -1.5-1.3 -1.5-1.3 -1.5-1.3 -1.5-1.2 -1.5-1.3 -1.6-1.2 -1.5-1.2 -1.5-1.2 -1.5-1.2 -1.5-1.1 -1.5-1.2 -1.5-1.1 -1.5-1.2 -1.5-1.1 -1.5-1 -1.6-1.1 -1.5-1.1 -1.5-1 -1.5-1 -1.4-1 -1.5-1 -1.5-1 -1.5-1 -1.5-.9 -1.5-.9 -1.5-.9 -1.5-.9 -1.4-.9 -1.5-.9 -1.5-.8 -1.4-.8 -1.5-.8 -1.5-.8 -1.4-.8 -1.5-.8 -1.4-.7 -1.5-.7 -1.4-.7 -1.5-.7 -1.4-.7 -1.4-.6 -1.5-.6 -1.4-.7 -1.4-.6 -1.4-.5 -1.4-.6 -1.5-.5 -1.4-.5 -1.4-.5 -1.3-.5M417.5 219.6l1.6-1 1.7-1 1.6-1 1.7-1 1.6-1 1.7-1 1.6-1 1.6-1 1.7-1 1.6-1 1.6-1 1.6-1 1.7-1 1.6-1 1.6-1 1.6-1 1.6-1 1.6-1 1.6-1.1 1.6-1 1.6-1 1.6-1 1.6-1 1.6-1 1.6-1 1.6-1 1.6-1.1 1.6-1 1.6-1 1.5-1 1.6-1 1.6-1.1 1.6-1 1.5-1 1.6-1 1.6-1.1 1.5-1 1.6-1 1.5-1 1.6-1.1 1.6-1 1.5-1 1.6-1.1 1.5-1 1.5-1 1.6-1.1 1.5-1 1.6-1 1.5-1.1 1.5-1 1.6-1.1 1.5-1 1.5-1 1.6-1.1 1.5-1 1.5-1.1 1.5-1 1.6-1.1 1.5-1 1.5-1.1 1.5-1 1.5-1.1 1.5-1 1.5-1.1 1.5-1.1 1.5-1 1.5-1.1 1.5-1 1.5-1.1 1.5-1.1 1.5-1 1.5-1.1 1.5-1.1 1.5-1 1.5-1.1 1.5-1.1 1.5-1.1 1.5-1 1.5-1.1 1.4-1.1 1.5-1.1 1.5-1.1 1.5-1 1.5-1.1 1.4-1.1 1.5-1.1 1.5-1.1 1.4-1.1 1.5-1.1 1.5-1.1 1.5-1.1 1.4-1.1 1.5-1.1 1.4-1.1 1.5-1.1 1.5-1.1 1.4-1.1 1.5-1.1 1.4-1.1 1.5-1.1M623.8 252.4l-1.4-2 -1.4-1.9 -1.4-2 -1.4-1.9 -1.4-1.9 -1.4-1.9 -1.5-1.9 -1.4-1.8 -1.4-1.9 -1.5-1.8 -1.4-1.9 -1.5-1.8 -1.4-1.8 -1.5-1.8 -1.4-1.8 -1.5-1.8 -1.4-1.8 -1.5-1.7 -1.5-1.7 -1.4-1.8 -1.5-1.7 -1.5-1.7 -1.5-1.7 -1.4-1.7 -1.5-1.6 -1.5-1.7 -1.5-1.6 -1.5-1.6 -1.5-1.6 -1.5-1.6 -1.5-1.6 -1.5-1.6 -1.5-1.5 -1.5-1.6 -1.5-1.5 -1.5-1.5 -1.5-1.5 -1.5-1.5 -1.5-1.5 -1.5-1.5 -1.5-1.4 -1.6-1.4 -1.5-1.5 -1.5-1.4 -1.5-1.4 -1.5-1.3 -1.5-1.4 -1.5-1.3 -1.6-1.4 -1.5-1.3 -1.5-1.3 -1.5-1.3 -1.5-1.3 -1.5-1.2 -1.5-1.2 -1.6-1.3 -1.5-1.2 -1.5-1.2 -1.5-1.2 -1.5-1.1 -1.5-1.2 -1.5-1.1 -1.5-1.1 -1.5-1.1 -1.5-1.1 -1.6-1.1 -1.5-1 -1.5-1.1 -1.4-1 -1.5-1 -1.5-1 -1.5-1 -1.5-.9 -1.5-1 -1.5-.9 -1.5-.9 -1.5-.9 -1.4-.8 -1.5-.9 -1.5-.8 -1.5-.9 -1.4-.8 -1.5-.8 -1.4-.7 -1.5-.8 -1.4-.7 -1.5-.7 -1.4-.7 -1.5-.7 -1.4-.7 -1.5-.6 -1.4-.6 -1.4-.7 -1.4-.5 -1.4-.6 -1.5-.6 -1.4-.5 -1.4-.5 -1.4-.5 -1.4-.5M416 218.4l1.6-1 1.7-1 1.6-1 1.7-1 1.6-1 1.7-1 1.6-1 1.6-1 1.7-1 1.6-1 1.6-1 1.6-1 1.7-1 1.6-1 1.6-1 1.6-1 1.6-1 1.6-1 1.6-1 1.6-1 1.6-1.1 1.6-1 1.6-1 1.6-1 1.6-1 1.6-1 1.6-1 1.6-1 1.6-1.1 1.5-1 1.6-1 1.6-1 1.6-1 1.5-1 1.6-1.1 1.6-1 1.5-1 1.6-1 1.5-1.1 1.6-1 1.6-1 1.5-1 1.6-1.1 1.5-1 1.5-1 1.6-1.1 1.5-1 1.6-1 1.5-1.1 1.5-1 1.6-1 1.5-1.1 1.5-1 1.6-1.1 1.5-1 1.5-1 1.5-1.1 1.6-1 1.5-1.1 1.5-1 1.5-1.1 1.5-1 1.5-1.1 1.5-1 1.5-1.1 1.5-1.1 1.5-1 1.5-1.1 1.5-1 1.5-1.1 1.5-1.1 1.5-1 1.5-1.1 1.5-1.1 1.5-1 1.5-1.1 1.5-1.1 1.5-1.1 1.5-1 1.4-1.1 1.5-1.1 1.5-1.1 1.5-1 1.5-1.1 1.4-1.1 1.5-1.1 1.5-1.1 1.4-1.1 1.5-1.1 1.5-1.1 1.5-1.1 1.4-1.1 1.5-1.1 1.4-1.1 1.5-1.1 1.5-1.1 1.4-1.1 1.5-1.1 1.4-1.1 1.5-1.1M625.2 251.2l-1.4-2 -1.4-1.9 -1.4-1.9 -1.4-2 -1.4-1.9 -1.4-1.9 -1.4-1.8 -1.5-1.9 -1.4-1.9 -1.4-1.8 -1.5-1.9 -1.4-1.8 -1.5-1.8 -1.4-1.8 -1.5-1.8 -1.4-1.8 -1.5-1.7 -1.4-1.8 -1.5-1.7 -1.5-1.7 -1.4-1.7 -1.5-1.7 -1.5-1.7 -1.5-1.7 -1.5-1.7 -1.4-1.6 -1.5-1.7 -1.5-1.6 -1.5-1.6 -1.5-1.6 -1.5-1.6 -1.5-1.5 -1.5-1.6 -1.5-1.5 -1.5-1.6 -1.5-1.5 -1.5-1.5 -1.5-1.5 -1.5-1.4 -1.5-1.5 -1.6-1.4 -1.5-1.5 -1.5-1.4 -1.5-1.4 -1.5-1.4 -1.5-1.4 -1.5-1.3 -1.5-1.4 -1.6-1.3 -1.5-1.3 -1.5-1.3 -1.5-1.3 -1.5-1.2 -1.5-1.3 -1.6-1.2 -1.5-1.3 -1.5-1.2 -1.5-1.2 -1.5-1.1 -1.5-1.2 -1.5-1.2 -1.5-1.1 -1.5-1.1 -1.5-1.1 -1.5-1.1 -1.6-1.1 -1.5-1 -1.5-1 -1.4-1.1 -1.5-1 -1.5-.9 -1.5-1 -1.5-1 -1.5-.9 -1.5-.9 -1.5-.9 -1.5-.9 -1.4-.9 -1.5-.8 -1.5-.9 -1.5-.8 -1.4-.8 -1.5-.8 -1.4-.7 -1.5-.8 -1.5-.7 -1.4-.7 -1.4-.7 -1.5-.7 -1.4-.7 -1.5-.6 -1.4-.6 -1.4-.6 -1.4-.6 -1.5-.6 -1.4-.6 -1.4-.5 -1.4-.5 -1.4-.5 -1.4-.5M414.5 217.1l1.6-1 1.7-.9 1.6-1 1.7-1 1.6-1 1.7-1 1.6-1 1.6-1 1.7-1 1.6-1 1.6-1 1.6-1 1.7-1 1.6-1 1.6-1 1.6-1 1.6-1 1.6-1 1.6-1 1.6-1 1.6-1 1.6-1 1.6-1 1.6-1 1.6-1 1.6-1.1 1.6-1 1.6-1 1.6-1 1.5-1 1.6-1 1.6-1 1.6-1 1.5-1.1 1.6-1 1.6-1 1.5-1 1.6-1 1.5-1.1 1.6-1 1.6-1 1.5-1 1.6-1.1 1.5-1 1.6-1 1.5-1 1.5-1.1 1.6-1 1.5-1 1.5-1.1 1.6-1 1.5-1 1.5-1.1 1.6-1 1.5-1.1 1.5-1 1.5-1 1.6-1.1 1.5-1 1.5-1.1 1.5-1 1.5-1.1 1.5-1 1.5-1.1 1.5-1 1.5-1.1 1.5-1 1.6-1.1 1.5-1.1 1.4-1 1.5-1.1 1.5-1 1.5-1.1 1.5-1.1 1.5-1 1.5-1.1 1.5-1.1 1.5-1.1 1.5-1 1.4-1.1 1.5-1.1 1.5-1.1 1.5-1 1.5-1.1 1.4-1.1 1.5-1.1 1.5-1.1 1.4-1.1 1.5-1 1.5-1.1 1.5-1.1 1.4-1.1 1.5-1.1 1.4-1.1 1.5-1.1 1.5-1.1 1.4-1.1 1.5-1.1 1.4-1.1 1.5-1.1M626.6 250l-1.4-2 -1.4-1.9 -1.4-1.9 -1.4-1.9 -1.4-1.9 -1.4-1.9 -1.4-1.9 -1.4-1.9 -1.5-1.9 -1.4-1.8 -1.4-1.8 -1.5-1.9 -1.4-1.8 -1.5-1.8 -1.4-1.8 -1.5-1.7 -1.4-1.8 -1.5-1.7 -1.5-1.8 -1.4-1.7 -1.5-1.7 -1.5-1.7 -1.4-1.7 -1.5-1.7 -1.5-1.6 -1.5-1.7 -1.5-1.6 -1.5-1.6 -1.4-1.6 -1.5-1.6 -1.5-1.6 -1.5-1.6 -1.5-1.5 -1.5-1.6 -1.5-1.5 -1.5-1.5 -1.5-1.5 -1.5-1.5 -1.6-1.5 -1.5-1.4 -1.5-1.5 -1.5-1.4 -1.5-1.4 -1.5-1.4 -1.5-1.4 -1.5-1.4 -1.5-1.3 -1.6-1.4 -1.5-1.3 -1.5-1.3 -1.5-1.3 -1.5-1.3 -1.5-1.2 -1.5-1.3 -1.6-1.2 -1.5-1.3 -1.5-1.2 -1.5-1.2 -1.5-1.1 -1.5-1.2 -1.5-1.1 -1.5-1.2 -1.5-1.1 -1.5-1.1 -1.5-1.1 -1.6-1 -1.5-1.1 -1.5-1 -1.5-1 -1.4-1 -1.5-1 -1.5-1 -1.5-.9 -1.5-1 -1.5-.9 -1.5-.9 -1.5-.9 -1.4-.8 -1.5-.9 -1.5-.8 -1.5-.8 -1.4-.8 -1.5-.8 -1.5-.8 -1.4-.7 -1.5-.7 -1.4-.7 -1.5-.7 -1.4-.7 -1.4-.7 -1.5-.6 -1.4-.6 -1.4-.6 -1.5-.6 -1.4-.6 -1.4-.5 -1.4-.6 -1.4-.5 -1.4-.5 -1.4-.5M413 215.9l1.6-1 1.7-1 1.6-.9 1.7-1 1.6-1 1.7-1 1.6-1 1.6-1 1.7-1 1.6-1 1.6-1 1.7-1 1.6-1 1.6-1 1.6-1 1.6-1 1.6-1 1.6-1 1.6-1 1.7-1 1.6-1 1.6-1 1.5-1 1.6-1 1.6-1 1.6-1 1.6-1 1.6-1 1.6-1 1.5-1 1.6-1 1.6-1 1.6-1.1 1.5-1 1.6-1 1.6-1 1.5-1 1.6-1 1.6-1 1.5-1.1 1.6-1 1.5-1 1.6-1 1.5-1.1 1.6-1 1.5-1 1.5-1 1.6-1.1 1.5-1 1.6-1 1.5-1.1 1.5-1 1.5-1 1.6-1.1 1.5-1 1.5-1 1.5-1.1 1.6-1 1.5-1.1 1.5-1 1.5-1.1 1.5-1 1.5-1 1.5-1.1 1.5-1 1.5-1.1 1.6-1 1.5-1.1 1.5-1.1 1.5-1 1.4-1.1 1.5-1 1.5-1.1 1.5-1.1 1.5-1 1.5-1.1 1.5-1.1 1.5-1 1.5-1.1 1.4-1.1 1.5-1 1.5-1.1 1.5-1.1 1.5-1.1 1.4-1.1 1.5-1 1.5-1.1 1.5-1.1 1.4-1.1 1.5-1.1 1.5-1.1 1.4-1.1 1.5-1.1 1.4-1.1 1.5-1.1 1.5-1.1 1.4-1.1 1.5-1.1 1.4-1.1 1.5-1.1M628 248.8l-1.3-1.9 -1.4-2 -1.4-1.9 -1.4-1.9 -1.5-1.9 -1.4-1.9 -1.4-1.9 -1.4-1.9 -1.4-1.8 -1.5-1.9 -1.4-1.8 -1.4-1.8 -1.5-1.8 -1.4-1.8 -1.5-1.8 -1.4-1.8 -1.5-1.8 -1.4-1.7 -1.5-1.7 -1.5-1.8 -1.4-1.7 -1.5-1.7 -1.5-1.7 -1.5-1.6 -1.4-1.7 -1.5-1.6 -1.5-1.7 -1.5-1.6 -1.5-1.6 -1.5-1.6 -1.5-1.6 -1.5-1.5 -1.5-1.6 -1.5-1.5 -1.5-1.5 -1.5-1.5 -1.5-1.5 -1.5-1.5 -1.5-1.5 -1.5-1.5 -1.5-1.4 -1.5-1.4 -1.5-1.4 -1.5-1.4 -1.5-1.4 -1.5-1.4 -1.6-1.3 -1.5-1.4 -1.5-1.3 -1.5-1.3 -1.5-1.3 -1.5-1.3 -1.5-1.3 -1.5-1.2 -1.6-1.2 -1.5-1.3 -1.5-1.2 -1.5-1.1 -1.5-1.2 -1.5-1.2 -1.5-1.1 -1.5-1.1 -1.5-1.2 -1.5-1 -1.6-1.1 -1.5-1.1 -1.5-1 -1.5-1.1 -1.5-1 -1.5-1 -1.4-1 -1.5-.9 -1.5-1 -1.5-.9 -1.5-.9 -1.5-.9 -1.5-.9 -1.4-.9 -1.5-.8 -1.5-.8 -1.5-.8 -1.4-.8 -1.5-.8 -1.5-.8 -1.4-.7 -1.5-.8 -1.4-.7 -1.5-.7 -1.4-.6 -1.5-.7 -1.4-.6 -1.4-.6 -1.5-.6 -1.4-.6 -1.4-.6 -1.4-.5 -1.4-.6 -1.4-.5 -1.4-.5 -1.4-.4M411.5 214.7l1.6-1 1.7-1 1.6-.9 1.7-1 1.6-1 1.7-1 1.6-1 1.6-1 1.7-1 1.6-1 1.6-.9 1.7-1 1.6-1 1.6-1 1.6-1 1.6-1 1.6-1 1.7-1 1.6-1 1.6-1 1.6-1 1.6-1 1.6-1 1.5-1 1.6-1 1.6-1 1.6-1 1.6-1 1.6-1 1.6-1 1.5-1 1.6-1 1.6-1 1.5-1.1 1.6-1 1.6-1 1.5-1 1.6-1 1.6-1 1.5-1 1.6-1.1 1.5-1 1.6-1 1.5-1 1.6-1 1.5-1.1 1.5-1 1.6-1 1.5-1 1.6-1.1 1.5-1 1.5-1 1.6-1.1 1.5-1 1.5-1 1.5-1.1 1.5-1 1.6-1 1.5-1.1 1.5-1 1.5-1.1 1.5-1 1.5-1 1.5-1.1 1.6-1 1.5-1.1 1.5-1 1.5-1.1 1.5-1 1.5-1.1 1.5-1.1 1.4-1 1.5-1.1 1.5-1 1.5-1.1 1.5-1.1 1.5-1 1.5-1.1 1.5-1.1 1.4-1 1.5-1.1 1.5-1.1 1.5-1.1 1.5-1 1.4-1.1 1.5-1.1 1.5-1.1 1.5-1.1 1.4-1 1.5-1.1 1.5-1.1 1.4-1.1 1.5-1.1 1.4-1.1 1.5-1.1 1.5-1.1 1.4-1.1 1.5-1.1 1.4-1.1 1.5-1.1M629.5 247.6l-1.4-1.9 -1.4-2 -1.4-1.9 -1.4-1.9 -1.4-1.9 -1.4-1.9 -1.5-1.9 -1.4-1.9 -1.4-1.8 -1.4-1.9 -1.5-1.8 -1.4-1.8 -1.4-1.8 -1.5-1.8 -1.4-1.8 -1.5-1.8 -1.4-1.7 -1.5-1.8 -1.4-1.7 -1.5-1.7 -1.5-1.7 -1.4-1.7 -1.5-1.7 -1.5-1.7 -1.5-1.6 -1.5-1.7 -1.4-1.6 -1.5-1.6 -1.5-1.6 -1.5-1.6 -1.5-1.6 -1.5-1.6 -1.5-1.5 -1.5-1.6 -1.5-1.5 -1.5-1.5 -1.5-1.5 -1.5-1.5 -1.5-1.4 -1.5-1.5 -1.5-1.4 -1.5-1.4 -1.5-1.5 -1.5-1.4 -1.5-1.3 -1.6-1.4 -1.5-1.4 -1.5-1.3 -1.5-1.3 -1.5-1.3 -1.5-1.3 -1.5-1.3 -1.5-1.3 -1.6-1.2 -1.5-1.2 -1.5-1.2 -1.5-1.3 -1.5-1.1 -1.5-1.2 -1.5-1.2 -1.5-1.1 -1.5-1.1 -1.5-1.1 -1.6-1.1 -1.5-1.1 -1.5-1.1 -1.5-1 -1.5-1 -1.5-1 -1.5-1 -1.5-1 -1.4-1 -1.5-.9 -1.5-1 -1.5-.9 -1.5-.9 -1.5-.8 -1.5-.9 -1.4-.8 -1.5-.9 -1.5-.8 -1.4-.8 -1.5-.7 -1.5-.8 -1.4-.7 -1.5-.8 -1.4-.7 -1.5-.7 -1.4-.6 -1.5-.7 -1.4-.6 -1.4-.6 -1.5-.6 -1.4-.6 -1.4-.6 -1.4-.5 -1.4-.6 -1.5-.5 -1.4-.4 -1.4-.5M410 213.5l1.7-1 1.6-.9 1.7-1 1.6-1 1.7-1 1.6-1 1.6-1 1.7-.9 1.6-1 1.6-1 1.7-1 1.6-1 1.6-1 1.6-1 1.6-.9 1.6-1 1.7-1 1.6-1 1.6-1 1.6-1 1.6-1 1.6-1 1.6-1 1.6-1 1.6-1 1.5-1 1.6-1 1.6-1 1.6-1 1.6-1 1.5-1 1.6-1 1.6-1 1.6-1 1.5-1 1.6-1 1.6-1.1 1.5-1 1.6-1 1.5-1 1.6-1 1.5-1 1.6-1 1.5-1.1 1.6-1 1.5-1 1.6-1 1.5-1 1.5-1.1 1.6-1 1.5-1 1.5-1 1.6-1.1 1.5-1 1.5-1 1.5-1.1 1.6-1 1.5-1 1.5-1.1 1.5-1 1.5-1 1.5-1.1 1.5-1 1.6-1.1 1.5-1 1.5-1.1 1.5-1 1.5-1.1 1.5-1 1.5-1.1 1.5-1 1.5-1.1 1.4-1 1.5-1.1 1.5-1.1 1.5-1 1.5-1.1 1.5-1 1.5-1.1 1.5-1.1 1.4-1 1.5-1.1 1.5-1.1 1.5-1.1 1.4-1 1.5-1.1 1.5-1.1 1.5-1.1 1.4-1.1 1.5-1 1.5-1.1 1.4-1.1 1.5-1.1 1.5-1.1 1.4-1.1 1.5-1.1 1.4-1.1 1.5-1.1 1.4-1.1 1.5-1.1M630.9 246.4l-1.4-1.9 -1.4-2 -1.4-1.9 -1.4-1.9 -1.4-1.9 -1.4-1.9 -1.4-1.9 -1.4-1.8 -1.5-1.9 -1.4-1.8 -1.4-1.9 -1.5-1.8 -1.4-1.8 -1.4-1.8 -1.5-1.8 -1.4-1.7 -1.5-1.8 -1.4-1.7 -1.5-1.8 -1.5-1.7 -1.4-1.7 -1.5-1.7 -1.5-1.7 -1.4-1.6 -1.5-1.7 -1.5-1.6 -1.5-1.7 -1.5-1.6 -1.4-1.6 -1.5-1.6 -1.5-1.6 -1.5-1.5 -1.5-1.6 -1.5-1.5 -1.5-1.5 -1.5-1.5 -1.5-1.5 -1.5-1.5 -1.5-1.5 -1.5-1.4 -1.5-1.5 -1.5-1.4 -1.5-1.4 -1.5-1.4 -1.6-1.4 -1.5-1.3 -1.5-1.4 -1.5-1.3 -1.5-1.3 -1.5-1.3 -1.5-1.3 -1.5-1.3 -1.6-1.3 -1.5-1.2 -1.5-1.2 -1.5-1.2 -1.5-1.2 -1.5-1.2 -1.5-1.2 -1.5-1.1 -1.5-1.2 -1.5-1.1 -1.6-1.1 -1.5-1.1 -1.5-1.1 -1.5-1 -1.5-1.1 -1.5-1 -1.5-1 -1.5-1 -1.5-1 -1.5-.9 -1.4-1 -1.5-.9 -1.5-.9 -1.5-.9 -1.5-.9 -1.5-.8 -1.4-.9 -1.5-.8 -1.5-.8 -1.5-.8 -1.4-.8 -1.5-.7 -1.4-.8 -1.5-.7 -1.4-.7 -1.5-.7 -1.4-.6 -1.5-.7 -1.4-.6 -1.5-.6 -1.4-.6 -1.4-.6 -1.4-.6 -1.5-.5 -1.4-.5 -1.4-.5 -1.4-.5 -1.4-.5M408.5 212.3l1.7-.9 1.6-1 1.7-1 1.6-1 1.7-.9 1.6-1 1.6-1 1.7-1 1.6-1 1.6-.9 1.7-1 1.6-1 1.6-1 1.6-1 1.7-1 1.6-1 1.6-.9 1.6-1 1.6-1 1.6-1 1.6-1 1.6-1 1.6-1 1.6-1 1.6-1 1.6-1 1.5-1 1.6-1 1.6-1 1.6-1 1.6-1 1.5-1 1.6-1 1.6-1 1.5-1 1.6-1 1.6-1 1.5-1 1.6-1 1.5-1 1.6-1 1.5-1 1.6-1.1 1.5-1 1.6-1 1.5-1 1.6-1 1.5-1.1 1.5-1 1.6-1 1.5-1 1.5-1 1.6-1.1 1.5-1 1.5-1 1.5-1.1 1.6-1 1.5-1 1.5-1.1 1.5-1 1.5-1 1.5-1.1 1.6-1 1.5-1 1.5-1.1 1.5-1 1.5-1.1 1.5-1 1.5-1.1 1.5-1 1.5-1.1 1.5-1 1.5-1.1 1.4-1 1.5-1.1 1.5-1 1.5-1.1 1.5-1.1 1.5-1 1.5-1.1 1.4-1.1 1.5-1 1.5-1.1 1.5-1.1 1.4-1 1.5-1.1 1.5-1.1 1.5-1.1 1.4-1.1 1.5-1 1.5-1.1 1.4-1.1 1.5-1.1 1.5-1.1 1.4-1.1 1.5-1.1 1.4-1.1 1.5-1.1 1.5-1.1 1.4-1.1M632.3 245.2l-1.4-1.9 -1.4-1.9 -1.4-2 -1.4-1.9 -1.4-1.9 -1.4-1.9 -1.4-1.8 -1.4-1.9 -1.4-1.9 -1.5-1.8 -1.4-1.8 -1.4-1.9 -1.5-1.8 -1.4-1.8 -1.4-1.7 -1.5-1.8 -1.4-1.8 -1.5-1.7 -1.4-1.7 -1.5-1.8 -1.5-1.7 -1.4-1.7 -1.5-1.6 -1.5-1.7 -1.5-1.7 -1.4-1.6 -1.5-1.6 -1.5-1.6 -1.5-1.6 -1.5-1.6 -1.5-1.6 -1.4-1.6 -1.5-1.5 -1.5-1.5 -1.5-1.6 -1.5-1.5 -1.5-1.5 -1.5-1.4 -1.5-1.5 -1.5-1.4 -1.5-1.5 -1.6-1.4 -1.5-1.4 -1.5-1.4 -1.5-1.4 -1.5-1.3 -1.5-1.4 -1.5-1.3 -1.5-1.3 -1.5-1.3 -1.5-1.3 -1.6-1.3 -1.5-1.3 -1.5-1.2 -1.5-1.2 -1.5-1.2 -1.5-1.2 -1.5-1.2 -1.5-1.2 -1.5-1.1 -1.5-1.2 -1.6-1.1 -1.5-1.1 -1.5-1.1 -1.5-1 -1.5-1.1 -1.5-1 -1.5-1.1 -1.5-1 -1.5-1 -1.5-.9 -1.5-1 -1.5-.9 -1.4-1 -1.5-.9 -1.5-.9 -1.5-.8 -1.5-.9 -1.5-.8 -1.4-.8 -1.5-.8 -1.5-.8 -1.4-.8 -1.5-.8 -1.5-.7 -1.4-.7 -1.5-.7 -1.4-.7 -1.5-.7 -1.4-.6 -1.4-.6 -1.5-.6 -1.4-.6 -1.4-.6 -1.5-.6 -1.4-.5 -1.4-.5 -1.4-.5 -1.4-.5 -1.4-.5M407.1 211.2l1.6-1 1.7-1 1.6-.9 1.7-1 1.6-1 1.6-1 1.7-.9 1.6-1 1.6-1 1.7-1 1.6-.9 1.6-1 1.6-1 1.7-1 1.6-1 1.6-1 1.6-.9 1.6-1 1.6-1 1.6-1 1.6-1 1.6-1 1.6-1 1.6-1 1.6-.9 1.6-1 1.6-1 1.5-1 1.6-1 1.6-1 1.6-1 1.6-1 1.5-1 1.6-1 1.6-1 1.5-1 1.6-1 1.6-1 1.5-1 1.6-1 1.5-1.1 1.6-1 1.5-1 1.6-1 1.5-1 1.6-1 1.5-1 1.5-1 1.6-1.1 1.5-1 1.5-1 1.6-1 1.5-1 1.5-1.1 1.5-1 1.6-1 1.5-1.1 1.5-1 1.5-1 1.5-1 1.5-1.1 1.6-1 1.5-1.1 1.5-1 1.5-1 1.5-1.1 1.5-1 1.5-1.1 1.5-1 1.5-1.1 1.5-1 1.5-1.1 1.5-1 1.5-1.1 1.4-1 1.5-1.1 1.5-1 1.5-1.1 1.5-1 1.5-1.1 1.5-1.1 1.4-1 1.5-1.1 1.5-1.1 1.5-1 1.4-1.1 1.5-1.1 1.5-1.1 1.4-1 1.5-1.1 1.5-1.1 1.4-1.1 1.5-1.1 1.5-1.1 1.4-1.1 1.5-1 1.4-1.1 1.5-1.1 1.5-1.1 1.4-1.1M633.7 244.1l-1.4-2 -1.4-1.9 -1.4-2 -1.4-1.9 -1.4-1.9 -1.4-1.9 -1.4-1.8 -1.4-1.9 -1.4-1.9 -1.4-1.8 -1.5-1.8 -1.4-1.8 -1.4-1.8 -1.5-1.8 -1.4-1.8 -1.4-1.8 -1.5-1.7 -1.4-1.8 -1.5-1.7 -1.5-1.7 -1.4-1.7 -1.5-1.7 -1.5-1.7 -1.4-1.7 -1.5-1.6 -1.5-1.7 -1.5-1.6 -1.4-1.6 -1.5-1.6 -1.5-1.6 -1.5-1.6 -1.5-1.5 -1.5-1.6 -1.5-1.5 -1.5-1.5 -1.5-1.5 -1.5-1.5 -1.5-1.5 -1.5-1.4 -1.5-1.5 -1.5-1.4 -1.5-1.4 -1.5-1.4 -1.5-1.4 -1.5-1.4 -1.5-1.4 -1.5-1.3 -1.5-1.3 -1.5-1.4 -1.5-1.3 -1.6-1.2 -1.5-1.3 -1.5-1.3 -1.5-1.2 -1.5-1.2 -1.5-1.2 -1.5-1.2 -1.5-1.2 -1.5-1.2 -1.6-1.1 -1.5-1.2 -1.5-1.1 -1.5-1.1 -1.5-1.1 -1.5-1 -1.5-1.1 -1.5-1 -1.5-1 -1.5-1 -1.5-1 -1.5-1 -1.5-1 -1.5-.9 -1.5-.9 -1.4-.9 -1.5-.9 -1.5-.9 -1.5-.8 -1.5-.9 -1.4-.8 -1.5-.8 -1.5-.8 -1.4-.7 -1.5-.8 -1.5-.7 -1.4-.7 -1.5-.7 -1.4-.7 -1.5-.7 -1.4-.6 -1.5-.6 -1.4-.7 -1.4-.5 -1.5-.6 -1.4-.6 -1.4-.5 -1.4-.5 -1.4-.5 -1.4-.5 -1.4-.5M405.6 210l1.6-.9 1.7-1 1.6-1 1.7-.9 1.6-1 1.7-1 1.6-.9 1.6-1 1.7-1 1.6-1 1.6-.9 1.6-1 1.7-1 1.6-1 1.6-1 1.6-.9 1.6-1 1.6-1 1.6-1 1.6-1 1.6-1 1.6-.9 1.6-1 1.6-1 1.6-1 1.6-1 1.6-1 1.6-1 1.6-1 1.5-1 1.6-.9 1.6-1 1.6-1 1.5-1 1.6-1 1.6-1 1.5-1 1.6-1 1.5-1 1.6-1 1.5-1.1 1.6-1 1.5-1 1.6-1 1.5-1 1.6-1 1.5-1 1.5-1 1.6-1 1.5-1.1 1.6-1 1.5-1 1.5-1 1.5-1 1.6-1.1 1.5-1 1.5-1 1.5-1 1.5-1.1 1.6-1 1.5-1 1.5-1.1 1.5-1 1.5-1 1.5-1.1 1.5-1 1.5-1 1.5-1.1 1.5-1 1.5-1.1 1.5-1 1.5-1.1 1.5-1 1.5-1.1 1.5-1 1.4-1.1 1.5-1 1.5-1.1 1.5-1 1.5-1.1 1.5-1.1 1.4-1 1.5-1.1 1.5-1.1 1.5-1 1.4-1.1 1.5-1.1 1.5-1 1.4-1.1 1.5-1.1 1.5-1.1 1.4-1.1 1.5-1 1.5-1.1 1.4-1.1 1.5-1.1 1.4-1.1 1.5-1.1 1.5-1.1 1.4-1.1M635.1 242.9l-1.4-2 -1.4-1.9 -1.4-1.9 -1.4-2 -1.4-1.9 -1.4-1.8 -1.4-1.9 -1.4-1.9 -1.4-1.8 -1.4-1.9 -1.4-1.8 -1.5-1.8 -1.4-1.8 -1.4-1.8 -1.5-1.8 -1.4-1.8 -1.5-1.7 -1.4-1.8 -1.5-1.7 -1.4-1.7 -1.5-1.7 -1.4-1.7 -1.5-1.7 -1.5-1.6 -1.4-1.7 -1.5-1.6 -1.5-1.6 -1.5-1.7 -1.5-1.5 -1.4-1.6 -1.5-1.6 -1.5-1.6 -1.5-1.5 -1.5-1.5 -1.5-1.5 -1.5-1.5 -1.5-1.5 -1.5-1.5 -1.5-1.5 -1.5-1.4 -1.5-1.4 -1.5-1.5 -1.5-1.4 -1.5-1.4 -1.5-1.3 -1.5-1.4 -1.5-1.3 -1.5-1.4 -1.6-1.3 -1.5-1.3 -1.5-1.3 -1.5-1.2 -1.5-1.3 -1.5-1.2 -1.5-1.2 -1.5-1.2 -1.5-1.2 -1.5-1.2 -1.6-1.2 -1.5-1.1 -1.5-1.1 -1.5-1.2 -1.5-1.1 -1.5-1 -1.5-1.1 -1.5-1.1 -1.5-1 -1.5-1 -1.5-1 -1.5-1 -1.5-1 -1.5-.9 -1.5-.9 -1.5-1 -1.5-.9 -1.4-.9 -1.5-.8 -1.5-.9 -1.5-.8 -1.5-.8 -1.4-.8 -1.5-.8 -1.5-.8 -1.4-.7 -1.5-.7 -1.4-.8 -1.5-.7 -1.5-.6 -1.4-.7 -1.4-.6 -1.5-.7 -1.4-.6 -1.5-.6 -1.4-.5 -1.4-.6 -1.4-.5 -1.4-.5 -1.5-.5 -1.4-.5 -1.4-.5M404.1 208.9l1.7-.9 1.6-1 1.7-1 1.6-.9 1.7-1 1.6-1 1.6-.9 1.7-1 1.6-1 1.6-1 1.7-.9 1.6-1 1.6-1 1.6-1 1.6-.9 1.6-1 1.7-1 1.6-1 1.6-.9 1.6-1 1.6-1 1.6-1 1.6-1 1.6-1 1.5-.9 1.6-1 1.6-1 1.6-1 1.6-1 1.6-1 1.5-1 1.6-1 1.6-1 1.5-.9 1.6-1 1.6-1 1.5-1 1.6-1 1.6-1 1.5-1 1.6-1 1.5-1 1.6-1 1.5-1.1 1.6-1 1.5-1 1.5-1 1.6-1 1.5-1 1.5-1 1.6-1 1.5-1 1.5-1.1 1.6-1 1.5-1 1.5-1 1.5-1 1.5-1.1 1.6-1 1.5-1 1.5-1 1.5-1.1 1.5-1 1.5-1 1.5-1.1 1.5-1 1.5-1 1.5-1.1 1.5-1 1.5-1.1 1.5-1 1.5-1.1 1.5-1 1.5-1.1 1.5-1 1.5-1.1 1.4-1 1.5-1.1 1.5-1 1.5-1.1 1.5-1 1.5-1.1 1.4-1.1 1.5-1 1.5-1.1 1.5-1.1 1.4-1 1.5-1.1 1.5-1.1 1.4-1 1.5-1.1 1.5-1.1 1.4-1.1 1.5-1.1 1.4-1 1.5-1.1 1.5-1.1 1.4-1.1 1.5-1.1 1.4-1.1M636.5 241.7l-1.4-2 -1.4-1.9 -1.4-1.9 -1.3-1.9 -1.4-1.9 -1.4-1.9 -1.4-1.9 -1.4-1.9 -1.5-1.8 -1.4-1.9 -1.4-1.8 -1.4-1.8 -1.5-1.8 -1.4-1.8 -1.4-1.8 -1.5-1.7 -1.4-1.8 -1.5-1.7 -1.4-1.7 -1.5-1.8 -1.4-1.7 -1.5-1.7 -1.4-1.6 -1.5-1.7 -1.5-1.6 -1.5-1.7 -1.4-1.6 -1.5-1.6 -1.5-1.6 -1.5-1.6 -1.5-1.6 -1.4-1.5 -1.5-1.6 -1.5-1.5 -1.5-1.5 -1.5-1.5 -1.5-1.5 -1.5-1.4 -1.5-1.5 -1.5-1.4 -1.5-1.5 -1.5-1.4 -1.5-1.4 -1.5-1.4 -1.5-1.3 -1.5-1.4 -1.6-1.3 -1.5-1.4 -1.5-1.3 -1.5-1.3 -1.5-1.3 -1.5-1.2 -1.5-1.3 -1.5-1.2 -1.5-1.2 -1.5-1.2 -1.6-1.2 -1.5-1.2 -1.5-1.2 -1.5-1.1 -1.5-1.1 -1.5-1.1 -1.5-1.1 -1.5-1.1 -1.5-1.1 -1.5-1 -1.5-1.1 -1.5-1 -1.5-1 -1.5-1 -1.5-.9 -1.5-1 -1.5-.9 -1.5-.9 -1.5-.9 -1.5-.9 -1.4-.9 -1.5-.8 -1.5-.9 -1.5-.8 -1.4-.8 -1.5-.7 -1.5-.8 -1.4-.8 -1.5-.7 -1.5-.7 -1.4-.7 -1.5-.7 -1.4-.6 -1.5-.7 -1.4-.6 -1.4-.6 -1.5-.6 -1.4-.5 -1.4-.6 -1.5-.5 -1.4-.5 -1.4-.5 -1.4-.5 -1.4-.4M402.7 207.8l1.6-1 1.7-.9 1.6-1 1.7-.9 1.6-1 1.6-1 1.7-.9 1.6-1 1.6-1 1.7-.9 1.6-1 1.6-1 1.6-.9 1.7-1 1.6-1 1.6-1 1.6-.9 1.6-1 1.6-1 1.6-1 1.6-.9 1.6-1 1.6-1 1.6-1 1.6-1 1.6-.9 1.6-1 1.5-1 1.6-1 1.6-1 1.6-1 1.5-1 1.6-.9 1.6-1 1.5-1 1.6-1 1.6-1 1.5-1 1.6-1 1.5-1 1.6-1 1.5-1 1.6-1 1.5-1 1.6-1 1.5-1 1.6-1 1.5-1 1.5-1 1.6-1.1 1.5-1 1.5-1 1.6-1 1.5-1 1.5-1 1.5-1 1.5-1.1 1.6-1 1.5-1 1.5-1 1.5-1.1 1.5-1 1.5-1 1.5-1 1.5-1.1 1.5-1 1.5-1 1.5-1.1 1.5-1 1.5-1.1 1.5-1 1.5-1 1.5-1.1 1.5-1 1.5-1.1 1.5-1 1.5-1.1 1.4-1 1.5-1.1 1.5-1 1.5-1.1 1.5-1 1.4-1.1 1.5-1.1 1.5-1 1.5-1.1 1.4-1.1 1.5-1 1.5-1.1 1.4-1.1 1.5-1.1 1.5-1 1.4-1.1 1.5-1.1 1.4-1.1 1.5-1.1 1.5-1 1.4-1.1 1.5-1.1 1.4-1.1M637.9 240.5l-1.4-2 -1.4-1.9 -1.3-1.9 -1.4-1.9 -1.4-1.9 -1.4-1.9 -1.4-1.9 -1.4-1.8 -1.4-1.9 -1.5-1.8 -1.4-1.9 -1.4-1.8 -1.4-1.8 -1.5-1.8 -1.4-1.7 -1.4-1.8 -1.5-1.8 -1.4-1.7 -1.5-1.7 -1.4-1.7 -1.5-1.7 -1.4-1.7 -1.5-1.7 -1.5-1.7 -1.4-1.6 -1.5-1.6 -1.5-1.7 -1.5-1.6 -1.4-1.6 -1.5-1.5 -1.5-1.6 -1.5-1.6 -1.5-1.5 -1.5-1.5 -1.5-1.5 -1.5-1.5 -1.4-1.5 -1.5-1.5 -1.5-1.4 -1.5-1.5 -1.5-1.4 -1.5-1.4 -1.6-1.4 -1.5-1.4 -1.5-1.4 -1.5-1.3 -1.5-1.4 -1.5-1.3 -1.5-1.3 -1.5-1.3 -1.5-1.3 -1.5-1.2 -1.5-1.3 -1.5-1.2 -1.5-1.2 -1.6-1.2 -1.5-1.2 -1.5-1.2 -1.5-1.2 -1.5-1.1 -1.5-1.1 -1.5-1.1 -1.5-1.1 -1.5-1.1 -1.5-1.1 -1.5-1 -1.5-1 -1.5-1.1 -1.5-1 -1.5-.9 -1.5-1 -1.5-.9 -1.5-1 -1.5-.9 -1.5-.9 -1.5-.9 -1.5-.8 -1.4-.9 -1.5-.8 -1.5-.8 -1.5-.8 -1.4-.8 -1.5-.7 -1.5-.8 -1.4-.7 -1.5-.7 -1.4-.7 -1.5-.7 -1.4-.6 -1.5-.7 -1.4-.6 -1.5-.6 -1.4-.6 -1.4-.5 -1.5-.6 -1.4-.5 -1.4-.5 -1.4-.5 -1.4-.5 -1.4-.4M401.2 206.7l1.7-.9 1.6-1 1.7-1 1.6-.9 1.6-1 1.7-.9 1.6-1 1.6-1 1.7-.9 1.6-1 1.6-1 1.7-.9 1.6-1 1.6-1 1.6-.9 1.6-1 1.6-1 1.6-.9 1.6-1 1.6-1 1.6-1 1.6-.9 1.6-1 1.6-1 1.6-1 1.6-.9 1.6-1 1.6-1 1.6-1 1.5-1 1.6-.9 1.6-1 1.5-1 1.6-1 1.6-1 1.5-1 1.6-1 1.6-1 1.5-1 1.6-1 1.5-1 1.6-1 1.5-.9 1.6-1 1.5-1.1 1.6-1 1.5-1 1.5-1 1.6-1 1.5-1 1.5-1 1.6-1 1.5-1 1.5-1 1.5-1 1.6-1 1.5-1.1 1.5-1 1.5-1 1.5-1 1.5-1 1.5-1.1 1.6-1 1.5-1 1.5-1.1 1.5-1 1.5-1 1.5-1 1.5-1.1 1.5-1 1.5-1.1 1.4-1 1.5-1 1.5-1.1 1.5-1 1.5-1.1 1.5-1 1.5-1.1 1.4-1 1.5-1.1 1.5-1 1.5-1.1 1.5-1 1.4-1.1 1.5-1.1 1.5-1 1.4-1.1 1.5-1.1 1.5-1 1.5-1.1 1.4-1.1 1.5-1 1.4-1.1 1.5-1.1 1.5-1.1 1.4-1.1 1.5-1 1.4-1.1 1.5-1.1 1.4-1.1M639.3 239.3l-1.4-1.9 -1.4-2 -1.3-1.9 -1.4-1.9 -1.4-1.9 -1.4-1.9 -1.4-1.9 -1.4-1.8 -1.4-1.9 -1.4-1.8 -1.4-1.8 -1.5-1.9 -1.4-1.8 -1.4-1.7 -1.5-1.8 -1.4-1.8 -1.4-1.7 -1.5-1.8 -1.4-1.7 -1.5-1.7 -1.4-1.7 -1.5-1.7 -1.5-1.7 -1.4-1.6 -1.5-1.7 -1.5-1.6 -1.4-1.6 -1.5-1.6 -1.5-1.6 -1.5-1.6 -1.4-1.6 -1.5-1.5 -1.5-1.6 -1.5-1.5 -1.5-1.5 -1.5-1.5 -1.5-1.5 -1.5-1.4 -1.5-1.5 -1.5-1.4 -1.5-1.4 -1.5-1.5 -1.5-1.4 -1.5-1.3 -1.5-1.4 -1.5-1.4 -1.5-1.3 -1.5-1.3 -1.5-1.3 -1.5-1.3 -1.5-1.3 -1.5-1.3 -1.5-1.2 -1.6-1.2 -1.5-1.2 -1.5-1.2 -1.5-1.2 -1.5-1.2 -1.5-1.2 -1.5-1.1 -1.5-1.1 -1.5-1.1 -1.5-1.1 -1.5-1.1 -1.5-1.1 -1.5-1 -1.5-1 -1.5-1 -1.5-1 -1.5-1 -1.5-1 -1.5-.9 -1.5-.9 -1.5-.9 -1.5-.9 -1.5-.9 -1.5-.9 -1.5-.8 -1.4-.8 -1.5-.9 -1.5-.7 -1.5-.8 -1.4-.8 -1.5-.7 -1.5-.7 -1.4-.7 -1.5-.7 -1.4-.7 -1.5-.7 -1.4-.6 -1.5-.6 -1.4-.6 -1.4-.6 -1.5-.5 -1.4-.6 -1.4-.5 -1.4-.5 -1.5-.5 -1.4-.5 -1.4-.4M399.8 205.6l1.6-.9 1.7-1 1.6-.9 1.6-1 1.7-.9 1.6-1 1.7-1 1.6-.9 1.6-1 1.7-.9 1.6-1 1.6-1 1.6-.9 1.6-1 1.7-.9 1.6-1 1.6-1 1.6-.9 1.6-1 1.6-1 1.6-1 1.6-.9 1.6-1 1.6-1 1.6-.9 1.5-1 1.6-1 1.6-1 1.6-1 1.6-.9 1.5-1 1.6-1 1.6-1 1.6-1 1.5-.9 1.6-1 1.5-1 1.6-1 1.6-1 1.5-1 1.6-1 1.5-1 1.6-1 1.5-1 1.5-1 1.6-1 1.5-1 1.6-1 1.5-1 1.5-1 1.6-1 1.5-1 1.5-1 1.5-1 1.6-1 1.5-1 1.5-1.1 1.5-1 1.5-1 1.5-1 1.6-1 1.5-1 1.5-1.1 1.5-1 1.5-1 1.5-1 1.5-1.1 1.5-1 1.5-1 1.5-1.1 1.5-1 1.5-1 1.5-1.1 1.4-1 1.5-1.1 1.5-1 1.5-1.1 1.5-1 1.5-1 1.4-1.1 1.5-1 1.5-1.1 1.5-1.1 1.5-1 1.4-1.1 1.5-1 1.5-1.1 1.4-1.1 1.5-1 1.5-1.1 1.4-1.1 1.5-1 1.5-1.1 1.4-1.1 1.5-1.1 1.4-1 1.5-1.1 1.4-1.1 1.5-1.1 1.5-1.1M640.7 238.1l-1.4-1.9 -1.4-2 -1.3-1.9 -1.4-1.9 -1.4-1.9 -1.4-1.9 -1.4-1.9 -1.4-1.8 -1.4-1.9 -1.4-1.8 -1.4-1.8 -1.4-1.8 -1.5-1.8 -1.4-1.8 -1.4-1.8 -1.5-1.8 -1.4-1.7 -1.4-1.7 -1.5-1.8 -1.4-1.7 -1.5-1.7 -1.4-1.7 -1.5-1.6 -1.5-1.7 -1.4-1.6 -1.5-1.7 -1.5-1.6 -1.4-1.6 -1.5-1.6 -1.5-1.6 -1.5-1.5 -1.5-1.6 -1.5-1.5 -1.4-1.5 -1.5-1.5 -1.5-1.5 -1.5-1.5 -1.5-1.5 -1.5-1.4 -1.5-1.5 -1.5-1.4 -1.5-1.4 -1.5-1.4 -1.5-1.4 -1.5-1.3 -1.5-1.4 -1.5-1.3 -1.5-1.3 -1.5-1.3 -1.5-1.3 -1.6-1.3 -1.5-1.3 -1.5-1.2 -1.5-1.2 -1.5-1.3 -1.5-1.2 -1.5-1.1 -1.5-1.2 -1.5-1.2 -1.5-1.1 -1.5-1.1 -1.5-1.1 -1.5-1.1 -1.6-1.1 -1.5-1 -1.5-1.1 -1.5-1 -1.5-1 -1.5-1 -1.5-1 -1.5-.9 -1.4-1 -1.5-.9 -1.5-.9 -1.5-.9 -1.5-.9 -1.5-.8 -1.5-.9 -1.5-.8 -1.4-.8 -1.5-.8 -1.5-.8 -1.4-.7 -1.5-.8 -1.5-.7 -1.4-.7 -1.5-.7 -1.4-.6 -1.5-.7 -1.4-.6 -1.5-.6 -1.4-.6 -1.5-.6 -1.4-.6 -1.4-.5 -1.5-.5 -1.4-.5 -1.4-.5 -1.4-.5 -1.4-.4M398.3 204.6l1.7-1 1.6-.9 1.7-1 1.6-.9 1.6-1 1.7-.9 1.6-1 1.7-.9 1.6-1 1.6-1 1.6-.9 1.7-1 1.6-.9 1.6-1 1.6-.9 1.6-1 1.6-1 1.6-.9 1.6-1 1.6-1 1.6-.9 1.6-1 1.6-1 1.6-.9 1.6-1 1.6-1 1.6-1 1.6-.9 1.5-1 1.6-1 1.6-1 1.6-.9 1.5-1 1.6-1 1.6-1 1.5-1 1.6-1 1.5-.9 1.6-1 1.5-1 1.6-1 1.5-1 1.6-1 1.5-1 1.6-1 1.5-1 1.6-1 1.5-1 1.5-1 1.6-1 1.5-1 1.5-1 1.6-1 1.5-1 1.5-1 1.5-1 1.5-1 1.6-1 1.5-1 1.5-1.1 1.5-1 1.5-1 1.5-1 1.5-1 1.5-1.1 1.5-1 1.5-1 1.5-1 1.5-1.1 1.5-1 1.5-1 1.5-1.1 1.5-1 1.5-1 1.5-1.1 1.4-1 1.5-1.1 1.5-1 1.5-1.1 1.5-1 1.4-1.1 1.5-1 1.5-1.1 1.5-1 1.4-1.1 1.5-1 1.5-1.1 1.5-1 1.4-1.1 1.5-1.1 1.4-1 1.5-1.1 1.5-1.1 1.4-1.1 1.5-1 1.4-1.1 1.5-1.1 1.5-1.1 1.4-1 1.5-1.1M642.1 236.9l-1.4-1.9 -1.3-2 -1.4-1.9 -1.4-1.9 -1.4-1.9 -1.4-1.9 -1.4-1.8 -1.4-1.9 -1.4-1.8 -1.4-1.9 -1.4-1.8 -1.4-1.8 -1.4-1.8 -1.5-1.8 -1.4-1.8 -1.4-1.7 -1.5-1.8 -1.4-1.7 -1.4-1.7 -1.5-1.7 -1.4-1.7 -1.5-1.7 -1.5-1.7 -1.4-1.7 -1.5-1.6 -1.5-1.6 -1.4-1.6 -1.5-1.6 -1.5-1.6 -1.4-1.6 -1.5-1.6 -1.5-1.5 -1.5-1.6 -1.5-1.5 -1.5-1.5 -1.5-1.5 -1.4-1.5 -1.5-1.4 -1.5-1.5 -1.5-1.4 -1.5-1.4 -1.5-1.4 -1.5-1.4 -1.5-1.4 -1.5-1.4 -1.5-1.3 -1.6-1.3 -1.5-1.4 -1.5-1.3 -1.5-1.3 -1.5-1.2 -1.5-1.3 -1.5-1.2 -1.5-1.3 -1.5-1.2 -1.5-1.2 -1.5-1.1 -1.5-1.2 -1.5-1.2 -1.5-1.1 -1.6-1.1 -1.5-1.1 -1.5-1.1 -1.5-1.1 -1.5-1 -1.5-1.1 -1.5-1 -1.5-1 -1.5-1 -1.5-.9 -1.5-1 -1.5-.9 -1.5-1 -1.4-.9 -1.5-.9 -1.5-.8 -1.5-.9 -1.5-.8 -1.5-.8 -1.5-.9 -1.4-.7 -1.5-.8 -1.5-.8 -1.4-.7 -1.5-.7 -1.5-.7 -1.4-.7 -1.5-.7 -1.4-.6 -1.5-.6 -1.4-.6 -1.5-.6 -1.4-.6 -1.4-.6 -1.5-.5 -1.4-.5 -1.4-.5 -1.4-.5 -1.4-.5 -1.5-.4M396.9 203.5l1.6-.9 1.7-1 1.6-.9 1.7-1 1.6-.9 1.6-1 1.7-.9 1.6-1 1.6-.9 1.7-1 1.6-.9 1.6-1 1.6-.9 1.6-1 1.7-.9 1.6-1 1.6-1 1.6-.9 1.6-1 1.6-.9 1.6-1 1.6-1 1.6-.9 1.6-1 1.6-1 1.5-.9 1.6-1 1.6-1 1.6-.9 1.6-1 1.5-1 1.6-1 1.6-.9 1.5-1 1.6-1 1.6-1 1.5-1 1.6-.9 1.5-1 1.6-1 1.5-1 1.6-1 1.5-1 1.6-1 1.5-1 1.6-1 1.5-1 1.5-.9 1.6-1 1.5-1 1.5-1 1.6-1 1.5-1 1.5-1.1 1.5-1 1.6-1 1.5-1 1.5-1 1.5-1 1.5-1 1.5-1 1.5-1 1.5-1.1 1.5-1 1.5-1 1.6-1 1.5-1 1.4-1.1 1.5-1 1.5-1 1.5-1 1.5-1.1 1.5-1 1.5-1 1.5-1.1 1.5-1 1.5-1.1 1.4-1 1.5-1 1.5-1.1 1.5-1 1.4-1.1 1.5-1 1.5-1.1 1.5-1 1.4-1.1 1.5-1.1 1.5-1 1.4-1.1 1.5-1 1.5-1.1 1.4-1.1 1.5-1 1.4-1.1 1.5-1.1 1.5-1.1 1.4-1 1.5-1.1 1.4-1.1 1.5-1.1M643.5 235.7l-1.4-1.9 -1.3-1.9 -1.4-2 -1.4-1.9 -1.4-1.9 -1.4-1.9 -1.4-1.8 -1.4-1.9 -1.4-1.8 -1.4-1.9 -1.4-1.8 -1.4-1.8 -1.4-1.8 -1.4-1.8 -1.5-1.7 -1.4-1.8 -1.4-1.8 -1.5-1.7 -1.4-1.7 -1.5-1.7 -1.4-1.7 -1.5-1.7 -1.4-1.7 -1.5-1.6 -1.4-1.7 -1.5-1.6 -1.5-1.6 -1.4-1.6 -1.5-1.6 -1.5-1.6 -1.5-1.5 -1.5-1.6 -1.4-1.5 -1.5-1.5 -1.5-1.5 -1.5-1.5 -1.5-1.5 -1.5-1.5 -1.5-1.4 -1.5-1.4 -1.5-1.5 -1.5-1.4 -1.5-1.4 -1.5-1.3 -1.5-1.4 -1.5-1.3 -1.5-1.4 -1.5-1.3 -1.5-1.3 -1.5-1.3 -1.5-1.2 -1.5-1.3 -1.5-1.2 -1.5-1.3 -1.5-1.2 -1.5-1.2 -1.5-1.1 -1.6-1.2 -1.5-1.2 -1.5-1.1 -1.5-1.1 -1.5-1.1 -1.5-1.1 -1.5-1.1 -1.5-1 -1.5-1 -1.5-1.1 -1.5-1 -1.5-1 -1.5-.9 -1.5-1 -1.5-.9 -1.5-.9 -1.5-.9 -1.5-.9 -1.4-.9 -1.5-.8 -1.5-.9 -1.5-.8 -1.5-.8 -1.5-.8 -1.4-.8 -1.5-.7 -1.5-.7 -1.4-.8 -1.5-.7 -1.4-.6 -1.5-.7 -1.5-.6 -1.4-.7 -1.5-.6 -1.4-.6 -1.4-.5 -1.5-.6 -1.4-.5 -1.4-.5 -1.5-.5 -1.4-.5 -1.4-.5 -1.4-.4M395.4 202.5l1.7-.9 1.6-1 1.7-.9 1.6-1 1.7-.9 1.6-1 1.6-.9 1.7-.9 1.6-1 1.6-.9 1.7-1 1.6-.9 1.6-1 1.6-1 1.6-.9 1.6-1 1.6-.9 1.6-1 1.6-.9 1.6-1 1.6-.9 1.6-1 1.6-1 1.6-.9 1.6-1 1.6-1 1.6-.9 1.6-1 1.5-1 1.6-.9 1.6-1 1.6-1 1.5-1 1.6-.9 1.6-1 1.5-1 1.6-1 1.5-.9 1.6-1 1.5-1 1.6-1 1.5-1 1.6-1 1.5-.9 1.6-1 1.5-1 1.5-1 1.6-1 1.5-1 1.5-1 1.6-1 1.5-1 1.5-1 1.6-1 1.5-1 1.5-1 1.5-1 1.5-1 1.5-1 1.6-1 1.5-1 1.5-1.1 1.5-1 1.5-1 1.5-1 1.5-1 1.5-1 1.5-1.1 1.5-1 1.5-1 1.5-1 1.5-1.1 1.4-1 1.5-1 1.5-1.1 1.5-1 1.5-1 1.5-1.1 1.4-1 1.5-1.1 1.5-1 1.5-1.1 1.4-1 1.5-1.1 1.5-1 1.5-1.1 1.4-1 1.5-1.1 1.5-1 1.4-1.1 1.5-1.1 1.4-1 1.5-1.1 1.5-1 1.4-1.1 1.5-1.1 1.4-1.1 1.5-1 1.4-1.1 1.5-1.1M644.9 234.5l-1.4-1.9 -1.3-1.9 -1.4-2 -1.4-1.9 -1.4-1.9 -1.4-1.8 -1.4-1.9 -1.3-1.9 -1.4-1.8 -1.4-1.8 -1.5-1.9 -1.4-1.8 -1.4-1.8 -1.4-1.8 -1.4-1.7 -1.5-1.8 -1.4-1.7 -1.4-1.8 -1.5-1.7 -1.4-1.7 -1.5-1.7 -1.4-1.7 -1.5-1.6 -1.4-1.7 -1.5-1.6 -1.5-1.7 -1.4-1.6 -1.5-1.6 -1.5-1.6 -1.4-1.5 -1.5-1.6 -1.5-1.5 -1.5-1.6 -1.5-1.5 -1.4-1.5 -1.5-1.5 -1.5-1.4 -1.5-1.5 -1.5-1.5 -1.5-1.4 -1.5-1.4 -1.5-1.4 -1.5-1.4 -1.5-1.4 -1.5-1.3 -1.5-1.4 -1.5-1.3 -1.5-1.3 -1.5-1.3 -1.5-1.3 -1.5-1.3 -1.5-1.2 -1.5-1.3 -1.6-1.2 -1.5-1.2 -1.5-1.2 -1.5-1.2 -1.5-1.1 -1.5-1.2 -1.5-1.1 -1.5-1.1 -1.5-1.1 -1.5-1.1 -1.5-1 -1.5-1.1 -1.5-1 -1.5-1 -1.5-1 -1.5-1 -1.5-1 -1.5-1 -1.5-.9 -1.5-.9 -1.5-.9 -1.5-.9 -1.5-.9 -1.5-.8 -1.4-.8 -1.5-.9 -1.5-.8 -1.5-.7 -1.5-.8 -1.4-.8 -1.5-.7 -1.5-.7 -1.4-.7 -1.5-.7 -1.4-.6 -1.5-.7 -1.4-.6 -1.5-.6 -1.4-.6 -1.5-.6 -1.4-.5 -1.4-.5 -1.5-.6 -1.4-.5 -1.4-.4 -1.4-.5 -1.4-.4M394 201.5l1.7-.9 1.6-1 1.7-.9 1.6-1 1.6-.9 1.7-.9 1.6-1 1.6-.9 1.7-1 1.6-.9 1.6-1 1.6-.9 1.7-1 1.6-.9 1.6-1 1.6-.9 1.6-1 1.6-.9 1.6-1 1.6-.9 1.6-1 1.6-.9 1.6-1 1.6-1 1.6-.9 1.6-1 1.5-.9 1.6-1 1.6-1 1.6-.9 1.5-1 1.6-1 1.6-.9 1.5-1 1.6-1 1.6-1 1.5-.9 1.6-1 1.5-1 1.6-1 1.5-1 1.6-.9 1.5-1 1.6-1 1.5-1 1.6-1 1.5-1 1.5-1 1.6-.9 1.5-1 1.5-1 1.6-1 1.5-1 1.5-1 1.5-1 1.5-1 1.6-1 1.5-1 1.5-1 1.5-1 1.5-1 1.5-1.1 1.5-1 1.5-1 1.5-1 1.5-1 1.5-1 1.5-1.1 1.5-1 1.5-1 1.5-1 1.5-1 1.5-1.1 1.5-1 1.5-1 1.4-1.1 1.5-1 1.5-1 1.5-1.1 1.5-1 1.4-1.1 1.5-1 1.5-1.1 1.5-1 1.4-1 1.5-1.1 1.5-1.1 1.4-1 1.5-1.1 1.5-1 1.4-1.1 1.5-1 1.4-1.1 1.5-1.1 1.4-1 1.5-1.1 1.5-1.1 1.4-1.1 1.5-1 1.4-1.1M646.3 233.3l-1.4-1.9 -1.3-1.9 -1.4-1.9 -1.4-2 -1.4-1.8 -1.4-1.9 -1.3-1.9 -1.4-1.9 -1.4-1.8 -1.4-1.8 -1.4-1.9 -1.5-1.8 -1.4-1.8 -1.4-1.7 -1.4-1.8 -1.4-1.8 -1.5-1.7 -1.4-1.7 -1.4-1.8 -1.5-1.7 -1.4-1.7 -1.5-1.6 -1.4-1.7 -1.5-1.7 -1.4-1.6 -1.5-1.6 -1.5-1.6 -1.4-1.6 -1.5-1.6 -1.5-1.6 -1.5-1.5 -1.4-1.6 -1.5-1.5 -1.5-1.5 -1.5-1.5 -1.5-1.5 -1.5-1.5 -1.5-1.5 -1.4-1.4 -1.5-1.4 -1.5-1.4 -1.5-1.4 -1.5-1.4 -1.5-1.4 -1.5-1.4 -1.5-1.3 -1.5-1.3 -1.5-1.3 -1.5-1.3 -1.6-1.3 -1.5-1.3 -1.5-1.2 -1.5-1.3 -1.5-1.2 -1.5-1.2 -1.5-1.2 -1.5-1.2 -1.5-1.1 -1.5-1.2 -1.5-1.1 -1.5-1.1 -1.5-1.1 -1.5-1.1 -1.5-1 -1.5-1.1 -1.5-1 -1.5-1 -1.5-1 -1.5-1 -1.5-1 -1.5-.9 -1.5-1 -1.5-.9 -1.5-.9 -1.5-.9 -1.5-.8 -1.5-.9 -1.5-.8 -1.4-.8 -1.5-.8 -1.5-.8 -1.5-.8 -1.4-.7 -1.5-.7 -1.5-.7 -1.4-.7 -1.5-.7 -1.5-.7 -1.4-.6 -1.5-.6 -1.4-.6 -1.5-.6 -1.4-.6 -1.4-.5 -1.5-.6 -1.4-.5 -1.4-.5 -1.5-.4 -1.4-.5 -1.4-.4M392.6 200.5l1.6-.9 1.7-1 1.6-.9 1.7-.9 1.6-1 1.7-.9 1.6-.9 1.6-1 1.6-.9 1.7-1 1.6-.9 1.6-1 1.6-.9 1.6-.9 1.7-1 1.6-.9 1.6-1 1.6-.9 1.6-1 1.6-.9 1.6-1 1.6-.9 1.6-1 1.6-1 1.5-.9 1.6-1 1.6-.9 1.6-1 1.6-1 1.5-.9 1.6-1 1.6-1 1.5-.9 1.6-1 1.6-1 1.5-.9 1.6-1 1.5-1 1.6-.9 1.6-1 1.5-1 1.5-1 1.6-1 1.5-.9 1.6-1 1.5-1 1.6-1 1.5-1 1.5-1 1.5-1 1.6-.9 1.5-1 1.5-1 1.5-1 1.6-1 1.5-1 1.5-1 1.5-1 1.5-1 1.5-1 1.6-1 1.5-1 1.5-1.1 1.5-1 1.5-1 1.5-1 1.5-1 1.5-1 1.5-1 1.4-1.1 1.5-1 1.5-1 1.5-1 1.5-1.1 1.5-1 1.5-1 1.5-1.1 1.4-1 1.5-1 1.5-1.1 1.5-1 1.4-1 1.5-1.1 1.5-1 1.5-1.1 1.4-1 1.5-1.1 1.5-1 1.4-1.1 1.5-1 1.4-1.1 1.5-1 1.5-1.1 1.4-1.1 1.5-1 1.4-1.1 1.5-1.1 1.4-1 1.5-1.1 1.4-1.1M647.7 232.2l-1.4-2 -1.4-1.9 -1.3-1.9 -1.4-1.9 -1.4-1.9 -1.3-1.9 -1.4-1.9 -1.4-1.8 -1.4-1.9 -1.4-1.8 -1.4-1.8 -1.4-1.8 -1.4-1.8 -1.5-1.8 -1.4-1.8 -1.4-1.7 -1.4-1.8 -1.5-1.7 -1.4-1.7 -1.5-1.7 -1.4-1.7 -1.4-1.7 -1.5-1.7 -1.4-1.6 -1.5-1.7 -1.5-1.6 -1.4-1.6 -1.5-1.6 -1.5-1.6 -1.4-1.5 -1.5-1.6 -1.5-1.5 -1.5-1.6 -1.4-1.5 -1.5-1.5 -1.5-1.5 -1.5-1.4 -1.5-1.5 -1.5-1.4 -1.5-1.5 -1.5-1.4 -1.5-1.4 -1.5-1.4 -1.5-1.3 -1.5-1.4 -1.5-1.3 -1.5-1.4 -1.5-1.3 -1.5-1.3 -1.5-1.2 -1.5-1.3 -1.5-1.3 -1.5-1.2 -1.5-1.2 -1.5-1.2 -1.5-1.2 -1.5-1.2 -1.5-1.1 -1.5-1.2 -1.5-1.1 -1.5-1.1 -1.6-1.1 -1.5-1.1 -1.5-1 -1.5-1.1 -1.5-1 -1.5-1 -1.5-1 -1.5-1 -1.5-1 -1.5-.9 -1.5-.9 -1.5-.9 -1.4-.9 -1.5-.9 -1.5-.9 -1.5-.8 -1.5-.9 -1.5-.8 -1.5-.8 -1.4-.7 -1.5-.8 -1.5-.7 -1.4-.8 -1.5-.7 -1.5-.7 -1.4-.6 -1.5-.7 -1.5-.6 -1.4-.7 -1.5-.6 -1.4-.5 -1.4-.6 -1.5-.5 -1.4-.6 -1.4-.5 -1.5-.5 -1.4-.4 -1.4-.5 -1.4-.4M391.2 199.5l1.6-.9 1.7-.9 1.6-1 1.7-.9 1.6-.9 1.6-1 1.7-.9 1.6-.9 1.6-1 1.6-.9 1.7-.9 1.6-1 1.6-.9 1.6-1 1.6-.9 1.6-1 1.7-.9 1.6-.9 1.6-1 1.6-.9 1.6-1 1.5-.9 1.6-1 1.6-.9 1.6-1 1.6-1 1.6-.9 1.6-1 1.5-.9 1.6-1 1.6-1 1.5-.9 1.6-1 1.6-.9 1.5-1 1.6-1 1.6-.9 1.5-1 1.6-1 1.5-1 1.6-.9 1.5-1 1.6-1 1.5-1 1.5-.9 1.6-1 1.5-1 1.5-1 1.6-1 1.5-1 1.5-.9 1.6-1 1.5-1 1.5-1 1.5-1 1.5-1 1.6-1 1.5-1 1.5-1 1.5-1 1.5-1 1.5-1 1.5-1 1.5-1 1.5-1 1.5-1 1.5-1.1 1.5-1 1.5-1 1.5-1 1.5-1 1.5-1 1.5-1.1 1.4-1 1.5-1 1.5-1 1.5-1.1 1.5-1 1.4-1 1.5-1.1 1.5-1 1.5-1.1 1.4-1 1.5-1 1.5-1.1 1.5-1 1.4-1.1 1.5-1 1.4-1.1 1.5-1 1.5-1.1 1.4-1 1.5-1.1 1.4-1.1 1.5-1 1.5-1.1 1.4-1.1 1.5-1 1.4-1.1 1.5-1.1M649.1 231l-1.4-2 -1.4-1.9 -1.3-1.9 -1.4-1.9 -1.4-1.9 -1.3-1.9 -1.4-1.9 -1.4-1.8 -1.4-1.9 -1.4-1.8 -1.4-1.8 -1.4-1.8 -1.4-1.8 -1.4-1.8 -1.5-1.8 -1.4-1.7 -1.4-1.8 -1.4-1.7 -1.5-1.7 -1.4-1.7 -1.5-1.7 -1.4-1.7 -1.5-1.6 -1.4-1.7 -1.5-1.6 -1.4-1.7 -1.5-1.6 -1.5-1.6 -1.4-1.5 -1.5-1.6 -1.5-1.6 -1.4-1.5 -1.5-1.5 -1.5-1.5 -1.5-1.5 -1.5-1.5 -1.4-1.5 -1.5-1.5 -1.5-1.4 -1.5-1.4 -1.5-1.4 -1.5-1.4 -1.5-1.4 -1.5-1.4 -1.5-1.3 -1.5-1.4 -1.5-1.3 -1.5-1.3 -1.5-1.3 -1.5-1.3 -1.5-1.2 -1.5-1.3 -1.5-1.2 -1.5-1.2 -1.5-1.2 -1.5-1.2 -1.6-1.2 -1.5-1.1 -1.5-1.2 -1.5-1.1 -1.5-1.1 -1.5-1.1 -1.5-1.1 -1.5-1 -1.5-1.1 -1.5-1 -1.5-1 -1.5-1 -1.5-1 -1.5-.9 -1.5-1 -1.5-.9 -1.5-.9 -1.5-.9 -1.5-.9 -1.4-.9 -1.5-.8 -1.5-.8 -1.5-.8 -1.5-.8 -1.5-.8 -1.4-.8 -1.5-.7 -1.5-.7 -1.4-.7 -1.5-.7 -1.5-.7 -1.4-.6 -1.5-.7 -1.4-.6 -1.5-.6 -1.4-.6 -1.5-.5 -1.4-.6 -1.5-.5 -1.4-.5 -1.4-.5 -1.4-.5 -1.5-.4 -1.4-.4M389.8 198.6l1.6-1 1.7-.9 1.6-.9 1.6-.9 1.7-1 1.6-.9 1.7-.9 1.6-1 1.6-.9 1.6-.9 1.7-1 1.6-.9 1.6-.9 1.6-1 1.6-.9 1.6-1 1.6-.9 1.6-.9 1.6-1 1.6-.9 1.6-1 1.6-.9 1.6-1 1.6-.9 1.6-1 1.6-.9 1.5-1 1.6-.9 1.6-1 1.6-.9 1.5-1 1.6-1 1.6-.9 1.5-1 1.6-.9 1.6-1 1.5-1 1.6-.9 1.5-1 1.6-1 1.5-.9 1.6-1 1.5-1 1.6-1 1.5-.9 1.5-1 1.6-1 1.5-1 1.5-1 1.6-.9 1.5-1 1.5-1 1.5-1 1.6-1 1.5-1 1.5-1 1.5-1 1.5-1 1.5-1 1.5-1 1.6-1 1.5-1 1.5-1 1.5-1 1.5-1 1.5-1 1.5-1 1.5-1 1.4-1 1.5-1 1.5-1.1 1.5-1 1.5-1 1.5-1 1.5-1 1.5-1.1 1.4-1 1.5-1 1.5-1 1.5-1.1 1.4-1 1.5-1.1 1.5-1 1.5-1 1.4-1.1 1.5-1 1.5-1.1 1.4-1 1.5-1.1 1.4-1 1.5-1.1 1.5-1 1.4-1.1 1.5-1 1.4-1.1 1.5-1 1.4-1.1 1.5-1.1 1.4-1 1.5-1.1M650.4 229.8l-1.3-2 -1.4-1.9 -1.3-1.9 -1.4-1.9 -1.4-1.9 -1.3-1.9 -1.4-1.9 -1.4-1.8 -1.4-1.9 -1.4-1.8 -1.4-1.8 -1.4-1.8 -1.4-1.8 -1.4-1.8 -1.4-1.8 -1.5-1.7 -1.4-1.7 -1.4-1.8 -1.4-1.7 -1.5-1.7 -1.4-1.7 -1.5-1.7 -1.4-1.6 -1.5-1.7 -1.4-1.6 -1.5-1.6 -1.4-1.6 -1.5-1.6 -1.5-1.6 -1.4-1.6 -1.5-1.5 -1.5-1.6 -1.5-1.5 -1.4-1.5 -1.5-1.5 -1.5-1.5 -1.5-1.4 -1.5-1.5 -1.5-1.4 -1.5-1.5 -1.5-1.4 -1.4-1.4 -1.5-1.4 -1.5-1.3 -1.5-1.4 -1.5-1.3 -1.5-1.3 -1.5-1.3 -1.5-1.3 -1.5-1.3 -1.5-1.3 -1.6-1.2 -1.5-1.2 -1.5-1.2 -1.5-1.2 -1.5-1.2 -1.5-1.2 -1.5-1.2 -1.5-1.1 -1.5-1.1 -1.5-1.1 -1.5-1.1 -1.5-1.1 -1.5-1 -1.5-1.1 -1.5-1 -1.5-1 -1.5-1 -1.5-1 -1.5-.9 -1.5-1 -1.5-.9 -1.5-.9 -1.5-.9 -1.5-.9 -1.5-.8 -1.5-.9 -1.5-.8 -1.4-.8 -1.5-.8 -1.5-.8 -1.5-.7 -1.4-.8 -1.5-.7 -1.5-.7 -1.4-.7 -1.5-.6 -1.5-.7 -1.4-.6 -1.5-.6 -1.4-.6 -1.5-.6 -1.4-.6 -1.5-.5 -1.4-.5 -1.4-.5 -1.5-.5 -1.4-.5 -1.4-.4 -1.4-.5M388.4 197.6l1.6-.9 1.7-.9 1.6-.9 1.6-1 1.7-.9 1.6-.9 1.6-.9 1.7-1 1.6-.9 1.6-.9 1.6-1 1.7-.9 1.6-.9 1.6-1 1.6-.9 1.6-.9 1.6-1 1.6-.9 1.6-1 1.6-.9 1.6-.9 1.6-1 1.6-.9 1.6-1 1.6-.9 1.5-1 1.6-.9 1.6-1 1.6-.9 1.6-1 1.5-.9 1.6-1 1.6-.9 1.5-1 1.6-1 1.5-.9 1.6-1 1.6-.9 1.5-1 1.6-1 1.5-.9 1.5-1 1.6-1 1.5-1 1.6-.9 1.5-1 1.5-1 1.6-1 1.5-.9 1.5-1 1.6-1 1.5-1 1.5-1 1.5-.9 1.5-1 1.6-1 1.5-1 1.5-1 1.5-1 1.5-1 1.5-1 1.5-1 1.5-1 1.5-1 1.5-1 1.5-1 1.5-1 1.5-1 1.5-1 1.5-1 1.5-1.1 1.5-1 1.5-1 1.4-1 1.5-1 1.5-1.1 1.5-1 1.5-1 1.4-1 1.5-1.1 1.5-1 1.5-1 1.4-1.1 1.5-1 1.5-1 1.4-1.1 1.5-1 1.5-1.1 1.4-1 1.5-1.1 1.4-1 1.5-1.1 1.4-1 1.5-1.1 1.5-1 1.4-1.1 1.5-1.1 1.4-1 1.5-1.1 1.4-1.1M651.8 228.6l-1.3-2 -1.4-1.9 -1.3-1.9 -1.4-1.9 -1.4-1.9 -1.3-1.9 -1.4-1.9 -1.4-1.8 -1.4-1.8 -1.4-1.9 -1.4-1.8 -1.4-1.8 -1.4-1.8 -1.4-1.8 -1.4-1.7 -1.4-1.8 -1.5-1.7 -1.4-1.8 -1.4-1.7 -1.5-1.7 -1.4-1.7 -1.4-1.6 -1.5-1.7 -1.4-1.6 -1.5-1.7 -1.4-1.6 -1.5-1.6 -1.5-1.6 -1.4-1.6 -1.5-1.5 -1.5-1.6 -1.4-1.5 -1.5-1.6 -1.5-1.5 -1.5-1.5 -1.5-1.4 -1.4-1.5 -1.5-1.5 -1.5-1.4 -1.5-1.4 -1.5-1.4 -1.5-1.4 -1.5-1.4 -1.5-1.4 -1.5-1.3 -1.5-1.3 -1.5-1.4 -1.5-1.3 -1.5-1.3 -1.5-1.2 -1.5-1.3 -1.5-1.2 -1.5-1.3 -1.5-1.2 -1.5-1.2 -1.5-1.1 -1.5-1.2 -1.5-1.2 -1.5-1.1 -1.5-1.1 -1.5-1.1 -1.5-1.1 -1.5-1.1 -1.5-1 -1.5-1.1 -1.6-1 -1.5-1 -1.5-1 -1.5-1 -1.4-.9 -1.5-1 -1.5-.9 -1.5-.9 -1.5-.9 -1.5-.8 -1.5-.9 -1.5-.8 -1.5-.9 -1.5-.8 -1.4-.7 -1.5-.8 -1.5-.8 -1.5-.7 -1.4-.7 -1.5-.7 -1.5-.7 -1.4-.7 -1.5-.6 -1.5-.6 -1.4-.7 -1.5-.5 -1.4-.6 -1.5-.6 -1.4-.5 -1.4-.5 -1.5-.5 -1.4-.5 -1.4-.5 -1.5-.4 -1.4-.5M387 196.7l1.6-.9 1.7-.9 1.6-1 1.6-.9 1.7-.9 1.6-.9 1.6-.9 1.7-1 1.6-.9 1.6-.9 1.6-.9 1.7-1 1.6-.9 1.6-.9 1.6-1 1.6-.9 1.6-.9 1.6-1 1.6-.9 1.6-.9 1.6-1 1.6-.9 1.6-1 1.6-.9 1.6-.9 1.5-1 1.6-.9 1.6-1 1.6-.9 1.5-1 1.6-.9 1.6-1 1.5-.9 1.6-1 1.6-1 1.5-.9 1.6-1 1.5-.9 1.6-1 1.5-1 1.6-.9 1.5-1 1.6-1 1.5-.9 1.5-1 1.6-1 1.5-.9 1.5-1 1.6-1 1.5-1 1.5-.9 1.5-1 1.6-1 1.5-1 1.5-1 1.5-1 1.5-.9 1.5-1 1.6-1 1.5-1 1.5-1 1.5-1 1.5-1 1.5-1 1.5-1 1.5-1 1.5-1 1.5-1 1.5-1 1.4-1 1.5-1.1 1.5-1 1.5-1 1.5-1 1.5-1 1.4-1 1.5-1.1 1.5-1 1.5-1 1.5-1 1.4-1.1 1.5-1 1.5-1 1.4-1.1 1.5-1 1.5-1 1.4-1.1 1.5-1 1.5-1.1 1.4-1 1.5-1.1 1.4-1 1.5-1.1 1.4-1 1.5-1.1 1.4-1 1.5-1.1 1.4-1 1.5-1.1 1.4-1.1M653.2 227.4l-1.3-2 -1.4-1.9 -1.3-1.9 -1.4-1.9 -1.4-1.9 -1.3-1.9 -1.4-1.8 -1.4-1.9 -1.4-1.8 -1.4-1.9 -1.4-1.8 -1.4-1.8 -1.4-1.8 -1.4-1.8 -1.4-1.7 -1.4-1.8 -1.4-1.7 -1.5-1.7 -1.4-1.8 -1.4-1.7 -1.5-1.6 -1.4-1.7 -1.4-1.7 -1.5-1.6 -1.4-1.6 -1.5-1.7 -1.5-1.6 -1.4-1.6 -1.5-1.5 -1.5-1.6 -1.4-1.6 -1.5-1.5 -1.5-1.5 -1.4-1.5 -1.5-1.5 -1.5-1.5 -1.5-1.5 -1.5-1.4 -1.5-1.4 -1.4-1.5 -1.5-1.4 -1.5-1.4 -1.5-1.3 -1.5-1.4 -1.5-1.3 -1.5-1.4 -1.5-1.3 -1.5-1.3 -1.5-1.3 -1.5-1.3 -1.5-1.2 -1.5-1.3 -1.5-1.2 -1.5-1.2 -1.5-1.2 -1.5-1.2 -1.5-1.1 -1.5-1.2 -1.6-1.1 -1.5-1.1 -1.5-1.1 -1.5-1.1 -1.5-1.1 -1.5-1 -1.5-1.1 -1.5-1 -1.5-1 -1.5-1 -1.5-.9 -1.5-1 -1.5-.9 -1.5-1 -1.5-.9 -1.5-.8 -1.5-.9 -1.4-.9 -1.5-.8 -1.5-.8 -1.5-.8 -1.5-.8 -1.5-.8 -1.4-.7 -1.5-.8 -1.5-.7 -1.5-.7 -1.4-.7 -1.5-.6 -1.4-.7 -1.5-.6 -1.5-.6 -1.4-.6 -1.5-.6 -1.4-.5 -1.5-.6 -1.4-.5 -1.4-.5 -1.5-.5 -1.4-.4 -1.4-.5 -1.4-.4M385.6 195.8l1.6-.9 1.7-.9 1.6-.9 1.6-1 1.7-.9 1.6-.9 1.6-.9 1.7-.9 1.6-1 1.6-.9 1.6-.9 1.7-.9 1.6-1 1.6-.9 1.6-.9 1.6-.9 1.6-1 1.6-.9 1.6-.9 1.6-1 1.6-.9 1.6-.9 1.6-1 1.6-.9 1.5-1 1.6-.9 1.6-.9 1.6-1 1.6-.9 1.5-1 1.6-.9 1.6-1 1.5-.9 1.6-1 1.5-.9 1.6-1 1.6-.9 1.5-1 1.6-1 1.5-.9 1.6-1 1.5-.9 1.5-1 1.6-1 1.5-.9 1.6-1 1.5-1 1.5-.9 1.5-1 1.6-1 1.5-1 1.5-1 1.5-.9 1.6-1 1.5-1 1.5-1 1.5-1 1.5-.9 1.5-1 1.5-1 1.5-1 1.5-1 1.5-1 1.5-1 1.5-1 1.5-1 1.5-1 1.5-1 1.5-1 1.5-1 1.5-1 1.5-1 1.5-1 1.4-1.1 1.5-1 1.5-1 1.5-1 1.5-1 1.4-1.1 1.5-1 1.5-1 1.4-1 1.5-1.1 1.5-1 1.4-1 1.5-1.1 1.5-1 1.4-1 1.5-1.1 1.5-1 1.4-1.1 1.5-1 1.4-1.1 1.5-1 1.4-1.1 1.5-1 1.4-1.1 1.5-1 1.4-1.1 1.5-1.1M654.6 226.2l-1.3-2 -1.4-1.9 -1.3-1.9 -1.4-1.9 -1.4-1.9 -1.3-1.9 -1.4-1.8 -1.4-1.9 -1.4-1.8 -1.4-1.9 -1.4-1.8 -1.4-1.8 -1.4-1.8 -1.4-1.7 -1.4-1.8 -1.4-1.8 -1.4-1.7 -1.4-1.7 -1.5-1.7 -1.4-1.7 -1.4-1.7 -1.5-1.7 -1.4-1.6 -1.5-1.7 -1.4-1.6 -1.5-1.6 -1.4-1.6 -1.5-1.6 -1.4-1.6 -1.5-1.6 -1.5-1.5 -1.4-1.6 -1.5-1.5 -1.5-1.5 -1.5-1.5 -1.5-1.4 -1.4-1.5 -1.5-1.5 -1.5-1.4 -1.5-1.4 -1.5-1.4 -1.5-1.4 -1.5-1.4 -1.5-1.3 -1.5-1.4 -1.5-1.3 -1.5-1.3 -1.4-1.3 -1.6-1.3 -1.5-1.3 -1.5-1.2 -1.5-1.3 -1.5-1.2 -1.5-1.2 -1.5-1.2 -1.5-1.2 -1.5-1.1 -1.5-1.2 -1.5-1.1 -1.5-1.1 -1.5-1.1 -1.5-1.1 -1.5-1.1 -1.5-1 -1.5-1.1 -1.5-1 -1.5-1 -1.5-1 -1.5-.9 -1.5-1 -1.5-.9 -1.5-.9 -1.5-.9 -1.5-.9 -1.5-.9 -1.5-.8 -1.5-.9 -1.4-.8 -1.5-.8 -1.5-.8 -1.5-.7 -1.5-.8 -1.4-.7 -1.5-.7 -1.5-.7 -1.5-.7 -1.4-.7 -1.5-.6 -1.4-.6 -1.5-.6 -1.5-.6 -1.4-.6 -1.5-.5 -1.4-.6 -1.4-.5 -1.5-.5 -1.4-.5 -1.4-.4 -1.5-.5 -1.4-.4M384.2 194.9l1.6-.9 1.7-.9 1.6-.9 1.7-.9 1.6-.9 1.6-1 1.7-.9 1.6-.9 1.6-.9 1.6-.9 1.7-1 1.6-.9 1.6-.9 1.6-.9 1.6-.9 1.6-1 1.6-.9 1.6-.9 1.6-1 1.6-.9 1.6-.9 1.6-1 1.6-.9 1.6-.9 1.5-1 1.6-.9 1.6-.9 1.6-1 1.5-.9 1.6-1 1.6-.9 1.6-1 1.5-.9 1.6-.9 1.5-1 1.6-.9 1.5-1 1.6-1 1.5-.9 1.6-1 1.5-.9 1.6-1 1.5-.9 1.6-1 1.5-1 1.5-.9 1.6-1 1.5-1 1.5-.9 1.5-1 1.6-1 1.5-1 1.5-.9 1.5-1 1.5-1 1.6-1 1.5-1 1.5-.9 1.5-1 1.5-1 1.5-1 1.5-1 1.5-1 1.5-1 1.5-1 1.5-1 1.5-1 1.5-1 1.5-1 1.5-1 1.4-1 1.5-1 1.5-1 1.5-1 1.5-1 1.5-1 1.4-1.1 1.5-1 1.5-1 1.5-1 1.4-1 1.5-1.1 1.5-1 1.4-1 1.5-1.1 1.5-1 1.4-1 1.5-1.1 1.4-1 1.5-1 1.5-1.1 1.4-1 1.5-1.1 1.4-1 1.5-1.1 1.4-1 1.5-1.1 1.4-1 1.5-1.1 1.4-1.1M656 225l-1.3-2 -1.4-1.9 -1.3-1.9 -1.4-1.9 -1.4-1.9 -1.3-1.9 -1.4-1.8 -1.4-1.9 -1.4-1.8 -1.4-1.8 -1.3-1.9 -1.4-1.8 -1.4-1.8 -1.4-1.7 -1.5-1.8 -1.4-1.7 -1.4-1.8 -1.4-1.7 -1.4-1.7 -1.5-1.7 -1.4-1.7 -1.4-1.7 -1.5-1.6 -1.4-1.7 -1.5-1.6 -1.4-1.6 -1.5-1.6 -1.4-1.6 -1.5-1.6 -1.5-1.5 -1.4-1.6 -1.5-1.5 -1.5-1.5 -1.4-1.5 -1.5-1.5 -1.5-1.5 -1.5-1.5 -1.5-1.4 -1.4-1.4 -1.5-1.5 -1.5-1.4 -1.5-1.4 -1.5-1.3 -1.5-1.4 -1.5-1.3 -1.5-1.4 -1.5-1.3 -1.5-1.3 -1.5-1.3 -1.5-1.2 -1.5-1.3 -1.5-1.2 -1.5-1.2 -1.5-1.2 -1.5-1.2 -1.5-1.2 -1.5-1.2 -1.5-1.1 -1.5-1.1 -1.5-1.2 -1.5-1 -1.5-1.1 -1.5-1.1 -1.5-1 -1.5-1.1 -1.5-1 -1.5-1 -1.5-1 -1.5-.9 -1.5-1 -1.5-.9 -1.5-.9 -1.5-.9 -1.5-.9 -1.5-.9 -1.5-.8 -1.5-.9 -1.5-.8 -1.5-.8 -1.5-.7 -1.4-.8 -1.5-.8 -1.5-.7 -1.5-.7 -1.4-.7 -1.5-.7 -1.5-.6 -1.4-.7 -1.5-.6 -1.4-.6 -1.5-.6 -1.5-.5 -1.4-.6 -1.4-.5 -1.5-.5 -1.4-.5 -1.5-.5 -1.4-.5 -1.4-.4 -1.4-.4M382.8 194l1.7-.9 1.6-.9 1.6-.9 1.7-.9 1.6-.9 1.6-.9 1.7-.9 1.6-.9 1.6-.9 1.6-1 1.7-.9 1.6-.9 1.6-.9 1.6-.9 1.6-1 1.6-.9 1.6-.9 1.6-.9 1.6-1 1.6-.9 1.6-.9 1.6-.9 1.6-1 1.6-.9 1.5-.9 1.6-1 1.6-.9 1.6-.9 1.5-1 1.6-.9 1.6-1 1.5-.9 1.6-.9 1.6-1 1.5-.9 1.6-1 1.5-.9 1.6-1 1.5-.9 1.6-1 1.5-.9 1.6-1 1.5-1 1.5-.9 1.6-1 1.5-.9 1.5-1 1.6-1 1.5-.9 1.5-1 1.6-1 1.5-1 1.5-.9 1.5-1 1.5-1 1.5-1 1.5-.9 1.6-1 1.5-1 1.5-1 1.5-1 1.5-1 1.5-.9 1.5-1 1.5-1 1.5-1 1.5-1 1.4-1 1.5-1 1.5-1 1.5-1 1.5-1 1.5-1 1.5-1 1.4-1 1.5-1.1 1.5-1 1.5-1 1.4-1 1.5-1 1.5-1 1.4-1.1 1.5-1 1.5-1 1.4-1.1 1.5-1 1.5-1 1.4-1 1.5-1.1 1.4-1 1.5-1.1 1.5-1 1.4-1.1 1.5-1 1.4-1 1.5-1.1 1.4-1.1 1.5-1 1.4-1.1 1.4-1M657.4 223.8l-1.4-1.9 -1.3-2 -1.4-1.9 -1.3-1.9 -1.4-1.9 -1.3-1.9 -1.4-1.8 -1.4-1.9 -1.4-1.8 -1.3-1.8 -1.4-1.9 -1.4-1.8 -1.4-1.7 -1.4-1.8 -1.4-1.8 -1.5-1.7 -1.4-1.8 -1.4-1.7 -1.4-1.7 -1.4-1.7 -1.5-1.7 -1.4-1.6 -1.5-1.7 -1.4-1.6 -1.4-1.7 -1.5-1.6 -1.4-1.6 -1.5-1.6 -1.5-1.5 -1.4-1.6 -1.5-1.6 -1.5-1.5 -1.4-1.5 -1.5-1.5 -1.5-1.5 -1.5-1.5 -1.4-1.4 -1.5-1.5 -1.5-1.4 -1.5-1.4 -1.5-1.4 -1.5-1.4 -1.5-1.4 -1.4-1.3 -1.5-1.4 -1.5-1.3 -1.5-1.3 -1.5-1.3 -1.5-1.3 -1.5-1.3 -1.5-1.2 -1.5-1.2 -1.5-1.3 -1.5-1.2 -1.5-1.2 -1.5-1.1 -1.5-1.2 -1.6-1.1 -1.5-1.2 -1.5-1.1 -1.5-1.1 -1.5-1 -1.5-1.1 -1.5-1 -1.5-1.1 -1.5-1 -1.5-1 -1.5-1 -1.5-.9 -1.5-1 -1.5-.9 -1.5-.9 -1.5-.9 -1.5-.9 -1.5-.9 -1.4-.8 -1.5-.8 -1.5-.8 -1.5-.8 -1.5-.8 -1.5-.8 -1.5-.7 -1.4-.7 -1.5-.7 -1.5-.7 -1.4-.7 -1.5-.7 -1.5-.6 -1.4-.6 -1.5-.6 -1.4-.6 -1.5-.6 -1.4-.5 -1.5-.6 -1.4-.5 -1.5-.5 -1.4-.4 -1.4-.5 -1.5-.4 -1.4-.4M381.4 193.2l1.7-.9 1.6-.9 1.7-.9 1.6-.9 1.6-.9 1.7-.9 1.6-.9 1.6-1 1.6-.9 1.7-.9 1.6-.9 1.6-.9 1.6-.9 1.6-.9 1.6-1 1.6-.9 1.6-.9 1.6-.9 1.6-.9 1.6-1 1.6-.9 1.6-.9 1.6-.9 1.6-1 1.6-.9 1.5-.9 1.6-1 1.6-.9 1.6-.9 1.5-1 1.6-.9 1.6-.9 1.5-1 1.6-.9 1.5-1 1.6-.9 1.5-1 1.6-.9 1.5-1 1.6-.9 1.5-1 1.6-.9 1.5-1 1.5-.9 1.6-1 1.5-.9 1.5-1 1.6-1 1.5-.9 1.5-1 1.5-1 1.6-.9 1.5-1 1.5-1 1.5-.9 1.5-1 1.5-1 1.5-1 1.5-.9 1.5-1 1.5-1 1.6-1 1.4-1 1.5-1 1.5-1 1.5-1 1.5-.9 1.5-1 1.5-1 1.5-1 1.5-1 1.5-1 1.4-1 1.5-1 1.5-1.1 1.5-1 1.5-1 1.4-1 1.5-1 1.5-1 1.4-1 1.5-1.1 1.5-1 1.4-1 1.5-1 1.5-1.1 1.4-1 1.5-1 1.4-1.1 1.5-1 1.4-1 1.5-1.1 1.5-1 1.4-1.1 1.5-1 1.4-1.1 1.4-1 1.5-1.1 1.4-1 1.5-1.1M658.8 222.6l-1.4-1.9 -1.3-2 -1.4-1.9 -1.3-1.9 -1.4-1.9 -1.3-1.9 -1.4-1.8 -1.4-1.9 -1.4-1.8 -1.3-1.8 -1.4-1.8 -1.4-1.8 -1.4-1.8 -1.4-1.8 -1.4-1.8 -1.4-1.7 -1.5-1.8 -1.4-1.7 -1.4-1.7 -1.4-1.7 -1.5-1.7 -1.4-1.6 -1.4-1.7 -1.5-1.6 -1.4-1.6 -1.5-1.7 -1.4-1.6 -1.5-1.5 -1.4-1.6 -1.5-1.6 -1.4-1.5 -1.5-1.6 -1.5-1.5 -1.5-1.5 -1.4-1.5 -1.5-1.4 -1.5-1.5 -1.5-1.4 -1.4-1.5 -1.5-1.4 -1.5-1.4 -1.5-1.4 -1.5-1.3 -1.5-1.4 -1.5-1.3 -1.5-1.3 -1.5-1.4 -1.5-1.3 -1.5-1.2 -1.5-1.3 -1.5-1.2 -1.5-1.3 -1.5-1.2 -1.5-1.2 -1.5-1.2 -1.5-1.2 -1.5-1.1 -1.5-1.1 -1.5-1.2 -1.5-1.1 -1.5-1.1 -1.5-1 -1.5-1.1 -1.5-1 -1.5-1.1 -1.5-1 -1.5-1 -1.5-1 -1.5-.9 -1.5-1 -1.5-.9 -1.5-.9 -1.5-.9 -1.5-.9 -1.5-.8 -1.5-.9 -1.5-.8 -1.5-.8 -1.4-.8 -1.5-.8 -1.5-.7 -1.5-.8 -1.5-.7 -1.4-.7 -1.5-.7 -1.5-.7 -1.5-.6 -1.4-.7 -1.5-.6 -1.4-.6 -1.5-.6 -1.4-.5 -1.5-.6 -1.4-.5 -1.5-.5 -1.4-.5 -1.5-.5 -1.4-.4 -1.4-.4 -1.4-.5M380.1 192.4l1.6-.9 1.7-.9 1.6-.9 1.6-.9 1.7-.9 1.6-.9 1.6-1 1.7-.9 1.6-.9 1.6-.9 1.6-.9 1.6-.9 1.6-.9 1.6-.9 1.7-.9 1.6-.9 1.6-1 1.6-.9 1.6-.9 1.5-.9 1.6-.9 1.6-1 1.6-.9 1.6-.9 1.6-.9 1.5-1 1.6-.9 1.6-.9 1.6-1 1.5-.9 1.6-.9 1.6-1 1.5-.9 1.6-.9 1.5-1 1.6-.9 1.5-1 1.6-.9 1.5-.9 1.6-1 1.5-.9 1.6-1 1.5-.9 1.5-1 1.6-1 1.5-.9 1.5-1 1.6-.9 1.5-1 1.5-.9 1.5-1 1.5-1 1.6-.9 1.5-1 1.5-1 1.5-1 1.5-.9 1.5-1 1.5-1 1.5-1 1.5-.9 1.5-1 1.5-1 1.5-1 1.5-1 1.5-1 1.5-1 1.5-1 1.5-.9 1.5-1 1.4-1 1.5-1 1.5-1 1.5-1 1.5-1 1.4-1.1 1.5-1 1.5-1 1.5-1 1.4-1 1.5-1 1.5-1 1.4-1.1 1.5-1 1.5-1 1.4-1 1.5-1.1 1.4-1 1.5-1 1.4-1 1.5-1.1 1.5-1 1.4-1.1 1.5-1 1.4-1 1.4-1.1 1.5-1 1.4-1.1 1.5-1 1.4-1.1M660.1 221.4l-1.3-1.9 -1.3-2 -1.4-1.9 -1.3-1.9 -1.4-1.9 -1.3-1.8 -1.4-1.9 -1.4-1.9 -1.4-1.8 -1.3-1.8 -1.4-1.8 -1.4-1.8 -1.4-1.8 -1.4-1.8 -1.4-1.8 -1.4-1.7 -1.4-1.7 -1.5-1.8 -1.4-1.7 -1.4-1.7 -1.4-1.6 -1.5-1.7 -1.4-1.7 -1.4-1.6 -1.5-1.6 -1.4-1.6 -1.5-1.6 -1.4-1.6 -1.5-1.6 -1.4-1.5 -1.5-1.6 -1.5-1.5 -1.4-1.5 -1.5-1.5 -1.5-1.5 -1.5-1.5 -1.4-1.4 -1.5-1.5 -1.5-1.4 -1.5-1.4 -1.5-1.4 -1.5-1.4 -1.4-1.4 -1.5-1.3 -1.5-1.4 -1.5-1.3 -1.5-1.3 -1.5-1.3 -1.5-1.3 -1.5-1.2 -1.5-1.3 -1.5-1.2 -1.5-1.2 -1.5-1.2 -1.5-1.2 -1.5-1.2 -1.5-1.1 -1.5-1.2 -1.5-1.1 -1.5-1.1 -1.5-1.1 -1.5-1.1 -1.5-1 -1.5-1.1 -1.5-1 -1.6-1 -1.5-1 -1.5-1 -1.5-.9 -1.5-1 -1.5-.9 -1.4-.9 -1.5-.9 -1.5-.9 -1.5-.8 -1.5-.9 -1.5-.8 -1.5-.8 -1.5-.8 -1.5-.8 -1.5-.7 -1.4-.7 -1.5-.8 -1.5-.7 -1.5-.7 -1.4-.6 -1.5-.7 -1.5-.6 -1.4-.6 -1.5-.6 -1.4-.6 -1.5-.6 -1.4-.5 -1.5-.5 -1.4-.5 -1.5-.5 -1.4-.5 -1.5-.4 -1.4-.5 -1.4-.4M378.7 191.5l1.7-.9 1.6-.9 1.6-.8 1.7-.9 1.6-.9 1.6-.9 1.7-.9 1.6-.9 1.6-.9 1.6-1 1.6-.9 1.7-.9 1.6-.9 1.6-.9 1.6-.9 1.6-.9 1.6-.9 1.6-.9 1.6-.9 1.6-1 1.6-.9 1.5-.9 1.6-.9 1.6-.9 1.6-1 1.6-.9 1.5-.9 1.6-.9 1.6-1 1.5-.9 1.6-.9 1.6-1 1.5-.9 1.6-.9 1.5-1 1.6-.9 1.5-.9 1.6-1 1.5-.9 1.6-1 1.5-.9 1.6-1 1.5-.9 1.5-1 1.6-.9 1.5-1 1.5-.9 1.6-1 1.5-.9 1.5-1 1.5-1 1.5-.9 1.6-1 1.5-.9 1.5-1 1.5-1 1.5-1 1.5-.9 1.5-1 1.5-1 1.5-1 1.5-.9 1.5-1 1.5-1 1.5-1 1.5-1 1.5-1 1.5-.9 1.5-1 1.4-1 1.5-1 1.5-1 1.5-1 1.5-1 1.4-1 1.5-1 1.5-1 1.5-1 1.4-1 1.5-1.1 1.5-1 1.4-1 1.5-1 1.5-1 1.4-1 1.5-1.1 1.4-1 1.5-1 1.4-1.1 1.5-1 1.5-1 1.4-1.1 1.5-1 1.4-1 1.5-1.1 1.4-1 1.4-1.1 1.5-1 1.4-1.1 1.5-1M661.5 220.2l-1.3-1.9 -1.3-2 -1.4-1.9 -1.3-1.9 -1.4-1.9 -1.3-1.8 -1.4-1.9 -1.4-1.9 -1.4-1.8 -1.3-1.8 -1.4-1.8 -1.4-1.8 -1.4-1.8 -1.4-1.8 -1.4-1.7 -1.4-1.8 -1.4-1.7 -1.4-1.7 -1.5-1.8 -1.4-1.6 -1.4-1.7 -1.4-1.7 -1.5-1.6 -1.4-1.7 -1.4-1.6 -1.5-1.6 -1.4-1.6 -1.5-1.6 -1.4-1.6 -1.5-1.5 -1.5-1.6 -1.4-1.5 -1.5-1.5 -1.5-1.5 -1.4-1.5 -1.5-1.5 -1.5-1.4 -1.5-1.4 -1.4-1.5 -1.5-1.4 -1.5-1.4 -1.5-1.4 -1.5-1.3 -1.5-1.4 -1.5-1.3 -1.5-1.3 -1.5-1.3 -1.5-1.3 -1.5-1.3 -1.5-1.3 -1.5-1.2 -1.5-1.2 -1.5-1.3 -1.5-1.2 -1.5-1.1 -1.5-1.2 -1.5-1.2 -1.5-1.1 -1.5-1.1 -1.5-1.1 -1.5-1.1 -1.5-1.1 -1.5-1 -1.5-1.1 -1.5-1 -1.5-1 -1.5-1 -1.5-1 -1.5-.9 -1.5-1 -1.5-.9 -1.5-.9 -1.5-.9 -1.5-.9 -1.5-.8 -1.5-.8 -1.5-.9 -1.4-.8 -1.5-.8 -1.5-.7 -1.5-.8 -1.5-.7 -1.5-.7 -1.4-.7 -1.5-.7 -1.5-.7 -1.4-.6 -1.5-.7 -1.5-.6 -1.4-.6 -1.5-.5 -1.4-.6 -1.5-.5 -1.4-.6 -1.5-.5 -1.4-.5 -1.5-.4 -1.4-.5 -1.4-.4 -1.5-.4M377.4 190.7l1.6-.8 1.7-.9 1.6-.9 1.6-.9 1.7-.9 1.6-.9 1.6-.9 1.6-.9 1.7-.9 1.6-.9 1.6-.9 1.6-.9 1.6-.9 1.6-.9 1.6-.9 1.6-.9 1.6-.9 1.6-1 1.6-.9 1.6-.9 1.6-.9 1.6-.9 1.6-.9 1.5-.9 1.6-1 1.6-.9 1.6-.9 1.5-.9 1.6-1 1.6-.9 1.5-.9 1.6-.9 1.6-1 1.5-.9 1.6-.9 1.5-1 1.6-.9 1.5-.9 1.6-1 1.5-.9 1.5-1 1.6-.9 1.5-1 1.5-.9 1.6-1 1.5-.9 1.5-1 1.6-.9 1.5-1 1.5-.9 1.5-1 1.5-.9 1.6-1 1.5-1 1.5-.9 1.5-1 1.5-1 1.5-.9 1.5-1 1.5-1 1.5-.9 1.5-1 1.5-1 1.5-1 1.5-1 1.5-.9 1.5-1 1.5-1 1.4-1 1.5-1 1.5-1 1.5-1 1.5-1 1.4-1 1.5-1 1.5-1 1.5-1 1.4-1 1.5-1 1.5-1 1.4-1 1.5-1 1.5-1 1.4-1.1 1.5-1 1.4-1 1.5-1 1.5-1 1.4-1.1 1.5-1 1.4-1 1.5-1.1 1.4-1 1.5-1 1.4-1.1 1.5-1 1.4-1.1 1.4-1 1.5-1 1.4-1.1M662.9 219l-1.3-1.9 -1.4-2 -1.3-1.9 -1.3-1.9 -1.4-1.9 -1.4-1.8 -1.3-1.9 -1.4-1.9 -1.4-1.8 -1.3-1.8 -1.4-1.8 -1.4-1.8 -1.4-1.8 -1.4-1.8 -1.4-1.7 -1.4-1.8 -1.4-1.7 -1.4-1.7 -1.4-1.7 -1.5-1.7 -1.4-1.7 -1.4-1.7 -1.4-1.6 -1.5-1.7 -1.4-1.6 -1.5-1.6 -1.4-1.6 -1.5-1.6 -1.4-1.5 -1.5-1.6 -1.4-1.5 -1.5-1.6 -1.5-1.5 -1.4-1.5 -1.5-1.5 -1.5-1.4 -1.4-1.5 -1.5-1.4 -1.5-1.4 -1.5-1.4 -1.5-1.4 -1.5-1.4 -1.4-1.4 -1.5-1.3 -1.5-1.4 -1.5-1.3 -1.5-1.3 -1.5-1.3 -1.5-1.3 -1.5-1.2 -1.5-1.3 -1.5-1.2 -1.5-1.2 -1.5-1.2 -1.5-1.2 -1.5-1.1 -1.5-1.2 -1.5-1.1 -1.5-1.1 -1.5-1.1 -1.5-1.1 -1.5-1.1 -1.5-1 -1.5-1.1 -1.5-1 -1.5-1 -1.5-1 -1.5-1 -1.5-.9 -1.5-1 -1.5-.9 -1.5-.9 -1.5-.9 -1.5-.8 -1.5-.9 -1.5-.8 -1.5-.9 -1.5-.8 -1.5-.7 -1.5-.8 -1.4-.8 -1.5-.7 -1.5-.7 -1.5-.7 -1.4-.7 -1.5-.6 -1.5-.7 -1.5-.6 -1.4-.6 -1.5-.6 -1.4-.6 -1.5-.6 -1.5-.5 -1.4-.5 -1.4-.5 -1.5-.5 -1.4-.5 -1.5-.4 -1.4-.4 -1.4-.4M376 190l1.7-.9 1.6-.9 1.6-.9 1.7-.9 1.6-.9 1.6-.9 1.7-.9 1.6-.9 1.6-.9 1.6-.9 1.6-.9 1.6-.9 1.7-.9 1.6-.9 1.6-.9 1.6-.9 1.6-.9 1.6-.9 1.5-.9 1.6-.9 1.6-.9 1.6-.9 1.6-.9 1.6-.9 1.5-1 1.6-.9 1.6-.9 1.6-.9 1.5-.9 1.6-1 1.6-.9 1.5-.9 1.6-.9 1.5-1 1.6-.9 1.5-.9 1.6-1 1.5-.9 1.6-.9 1.5-1 1.6-.9 1.5-.9 1.5-1 1.6-.9 1.5-1 1.5-.9 1.5-1 1.6-.9 1.5-1 1.5-.9 1.5-1 1.5-.9 1.6-1 1.5-1 1.5-.9 1.5-1 1.5-.9 1.5-1 1.5-1 1.5-.9 1.5-1 1.5-1 1.5-1 1.5-.9 1.5-1 1.5-1 1.5-1 1.4-1 1.5-1 1.5-.9 1.5-1 1.5-1 1.4-1 1.5-1 1.5-1 1.5-1 1.4-1 1.5-1 1.5-1 1.4-1 1.5-1 1.5-1 1.4-1.1 1.5-1 1.5-1 1.4-1 1.5-1 1.4-1 1.5-1.1 1.4-1 1.5-1 1.4-1.1 1.5-1 1.4-1 1.5-1.1 1.4-1 1.5-1 1.4-1.1 1.4-1 1.5-1.1M664.3 217.8l-1.3-1.9 -1.4-2 -1.3-1.9 -1.4-1.9 -1.3-1.9 -1.4-1.8 -1.3-1.9 -1.4-1.8 -1.4-1.9 -1.3-1.8 -1.4-1.8 -1.4-1.8 -1.4-1.8 -1.4-1.8 -1.4-1.7 -1.4-1.8 -1.4-1.7 -1.4-1.7 -1.4-1.7 -1.4-1.7 -1.5-1.7 -1.4-1.7 -1.4-1.6 -1.5-1.6 -1.4-1.7 -1.4-1.6 -1.5-1.6 -1.4-1.6 -1.5-1.5 -1.4-1.6 -1.5-1.5 -1.5-1.5 -1.4-1.5 -1.5-1.5 -1.5-1.5 -1.4-1.5 -1.5-1.4 -1.5-1.5 -1.5-1.4 -1.4-1.4 -1.5-1.4 -1.5-1.4 -1.5-1.3 -1.5-1.4 -1.5-1.3 -1.5-1.3 -1.5-1.3 -1.4-1.3 -1.5-1.3 -1.5-1.3 -1.5-1.2 -1.5-1.2 -1.5-1.2 -1.5-1.2 -1.5-1.2 -1.5-1.2 -1.5-1.1 -1.5-1.1 -1.5-1.2 -1.6-1.1 -1.5-1 -1.5-1.1 -1.5-1.1 -1.5-1 -1.5-1 -1.5-1 -1.5-1 -1.5-1 -1.5-.9 -1.5-1 -1.5-.9 -1.5-.9 -1.5-.9 -1.5-.8 -1.5-.9 -1.4-.8 -1.5-.8 -1.5-.8 -1.5-.8 -1.5-.8 -1.5-.7 -1.5-.8 -1.4-.7 -1.5-.7 -1.5-.7 -1.5-.6 -1.4-.7 -1.5-.6 -1.5-.6 -1.4-.6 -1.5-.6 -1.5-.5 -1.4-.5 -1.5-.6 -1.4-.5 -1.4-.4 -1.5-.5 -1.4-.4 -1.5-.5 -1.4-.4M374.7 189.2l1.6-.9 1.7-.9 1.6-.8 1.6-.9 1.7-.9 1.6-.9 1.6-.9 1.6-.9 1.7-.9 1.6-.9 1.6-.9 1.6-.9 1.6-.9 1.6-.9 1.6-.9 1.6-.9 1.6-.9 1.6-.9 1.6-.9 1.6-.9 1.6-.9 1.5-.9 1.6-.9 1.6-.9 1.6-.9 1.6-.9 1.5-1 1.6-.9 1.6-.9 1.5-.9 1.6-.9 1.5-1 1.6-.9 1.6-.9 1.5-.9 1.6-1 1.5-.9 1.6-.9 1.5-.9 1.5-1 1.6-.9 1.5-1 1.5-.9 1.6-.9 1.5-1 1.5-.9 1.6-1 1.5-.9 1.5-1 1.5-.9 1.5-1 1.6-.9 1.5-1 1.5-.9 1.5-1 1.5-.9 1.5-1 1.5-1 1.5-.9 1.5-1 1.5-1 1.5-.9 1.5-1 1.5-1 1.5-1 1.5-.9 1.4-1 1.5-1 1.5-1 1.5-1 1.5-1 1.5-1 1.4-.9 1.5-1 1.5-1 1.5-1 1.4-1 1.5-1 1.5-1 1.4-1 1.5-1 1.4-1 1.5-1.1 1.5-1 1.4-1 1.5-1 1.4-1 1.5-1 1.4-1.1 1.5-1 1.4-1 1.5-1 1.4-1.1 1.5-1 1.4-1 1.5-1.1 1.4-1 1.5-1 1.4-1.1 1.4-1M665.7 216.6l-1.4-1.9 -1.3-2 -1.3-1.9 -1.4-1.9 -1.3-1.9 -1.4-1.8 -1.3-1.9 -1.4-1.8 -1.4-1.9 -1.3-1.8 -1.4-1.8 -1.4-1.8 -1.4-1.8 -1.4-1.8 -1.4-1.7 -1.4-1.8 -1.4-1.7 -1.4-1.7 -1.4-1.7 -1.4-1.7 -1.4-1.7 -1.5-1.6 -1.4-1.7 -1.4-1.6 -1.5-1.6 -1.4-1.7 -1.4-1.6 -1.5-1.5 -1.4-1.6 -1.5-1.5 -1.5-1.6 -1.4-1.5 -1.5-1.5 -1.4-1.5 -1.5-1.5 -1.5-1.5 -1.5-1.4 -1.4-1.4 -1.5-1.5 -1.5-1.4 -1.5-1.4 -1.5-1.3 -1.4-1.4 -1.5-1.3 -1.5-1.4 -1.5-1.3 -1.5-1.3 -1.5-1.3 -1.5-1.2 -1.5-1.3 -1.5-1.2 -1.5-1.3 -1.5-1.2 -1.5-1.2 -1.5-1.1 -1.5-1.2 -1.5-1.1 -1.5-1.2 -1.5-1.1 -1.5-1.1 -1.5-1.1 -1.5-1 -1.5-1.1 -1.5-1 -1.5-1 -1.5-1 -1.5-1 -1.5-1 -1.5-.9 -1.5-1 -1.5-.9 -1.5-.9 -1.5-.9 -1.5-.8 -1.5-.9 -1.5-.8 -1.5-.8 -1.5-.8 -1.5-.8 -1.4-.8 -1.5-.7 -1.5-.7 -1.5-.8 -1.5-.6 -1.4-.7 -1.5-.7 -1.5-.6 -1.5-.6 -1.4-.6 -1.5-.6 -1.4-.6 -1.5-.6 -1.5-.5 -1.4-.5 -1.5-.5 -1.4-.5 -1.4-.4 -1.5-.5 -1.4-.4 -1.5-.4M373.4 188.5l1.6-.9 1.6-.9 1.7-.9 1.6-.9 1.6-.8 1.7-.9 1.6-.9 1.6-.9 1.6-.9 1.6-.9 1.6-.9 1.7-.9 1.6-.9 1.6-.8 1.6-.9 1.6-.9 1.6-.9 1.6-.9 1.5-.9 1.6-.9 1.6-.9 1.6-1 1.6-.9 1.6-.9 1.5-.9 1.6-.9 1.6-.9 1.5-.9 1.6-.9 1.6-.9 1.5-1 1.6-.9 1.5-.9 1.6-.9 1.5-.9 1.6-1 1.5-.9 1.6-.9 1.5-1 1.6-.9 1.5-.9 1.5-1 1.6-.9 1.5-.9 1.5-1 1.6-.9 1.5-.9 1.5-1 1.5-.9 1.5-1 1.6-.9 1.5-1 1.5-.9 1.5-1 1.5-.9 1.5-1 1.5-1 1.5-.9 1.5-1 1.5-.9 1.5-1 1.5-1 1.5-1 1.5-.9 1.5-1 1.5-1 1.4-.9 1.5-1 1.5-1 1.5-1 1.5-1 1.4-1 1.5-.9 1.5-1 1.5-1 1.4-1 1.5-1 1.5-1 1.4-1 1.5-1 1.5-1 1.4-1 1.5-1 1.4-1 1.5-1 1.5-1.1 1.4-1 1.5-1 1.4-1 1.5-1 1.4-1.1 1.5-1 1.4-1 1.4-1 1.5-1.1 1.4-1 1.5-1 1.4-1.1 1.5-1 1.4-1.1M667 215.4l-1.3-1.9 -1.3-2 -1.4-1.9 -1.3-1.9 -1.3-1.9 -1.4-1.8 -1.3-1.9 -1.4-1.8 -1.4-1.9 -1.3-1.8 -1.4-1.8 -1.4-1.8 -1.4-1.8 -1.4-1.8 -1.4-1.7 -1.4-1.8 -1.4-1.7 -1.4-1.7 -1.4-1.7 -1.4-1.7 -1.4-1.7 -1.4-1.6 -1.5-1.7 -1.4-1.6 -1.4-1.6 -1.5-1.6 -1.4-1.6 -1.5-1.6 -1.4-1.6 -1.5-1.5 -1.4-1.6 -1.5-1.5 -1.4-1.5 -1.5-1.5 -1.5-1.5 -1.4-1.4 -1.5-1.5 -1.5-1.4 -1.5-1.4 -1.4-1.4 -1.5-1.4 -1.5-1.4 -1.5-1.4 -1.5-1.3 -1.5-1.3 -1.5-1.3 -1.5-1.3 -1.4-1.3 -1.5-1.3 -1.5-1.2 -1.5-1.3 -1.5-1.2 -1.5-1.2 -1.5-1.2 -1.5-1.2 -1.5-1.1 -1.5-1.2 -1.5-1.1 -1.5-1.1 -1.5-1.1 -1.5-1.1 -1.5-1.1 -1.5-1 -1.5-1 -1.6-1 -1.5-1 -1.5-1 -1.5-1 -1.5-.9 -1.5-1 -1.5-.9 -1.5-.9 -1.4-.9 -1.5-.8 -1.5-.9 -1.5-.8 -1.5-.8 -1.5-.8 -1.5-.8 -1.5-.7 -1.5-.8 -1.5-.7 -1.4-.7 -1.5-.7 -1.5-.7 -1.5-.6 -1.4-.7 -1.5-.6 -1.5-.6 -1.4-.6 -1.5-.6 -1.5-.5 -1.4-.5 -1.5-.6 -1.4-.4 -1.5-.5 -1.4-.5 -1.4-.4 -1.5-.4 -1.4-.4M372 187.7l1.7-.8 1.6-.9 1.6-.9 1.7-.9 1.6-.8 1.6-.9 1.7-.9 1.6-.9 1.6-.9 1.6-.9 1.6-.9 1.6-.8 1.6-.9 1.6-.9 1.6-.9 1.6-.9 1.6-.9 1.6-.9 1.6-.9 1.6-.9 1.6-.9 1.6-.9 1.5-.9 1.6-.9 1.6-.9 1.6-.9 1.5-.9 1.6-.9 1.6-.9 1.5-1 1.6-.9 1.5-.9 1.6-.9 1.5-.9 1.6-.9 1.5-1 1.6-.9 1.5-.9 1.6-.9 1.5-1 1.5-.9 1.6-.9 1.5-1 1.5-.9 1.6-.9 1.5-1 1.5-.9 1.5-.9 1.5-1 1.6-.9 1.5-1 1.5-.9 1.5-1 1.5-.9 1.5-1 1.5-.9 1.5-1 1.5-.9 1.5-1 1.5-1 1.5-.9 1.5-1 1.5-1 1.5-.9 1.5-1 1.5-1 1.4-.9 1.5-1 1.5-1 1.5-1 1.5-1 1.4-.9 1.5-1 1.5-1 1.5-1 1.4-1 1.5-1 1.5-1 1.4-1 1.5-1 1.5-1 1.4-1 1.5-1 1.4-1 1.5-1 1.4-1 1.5-1 1.4-1 1.5-1.1 1.4-1 1.5-1 1.4-1 1.5-1 1.4-1.1 1.5-1 1.4-1 1.4-1.1 1.5-1 1.4-1 1.5-1.1M668.4 214.2l-1.3-1.9 -1.3-2 -1.4-1.9 -1.3-1.9 -1.3-1.9 -1.4-1.8 -1.3-1.9 -1.4-1.8 -1.4-1.9 -1.3-1.8 -1.4-1.8 -1.4-1.8 -1.4-1.8 -1.4-1.8 -1.4-1.7 -1.3-1.8 -1.4-1.7 -1.5-1.7 -1.4-1.7 -1.4-1.7 -1.4-1.7 -1.4-1.6 -1.4-1.7 -1.5-1.6 -1.4-1.6 -1.5-1.6 -1.4-1.6 -1.4-1.6 -1.5-1.6 -1.4-1.5 -1.5-1.5 -1.4-1.6 -1.5-1.5 -1.5-1.5 -1.4-1.4 -1.5-1.5 -1.5-1.4 -1.4-1.5 -1.5-1.4 -1.5-1.4 -1.5-1.4 -1.5-1.4 -1.4-1.3 -1.5-1.4 -1.5-1.3 -1.5-1.3 -1.5-1.3 -1.5-1.3 -1.5-1.2 -1.5-1.3 -1.5-1.2 -1.5-1.2 -1.5-1.2 -1.5-1.2 -1.5-1.2 -1.5-1.2 -1.5-1.1 -1.5-1.1 -1.5-1.1 -1.5-1.1 -1.5-1.1 -1.5-1.1 -1.5-1 -1.5-1 -1.5-1.1 -1.5-1 -1.5-.9 -1.5-1 -1.5-.9 -1.5-1 -1.5-.9 -1.5-.9 -1.5-.9 -1.5-.8 -1.5-.9 -1.5-.8 -1.5-.8 -1.5-.8 -1.4-.8 -1.5-.7 -1.5-.8 -1.5-.7 -1.5-.7 -1.5-.7 -1.4-.7 -1.5-.6 -1.5-.7 -1.5-.6 -1.4-.6 -1.5-.6 -1.5-.5 -1.4-.6 -1.5-.5 -1.4-.5 -1.5-.5 -1.4-.5 -1.5-.4 -1.4-.5 -1.4-.4 -1.5-.4M370.7 187l1.7-.8 1.6-.9 1.6-.9 1.7-.9 1.6-.8 1.6-.9 1.6-.9 1.6-.9 1.7-.9 1.6-.8 1.6-.9 1.6-.9 1.6-.9 1.6-.9 1.6-.9 1.6-.9 1.6-.8 1.6-.9 1.6-.9 1.6-.9 1.5-.9 1.6-.9 1.6-.9 1.6-.9 1.5-.9 1.6-.9 1.6-.9 1.5-.9 1.6-.9 1.6-1 1.5-.9 1.6-.9 1.5-.9 1.6-.9 1.5-.9 1.6-.9 1.5-1 1.6-.9 1.5-.9 1.5-.9 1.6-1 1.5-.9 1.5-.9 1.6-.9 1.5-1 1.5-.9 1.5-.9 1.6-1 1.5-.9 1.5-1 1.5-.9 1.5-1 1.5-.9 1.5-.9 1.5-1 1.5-1 1.5-.9 1.5-1 1.5-.9 1.5-1 1.5-.9 1.5-1 1.5-1 1.5-.9 1.5-1 1.5-1 1.5-.9 1.4-1 1.5-1 1.5-1 1.5-.9 1.4-1 1.5-1 1.5-1 1.5-1 1.4-1 1.5-.9 1.5-1 1.4-1 1.5-1 1.4-1 1.5-1 1.5-1 1.4-1 1.5-1 1.4-1 1.5-1.1 1.4-1 1.5-1 1.4-1 1.5-1 1.4-1 1.5-1.1 1.4-1 1.4-1 1.5-1 1.4-1.1 1.4-1 1.5-1 1.4-1.1" fill="none" stroke="#000" stroke-width="0.55" stroke-opacity="0.82"/>
<circle cx="370.9" cy="188.9" r="2.6" fill="#ee9090" stroke="#a04040" stroke-width="0.6"/>
<circle cx="451" cy="138.4" r="2.8" fill="#d40000" stroke="#7a0000" stroke-width="0.8"/>
<circle cx="440.5" cy="240.2" r="2.7" fill="#d40000" stroke="#7a0000" stroke-width="0.8"/>
<circle cx="522.5" cy="334.6" r="2.9" fill="#d40000" stroke="#7a0000" stroke-width="0.8"/>
<circle cx="668.9" cy="212.3" r="3" fill="#fff" stroke="#7a0000" stroke-width="1.6"/>
<text x="344" y="148" font-size="12.5" fill="#222" text-anchor="start" font-family="Liberation Sans, Arial, sans-serif" textLength="12.2" lengthAdjust="spacingAndGlyphs" >65</text>
<text x="348" y="164.5" font-size="12.5" fill="#222" text-anchor="start" font-family="Liberation Sans, Arial, sans-serif" textLength="12.2" lengthAdjust="spacingAndGlyphs" >60</text>
<text x="352.2" y="181.3" font-size="12.5" fill="#222" text-anchor="start" font-family="Liberation Sans, Arial, sans-serif" textLength="12.2" lengthAdjust="spacingAndGlyphs" >55</text>
<text x="355.6" y="198" font-size="12.5" fill="#222" text-anchor="start" font-family="Liberation Sans, Arial, sans-serif" textLength="12.2" lengthAdjust="spacingAndGlyphs" >50</text>
<text x="359.3" y="214.7" font-size="12.5" fill="#222" text-anchor="start" font-family="Liberation Sans, Arial, sans-serif" textLength="12.2" lengthAdjust="spacingAndGlyphs" >45</text>
<text x="363.2" y="231.4" font-size="12.5" fill="#222" text-anchor="start" font-family="Liberation Sans, Arial, sans-serif" textLength="12.2" lengthAdjust="spacingAndGlyphs" >40</text>
<text x="369.4" y="268.75" font-size="12.9" fill="#2a2a2a" text-anchor="start" font-family="Liberation Sans, Arial, sans-serif" textLength="10.8" lengthAdjust="spacingAndGlyphs" >15</text>
<text x="397.6" y="298.25" font-size="12.9" fill="#2a2a2a" text-anchor="start" font-family="Liberation Sans, Arial, sans-serif" textLength="10.8" lengthAdjust="spacingAndGlyphs" >13</text>
<text x="424" y="327.34999999999997" font-size="12.9" fill="#2a2a2a" text-anchor="start" font-family="Liberation Sans, Arial, sans-serif" textLength="10.8" lengthAdjust="spacingAndGlyphs" >11</text>
<text x="456.8" y="355.95" font-size="12.9" fill="#2a2a2a" text-anchor="start" font-family="Liberation Sans, Arial, sans-serif" textLength="5.6" lengthAdjust="spacingAndGlyphs" >9</text>
<text x="483" y="384.15" font-size="12.9" fill="#2a2a2a" text-anchor="start" font-family="Liberation Sans, Arial, sans-serif" textLength="5.6" lengthAdjust="spacingAndGlyphs" >7</text>
<text x="511" y="413.65" font-size="12.9" fill="#2a2a2a" text-anchor="start" font-family="Liberation Sans, Arial, sans-serif" textLength="5.6" lengthAdjust="spacingAndGlyphs" >5</text>
<text x="664.3" y="269.65" font-size="12.9" fill="#2a2a2a" text-anchor="start" font-family="Liberation Sans, Arial, sans-serif" textLength="20.5" lengthAdjust="spacingAndGlyphs" >0.08</text>
<text x="636.5" y="298.25" font-size="12.9" fill="#2a2a2a" text-anchor="start" font-family="Liberation Sans, Arial, sans-serif" textLength="27.3" lengthAdjust="spacingAndGlyphs" >0.074</text>
<text x="609" y="327.34999999999997" font-size="12.9" fill="#2a2a2a" text-anchor="start" font-family="Liberation Sans, Arial, sans-serif" textLength="27.3" lengthAdjust="spacingAndGlyphs" >0.068</text>
<text x="582.2" y="355.95" font-size="12.9" fill="#2a2a2a" text-anchor="start" font-family="Liberation Sans, Arial, sans-serif" textLength="27.3" lengthAdjust="spacingAndGlyphs" >0.062</text>
<text x="555.5" y="384.15" font-size="12.9" fill="#2a2a2a" text-anchor="start" font-family="Liberation Sans, Arial, sans-serif" textLength="27.3" lengthAdjust="spacingAndGlyphs" >0.056</text>
<text x="528.6" y="413.65" font-size="12.9" fill="#2a2a2a" text-anchor="start" font-family="Liberation Sans, Arial, sans-serif" textLength="20.5" lengthAdjust="spacingAndGlyphs" >0.05</text>
<text x="379.2" y="386.3" font-size="14" fill="#222" text-anchor="start" font-family="Liberation Sans, Arial, sans-serif" textLength="60.3" lengthAdjust="spacingAndGlyphs" >B: FA (%)</text>
<text x="603.3" y="386.3" font-size="14" fill="#222" text-anchor="start" font-family="Liberation Sans, Arial, sans-serif" textLength="65.4" lengthAdjust="spacingAndGlyphs" >A: GO (%)</text>
<text transform="translate(331.6,207.6) rotate(-90)" font-size="13.6" fill="#222" text-anchor="middle" font-family="Liberation Sans, Arial, sans-serif" textLength="65.5" lengthAdjust="spacingAndGlyphs">CS (MPa)</text>
<text x="525.2" y="433.3" font-size="16.2" fill="#111" text-anchor="middle" font-family="Liberation Serif, Times New Roman, serif" font-weight="bold" >(b)</text>
</svg>
</body></html>
